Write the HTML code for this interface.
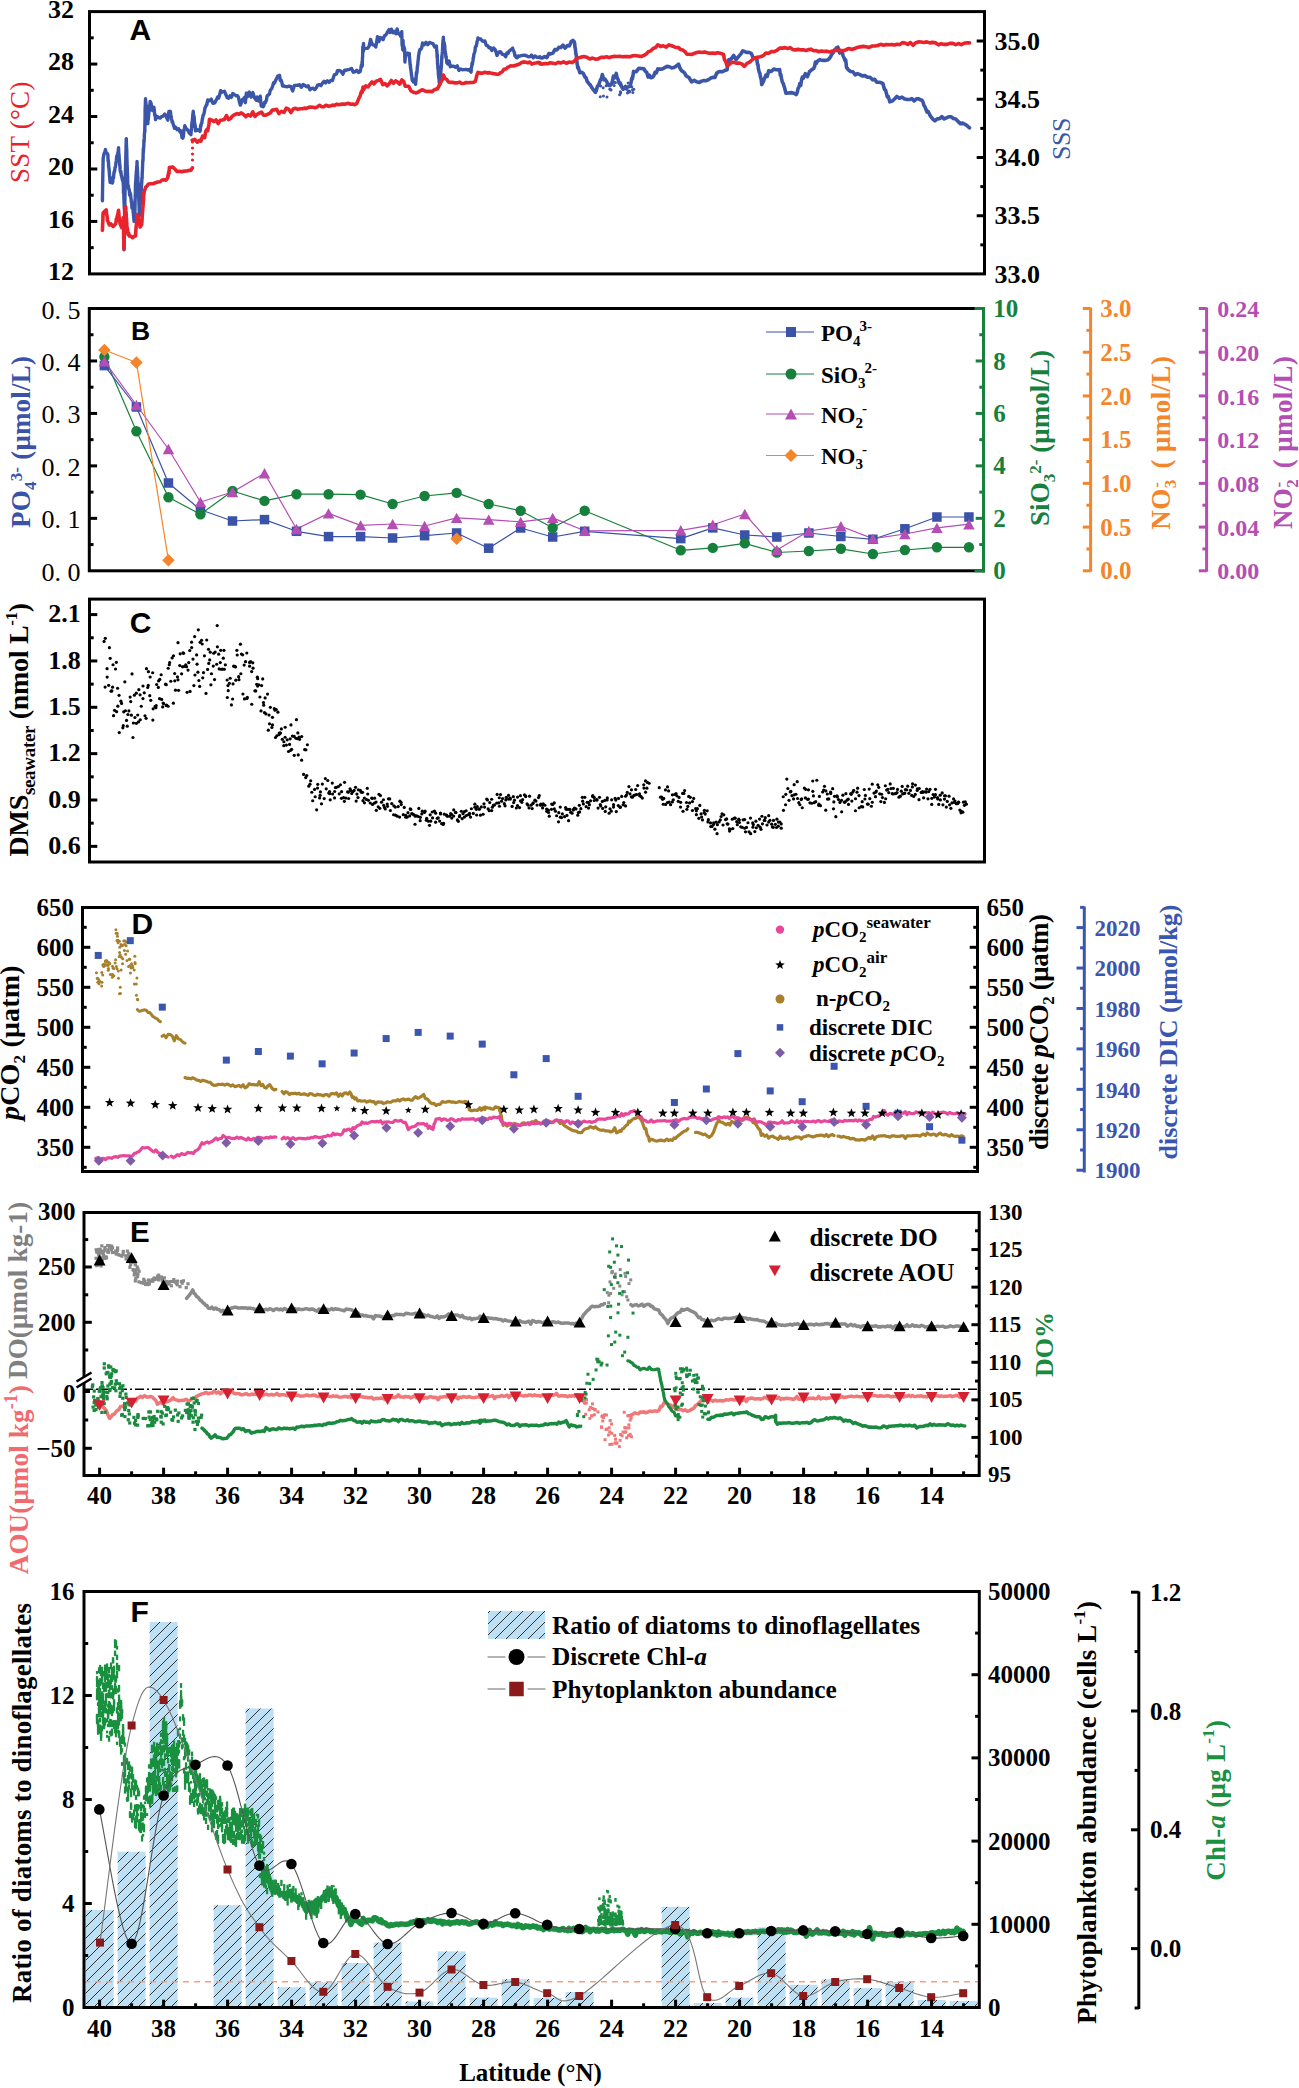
<!DOCTYPE html>
<html><head><meta charset="utf-8"><style>
html,body{margin:0;padding:0;background:#fff;}
svg{display:block;}
</style></head><body>
<svg width="1299" height="2088" viewBox="0 0 1299 2088">
<rect width="1299" height="2088" fill="#fff"/>
<polyline points="102.39,199.87 102.42,196.6 102.45,200.73 102.48,195.65 102.5,193.16 102.53,191.74 102.56,190.41 102.59,187.48 102.62,186.34 102.65,185.03 102.68,182.3 102.71,181.31 102.74,179.62 102.77,178.29 102.8,175.54 102.83,174.68 102.86,173.83 102.89,170.75 102.92,170.32 102.95,169.34 102.98,166.59 103.01,166.56 103.04,163.34 103.07,161.75 103.1,158.96 103.13,160.85 103.16,158.29 103.62,156.16 104.08,153.42 104.54,153.29 105,151.33 105.47,149.55 106.04,152.52 106.62,153.13 107.2,153.46 107.78,154.42 107.92,155.64 108.06,160.92 108.21,159.64 108.35,162.08 108.5,161.72 108.64,166.79 108.79,166.23 108.93,169.11 109.07,168.59 109.22,171.33 109.36,172.92 109.51,175.68 109.65,176.68 109.8,178.26 109.94,179.92 110.08,182.28 112.39,182.98 112.68,182 112.97,178.74 113.26,176.53 113.55,177.88 113.84,174.06 114.13,171.83 114.41,171.87 114.7,170.54 115.02,167.58 115.35,167.16 115.67,165.21 115.99,162.37 116.31,160.75 116.63,157.53 116.95,155.63 117.27,156.97 117.59,155.19 117.91,152.45 118.23,151.58 118.55,147.67 118.68,151.24 118.81,153.68 118.94,154.04 119.07,156.06 119.19,156.76 119.32,160.1 119.45,159.92 119.58,162.92 119.71,165.71 119.84,164.56 119.96,166.43 120.09,169.44 120.48,172.4 120.86,171.43 121.25,175.22 121.63,176.35 122.15,178.72 122.66,180.77 123.17,180.03 123.24,183.74 123.32,185.15 123.39,183.34 123.46,192.68 123.54,191.14 123.61,192.18 123.68,192.97 123.76,193.33 123.83,195.22 123.9,199.52 123.98,197.25 124.05,202.58 124.12,203.09 124.2,204.71 124.27,207.12 124.34,209.12 124.42,208.28 124.49,208.73 124.56,213.4 124.64,213.46 124.71,215.75 124.68,217.97 124.64,218.04 124.61,219.94 124.57,222.86 124.54,223.05 124.5,226.16 124.47,226.17 124.43,231.22 124.4,229.77 124.36,231.75 124.33,232.64 124.29,235.15 124.26,236.75 124.22,236.19 124.19,237.8 124.15,241.49 124.12,241.62 124.08,245.54 124.05,245.51 124.01,246.06 123.98,249.22 123.94,248.37 123.97,249.72 124,248.56 124.03,245.86 124.06,244.88 124.09,242.46 124.12,246.23 124.15,240.12 124.18,239.15 124.21,238 124.24,237.1 124.27,231.43 124.3,230.74 124.33,230.92 124.36,229.18 124.39,227.95 124.42,225.68 124.45,227.43 124.48,223.14 124.52,220.67 124.55,221.9 124.58,218.62 124.61,214.36 124.64,214.69 124.67,210.42 124.7,212.1 124.73,210.82 124.76,209.75 124.79,206.48 124.82,204.76 124.85,205.29 124.88,202.5 124.91,198.82 124.94,199.25 124.97,194.19 125,194.14 125.03,192.56 125.06,191.62 125.09,190.86 125.12,188.79 125.15,187.02 125.18,184.45 125.21,183.64 125.24,179.28 125.27,180.59 125.3,180.16 125.33,176.6 125.36,174.61 125.39,173.89 125.42,173.28 125.45,172.27 125.48,168.16 125.52,172.54 125.56,170.36 125.6,164.07 125.64,162.09 125.68,160.63 125.72,159.8 125.76,160.88 125.81,155.69 125.85,155.7 125.89,154.29 125.93,151.24 125.97,151.49 126.01,150 126.05,147.77 126.09,144.32 126.13,144 126.17,143.89 126.21,139.62 126.25,138.88 126.31,138.77 126.36,140.97 126.42,143.55 126.47,145.96 126.53,145.26 126.58,148.07 126.64,148.87 126.69,148.59 126.75,157.41 126.8,150.7 126.86,157.56 126.91,158.27 126.97,160.02 127.02,160.3 127.08,165.3 127.13,165.73 127.19,167 127.24,168.07 127.3,166.92 127.35,169.91 127.41,173.43 127.46,174.58 127.52,176.16 127.57,178.12 127.63,175.93 127.68,181.95 127.74,183.02 127.79,184.53 128.25,185.43 128.71,189.22 129.18,189.32 129.64,195 130.1,192.61 130.36,194.8 130.61,194.61 130.87,198.15 131.13,199.13 131.38,202.31 131.64,201.6 131.9,207.91 132.15,206.16 132.41,207.69 132.74,208.48 133.07,210.89 133.4,213.98 133.73,217.58 134.06,221.38 134.39,217.53 134.72,219.62 134.75,219.05 134.79,217.1 134.82,216.11 134.86,213.4 134.89,212.51 134.93,211.5 134.96,209.49 135,205.86 135.03,206.82 135.07,203.54 135.1,200.22 135.14,200.14 135.17,199.08 135.21,198.46 135.24,195.35 135.28,194.87 135.31,197.16 135.35,192.28 135.38,188.66 135.42,189.59 135.45,186.39 135.49,185.44 135.61,181.74 135.73,185.45 135.84,179.76 135.96,177.37 136.08,175.03 136.2,174.83 136.32,171.24 136.44,171.14 136.55,170.7 136.67,167.52 136.79,165.75 136.91,166.73 137.03,161.54 137.11,165.67 137.2,166.02 137.29,168.11 137.37,168.49 137.46,171.11 137.54,173.06 137.63,175.2 137.71,176.98 137.8,176.31 137.88,179.16 137.97,182.05 138.05,182.13 138.14,183.59 138.23,184.84 138.31,183.74 138.4,194.44 138.48,192.3 138.57,191.6 138.62,196.03 138.68,195.5 138.73,197.33 138.79,199.73 138.84,200.95 138.9,203.04 138.95,204.39 139.01,203.96 139.06,207.38 139.12,208.85 139.17,210.68 139.23,213.42 139.28,214.43 139.34,215.98 139.42,214.99 139.51,213.32 139.59,211.39 139.68,201.61 139.77,202.33 139.85,208.31 139.94,203.85 140.02,199.34 140.11,200.65 140.28,204.48 140.45,196.02 140.62,192.12 140.79,193.5 140.96,193.62 141.13,191.88 141.31,189.07 141.48,186.41 141.65,183.6 141.73,182.83 141.81,179.98 141.89,180.14 141.97,177.39 142.05,177.26 142.13,178.16 142.21,173.69 142.3,172.11 142.38,170.08 142.46,169.37 142.54,166.51 142.62,164.79 142.7,161.19 142.78,160.21 142.86,160.85 142.94,159.06 143.02,160.96 143.11,155.8 143.19,152.48 143.3,148.51 143.41,152.13 143.52,147.68 143.63,148.24 143.74,146.33 143.85,143.22 143.96,139.53 144.07,142.33 144.18,139.94 144.29,138.38 144.4,133.98 144.51,133.71 144.62,132.28 144.73,131.73 144.77,129.18 144.8,128.82 144.84,125.55 144.88,131.73 144.92,121.99 144.96,121.13 145,120.06 145.03,117.91 145.07,119.57 145.11,107.93 145.15,111.55 145.19,113.06 145.23,110.31 145.27,105.62 145.3,106.06 145.34,104.48 145.38,103.63 145.42,102.58 145.46,100.2 145.5,98.7 145.65,100.56 145.8,102.7 145.96,103.08 146.11,104.99 146.27,105.26 146.42,107.9 146.57,109.65 146.73,110.61 146.88,114.23 147.04,114.68 147.19,114.7 147.34,119.35 147.5,120.47 147.65,120.51 147.81,123.65 147.98,120.5 148.16,119.95 148.34,118.36 148.52,116.94 148.69,114.63 148.87,112.61 149.05,111.55 149.23,110.38 149.4,108.01 149.58,107.3 149.76,104.78 149.94,105.87 150.12,101.42 150.58,102.59 151.04,103.17 151.5,106.06 151.96,107.96 152.42,110.56 153.19,109.19 153.96,107.38 154.22,110.06 154.48,112.17 154.73,115.3 154.99,114.48 155.25,115.91 155.5,119.67 157.04,116.49 158.58,117.53 160.12,118.11 161.66,116.54 163.2,116.07 164.74,114.03 166.28,116.74 167.82,120.15 168.4,114.44 168.98,111.38 169.55,112.86 170.13,114.69 170.46,111.32 170.79,114.78 171.12,116.2 171.45,118.34 171.78,120.02 172.11,122.14 172.44,121.36 173.47,125.09 174.49,128.3 175.52,127.11 177.06,129.66 178.6,128.74 180.14,132.17 180.6,130.57 181.06,132.49 181.52,133.59 181.99,137.61 182.45,137.17 182.83,138.13 183.22,137.05 183.6,133.83 183.99,129.72 184.37,129.36 184.76,125.68 186.3,128.85 187.84,130.12 189.38,133.15 190.92,134.64 191.08,132.69 191.25,130.27 191.41,130.27 191.58,129.08 191.74,123.86 191.91,124.04 192.07,121.62 192.24,121.75 192.4,119.62 192.57,117.53 192.73,115.81 192.9,113.66 193.06,113.12 193.23,111.29 193.42,114 193.61,114.95 193.8,115.54 194,116.09 194.19,117.49 194.38,120.85 194.57,122.7 194.77,123.26 194.96,127.15 195.15,127.45 195.34,125.75 195.54,130.9 197.77,129.68 200,131.34 200.21,130.66 200.43,127.86 200.64,125.33 200.85,126.52 201.32,123.39 201.78,123.2 202.24,119.55 202.7,117.79 203.16,115.03 203.62,114.65 204.09,113.31 204.55,110.67 205.01,107.77 205.47,107.04 205.93,106.14 206.4,104.77 206.86,104.87 207.32,101.83 207.78,99.94 209.51,100.83 211.25,99.16 212.98,103.38 214.71,102.86 215.7,100.9 216.69,99.33 217.68,97.01 218.67,97.99 219.66,94.48 220.65,90.73 221.64,92.35 223.02,91.59 224.41,91.31 225.8,94.46 227.18,97.69 228.57,98.2 229.95,95.85 231.34,97.34 232.72,93.5 234.11,94.48 235.49,95.35 236.48,95.89 237.47,95.67 238.46,97.11 239.45,102.22 240.44,105.12 241.43,102.63 242.42,99.39 243.41,99.68 244.4,97.44 245.39,102.68 246.38,93.07 247.37,96.75 248.36,93.36 249.35,92.07 251.08,97.12 252.82,92.6 254.55,97.85 256.28,100.29 257.27,97.02 258.26,100.87 259.25,101.17 260.24,96.17 261.23,106.08 262.22,106.25 263.21,106.69 263.84,105.56 264.47,102.58 265.1,103.05 265.73,101.3 266.36,100.54 266.99,96.41 267.62,95.33 268.25,95.07 268.88,94.31 269.51,94 270.14,90.71 271,89.35 271.87,88.32 272.73,85.83 273.6,82.8 274.47,83.18 275.33,81.04 276.2,79.19 277.06,77.53 277.93,75.88 278.8,75.88 279.54,75.25 280.28,80.53 281.02,79.99 281.77,82 282.51,85.98 283.25,85.39 283.99,86.19 285.73,86.57 287.46,86.72 289.19,86.13 290.92,86.73 292.65,90.91 294.39,85.4 296.12,85.39 297.85,85.3 299.58,84.72 301.31,87.23 303.05,84.58 304.78,85.39 306.51,86.68 308.24,85.71 309.97,89.81 311.71,88.35 313.25,88.31 314.79,89.56 316.33,87.72 317.86,84.89 319.4,84.75 320.94,85.62 322.48,83.14 324.02,81.25 325.56,82.94 327.3,80.81 329.03,82.35 330.76,80.48 332.49,80.52 333.48,77.31 334.47,74.62 335.46,74.38 336.45,73.98 337.44,70.69 338.43,70.79 339.42,70.51 341.15,71.46 342.88,74.2 344.62,70.16 346.35,70.21 348.08,69.68 349.81,69.33 351.54,68.41 353.28,72.22 355.01,71.81 356.74,70.32 358.47,72.41 360.2,71.45 360.78,68.52 361.36,65.17 361.94,66.38 362.11,61.08 362.28,65.8 362.46,57.27 362.63,56.84 362.8,46.65 362.98,50.4 363.15,49.58 363.32,51.58 363.5,43.41 363.67,47.74 365.05,48.59 366.44,48.42 367.83,48.3 369.21,45.81 370.6,39.44 372.33,44.58 374.06,45.06 375.79,46.96 377.53,36.79 378.91,41.56 380.3,37.5 381.68,38.09 383.07,39.8 384.45,35.85 386.19,34.55 387.92,31.37 389.07,29.59 390.23,32.51 391.38,29.14 393.11,32.81 394.85,31.31 396,33.74 397.16,28.92 398.31,33.65 399.47,34.02 400.62,36.14 401.77,31.68 402.09,45.52 402.4,41.29 402.72,49.81 403.03,40.33 403.35,49.88 403.66,50.74 403.98,46.6 404.29,50.86 404.61,48.77 404.92,62.07 405.24,57.71 406.39,53.99 407.55,53.1 408.7,54.72 408.91,53.73 409.11,53.84 409.31,53.48 409.52,57.97 409.72,59.25 409.93,62.19 410.13,64.89 410.33,64.6 410.54,68.2 410.74,68.46 410.94,70.71 411.15,71.61 411.35,73.75 411.56,75.71 411.76,76.29 411.96,77.81 412.17,80.03 413.32,81.88 414.48,79.5 415.63,84.25 415.81,81.06 416,80.4 416.18,76.4 416.36,72.55 416.54,74.71 416.73,71.76 416.91,72.78 417.09,70.3 417.27,67.63 417.45,65.8 417.64,65.78 417.82,63.68 418,61.28 418.18,59.84 418.37,58.62 418.55,55.89 418.73,54.62 418.91,54.62 419.1,52.5 419.96,49.35 420.83,49.25 421.69,47.84 422.56,43 424.29,44.66 426.02,42.35 427.76,44.73 429.49,42.4 431.22,43.01 432.95,43.56 434.68,47.09 436.42,46.08 436.52,48.75 436.62,48.92 436.72,51.23 436.82,50.32 436.93,53.05 437.03,54.14 437.13,57.56 437.23,55.89 437.33,54.6 437.44,60.52 437.54,63.66 437.64,63.61 437.74,64.46 437.84,67.45 437.94,69.16 438.05,68.99 438.15,67.06 438.36,75.05 438.58,74.76 438.8,78.14 439.01,77.72 439.23,82.22 439.45,83.46 439.66,84.48 439.88,83.66 440,84.05 440.11,81.87 440.23,81.38 440.34,77.8 440.46,78.79 440.57,74.74 440.69,76.72 440.8,71.9 440.92,71.06 441.04,69.67 441.15,68.11 441.27,65.82 441.38,67.07 441.5,63.51 441.61,60.66 441.73,58.91 441.84,56.16 441.96,58.21 442.07,54.16 442.19,53.29 442.31,52.17 442.42,51.13 442.54,48.58 442.65,47.05 442.77,43.64 442.88,44.14 443,39.99 443.11,46.33 443.23,39.2 443.34,37.25 443.58,41.42 443.81,42.27 444.04,43.18 444.27,43.32 444.5,47.03 444.73,45.38 444.96,50.88 445.19,51.21 445.42,52.63 445.65,53.85 445.89,57.03 446.12,56.5 446.35,58.75 446.58,59.83 446.81,62.86 447.96,64 449.12,61.11 450.27,66.72 452.01,66.22 453.74,66.2 455.47,67.15 457.2,65.83 458.93,70.43 460.67,69.04 462.4,69.68 464.13,69.59 465.86,69.4 467.59,69.98 469.33,69.57 471.06,72.15 471.37,67.95 471.69,66.85 472,63.23 472.32,64.6 472.63,62.37 472.95,60.7 473.26,57.81 473.58,57.1 473.89,54.15 474.21,53.48 474.52,52.54 474.96,51.08 475.39,46.92 475.82,46.29 476.25,46.28 476.69,43.92 477.12,41.63 477.55,39.97 477.99,37.86 479.37,39.17 480.76,38.91 482.14,40.86 483.53,41.34 484.91,40.97 486.3,45.59 487.69,45.7 489.07,47.91 490.46,47.75 491.84,50.48 493.58,48.01 495.31,49.85 497.04,55.42 498.77,52.22 500.5,51.63 502.24,54.23 503.97,54.62 505.7,56.66 506.85,52.88 508.01,53.46 509.16,51.02 510.32,50.18 511.47,49.34 512.63,48.13 513.21,50.31 513.78,51.04 514.36,52.55 514.94,55.85 515.51,55.43 516.09,57.54 517.25,57.69 518.4,56.01 519.56,56.25 521.29,55.47 523.02,55.39 524.75,55.15 526.48,55.82 528.22,56.68 529.95,56.65 531.62,55.08 533.3,57.79 534.97,55.96 536.65,57.18 538.32,57.29 539.99,56.77" fill="none" stroke="#3b56a8" stroke-width="3.4" stroke-linejoin="round" stroke-linecap="round" />
<polyline points="540,57.68 542.31,58.04 544.62,56.58 546.93,57.53 548.91,53.56 550.89,53.85 552.87,53.16 554.85,49.57 556.83,50.01 558.81,47.41 560.78,47.53 562.95,45.1 565.12,48.08 567.28,45.55 569.45,45.91 571.18,41.74 572.91,40.4 573.78,41.06 574.64,43.09 574.96,47.27 575.27,48.12 575.59,50.92 575.9,54.15 576.22,54.71 576.53,57.68 576.85,60.6 577.16,64.19 577.48,65.66 577.79,68.01 578.11,66.74 579.84,72.65 581.57,72.28 583.3,73.56 585.03,77.1 586.07,77.75 587.11,81.29 588.15,82.43 589.19,84.16 590.23,84.77 591.96,87.94 593.69,90.07 595.43,92.38 596.42,90.25 597.41,86.17 598.4,85.52 599.39,83.02 600.38,80.04 601.37,78.62 602.35,74.52 603.74,79.85 605.13,79.15 606.51,81.16 607.9,84.94 609.28,85.57 610.67,85.15 612.05,82.86 613.44,76.17 614.83,77.76 616.21,73.47 617.2,77.9 618.19,79.63 619.18,83.19 620.17,82.82 621.16,85.25 622.15,87.72 623.14,89.2 625.45,86.68 627.76,87.1 630.07,86.36 630.65,83.96 631.22,81.39 631.8,78.37 632.38,78.73 632.96,75.93 633.53,71.42 636.13,71.79 638.73,68.42 641.33,68.5 643.92,68.89 645.31,71.27 646.7,72.2 648.08,77.09 649.47,75.18 650.85,77.76 652.24,77.25 653.62,76.12 655.01,72.31 656.4,72.87 657.78,68.92 660.09,69.12 662.4,68.94 664.71,67.59 667.02,66.39 669.33,66.76 671.64,67.92 673.95,67.5 676.26,66.11 678.57,64.16 680.05,68.28 681.54,70.68 683.02,71.63 684.51,72.89 685.99,75.52 687.47,76.75 688.96,77.48 691.56,81.91 694.16,80.3 696.75,81.86 699.35,82.54 701.66,81.13 703.97,80.51 706.28,80.7 708.59,79.64 710.9,78.05 713.21,77.33 714.94,77.52 716.67,73.3 718.4,72 720.14,71.49 722.45,71.8 724.76,70.46 727.06,69.7 727.5,66.19 727.93,64.05 728.36,62.21 728.8,59.63 731.22,58.91 733.65,55.48 736.07,59.61 738.5,56.68 740.92,53.83 742.65,50.81 744.39,51.49 746.7,52.46 749,52.42 751.31,53.37 753.05,57.6 754.78,57.69 756.51,57.84 756.98,60.42 757.45,64.24 757.93,64.44 758.4,68.61 758.87,70.62 759.34,72.66 759.82,72.99 760.29,76.02 760.76,78.09 761.23,79.29 761.71,84.57 763.09,82.05 764.48,78.57 765.86,75.09 767.25,76.42 768.63,70.83 771.23,71.46 773.83,69.12 776.43,69.68 779.03,69.88 779.66,69.67 780.29,75.08 780.92,74.95 781.55,78.61 782.18,81.41 782.81,82.71 783.44,84.18 784.07,86.17 784.7,88.32 785.33,90.78 785.96,93.31 788.55,92.97 791.15,92.63 793.75,93.22 796.35,94.55 797.21,92.38 798.08,88.27 798.95,87.19 799.81,83.62 800.68,85.38 801.54,80.24 802.41,77.06 803.28,78.21 805.35,73.68 807.43,76.68 809.51,71.66 811.59,69.86 813.67,68.45 814.53,66.54 815.4,62.09 816.27,63.56 817.13,61.57 819.73,59.65 822.33,60.38 824.93,60.41 827.53,60.05 829.01,58.86 830.49,56.82 831.98,54.02 833.46,52.27 834.95,49.44 836.43,47.94 837.92,47.24 839.65,53.05 841.38,50.92 842.25,52.56 843.11,55.94 843.98,57.71 844.85,60.03 845.71,59.92 846.58,67.92 847.44,68.35 848.31,69.84 850.62,71.53 852.93,71.74 855.24,74.85 857.55,73.65 859.86,74.6 862.17,75.88 864.77,75.66 867.36,77.09 869.96,77.3 872.56,79.82 874.64,79.21 876.72,82.16 878.8,82.25 880.87,82.56 882.95,83.64 883.82,87.1 884.68,89.62 885.55,90.05 886.42,93.42 887.28,96.92 888.15,96.35 889.01,99.03 889.88,101.87 892.19,101.15 894.5,99 896.81,96.47 899.41,98.23 902.01,97.1 904.6,99.02 907.2,99.37 909.51,99.53 911.82,98.53 914.13,100.97 916.44,98.86 918.75,98.88 921.06,100.04 922.05,100.27 923.04,102.21 924.03,105.52 925.02,106.83 926.01,109.53 927,112.01 927.99,111.29 930.3,115.83 932.61,118.83 934.91,120.77 937.22,118.86 939.53,118.78 941.84,116.62 944.15,118.93 946.46,117.87 948.77,116.75 951.08,116.75 953.39,118.51 955.7,119.07 958.01,121.37 960.32,123.75 962.63,123.05 964.94,124.25 967.25,125.85 969.56,127.78" fill="none" stroke="#3b56a8" stroke-width="3.6" stroke-linejoin="round" stroke-linecap="round" />
<circle cx="626.48" cy="89.32" r="1.5" fill="#3b56a8"/>
<circle cx="600.66" cy="85.88" r="1.5" fill="#3b56a8"/>
<circle cx="603.41" cy="95.97" r="1.5" fill="#3b56a8"/>
<circle cx="629.45" cy="92.04" r="1.5" fill="#3b56a8"/>
<circle cx="628.1" cy="90.82" r="1.5" fill="#3b56a8"/>
<circle cx="607.01" cy="96.96" r="1.5" fill="#3b56a8"/>
<circle cx="625.41" cy="86.03" r="1.5" fill="#3b56a8"/>
<circle cx="613.99" cy="82.37" r="1.5" fill="#3b56a8"/>
<circle cx="633.8" cy="89.31" r="1.5" fill="#3b56a8"/>
<circle cx="615.42" cy="82.47" r="1.5" fill="#3b56a8"/>
<circle cx="628.14" cy="83.12" r="1.5" fill="#3b56a8"/>
<circle cx="620.34" cy="91.67" r="1.5" fill="#3b56a8"/>
<circle cx="619.6" cy="94.64" r="1.5" fill="#3b56a8"/>
<circle cx="632.83" cy="92.39" r="1.5" fill="#3b56a8"/>
<circle cx="614.15" cy="85.44" r="1.5" fill="#3b56a8"/>
<circle cx="632.49" cy="89.75" r="1.5" fill="#3b56a8"/>
<circle cx="610.99" cy="89.92" r="1.5" fill="#3b56a8"/>
<circle cx="609.21" cy="83.96" r="1.5" fill="#3b56a8"/>
<circle cx="620.49" cy="85.17" r="1.5" fill="#3b56a8"/>
<circle cx="627.49" cy="92.91" r="1.5" fill="#3b56a8"/>
<circle cx="609.93" cy="89.03" r="1.5" fill="#3b56a8"/>
<circle cx="631.75" cy="86.72" r="1.5" fill="#3b56a8"/>
<circle cx="610.08" cy="89.25" r="1.5" fill="#3b56a8"/>
<circle cx="606.16" cy="85.73" r="1.5" fill="#3b56a8"/>
<circle cx="629.55" cy="91.13" r="1.5" fill="#3b56a8"/>
<circle cx="620.71" cy="92.9" r="1.5" fill="#3b56a8"/>
<circle cx="603.17" cy="87.77" r="1.5" fill="#3b56a8"/>
<circle cx="600.29" cy="96.87" r="1.5" fill="#3b56a8"/>
<polyline points="102.39,230.3 102.47,229.71 102.56,226.28 102.64,223.1 102.73,223 102.81,221.48 102.9,219 102.99,215.21 103.07,214.72 103.16,212.71 106.24,209.91 106.54,214.28 106.85,215.09 107.16,216.69 107.47,220.59 107.78,220.78 109.31,225 110.85,223.81 113.16,226.47 115.47,224.02 115.91,223.07 116.35,219 116.79,218.73 117.23,216.27 117.67,215.2 118.11,212.84 118.55,210.34 118.81,212.89 119.07,216.75 119.32,217.63 119.58,220.54 119.84,221.88 120.09,223.5 121.63,227.48 122.02,225.81 122.4,223.28 122.79,220.75 123.17,219.55 123.23,217.61 123.29,222.8 123.35,224.43 123.41,227.05 123.47,229.51 123.53,229.9 123.59,232.11 123.65,235.92 123.7,239.83 123.76,238.11 123.82,239.73 123.88,241.89 123.94,249.01 124.02,242.21 124.1,241.84 124.17,239.18 124.25,237.19 124.33,235.05 124.4,234.03 124.48,231.58 124.56,227.93 124.63,226.25 124.71,224.15 124.79,223.94 124.87,220.9 124.94,217.4 125.02,217.65 125.1,214.66 125.17,214.47 125.25,210.62 125.33,209.23 125.4,206.71 125.48,206.64 125.62,206.63 125.76,208.45 125.9,210.93 126.04,212.14 126.18,214.46 126.32,218.23 126.46,218.37 126.6,221.35 126.74,222.83 126.88,227.23 127.02,226.97 127.6,229.84 128.18,234.56 128.75,233.3 129.33,236.03 130.87,236.27 132.41,237.68 133.95,236.57 135.49,235.8 135.64,233.14 135.8,231.04 135.95,229.14 136.1,227.36 136.26,225.41 136.41,224.88 136.57,221.1 136.72,220.36 136.87,217.11 137.03,214.57 138.57,219.04 138.95,220.57 139.34,223.55 139.72,223.99 140.11,227.08 141.65,224.77 141.79,223.22 141.94,221.25 142.08,218.73 142.22,215.81 142.37,213.94 142.51,211.74 142.66,211.48 142.8,207.97 142.95,207.03 143.09,204.62 143.24,203.34 143.38,199.31 143.52,200.57 143.67,192.88 143.81,195.26 143.96,193.51 144.53,189.96 145.11,189.35 145.69,187.14 146.27,186.8 148.58,183.92 150.89,183.71 153.19,183.75 155.5,182.7 157.81,181.99 160.12,181.77 162.05,179.94 163.97,179.86 165.9,180.26 167.82,177.69 168.13,174.57 168.44,175.33 168.75,171.76 169.05,173.3 169.36,167.51 172.44,166.92 174.75,168.87 177.06,171.48 179.37,171.33 181.68,171.65 184.24,171.13 186.81,170.99 189.38,170.35 190.92,170.2 192.46,167.82" fill="none" stroke="#e8232b" stroke-width="3.6" stroke-linejoin="round" stroke-linecap="round" />
<circle cx="192.5" cy="142" r="1.6" fill="#e8232b"/>
<circle cx="192.5" cy="148" r="1.6" fill="#e8232b"/>
<circle cx="192.5" cy="154" r="1.6" fill="#e8232b"/>
<circle cx="192.5" cy="160" r="1.6" fill="#e8232b"/>
<polyline points="192.19,140.27 194.79,139.41 197.39,142.18 199.12,140.4 200.85,141.26 202.59,136.1 203.62,137.54 204.66,137.65 205.7,131.46 206.74,129.7 207.78,130.7 208.21,127.87 208.65,125.83 209.08,123.3 209.51,119.21 211.68,120.08 213.84,121.59 216.01,119.99 218.17,123.61 220.25,120.28 222.33,120.03 224.41,119.44 226.49,115.64 228.57,119.59 230.65,118.46 232.72,115.74 234.8,114.58 236.88,113.61 238.96,114.24 241.27,112.86 243.58,114.48 245.89,116.78 248.2,114.7 250.51,116 252.82,111.93 254.98,116.45 257.15,114.33 259.31,113.12 261.48,112.05 263.64,115.23 265.81,115.13 267.97,114.1 270.14,113.14 272.3,110.06 274.47,109.87 276.63,109.22 278.8,113.54 281.4,111.31 283.99,112.38 286.3,108.15 288.61,109.06 290.92,112.5 293.23,109.08 295.54,108.3 297.85,109.38 300.01,108.79 302.18,108.8 304.35,108.11 306.51,108.38 308.68,107.38 310.84,107.14 313.01,107.29 315.17,107.81 317.34,106.86 319.5,105.31 321.67,106.72 323.83,106.71 326,105.24 328.16,106.15 330.33,106.03 332.49,105.07 334.51,105.53 336.53,104.15 338.55,104.63 340.57,104.38 342.6,104.04 344.62,104.15 346.64,103.71 348.66,103.31 350.68,104.31 352.7,104.09 354.72,104.66 356.74,103.44 357.9,100.85 359.05,97.86 360.2,95.93 360.9,93.04 361.59,91.39 362.28,92.35 362.98,86.94 363.67,89.75 365.75,85.97 367.83,87.01 369.9,84.4 371.98,81.89 374.06,83.85 376.23,81.21 378.39,80.37 380.56,79.4 382.72,84.56 384.89,83.59 387.05,85.84 389.22,83.77 391.38,80.47 393.46,83.29 395.54,80.92 397.62,82.15 399.7,84.08 401.77,79.93 403.51,81.16 405.24,86.28 406.97,86.2 408.7,86.2 411.01,91.01 413.32,92.17 415.63,92.91 417.94,92.31 420.25,90.68 422.56,89.79 424.87,90.97 427.18,91.53 429.49,91.23 431.8,91.79 434.11,89.87 436.42,89 437.46,88.9 438.49,86.88 439.53,84.92 440.57,82.46 441.61,80.94 442.48,79.48 443.34,74.98 445.08,78.48 446.81,79.47 448.54,81.98 450.27,82.4 452.58,82.25 454.89,82.91 457.2,82.89 459.51,82.17 461.82,83.48 464.13,83.25 466.21,82.57 468.29,82.79 470.37,82.52 472.44,82.45 474.52,82.02 475.21,81.4 475.91,79.18 476.6,76.29 477.29,74.04 477.99,72.4 480.3,73.08 482.61,73.14 484.91,72.29 487.22,72.9 489.53,72.62 491.84,73.39 494.15,73.76 496.46,74.11 498.77,74.18 500.5,72.71 502.24,71.72 503.97,69.31 505.7,68.89 508.01,67.33 510.32,65.92 512.63,65.95 514.94,65.64 517.25,64.74 519.56,63.93 521.6,62.51 523.64,61.86 525.69,62.22 527.73,62.82 529.78,61.97 531.82,64.11 533.86,63.34 535.91,62.96 537.95,62.37 539.99,62.66" fill="none" stroke="#e8232b" stroke-width="3.6" stroke-linejoin="round" stroke-linecap="round" />
<polyline points="540,63.99 542.6,64.1 545.2,63.55 547.79,63.78 550.39,62.78 552.99,63.22 555.59,63.74 558.19,62.37 560.78,63 563.56,61.86 566.33,63.26 569.1,62.05 571.87,62.59 574.64,61.04 576.37,58.63 578.11,57.94 580.99,57.12 583.88,56.54 586.77,57.28 589.65,58.89 592.54,58.11 595.43,59.16 598.2,58.91 600.97,57.27 603.74,57.41 606.51,56.79 609.28,57.65 611.88,56.76 614.48,56.4 617.08,56.47 619.68,56.31 622.27,56.76 624.87,56.64 627.47,56.63 630.07,56.74 632.84,55.79 635.61,55.67 638.38,55.96 641.15,56.48 643.92,55.4 646.23,54.01 648.54,51.62 650.85,50.87 653.16,48.47 655.47,47.67 657.78,44.75 660.55,46.38 663.32,45.72 666.1,47.18 668.87,44.85 671.64,45.77 675.1,47.2 678.57,47.61 680.65,49.6 682.72,50.02 684.8,51.4 686.88,54.22 688.96,54.21 691.56,54.47 694.16,53.41 696.75,52.44 699.35,51.97 701.95,52.44 704.55,51.91 707.15,52.65 709.74,53.25 712.34,53.04 714.94,53.4 717.54,52.67 720.14,53.18 723.6,54.44 724.47,59.81 725.33,60.68 726.2,62.78 727.06,65.87 729.37,64.29 731.68,62.21 733.99,62.36 736.59,63.16 739.19,63.08 741.79,63.87 744.39,66.35 746.98,63.33 749.58,62.15 752.18,59.71 754.78,57.78 757.55,57.31 760.32,56.78 763.09,55.79 765.86,53.17 768.63,53.29 771.41,51.62 774.18,51.67 776.95,50.46 779.72,48.03 782.49,48.12 785.09,47.62 787.69,48.49 790.29,47.64 792.88,49.61 795.48,49.88 798.08,49.37 800.68,49.84 803.28,49.78 805.87,50.51 808.47,49.63 811.07,49.16 813.67,50.8 816.27,50.66 818.87,51.72 821.46,50.9 824.06,51.48 826.66,51.11 829.26,51.97 831.86,51.15 834.45,50.5 837.34,50.13 840.23,50.4 843.11,50.88 846,49.76 848.89,48.45 851.77,49.5 854.66,48.52 857.55,47.33 860.44,46.88 863.32,46.38 866.21,46.72 869.1,47.46 871.98,46.06 874.87,46.03 877.76,45.49 880.64,44.35 883.53,45.19 886.42,44.43 889.08,44.78 891.75,44.6 894.41,45 897.08,44.2 899.74,44.59 902.4,42.66 905.07,42.99 907.73,44.43 910.4,42.53 913.06,45.27 915.73,42.75 918.39,41.92 921.06,42.01 923.94,42.44 926.83,41.88 929.72,42.85 932.61,42.37 935.49,42.84 938.38,44.89 941.27,43.67 944.15,44.4 947.04,44.38 949.93,43.35 952.81,43.42 955.7,44.65 958.47,43.55 961.24,44.62 964.01,43.27 966.78,42.77 969.56,42.91" fill="none" stroke="#e8232b" stroke-width="3.6" stroke-linejoin="round" stroke-linecap="round" />
<rect x="89.5" y="11.6" width="895.0" height="262.29999999999995" fill="none" stroke="#000" stroke-width="3"/>
<line x1="89.5" y1="64.06" x2="97.3" y2="64.06" stroke="#000" stroke-width="3" />
<line x1="89.5" y1="116.52" x2="97.3" y2="116.52" stroke="#000" stroke-width="3" />
<line x1="89.5" y1="168.98" x2="97.3" y2="168.98" stroke="#000" stroke-width="3" />
<line x1="89.5" y1="221.44" x2="97.3" y2="221.44" stroke="#000" stroke-width="3" />
<line x1="89.5" y1="37.83" x2="93.7" y2="37.83" stroke="#000" stroke-width="3" />
<line x1="89.5" y1="90.29" x2="93.7" y2="90.29" stroke="#000" stroke-width="3" />
<line x1="89.5" y1="142.75" x2="93.7" y2="142.75" stroke="#000" stroke-width="3" />
<line x1="89.5" y1="195.21" x2="93.7" y2="195.21" stroke="#000" stroke-width="3" />
<line x1="89.5" y1="247.67" x2="93.7" y2="247.67" stroke="#000" stroke-width="3" />
<text x="74" y="18" font-family="Liberation Serif" font-size="26" font-weight="bold" fill="#000" text-anchor="end" >32</text>
<text x="74" y="70.46" font-family="Liberation Serif" font-size="26" font-weight="bold" fill="#000" text-anchor="end" >28</text>
<text x="74" y="122.92" font-family="Liberation Serif" font-size="26" font-weight="bold" fill="#000" text-anchor="end" >24</text>
<text x="74" y="175.38" font-family="Liberation Serif" font-size="26" font-weight="bold" fill="#000" text-anchor="end" >20</text>
<text x="74" y="227.84" font-family="Liberation Serif" font-size="26" font-weight="bold" fill="#000" text-anchor="end" >16</text>
<text x="74" y="280.3" font-family="Liberation Serif" font-size="26" font-weight="bold" fill="#000" text-anchor="end" >12</text>
<line x1="984.5" y1="41" x2="976.7" y2="41" stroke="#000" stroke-width="3" />
<line x1="984.5" y1="99.25" x2="976.7" y2="99.25" stroke="#000" stroke-width="3" />
<line x1="984.5" y1="157.5" x2="976.7" y2="157.5" stroke="#000" stroke-width="3" />
<line x1="984.5" y1="215.75" x2="976.7" y2="215.75" stroke="#000" stroke-width="3" />
<line x1="984.5" y1="70.12" x2="980.3" y2="70.12" stroke="#000" stroke-width="3" />
<line x1="984.5" y1="128.38" x2="980.3" y2="128.38" stroke="#000" stroke-width="3" />
<line x1="984.5" y1="186.62" x2="980.3" y2="186.62" stroke="#000" stroke-width="3" />
<line x1="984.5" y1="244.88" x2="980.3" y2="244.88" stroke="#000" stroke-width="3" />
<text x="994.4" y="49.6" font-family="Liberation Serif" font-size="26" font-weight="bold" fill="#000" text-anchor="start" >35.0</text>
<text x="994.4" y="107.85" font-family="Liberation Serif" font-size="26" font-weight="bold" fill="#000" text-anchor="start" >34.5</text>
<text x="994.4" y="166.1" font-family="Liberation Serif" font-size="26" font-weight="bold" fill="#000" text-anchor="start" >34.0</text>
<text x="994.4" y="224.35" font-family="Liberation Serif" font-size="26" font-weight="bold" fill="#000" text-anchor="start" >33.5</text>
<text x="994.4" y="282.6" font-family="Liberation Serif" font-size="26" font-weight="bold" fill="#000" text-anchor="start" >33.0</text>
<text x="129.5" y="40" font-family="Liberation Sans" font-size="30" font-weight="bold" fill="#000" text-anchor="start" >A</text>
<text transform="translate(29.3,132.3) rotate(-90)" x="0" y="0" font-family="Liberation Serif" font-size="27" font-weight="normal" fill="#e8232b" text-anchor="middle" textLength="101.4" lengthAdjust="spacing">SST (°C)</text>
<text transform="translate(1070,138.75) rotate(-90)" x="0" y="0" font-family="Liberation Serif" font-size="26" font-weight="normal" fill="#3b56a8" text-anchor="middle" textLength="42.5" lengthAdjust="spacing">SSS</text>
<polyline points="104.4,356.7 136.42,431.3 168.44,497.3 200.46,514.3 232.48,491 264.5,500.9 296.52,494.2 328.54,494.2 360.56,494.6 392.58,504 424.6,496 456.62,492.9 488.64,504 520.66,510.7 552.68,527.7 584.7,510.7 680.76,550.3 712.78,547.9 744.8,543.3 776.82,552.5 808.84,551 840.86,548.8 872.88,554 904.9,550 936.92,547.3 968.94,547.3" fill="none" stroke="#17803c" stroke-width="1.2" stroke-linejoin="round" stroke-linecap="round" />
<polyline points="104.4,365.6 136.42,407 168.44,483 200.46,509.8 232.48,521 264.5,519.6 296.52,531.3 328.54,536.6 360.56,536.6 392.58,538 424.6,535.7 456.62,533 488.64,548.2 520.66,528 552.68,537 584.7,531.3 680.76,538.6 712.78,527.9 744.8,535 776.82,537 808.84,533 840.86,536.5 872.88,539.3 904.9,528.8 936.92,517 968.94,517" fill="none" stroke="#3a52a8" stroke-width="1.2" stroke-linejoin="round" stroke-linecap="round" />
<polyline points="104.4,361.2 136.42,405 168.44,449 200.46,502 232.48,492 264.5,473.2 296.52,529 328.54,513.4 360.56,525.4 392.58,524 424.6,526 456.62,517.9 488.64,519.6 520.66,521.9 552.68,517.9 584.7,530.8 680.76,530.3 712.78,524.8 744.8,514 776.82,550 808.84,531 840.86,526.3 872.88,538.6 904.9,534 936.92,527.9 968.94,524.2" fill="none" stroke="#b44eb4" stroke-width="1.2" stroke-linejoin="round" stroke-linecap="round" />
<polyline points="104.4,350 136.42,362.5 168.44,560.3" fill="none" stroke="#f5852a" stroke-width="1.2" stroke-linejoin="round" stroke-linecap="round" />
<rect x="99.65" y="360.85" width="9.5" height="9.5" fill="#3a52a8"/>
<rect x="131.67" y="402.25" width="9.5" height="9.5" fill="#3a52a8"/>
<rect x="163.69" y="478.25" width="9.5" height="9.5" fill="#3a52a8"/>
<rect x="195.71" y="505.05" width="9.5" height="9.5" fill="#3a52a8"/>
<rect x="227.73" y="516.25" width="9.5" height="9.5" fill="#3a52a8"/>
<rect x="259.75" y="514.85" width="9.5" height="9.5" fill="#3a52a8"/>
<rect x="291.77" y="526.55" width="9.5" height="9.5" fill="#3a52a8"/>
<rect x="323.79" y="531.85" width="9.5" height="9.5" fill="#3a52a8"/>
<rect x="355.81" y="531.85" width="9.5" height="9.5" fill="#3a52a8"/>
<rect x="387.83" y="533.25" width="9.5" height="9.5" fill="#3a52a8"/>
<rect x="419.85" y="530.95" width="9.5" height="9.5" fill="#3a52a8"/>
<rect x="451.87" y="528.25" width="9.5" height="9.5" fill="#3a52a8"/>
<rect x="483.89" y="543.45" width="9.5" height="9.5" fill="#3a52a8"/>
<rect x="515.91" y="523.25" width="9.5" height="9.5" fill="#3a52a8"/>
<rect x="547.93" y="532.25" width="9.5" height="9.5" fill="#3a52a8"/>
<rect x="579.95" y="526.55" width="9.5" height="9.5" fill="#3a52a8"/>
<rect x="676.01" y="533.85" width="9.5" height="9.5" fill="#3a52a8"/>
<rect x="708.03" y="523.15" width="9.5" height="9.5" fill="#3a52a8"/>
<rect x="740.05" y="530.25" width="9.5" height="9.5" fill="#3a52a8"/>
<rect x="772.07" y="532.25" width="9.5" height="9.5" fill="#3a52a8"/>
<rect x="804.09" y="528.25" width="9.5" height="9.5" fill="#3a52a8"/>
<rect x="836.11" y="531.75" width="9.5" height="9.5" fill="#3a52a8"/>
<rect x="868.13" y="534.55" width="9.5" height="9.5" fill="#3a52a8"/>
<rect x="900.15" y="524.05" width="9.5" height="9.5" fill="#3a52a8"/>
<rect x="932.17" y="512.25" width="9.5" height="9.5" fill="#3a52a8"/>
<rect x="964.19" y="512.25" width="9.5" height="9.5" fill="#3a52a8"/>
<circle cx="104.4" cy="356.7" r="5.2" fill="#17803c"/>
<circle cx="136.42" cy="431.3" r="5.2" fill="#17803c"/>
<circle cx="168.44" cy="497.3" r="5.2" fill="#17803c"/>
<circle cx="200.46" cy="514.3" r="5.2" fill="#17803c"/>
<circle cx="232.48" cy="491" r="5.2" fill="#17803c"/>
<circle cx="264.5" cy="500.9" r="5.2" fill="#17803c"/>
<circle cx="296.52" cy="494.2" r="5.2" fill="#17803c"/>
<circle cx="328.54" cy="494.2" r="5.2" fill="#17803c"/>
<circle cx="360.56" cy="494.6" r="5.2" fill="#17803c"/>
<circle cx="392.58" cy="504" r="5.2" fill="#17803c"/>
<circle cx="424.6" cy="496" r="5.2" fill="#17803c"/>
<circle cx="456.62" cy="492.9" r="5.2" fill="#17803c"/>
<circle cx="488.64" cy="504" r="5.2" fill="#17803c"/>
<circle cx="520.66" cy="510.7" r="5.2" fill="#17803c"/>
<circle cx="552.68" cy="527.7" r="5.2" fill="#17803c"/>
<circle cx="584.7" cy="510.7" r="5.2" fill="#17803c"/>
<circle cx="680.76" cy="550.3" r="5.2" fill="#17803c"/>
<circle cx="712.78" cy="547.9" r="5.2" fill="#17803c"/>
<circle cx="744.8" cy="543.3" r="5.2" fill="#17803c"/>
<circle cx="776.82" cy="552.5" r="5.2" fill="#17803c"/>
<circle cx="808.84" cy="551" r="5.2" fill="#17803c"/>
<circle cx="840.86" cy="548.8" r="5.2" fill="#17803c"/>
<circle cx="872.88" cy="554" r="5.2" fill="#17803c"/>
<circle cx="904.9" cy="550" r="5.2" fill="#17803c"/>
<circle cx="936.92" cy="547.3" r="5.2" fill="#17803c"/>
<circle cx="968.94" cy="547.3" r="5.2" fill="#17803c"/>
<polygon points="98.65,366.38 110.15,366.38 104.4,356.02" fill="#b44eb4"/>
<polygon points="130.67,410.18 142.17,410.18 136.42,399.82" fill="#b44eb4"/>
<polygon points="162.69,454.18 174.19,454.18 168.44,443.82" fill="#b44eb4"/>
<polygon points="194.71,507.18 206.21,507.18 200.46,496.82" fill="#b44eb4"/>
<polygon points="226.73,497.18 238.23,497.18 232.48,486.82" fill="#b44eb4"/>
<polygon points="258.75,478.38 270.25,478.38 264.5,468.02" fill="#b44eb4"/>
<polygon points="290.77,534.17 302.27,534.17 296.52,523.83" fill="#b44eb4"/>
<polygon points="322.79,518.57 334.29,518.57 328.54,508.22" fill="#b44eb4"/>
<polygon points="354.81,530.57 366.31,530.57 360.56,520.23" fill="#b44eb4"/>
<polygon points="386.83,529.17 398.33,529.17 392.58,518.83" fill="#b44eb4"/>
<polygon points="418.85,531.17 430.35,531.17 424.6,520.83" fill="#b44eb4"/>
<polygon points="450.87,523.07 462.37,523.07 456.62,512.73" fill="#b44eb4"/>
<polygon points="482.89,524.77 494.39,524.77 488.64,514.43" fill="#b44eb4"/>
<polygon points="514.91,527.07 526.41,527.07 520.66,516.73" fill="#b44eb4"/>
<polygon points="546.93,523.07 558.43,523.07 552.68,512.73" fill="#b44eb4"/>
<polygon points="578.95,535.97 590.45,535.97 584.7,525.62" fill="#b44eb4"/>
<polygon points="675.01,535.47 686.51,535.47 680.76,525.12" fill="#b44eb4"/>
<polygon points="707.03,529.97 718.53,529.97 712.78,519.62" fill="#b44eb4"/>
<polygon points="739.05,519.17 750.55,519.17 744.8,508.82" fill="#b44eb4"/>
<polygon points="771.07,555.17 782.57,555.17 776.82,544.83" fill="#b44eb4"/>
<polygon points="803.09,536.17 814.59,536.17 808.84,525.83" fill="#b44eb4"/>
<polygon points="835.11,531.47 846.61,531.47 840.86,521.12" fill="#b44eb4"/>
<polygon points="867.13,543.77 878.63,543.77 872.88,533.43" fill="#b44eb4"/>
<polygon points="899.15,539.17 910.65,539.17 904.9,528.83" fill="#b44eb4"/>
<polygon points="931.17,533.07 942.67,533.07 936.92,522.73" fill="#b44eb4"/>
<polygon points="963.19,529.38 974.69,529.38 968.94,519.03" fill="#b44eb4"/>
<polygon points="104.4,343.75 110.65,350 104.4,356.25 98.15,350" fill="#f5852a"/>
<polygon points="136.42,356.25 142.67,362.5 136.42,368.75 130.17,362.5" fill="#f5852a"/>
<polygon points="168.44,554.05 174.69,560.3 168.44,566.55 162.19,560.3" fill="#f5852a"/>
<polygon points="456.62,532.55 462.87,538.8 456.62,545.05 450.37,538.8" fill="#f5852a"/>
<rect x="89.3" y="308.5" width="894.2" height="262.29999999999995" fill="none" stroke="#000" stroke-width="3"/>
<line x1="89.3" y1="360.96" x2="97.1" y2="360.96" stroke="#000" stroke-width="3" />
<line x1="89.3" y1="413.42" x2="97.1" y2="413.42" stroke="#000" stroke-width="3" />
<line x1="89.3" y1="465.88" x2="97.1" y2="465.88" stroke="#000" stroke-width="3" />
<line x1="89.3" y1="518.34" x2="97.1" y2="518.34" stroke="#000" stroke-width="3" />
<line x1="89.3" y1="334.73" x2="93.5" y2="334.73" stroke="#000" stroke-width="3" />
<line x1="89.3" y1="387.19" x2="93.5" y2="387.19" stroke="#000" stroke-width="3" />
<line x1="89.3" y1="439.65" x2="93.5" y2="439.65" stroke="#000" stroke-width="3" />
<line x1="89.3" y1="492.11" x2="93.5" y2="492.11" stroke="#000" stroke-width="3" />
<line x1="89.3" y1="544.57" x2="93.5" y2="544.57" stroke="#000" stroke-width="3" />
<text x="80.6" y="318.5" font-family="Liberation Serif" font-size="26" font-weight="normal" fill="#000" text-anchor="end" xml:space="preserve">0. 5</text>
<text x="80.6" y="370.96" font-family="Liberation Serif" font-size="26" font-weight="normal" fill="#000" text-anchor="end" xml:space="preserve">0. 4</text>
<text x="80.6" y="423.42" font-family="Liberation Serif" font-size="26" font-weight="normal" fill="#000" text-anchor="end" xml:space="preserve">0. 3</text>
<text x="80.6" y="475.88" font-family="Liberation Serif" font-size="26" font-weight="normal" fill="#000" text-anchor="end" xml:space="preserve">0. 2</text>
<text x="80.6" y="528.34" font-family="Liberation Serif" font-size="26" font-weight="normal" fill="#000" text-anchor="end" xml:space="preserve">0. 1</text>
<text x="80.6" y="580.8" font-family="Liberation Serif" font-size="26" font-weight="normal" fill="#000" text-anchor="end" xml:space="preserve">0. 0</text>
<line x1="983.5" y1="307" x2="983.5" y2="572.3" stroke="#17803c" stroke-width="3" />
<line x1="974.5" y1="308.5" x2="985" y2="308.5" stroke="#17803c" stroke-width="3" />
<line x1="974.5" y1="570.8" x2="985" y2="570.8" stroke="#17803c" stroke-width="3" />
<line x1="983.5" y1="360.96" x2="975.7" y2="360.96" stroke="#17803c" stroke-width="3" />
<line x1="983.5" y1="413.42" x2="975.7" y2="413.42" stroke="#17803c" stroke-width="3" />
<line x1="983.5" y1="465.88" x2="975.7" y2="465.88" stroke="#17803c" stroke-width="3" />
<line x1="983.5" y1="518.34" x2="975.7" y2="518.34" stroke="#17803c" stroke-width="3" />
<line x1="983.5" y1="334.73" x2="979.3" y2="334.73" stroke="#17803c" stroke-width="3" />
<line x1="983.5" y1="387.19" x2="979.3" y2="387.19" stroke="#17803c" stroke-width="3" />
<line x1="983.5" y1="439.65" x2="979.3" y2="439.65" stroke="#17803c" stroke-width="3" />
<line x1="983.5" y1="492.11" x2="979.3" y2="492.11" stroke="#17803c" stroke-width="3" />
<line x1="983.5" y1="544.57" x2="979.3" y2="544.57" stroke="#17803c" stroke-width="3" />
<text x="993.2" y="317.1" font-family="Liberation Serif" font-size="25" font-weight="bold" fill="#17803c" text-anchor="start" >10</text>
<text x="993.2" y="369.56" font-family="Liberation Serif" font-size="25" font-weight="bold" fill="#17803c" text-anchor="start" >8</text>
<text x="993.2" y="422.02" font-family="Liberation Serif" font-size="25" font-weight="bold" fill="#17803c" text-anchor="start" >6</text>
<text x="993.2" y="474.48" font-family="Liberation Serif" font-size="25" font-weight="bold" fill="#17803c" text-anchor="start" >4</text>
<text x="993.2" y="526.94" font-family="Liberation Serif" font-size="25" font-weight="bold" fill="#17803c" text-anchor="start" >2</text>
<text x="993.2" y="579.4" font-family="Liberation Serif" font-size="25" font-weight="bold" fill="#17803c" text-anchor="start" >0</text>
<line x1="1090.6" y1="307.5" x2="1090.6" y2="571.8" stroke="#f5852a" stroke-width="3" />
<line x1="1090.6" y1="308.5" x2="1082.8" y2="308.5" stroke="#f5852a" stroke-width="3" />
<line x1="1090.6" y1="352.22" x2="1082.8" y2="352.22" stroke="#f5852a" stroke-width="3" />
<line x1="1090.6" y1="395.93" x2="1082.8" y2="395.93" stroke="#f5852a" stroke-width="3" />
<line x1="1090.6" y1="439.65" x2="1082.8" y2="439.65" stroke="#f5852a" stroke-width="3" />
<line x1="1090.6" y1="483.37" x2="1082.8" y2="483.37" stroke="#f5852a" stroke-width="3" />
<line x1="1090.6" y1="527.08" x2="1082.8" y2="527.08" stroke="#f5852a" stroke-width="3" />
<line x1="1090.6" y1="570.8" x2="1082.8" y2="570.8" stroke="#f5852a" stroke-width="3" />
<line x1="1090.6" y1="330.36" x2="1086.4" y2="330.36" stroke="#f5852a" stroke-width="3" />
<line x1="1090.6" y1="374.07" x2="1086.4" y2="374.07" stroke="#f5852a" stroke-width="3" />
<line x1="1090.6" y1="417.79" x2="1086.4" y2="417.79" stroke="#f5852a" stroke-width="3" />
<line x1="1090.6" y1="461.51" x2="1086.4" y2="461.51" stroke="#f5852a" stroke-width="3" />
<line x1="1090.6" y1="505.22" x2="1086.4" y2="505.22" stroke="#f5852a" stroke-width="3" />
<line x1="1090.6" y1="548.94" x2="1086.4" y2="548.94" stroke="#f5852a" stroke-width="3" />
<text x="1100.3" y="317.1" font-family="Liberation Serif" font-size="25" font-weight="bold" fill="#f5852a" text-anchor="start" >3.0</text>
<text x="1100.3" y="360.82" font-family="Liberation Serif" font-size="25" font-weight="bold" fill="#f5852a" text-anchor="start" >2.5</text>
<text x="1100.3" y="404.53" font-family="Liberation Serif" font-size="25" font-weight="bold" fill="#f5852a" text-anchor="start" >2.0</text>
<text x="1100.3" y="448.25" font-family="Liberation Serif" font-size="25" font-weight="bold" fill="#f5852a" text-anchor="start" >1.5</text>
<text x="1100.3" y="491.97" font-family="Liberation Serif" font-size="25" font-weight="bold" fill="#f5852a" text-anchor="start" >1.0</text>
<text x="1100.3" y="535.68" font-family="Liberation Serif" font-size="25" font-weight="bold" fill="#f5852a" text-anchor="start" >0.5</text>
<text x="1100.3" y="579.4" font-family="Liberation Serif" font-size="25" font-weight="bold" fill="#f5852a" text-anchor="start" >0.0</text>
<line x1="1206.6" y1="307.5" x2="1206.6" y2="571.8" stroke="#b44eb4" stroke-width="3" />
<line x1="1206.6" y1="308.5" x2="1198.8" y2="308.5" stroke="#b44eb4" stroke-width="3" />
<line x1="1206.6" y1="352.22" x2="1198.8" y2="352.22" stroke="#b44eb4" stroke-width="3" />
<line x1="1206.6" y1="395.93" x2="1198.8" y2="395.93" stroke="#b44eb4" stroke-width="3" />
<line x1="1206.6" y1="439.65" x2="1198.8" y2="439.65" stroke="#b44eb4" stroke-width="3" />
<line x1="1206.6" y1="483.37" x2="1198.8" y2="483.37" stroke="#b44eb4" stroke-width="3" />
<line x1="1206.6" y1="527.08" x2="1198.8" y2="527.08" stroke="#b44eb4" stroke-width="3" />
<line x1="1206.6" y1="570.8" x2="1198.8" y2="570.8" stroke="#b44eb4" stroke-width="3" />
<line x1="1206.6" y1="330.36" x2="1202.4" y2="330.36" stroke="#b44eb4" stroke-width="3" />
<line x1="1206.6" y1="374.07" x2="1202.4" y2="374.07" stroke="#b44eb4" stroke-width="3" />
<line x1="1206.6" y1="417.79" x2="1202.4" y2="417.79" stroke="#b44eb4" stroke-width="3" />
<line x1="1206.6" y1="461.51" x2="1202.4" y2="461.51" stroke="#b44eb4" stroke-width="3" />
<line x1="1206.6" y1="505.22" x2="1202.4" y2="505.22" stroke="#b44eb4" stroke-width="3" />
<line x1="1206.6" y1="548.94" x2="1202.4" y2="548.94" stroke="#b44eb4" stroke-width="3" />
<text x="1217.3" y="317.1" font-family="Liberation Serif" font-size="24" font-weight="bold" fill="#b44eb4" text-anchor="start" >0.24</text>
<text x="1217.3" y="360.82" font-family="Liberation Serif" font-size="24" font-weight="bold" fill="#b44eb4" text-anchor="start" >0.20</text>
<text x="1217.3" y="404.53" font-family="Liberation Serif" font-size="24" font-weight="bold" fill="#b44eb4" text-anchor="start" >0.16</text>
<text x="1217.3" y="448.25" font-family="Liberation Serif" font-size="24" font-weight="bold" fill="#b44eb4" text-anchor="start" >0.12</text>
<text x="1217.3" y="491.97" font-family="Liberation Serif" font-size="24" font-weight="bold" fill="#b44eb4" text-anchor="start" >0.08</text>
<text x="1217.3" y="535.68" font-family="Liberation Serif" font-size="24" font-weight="bold" fill="#b44eb4" text-anchor="start" >0.04</text>
<text x="1217.3" y="579.4" font-family="Liberation Serif" font-size="24" font-weight="bold" fill="#b44eb4" text-anchor="start" >0.00</text>
<text x="131" y="340" font-family="Liberation Sans" font-size="26.5" font-weight="bold" fill="#000" text-anchor="start" >B</text>
<text transform="translate(29.6,442) rotate(-90)" x="0" y="0" font-family="Liberation Serif" font-size="27" font-weight="bold" fill="#3a52a8" text-anchor="middle" textLength="172" lengthAdjust="spacing">PO<tspan font-size="17" dy="6">4</tspan><tspan font-size="17" dy="-14">3-</tspan><tspan dy="8"> (μmol/L)</tspan></text>
<text transform="translate(1048.5,438) rotate(-90)" x="0" y="0" font-family="Liberation Serif" font-size="27" font-weight="bold" fill="#17803c" text-anchor="middle" textLength="176" lengthAdjust="spacing">SiO<tspan font-size="17" dy="6">3</tspan><tspan font-size="17" dy="-14">2-</tspan><tspan dy="8"> (μmol/L)</tspan></text>
<text transform="translate(1170,442.85) rotate(-90)" x="0" y="0" font-family="Liberation Serif" font-size="27" font-weight="bold" fill="#f5852a" text-anchor="middle" textLength="173.7" lengthAdjust="spacing">NO<tspan font-size="17" dy="6">3</tspan><tspan font-size="17" dy="-14" dx="-8.5">-</tspan><tspan dy="8" dx="6"> ( μmol/L)</tspan></text>
<text transform="translate(1292.4,442.55) rotate(-90)" x="0" y="0" font-family="Liberation Serif" font-size="27" font-weight="bold" fill="#b44eb4" text-anchor="middle" textLength="173.1" lengthAdjust="spacing">NO<tspan font-size="17" dy="6">2</tspan><tspan font-size="17" dy="-14" dx="-8.5">-</tspan><tspan dy="8" dx="6"> ( μmol/L)</tspan></text>
<line x1="766" y1="332" x2="814" y2="332" stroke="#3a52a8" stroke-width="1.2" />
<rect x="786" y="327" width="10" height="10" fill="#3a52a8"/>
<text x="821" y="340.5" font-family="Liberation Serif" font-size="23" font-weight="bold">PO<tspan font-size="15" dy="5">4</tspan><tspan font-size="15" dy="-15" dx="-1">3-</tspan></text>
<line x1="766" y1="374" x2="814" y2="374" stroke="#17803c" stroke-width="1.2" />
<circle cx="791" cy="374" r="5.5" fill="#17803c"/>
<text x="821" y="382.5" font-family="Liberation Serif" font-size="23" font-weight="bold">SiO<tspan font-size="15" dy="5">3</tspan><tspan font-size="15" dy="-15" dx="-1">2-</tspan></text>
<line x1="766" y1="414" x2="814" y2="414" stroke="#b44eb4" stroke-width="1.2" />
<polygon points="785,419.4 797,419.4 791,408.6" fill="#b44eb4"/>
<text x="821" y="422.5" font-family="Liberation Serif" font-size="23" font-weight="bold">NO<tspan font-size="15" dy="5">2</tspan><tspan font-size="15" dy="-15" dx="-1">-</tspan></text>
<line x1="766" y1="455.5" x2="814" y2="455.5" stroke="#f5852a" stroke-width="1.2" />
<polygon points="791,449 797.5,455.5 791,462 784.5,455.5" fill="#f5852a"/>
<text x="821" y="464.0" font-family="Liberation Serif" font-size="23" font-weight="bold">NO<tspan font-size="15" dy="5">3</tspan><tspan font-size="15" dy="-15" dx="-1">-</tspan></text>
<circle cx="104.05" cy="641.38" r="1.6"/>
<circle cx="105.3" cy="638.29" r="1.6"/>
<circle cx="105.13" cy="687.05" r="1.6"/>
<circle cx="107.06" cy="668.71" r="1.6"/>
<circle cx="107.14" cy="677.08" r="1.6"/>
<circle cx="108.65" cy="685.33" r="1.6"/>
<circle cx="109.41" cy="647.67" r="1.6"/>
<circle cx="110.2" cy="658.32" r="1.6"/>
<circle cx="111.07" cy="691.2" r="1.6"/>
<circle cx="111.86" cy="690.88" r="1.6"/>
<circle cx="112.58" cy="687.22" r="1.6"/>
<circle cx="113.04" cy="664.75" r="1.6"/>
<circle cx="113.55" cy="715.65" r="1.6"/>
<circle cx="114.57" cy="710.32" r="1.6"/>
<circle cx="115.52" cy="669.02" r="1.6"/>
<circle cx="116.62" cy="711.66" r="1.6"/>
<circle cx="116.36" cy="662.34" r="1.6"/>
<circle cx="117.84" cy="706.14" r="1.6"/>
<circle cx="117.6" cy="688.26" r="1.6"/>
<circle cx="119.04" cy="695.35" r="1.6"/>
<circle cx="119.27" cy="732.58" r="1.6"/>
<circle cx="120.92" cy="701.21" r="1.6"/>
<circle cx="121.57" cy="703.39" r="1.6"/>
<circle cx="122.82" cy="727.78" r="1.6"/>
<circle cx="123.25" cy="725.7" r="1.6"/>
<circle cx="123.72" cy="711.85" r="1.6"/>
<circle cx="125.41" cy="710.76" r="1.6"/>
<circle cx="124.85" cy="681.85" r="1.6"/>
<circle cx="126.58" cy="720.47" r="1.6"/>
<circle cx="127.26" cy="726.16" r="1.6"/>
<circle cx="127.93" cy="714.49" r="1.6"/>
<circle cx="128.9" cy="710.9" r="1.6"/>
<circle cx="130.14" cy="697.09" r="1.6"/>
<circle cx="130.73" cy="701.61" r="1.6"/>
<circle cx="131.38" cy="715.16" r="1.6"/>
<circle cx="132.03" cy="673.9" r="1.6"/>
<circle cx="133.41" cy="722.98" r="1.6"/>
<circle cx="132.94" cy="737.52" r="1.6"/>
<circle cx="134.39" cy="695.19" r="1.6"/>
<circle cx="134.94" cy="717.49" r="1.6"/>
<circle cx="136.29" cy="693.17" r="1.6"/>
<circle cx="136.34" cy="723.37" r="1.6"/>
<circle cx="137.72" cy="714.99" r="1.6"/>
<circle cx="138.81" cy="689.67" r="1.6"/>
<circle cx="138.49" cy="721.88" r="1.6"/>
<circle cx="140.27" cy="719.78" r="1.6"/>
<circle cx="140.09" cy="694.87" r="1.6"/>
<circle cx="141.27" cy="706.24" r="1.6"/>
<circle cx="142.95" cy="698.57" r="1.6"/>
<circle cx="143.01" cy="685.98" r="1.6"/>
<circle cx="144.25" cy="692.85" r="1.6"/>
<circle cx="145" cy="715.73" r="1.6"/>
<circle cx="146.09" cy="718.36" r="1.6"/>
<circle cx="146.46" cy="668.66" r="1.6"/>
<circle cx="147.71" cy="687.52" r="1.6"/>
<circle cx="148.43" cy="671.7" r="1.6"/>
<circle cx="148.26" cy="685.39" r="1.6"/>
<circle cx="150.16" cy="677.01" r="1.6"/>
<circle cx="149.79" cy="695.63" r="1.6"/>
<circle cx="150.74" cy="700.29" r="1.6"/>
<circle cx="152.67" cy="672.73" r="1.6"/>
<circle cx="152.83" cy="720.05" r="1.6"/>
<circle cx="153.15" cy="708.82" r="1.6"/>
<circle cx="155.02" cy="706.67" r="1.6"/>
<circle cx="155.92" cy="707.68" r="1.6"/>
<circle cx="156.18" cy="705.6" r="1.6"/>
<circle cx="156.63" cy="684.5" r="1.6"/>
<circle cx="158.34" cy="687.42" r="1.6"/>
<circle cx="158.59" cy="680.96" r="1.6"/>
<circle cx="159.58" cy="698.69" r="1.6"/>
<circle cx="159.83" cy="679.43" r="1.6"/>
<circle cx="161.17" cy="674.73" r="1.6"/>
<circle cx="161.69" cy="699.39" r="1.6"/>
<circle cx="162.64" cy="706.9" r="1.6"/>
<circle cx="163.12" cy="702.99" r="1.6"/>
<circle cx="163.61" cy="703.6" r="1.6"/>
<circle cx="165.58" cy="684.22" r="1.6"/>
<circle cx="166.18" cy="705.57" r="1.6"/>
<circle cx="166.22" cy="684.67" r="1.6"/>
<circle cx="166.57" cy="705.03" r="1.6"/>
<circle cx="168.2" cy="668.25" r="1.6"/>
<circle cx="168.12" cy="706.25" r="1.6"/>
<circle cx="169.3" cy="664.63" r="1.6"/>
<circle cx="169.67" cy="662.51" r="1.6"/>
<circle cx="170.81" cy="681.23" r="1.6"/>
<circle cx="172.13" cy="657.95" r="1.6"/>
<circle cx="173.49" cy="655.87" r="1.6"/>
<circle cx="173.37" cy="703.2" r="1.6"/>
<circle cx="174.78" cy="680.78" r="1.6"/>
<circle cx="174.67" cy="673.5" r="1.6"/>
<circle cx="175.47" cy="690.17" r="1.6"/>
<circle cx="177.49" cy="676.94" r="1.6"/>
<circle cx="178.02" cy="642.63" r="1.6"/>
<circle cx="177.99" cy="679.8" r="1.6"/>
<circle cx="178.56" cy="690.31" r="1.6"/>
<circle cx="179.79" cy="665.62" r="1.6"/>
<circle cx="180.18" cy="653.79" r="1.6"/>
<circle cx="181.59" cy="673.86" r="1.6"/>
<circle cx="183.06" cy="652.94" r="1.6"/>
<circle cx="182.5" cy="666.86" r="1.6"/>
<circle cx="183.58" cy="653.32" r="1.6"/>
<circle cx="184.09" cy="666.49" r="1.6"/>
<circle cx="185.78" cy="664.82" r="1.6"/>
<circle cx="187.09" cy="692.33" r="1.6"/>
<circle cx="186.49" cy="666.63" r="1.6"/>
<circle cx="188.02" cy="670.06" r="1.6"/>
<circle cx="188.75" cy="662.53" r="1.6"/>
<circle cx="190.06" cy="691.4" r="1.6"/>
<circle cx="189.76" cy="650.5" r="1.6"/>
<circle cx="191.66" cy="647.54" r="1.6"/>
<circle cx="191.61" cy="642.2" r="1.6"/>
<circle cx="193" cy="659.11" r="1.6"/>
<circle cx="193.9" cy="685.56" r="1.6"/>
<circle cx="194.64" cy="636.58" r="1.6"/>
<circle cx="194.98" cy="675.02" r="1.6"/>
<circle cx="196.62" cy="654.91" r="1.6"/>
<circle cx="197.05" cy="664.15" r="1.6"/>
<circle cx="197.92" cy="672.18" r="1.6"/>
<circle cx="198.32" cy="629.87" r="1.6"/>
<circle cx="198.86" cy="680.52" r="1.6"/>
<circle cx="199.7" cy="686.41" r="1.6"/>
<circle cx="200.11" cy="642.31" r="1.6"/>
<circle cx="201.57" cy="640.24" r="1.6"/>
<circle cx="202.2" cy="643.99" r="1.6"/>
<circle cx="202.74" cy="677.82" r="1.6"/>
<circle cx="203.51" cy="672.69" r="1.6"/>
<circle cx="204.43" cy="655.82" r="1.6"/>
<circle cx="206.01" cy="693.45" r="1.6"/>
<circle cx="206.73" cy="639.98" r="1.6"/>
<circle cx="207.63" cy="669.43" r="1.6"/>
<circle cx="208.5" cy="649.37" r="1.6"/>
<circle cx="208.76" cy="663.43" r="1.6"/>
<circle cx="209.7" cy="659.94" r="1.6"/>
<circle cx="210.27" cy="652.22" r="1.6"/>
<circle cx="210.91" cy="684.81" r="1.6"/>
<circle cx="211.47" cy="673.76" r="1.6"/>
<circle cx="213.26" cy="666.11" r="1.6"/>
<circle cx="213.71" cy="653.23" r="1.6"/>
<circle cx="215.15" cy="652.05" r="1.6"/>
<circle cx="214.55" cy="679.57" r="1.6"/>
<circle cx="216.65" cy="664.23" r="1.6"/>
<circle cx="217.21" cy="625.57" r="1.6"/>
<circle cx="217.4" cy="646.81" r="1.6"/>
<circle cx="218.66" cy="654.21" r="1.6"/>
<circle cx="219.2" cy="668.9" r="1.6"/>
<circle cx="220.29" cy="662.59" r="1.6"/>
<circle cx="220.7" cy="650.36" r="1.6"/>
<circle cx="221.21" cy="669.25" r="1.6"/>
<circle cx="222.63" cy="669.11" r="1.6"/>
<circle cx="223.93" cy="650.3" r="1.6"/>
<circle cx="223.29" cy="658.17" r="1.6"/>
<circle cx="224.34" cy="669.23" r="1.6"/>
<circle cx="225.34" cy="664.78" r="1.6"/>
<circle cx="227.13" cy="680" r="1.6"/>
<circle cx="227.95" cy="685.6" r="1.6"/>
<circle cx="227.34" cy="697.52" r="1.6"/>
<circle cx="228.21" cy="690.68" r="1.6"/>
<circle cx="229.39" cy="683.36" r="1.6"/>
<circle cx="230.18" cy="678.25" r="1.6"/>
<circle cx="231.42" cy="704.88" r="1.6"/>
<circle cx="232.62" cy="698.99" r="1.6"/>
<circle cx="233.03" cy="683.9" r="1.6"/>
<circle cx="233.67" cy="666.2" r="1.6"/>
<circle cx="234.81" cy="666.43" r="1.6"/>
<circle cx="235.48" cy="666.95" r="1.6"/>
<circle cx="235.83" cy="680.17" r="1.6"/>
<circle cx="236.88" cy="650.28" r="1.6"/>
<circle cx="237.2" cy="655.01" r="1.6"/>
<circle cx="238.96" cy="679.7" r="1.6"/>
<circle cx="238.66" cy="676.66" r="1.6"/>
<circle cx="240.43" cy="644.18" r="1.6"/>
<circle cx="241.44" cy="654.02" r="1.6"/>
<circle cx="240.85" cy="673.73" r="1.6"/>
<circle cx="242.94" cy="694" r="1.6"/>
<circle cx="242.68" cy="654.79" r="1.6"/>
<circle cx="244.46" cy="698.89" r="1.6"/>
<circle cx="244.14" cy="665.12" r="1.6"/>
<circle cx="245.55" cy="661.65" r="1.6"/>
<circle cx="246.8" cy="653.02" r="1.6"/>
<circle cx="246.93" cy="698.38" r="1.6"/>
<circle cx="247.3" cy="697.29" r="1.6"/>
<circle cx="249.56" cy="662.39" r="1.6"/>
<circle cx="249.6" cy="666.2" r="1.6"/>
<circle cx="250.57" cy="661.7" r="1.6"/>
<circle cx="251.74" cy="704.26" r="1.6"/>
<circle cx="251.67" cy="671.61" r="1.6"/>
<circle cx="252.76" cy="662.81" r="1.6"/>
<circle cx="253.04" cy="668.22" r="1.6"/>
<circle cx="254.9" cy="690.85" r="1.6"/>
<circle cx="255.72" cy="690.91" r="1.6"/>
<circle cx="256.69" cy="684.3" r="1.6"/>
<circle cx="257.34" cy="677.16" r="1.6"/>
<circle cx="257.63" cy="686.09" r="1.6"/>
<circle cx="257.69" cy="678.64" r="1.6"/>
<circle cx="258.74" cy="684.74" r="1.6"/>
<circle cx="259.93" cy="697.02" r="1.6"/>
<circle cx="261.59" cy="685.57" r="1.6"/>
<circle cx="261.01" cy="710.91" r="1.6"/>
<circle cx="262.73" cy="678.91" r="1.6"/>
<circle cx="263.52" cy="702.54" r="1.6"/>
<circle cx="263.69" cy="705.21" r="1.6"/>
<circle cx="264.5" cy="712.7" r="1.6"/>
<circle cx="265.08" cy="697.96" r="1.6"/>
<circle cx="265.99" cy="713.96" r="1.6"/>
<circle cx="267.55" cy="694.04" r="1.6"/>
<circle cx="268.3" cy="730.2" r="1.6"/>
<circle cx="269.05" cy="715.1" r="1.6"/>
<circle cx="269.5" cy="723.86" r="1.6"/>
<circle cx="270.32" cy="707.31" r="1.6"/>
<circle cx="271.9" cy="727.48" r="1.6"/>
<circle cx="272.45" cy="717.33" r="1.6"/>
<circle cx="272.5" cy="724.89" r="1.6"/>
<circle cx="274.28" cy="708.5" r="1.6"/>
<circle cx="274.97" cy="710.15" r="1.6"/>
<circle cx="275.49" cy="737.51" r="1.6"/>
<circle cx="276.25" cy="709.49" r="1.6"/>
<circle cx="276.83" cy="735.73" r="1.6"/>
<circle cx="277.92" cy="712.17" r="1.6"/>
<circle cx="279.06" cy="734.61" r="1.6"/>
<circle cx="279.25" cy="733.07" r="1.6"/>
<circle cx="280.17" cy="733.07" r="1.6"/>
<circle cx="280.38" cy="733.11" r="1.6"/>
<circle cx="281.38" cy="728.96" r="1.6"/>
<circle cx="282.33" cy="739.3" r="1.6"/>
<circle cx="283.9" cy="741.75" r="1.6"/>
<circle cx="283.82" cy="745.71" r="1.6"/>
<circle cx="285.21" cy="727.25" r="1.6"/>
<circle cx="285.12" cy="737.24" r="1.6"/>
<circle cx="286.39" cy="745.04" r="1.6"/>
<circle cx="287.22" cy="739.8" r="1.6"/>
<circle cx="288.5" cy="751.5" r="1.6"/>
<circle cx="289.56" cy="744.43" r="1.6"/>
<circle cx="290.16" cy="738.79" r="1.6"/>
<circle cx="290.66" cy="750.32" r="1.6"/>
<circle cx="290.95" cy="724.94" r="1.6"/>
<circle cx="291.61" cy="749.32" r="1.6"/>
<circle cx="292.36" cy="736.11" r="1.6"/>
<circle cx="294.21" cy="736.38" r="1.6"/>
<circle cx="294.23" cy="755.37" r="1.6"/>
<circle cx="295.91" cy="738.23" r="1.6"/>
<circle cx="296.43" cy="719.7" r="1.6"/>
<circle cx="297.46" cy="738.75" r="1.6"/>
<circle cx="298.22" cy="754.89" r="1.6"/>
<circle cx="297.84" cy="732.95" r="1.6"/>
<circle cx="299.1" cy="737.16" r="1.6"/>
<circle cx="299.58" cy="739.32" r="1.6"/>
<circle cx="301.63" cy="760.13" r="1.6"/>
<circle cx="301.71" cy="736.52" r="1.6"/>
<circle cx="303.6" cy="774.44" r="1.6"/>
<circle cx="304.66" cy="749.61" r="1.6"/>
<circle cx="305.71" cy="777.56" r="1.6"/>
<circle cx="305.94" cy="749.8" r="1.6"/>
<circle cx="306.78" cy="775.5" r="1.6"/>
<circle cx="307.39" cy="744.75" r="1.6"/>
<circle cx="308.79" cy="786.17" r="1.6"/>
<circle cx="310" cy="784.15" r="1.6"/>
<circle cx="310.7" cy="780.76" r="1.6"/>
<circle cx="311.8" cy="792.27" r="1.6"/>
<circle cx="312.71" cy="800.75" r="1.6"/>
<circle cx="314.54" cy="789.47" r="1.6"/>
<circle cx="315.16" cy="796.76" r="1.6"/>
<circle cx="316.63" cy="809.86" r="1.6"/>
<circle cx="317.73" cy="784.35" r="1.6"/>
<circle cx="317.53" cy="788.09" r="1.6"/>
<circle cx="319.58" cy="797.93" r="1.6"/>
<circle cx="320.11" cy="795.33" r="1.6"/>
<circle cx="320.41" cy="791.91" r="1.6"/>
<circle cx="321.49" cy="803.79" r="1.6"/>
<circle cx="322.36" cy="784.08" r="1.6"/>
<circle cx="324.17" cy="798.6" r="1.6"/>
<circle cx="325.38" cy="778.55" r="1.6"/>
<circle cx="326.22" cy="788.79" r="1.6"/>
<circle cx="327.79" cy="780.5" r="1.6"/>
<circle cx="328.76" cy="793.12" r="1.6"/>
<circle cx="329.59" cy="791.52" r="1.6"/>
<circle cx="329.8" cy="793.59" r="1.6"/>
<circle cx="330.23" cy="799.84" r="1.6"/>
<circle cx="332.61" cy="794" r="1.6"/>
<circle cx="332.29" cy="783.04" r="1.6"/>
<circle cx="334.64" cy="791.49" r="1.6"/>
<circle cx="334.54" cy="797.96" r="1.6"/>
<circle cx="335.45" cy="787.57" r="1.6"/>
<circle cx="336.25" cy="787.43" r="1.6"/>
<circle cx="338.3" cy="786.58" r="1.6"/>
<circle cx="339.21" cy="793.83" r="1.6"/>
<circle cx="340.44" cy="784.79" r="1.6"/>
<circle cx="341.45" cy="798.31" r="1.6"/>
<circle cx="341.57" cy="791.71" r="1.6"/>
<circle cx="343.6" cy="797.63" r="1.6"/>
<circle cx="344.35" cy="801.34" r="1.6"/>
<circle cx="344.55" cy="782.36" r="1.6"/>
<circle cx="345.88" cy="798.08" r="1.6"/>
<circle cx="347.59" cy="791.95" r="1.6"/>
<circle cx="348.64" cy="798.48" r="1.6"/>
<circle cx="348.47" cy="792.05" r="1.6"/>
<circle cx="350.07" cy="788.78" r="1.6"/>
<circle cx="350.56" cy="790.38" r="1.6"/>
<circle cx="351.77" cy="793.4" r="1.6"/>
<circle cx="352.91" cy="791.59" r="1.6"/>
<circle cx="354.14" cy="790.38" r="1.6"/>
<circle cx="355.54" cy="787.3" r="1.6"/>
<circle cx="356.15" cy="801.06" r="1.6"/>
<circle cx="356.95" cy="794.03" r="1.6"/>
<circle cx="358" cy="797.59" r="1.6"/>
<circle cx="358.31" cy="789.8" r="1.6"/>
<circle cx="360.37" cy="790.45" r="1.6"/>
<circle cx="361.23" cy="792.25" r="1.6"/>
<circle cx="362.54" cy="792.29" r="1.6"/>
<circle cx="362.96" cy="800.7" r="1.6"/>
<circle cx="364.34" cy="797.99" r="1.6"/>
<circle cx="364.45" cy="802.84" r="1.6"/>
<circle cx="366.39" cy="799.4" r="1.6"/>
<circle cx="367.28" cy="788.37" r="1.6"/>
<circle cx="367.72" cy="793.99" r="1.6"/>
<circle cx="368.45" cy="800.34" r="1.6"/>
<circle cx="370.24" cy="803.01" r="1.6"/>
<circle cx="371.76" cy="798.11" r="1.6"/>
<circle cx="372.49" cy="804.46" r="1.6"/>
<circle cx="372.23" cy="798.31" r="1.6"/>
<circle cx="374.47" cy="803.09" r="1.6"/>
<circle cx="374.61" cy="798.16" r="1.6"/>
<circle cx="376.1" cy="802.09" r="1.6"/>
<circle cx="376.31" cy="810.36" r="1.6"/>
<circle cx="378.21" cy="806.83" r="1.6"/>
<circle cx="378.99" cy="794.35" r="1.6"/>
<circle cx="379.8" cy="808.29" r="1.6"/>
<circle cx="380.42" cy="795.61" r="1.6"/>
<circle cx="381.55" cy="802.15" r="1.6"/>
<circle cx="383.65" cy="805.23" r="1.6"/>
<circle cx="383.43" cy="799.77" r="1.6"/>
<circle cx="384.44" cy="807.38" r="1.6"/>
<circle cx="385.26" cy="808.98" r="1.6"/>
<circle cx="387.21" cy="804" r="1.6"/>
<circle cx="387.49" cy="806.36" r="1.6"/>
<circle cx="388.46" cy="798.82" r="1.6"/>
<circle cx="389.72" cy="798.9" r="1.6"/>
<circle cx="390.37" cy="810.49" r="1.6"/>
<circle cx="391.77" cy="803.62" r="1.6"/>
<circle cx="393.57" cy="814.75" r="1.6"/>
<circle cx="393.85" cy="805.84" r="1.6"/>
<circle cx="395.28" cy="807.04" r="1.6"/>
<circle cx="395.46" cy="815.21" r="1.6"/>
<circle cx="397.25" cy="816.17" r="1.6"/>
<circle cx="398.2" cy="806.58" r="1.6"/>
<circle cx="399.62" cy="817.07" r="1.6"/>
<circle cx="399.9" cy="801.13" r="1.6"/>
<circle cx="401.02" cy="802.27" r="1.6"/>
<circle cx="401.28" cy="804.55" r="1.6"/>
<circle cx="403.3" cy="814.68" r="1.6"/>
<circle cx="404.23" cy="807.41" r="1.6"/>
<circle cx="405.7" cy="815.34" r="1.6"/>
<circle cx="405.78" cy="817.17" r="1.6"/>
<circle cx="407.26" cy="817.08" r="1.6"/>
<circle cx="407.97" cy="812.68" r="1.6"/>
<circle cx="409.63" cy="815.96" r="1.6"/>
<circle cx="410.79" cy="809.45" r="1.6"/>
<circle cx="410.21" cy="808.96" r="1.6"/>
<circle cx="411.72" cy="813.7" r="1.6"/>
<circle cx="412.74" cy="814.03" r="1.6"/>
<circle cx="414.07" cy="814.84" r="1.6"/>
<circle cx="414.99" cy="824.26" r="1.6"/>
<circle cx="415.27" cy="816.21" r="1.6"/>
<circle cx="416.67" cy="815.82" r="1.6"/>
<circle cx="418.33" cy="816.52" r="1.6"/>
<circle cx="418.8" cy="808.46" r="1.6"/>
<circle cx="420.17" cy="820.67" r="1.6"/>
<circle cx="420.33" cy="817.37" r="1.6"/>
<circle cx="421.79" cy="813.97" r="1.6"/>
<circle cx="422.3" cy="811.18" r="1.6"/>
<circle cx="424.45" cy="812.51" r="1.6"/>
<circle cx="425.04" cy="811.17" r="1.6"/>
<circle cx="426.31" cy="820.15" r="1.6"/>
<circle cx="426.71" cy="818.29" r="1.6"/>
<circle cx="428.32" cy="821.17" r="1.6"/>
<circle cx="429.5" cy="825.35" r="1.6"/>
<circle cx="430.16" cy="814.84" r="1.6"/>
<circle cx="430.76" cy="821.21" r="1.6"/>
<circle cx="432.57" cy="817.9" r="1.6"/>
<circle cx="432.24" cy="812.01" r="1.6"/>
<circle cx="434.47" cy="811.2" r="1.6"/>
<circle cx="435.6" cy="822.15" r="1.6"/>
<circle cx="435.67" cy="813.16" r="1.6"/>
<circle cx="437.23" cy="818.34" r="1.6"/>
<circle cx="438.23" cy="817.79" r="1.6"/>
<circle cx="439.65" cy="821.08" r="1.6"/>
<circle cx="440.57" cy="813.97" r="1.6"/>
<circle cx="440.46" cy="813.08" r="1.6"/>
<circle cx="441.68" cy="823.72" r="1.6"/>
<circle cx="443.2" cy="824.45" r="1.6"/>
<circle cx="443.54" cy="823.25" r="1.6"/>
<circle cx="444.3" cy="814.16" r="1.6"/>
<circle cx="446.24" cy="815.1" r="1.6"/>
<circle cx="446.61" cy="815.09" r="1.6"/>
<circle cx="447.39" cy="816.28" r="1.6"/>
<circle cx="449.64" cy="816.19" r="1.6"/>
<circle cx="450.69" cy="813.53" r="1.6"/>
<circle cx="451.76" cy="818.1" r="1.6"/>
<circle cx="451.75" cy="814.54" r="1.6"/>
<circle cx="453.75" cy="809.89" r="1.6"/>
<circle cx="453.65" cy="816.05" r="1.6"/>
<circle cx="455.43" cy="812.47" r="1.6"/>
<circle cx="455.93" cy="812.58" r="1.6"/>
<circle cx="457.44" cy="819.91" r="1.6"/>
<circle cx="458.31" cy="821.29" r="1.6"/>
<circle cx="459.73" cy="815.7" r="1.6"/>
<circle cx="459.48" cy="816.73" r="1.6"/>
<circle cx="461.34" cy="811.26" r="1.6"/>
<circle cx="462.14" cy="818.63" r="1.6"/>
<circle cx="463.02" cy="813.68" r="1.6"/>
<circle cx="464.41" cy="817.04" r="1.6"/>
<circle cx="464.36" cy="811.66" r="1.6"/>
<circle cx="466.13" cy="810.73" r="1.6"/>
<circle cx="466.34" cy="815.55" r="1.6"/>
<circle cx="468.63" cy="814.63" r="1.6"/>
<circle cx="469.34" cy="814.56" r="1.6"/>
<circle cx="469.49" cy="813.47" r="1.6"/>
<circle cx="470.56" cy="817.08" r="1.6"/>
<circle cx="471.39" cy="808.76" r="1.6"/>
<circle cx="473.28" cy="813.46" r="1.6"/>
<circle cx="474.79" cy="807.24" r="1.6"/>
<circle cx="474.88" cy="804.15" r="1.6"/>
<circle cx="476.63" cy="815" r="1.6"/>
<circle cx="476.24" cy="809.32" r="1.6"/>
<circle cx="477.29" cy="806.69" r="1.6"/>
<circle cx="478.79" cy="809.02" r="1.6"/>
<circle cx="479.41" cy="809.14" r="1.6"/>
<circle cx="480.46" cy="815.2" r="1.6"/>
<circle cx="481.38" cy="806.93" r="1.6"/>
<circle cx="483.11" cy="814.24" r="1.6"/>
<circle cx="483.99" cy="803.85" r="1.6"/>
<circle cx="484.58" cy="807.08" r="1.6"/>
<circle cx="486.68" cy="799.09" r="1.6"/>
<circle cx="487.44" cy="799.93" r="1.6"/>
<circle cx="488.14" cy="808.95" r="1.6"/>
<circle cx="489.76" cy="802.59" r="1.6"/>
<circle cx="489.28" cy="810.74" r="1.6"/>
<circle cx="491.68" cy="810.53" r="1.6"/>
<circle cx="491.62" cy="799.27" r="1.6"/>
<circle cx="492.33" cy="807.25" r="1.6"/>
<circle cx="493.32" cy="805.44" r="1.6"/>
<circle cx="494.48" cy="804.92" r="1.6"/>
<circle cx="496.69" cy="803.07" r="1.6"/>
<circle cx="497.14" cy="794.39" r="1.6"/>
<circle cx="498.78" cy="802.93" r="1.6"/>
<circle cx="499.46" cy="806.23" r="1.6"/>
<circle cx="499.26" cy="797.76" r="1.6"/>
<circle cx="500.51" cy="794.61" r="1.6"/>
<circle cx="501.57" cy="801.22" r="1.6"/>
<circle cx="502.58" cy="798.55" r="1.6"/>
<circle cx="504.32" cy="803.66" r="1.6"/>
<circle cx="505.06" cy="805.79" r="1.6"/>
<circle cx="505.78" cy="799.92" r="1.6"/>
<circle cx="506.26" cy="797.35" r="1.6"/>
<circle cx="508.55" cy="799.1" r="1.6"/>
<circle cx="508.51" cy="795.4" r="1.6"/>
<circle cx="510.21" cy="798.06" r="1.6"/>
<circle cx="510.36" cy="799.04" r="1.6"/>
<circle cx="512.1" cy="806.47" r="1.6"/>
<circle cx="513.63" cy="802.57" r="1.6"/>
<circle cx="513.31" cy="796.72" r="1.6"/>
<circle cx="514.5" cy="800.22" r="1.6"/>
<circle cx="516.35" cy="808.01" r="1.6"/>
<circle cx="517.48" cy="805.62" r="1.6"/>
<circle cx="517.55" cy="797.03" r="1.6"/>
<circle cx="519.53" cy="807.54" r="1.6"/>
<circle cx="520.52" cy="800.96" r="1.6"/>
<circle cx="520.41" cy="795.72" r="1.6"/>
<circle cx="521.89" cy="802.3" r="1.6"/>
<circle cx="522.62" cy="799.56" r="1.6"/>
<circle cx="524.49" cy="794.88" r="1.6"/>
<circle cx="525.6" cy="795.96" r="1.6"/>
<circle cx="525.69" cy="796.59" r="1.6"/>
<circle cx="527.09" cy="803.93" r="1.6"/>
<circle cx="527.91" cy="805.07" r="1.6"/>
<circle cx="529.05" cy="807.9" r="1.6"/>
<circle cx="529.53" cy="796.16" r="1.6"/>
<circle cx="531.09" cy="805.21" r="1.6"/>
<circle cx="532.19" cy="808.57" r="1.6"/>
<circle cx="532.89" cy="803.57" r="1.6"/>
<circle cx="533.27" cy="802.78" r="1.6"/>
<circle cx="534.91" cy="800.17" r="1.6"/>
<circle cx="535.96" cy="801.09" r="1.6"/>
<circle cx="537.07" cy="805.04" r="1.6"/>
<circle cx="538.53" cy="797.56" r="1.6"/>
<circle cx="539.29" cy="795.58" r="1.6"/>
<circle cx="540.58" cy="805.27" r="1.6"/>
<circle cx="540.78" cy="804.14" r="1.6"/>
<circle cx="542.52" cy="805.06" r="1.6"/>
<circle cx="542.61" cy="807.88" r="1.6"/>
<circle cx="543.23" cy="803.86" r="1.6"/>
<circle cx="544.9" cy="805.27" r="1.6"/>
<circle cx="546.62" cy="809.07" r="1.6"/>
<circle cx="546.74" cy="811.3" r="1.6"/>
<circle cx="548.35" cy="810.19" r="1.6"/>
<circle cx="548.52" cy="812.49" r="1.6"/>
<circle cx="549.27" cy="816.13" r="1.6"/>
<circle cx="551.73" cy="804.04" r="1.6"/>
<circle cx="551.45" cy="809.35" r="1.6"/>
<circle cx="552.76" cy="804.42" r="1.6"/>
<circle cx="554.28" cy="802.88" r="1.6"/>
<circle cx="554.29" cy="808.97" r="1.6"/>
<circle cx="555.44" cy="811.14" r="1.6"/>
<circle cx="556.63" cy="815.77" r="1.6"/>
<circle cx="558.79" cy="812.66" r="1.6"/>
<circle cx="558.5" cy="821.82" r="1.6"/>
<circle cx="560.38" cy="817.16" r="1.6"/>
<circle cx="560.26" cy="807.11" r="1.6"/>
<circle cx="561.53" cy="817.6" r="1.6"/>
<circle cx="562.36" cy="813.91" r="1.6"/>
<circle cx="564.56" cy="816.65" r="1.6"/>
<circle cx="565.61" cy="807.56" r="1.6"/>
<circle cx="566.11" cy="809.36" r="1.6"/>
<circle cx="566.94" cy="815.45" r="1.6"/>
<circle cx="567.9" cy="809.36" r="1.6"/>
<circle cx="568.57" cy="820.72" r="1.6"/>
<circle cx="569.84" cy="809.47" r="1.6"/>
<circle cx="570.58" cy="812.27" r="1.6"/>
<circle cx="572.03" cy="813.13" r="1.6"/>
<circle cx="573.34" cy="809.66" r="1.6"/>
<circle cx="573.22" cy="809.95" r="1.6"/>
<circle cx="574.48" cy="808.04" r="1.6"/>
<circle cx="575.95" cy="808.94" r="1.6"/>
<circle cx="577.77" cy="815.15" r="1.6"/>
<circle cx="578.4" cy="812.59" r="1.6"/>
<circle cx="579.59" cy="811.93" r="1.6"/>
<circle cx="579.31" cy="805.31" r="1.6"/>
<circle cx="580.86" cy="808.7" r="1.6"/>
<circle cx="582.67" cy="801.14" r="1.6"/>
<circle cx="582.36" cy="797.32" r="1.6"/>
<circle cx="583.38" cy="803.89" r="1.6"/>
<circle cx="584.82" cy="797.35" r="1.6"/>
<circle cx="586.16" cy="806.72" r="1.6"/>
<circle cx="587.19" cy="802.37" r="1.6"/>
<circle cx="588.55" cy="808.09" r="1.6"/>
<circle cx="588.42" cy="802.52" r="1.6"/>
<circle cx="589.38" cy="804.66" r="1.6"/>
<circle cx="590.56" cy="800.84" r="1.6"/>
<circle cx="592.8" cy="795.56" r="1.6"/>
<circle cx="592.61" cy="796.54" r="1.6"/>
<circle cx="594.33" cy="797.53" r="1.6"/>
<circle cx="594.29" cy="800.51" r="1.6"/>
<circle cx="596.62" cy="799.63" r="1.6"/>
<circle cx="597.07" cy="800.05" r="1.6"/>
<circle cx="598.07" cy="808.1" r="1.6"/>
<circle cx="599.5" cy="797.37" r="1.6"/>
<circle cx="600.32" cy="804.51" r="1.6"/>
<circle cx="600.66" cy="805.89" r="1.6"/>
<circle cx="602.35" cy="801.45" r="1.6"/>
<circle cx="602.68" cy="808.43" r="1.6"/>
<circle cx="604.76" cy="800.38" r="1.6"/>
<circle cx="605.27" cy="811.43" r="1.6"/>
<circle cx="605.71" cy="806.78" r="1.6"/>
<circle cx="607.08" cy="799.95" r="1.6"/>
<circle cx="607.3" cy="797.91" r="1.6"/>
<circle cx="609.15" cy="813.26" r="1.6"/>
<circle cx="610.02" cy="808.76" r="1.6"/>
<circle cx="611.65" cy="799.81" r="1.6"/>
<circle cx="611.24" cy="811.2" r="1.6"/>
<circle cx="613.52" cy="807.03" r="1.6"/>
<circle cx="613.58" cy="804.67" r="1.6"/>
<circle cx="615.17" cy="798.32" r="1.6"/>
<circle cx="615.8" cy="800.04" r="1.6"/>
<circle cx="616.28" cy="811.6" r="1.6"/>
<circle cx="618.27" cy="805.56" r="1.6"/>
<circle cx="618.53" cy="798.46" r="1.6"/>
<circle cx="620.16" cy="807.15" r="1.6"/>
<circle cx="620.29" cy="807.21" r="1.6"/>
<circle cx="621.69" cy="796.38" r="1.6"/>
<circle cx="623.16" cy="804.78" r="1.6"/>
<circle cx="623.81" cy="802.55" r="1.6"/>
<circle cx="625.53" cy="796.26" r="1.6"/>
<circle cx="625.55" cy="805.9" r="1.6"/>
<circle cx="626.41" cy="794.99" r="1.6"/>
<circle cx="627.27" cy="792.4" r="1.6"/>
<circle cx="628.94" cy="786.53" r="1.6"/>
<circle cx="629.98" cy="793.82" r="1.6"/>
<circle cx="631.33" cy="796.81" r="1.6"/>
<circle cx="631.46" cy="789.8" r="1.6"/>
<circle cx="632.45" cy="797.15" r="1.6"/>
<circle cx="633.88" cy="795.46" r="1.6"/>
<circle cx="635.72" cy="789.51" r="1.6"/>
<circle cx="635.6" cy="794.87" r="1.6"/>
<circle cx="636.76" cy="794.52" r="1.6"/>
<circle cx="637.65" cy="785.54" r="1.6"/>
<circle cx="639.49" cy="793.84" r="1.6"/>
<circle cx="639.68" cy="795.65" r="1.6"/>
<circle cx="641.1" cy="796.68" r="1.6"/>
<circle cx="642.32" cy="798.12" r="1.6"/>
<circle cx="643.75" cy="784.81" r="1.6"/>
<circle cx="643.95" cy="788.09" r="1.6"/>
<circle cx="645.56" cy="792.18" r="1.6"/>
<circle cx="645.48" cy="780.92" r="1.6"/>
<circle cx="646.89" cy="788.13" r="1.6"/>
<circle cx="647.36" cy="782.38" r="1.6"/>
<circle cx="649.14" cy="783.23" r="1.6"/>
<circle cx="659.23" cy="787.69" r="1.6"/>
<circle cx="660.59" cy="797.2" r="1.6"/>
<circle cx="661.62" cy="797.04" r="1.6"/>
<circle cx="662.56" cy="799.32" r="1.6"/>
<circle cx="663.21" cy="804.25" r="1.6"/>
<circle cx="663.75" cy="798.42" r="1.6"/>
<circle cx="665.49" cy="789.88" r="1.6"/>
<circle cx="665.6" cy="804.44" r="1.6"/>
<circle cx="667.48" cy="802.5" r="1.6"/>
<circle cx="667.52" cy="786.93" r="1.6"/>
<circle cx="668.61" cy="790.95" r="1.6"/>
<circle cx="669.2" cy="802.07" r="1.6"/>
<circle cx="670.56" cy="804.67" r="1.6"/>
<circle cx="672.41" cy="794.87" r="1.6"/>
<circle cx="672.38" cy="801.96" r="1.6"/>
<circle cx="673.24" cy="799.77" r="1.6"/>
<circle cx="674.76" cy="794.48" r="1.6"/>
<circle cx="676.05" cy="793.56" r="1.6"/>
<circle cx="676.87" cy="795.82" r="1.6"/>
<circle cx="678.28" cy="801.37" r="1.6"/>
<circle cx="679.05" cy="797.45" r="1.6"/>
<circle cx="680.65" cy="802.35" r="1.6"/>
<circle cx="680.54" cy="807.07" r="1.6"/>
<circle cx="682.64" cy="793.41" r="1.6"/>
<circle cx="683.01" cy="811.31" r="1.6"/>
<circle cx="683.89" cy="793.38" r="1.6"/>
<circle cx="684.61" cy="790.62" r="1.6"/>
<circle cx="686.51" cy="802.48" r="1.6"/>
<circle cx="686.89" cy="809.37" r="1.6"/>
<circle cx="687.83" cy="806.45" r="1.6"/>
<circle cx="688.67" cy="796.43" r="1.6"/>
<circle cx="689.57" cy="802.9" r="1.6"/>
<circle cx="690.28" cy="797.3" r="1.6"/>
<circle cx="692.47" cy="801.56" r="1.6"/>
<circle cx="692.46" cy="810.52" r="1.6"/>
<circle cx="693.68" cy="798.46" r="1.6"/>
<circle cx="695.67" cy="808.72" r="1.6"/>
<circle cx="696.38" cy="810.87" r="1.6"/>
<circle cx="696.39" cy="814.67" r="1.6"/>
<circle cx="697.37" cy="808.71" r="1.6"/>
<circle cx="698.81" cy="818.37" r="1.6"/>
<circle cx="699.81" cy="805.41" r="1.6"/>
<circle cx="701.09" cy="813.92" r="1.6"/>
<circle cx="701.62" cy="817.01" r="1.6"/>
<circle cx="702.45" cy="819.95" r="1.6"/>
<circle cx="704.17" cy="812.67" r="1.6"/>
<circle cx="704.44" cy="810.35" r="1.6"/>
<circle cx="705.23" cy="814.08" r="1.6"/>
<circle cx="707.18" cy="810.78" r="1.6"/>
<circle cx="707.9" cy="821.93" r="1.6"/>
<circle cx="708.36" cy="819.7" r="1.6"/>
<circle cx="710.51" cy="822.94" r="1.6"/>
<circle cx="710.78" cy="826.61" r="1.6"/>
<circle cx="712.01" cy="826.39" r="1.6"/>
<circle cx="713.5" cy="824.6" r="1.6"/>
<circle cx="713.66" cy="822.78" r="1.6"/>
<circle cx="714.91" cy="829.17" r="1.6"/>
<circle cx="716.1" cy="822.13" r="1.6"/>
<circle cx="717.07" cy="833.67" r="1.6"/>
<circle cx="717.38" cy="824.65" r="1.6"/>
<circle cx="719.12" cy="821.95" r="1.6"/>
<circle cx="720.28" cy="819.95" r="1.6"/>
<circle cx="721.12" cy="816.49" r="1.6"/>
<circle cx="722.08" cy="813.85" r="1.6"/>
<circle cx="723.01" cy="824.98" r="1.6"/>
<circle cx="723.79" cy="814.86" r="1.6"/>
<circle cx="725.53" cy="819.57" r="1.6"/>
<circle cx="726.66" cy="818.9" r="1.6"/>
<circle cx="727.15" cy="823.87" r="1.6"/>
<circle cx="727.94" cy="824.08" r="1.6"/>
<circle cx="729.57" cy="831.09" r="1.6"/>
<circle cx="729.4" cy="828.77" r="1.6"/>
<circle cx="730.22" cy="829.33" r="1.6"/>
<circle cx="732.3" cy="819.22" r="1.6"/>
<circle cx="732.84" cy="828.54" r="1.6"/>
<circle cx="734.48" cy="818.09" r="1.6"/>
<circle cx="735.23" cy="818.18" r="1.6"/>
<circle cx="736.73" cy="821.65" r="1.6"/>
<circle cx="737.3" cy="824.68" r="1.6"/>
<circle cx="738.76" cy="819.17" r="1.6"/>
<circle cx="739.25" cy="819.99" r="1.6"/>
<circle cx="739.43" cy="822.5" r="1.6"/>
<circle cx="740.74" cy="826.78" r="1.6"/>
<circle cx="742.29" cy="827.35" r="1.6"/>
<circle cx="743.09" cy="819.85" r="1.6"/>
<circle cx="744.63" cy="819.54" r="1.6"/>
<circle cx="744.73" cy="828.23" r="1.6"/>
<circle cx="745.49" cy="831.86" r="1.6"/>
<circle cx="746.48" cy="827.42" r="1.6"/>
<circle cx="747.97" cy="822.74" r="1.6"/>
<circle cx="749.04" cy="831.79" r="1.6"/>
<circle cx="750.5" cy="818.04" r="1.6"/>
<circle cx="750.66" cy="833.7" r="1.6"/>
<circle cx="752.72" cy="822.9" r="1.6"/>
<circle cx="752.95" cy="827.19" r="1.6"/>
<circle cx="753.35" cy="824.53" r="1.6"/>
<circle cx="754.85" cy="831.6" r="1.6"/>
<circle cx="755.87" cy="821.21" r="1.6"/>
<circle cx="756.34" cy="827.77" r="1.6"/>
<circle cx="758.12" cy="825.28" r="1.6"/>
<circle cx="759.55" cy="819.06" r="1.6"/>
<circle cx="760.14" cy="827.17" r="1.6"/>
<circle cx="760.98" cy="829.31" r="1.6"/>
<circle cx="761.94" cy="816.24" r="1.6"/>
<circle cx="762.46" cy="823.84" r="1.6"/>
<circle cx="764.26" cy="820.42" r="1.6"/>
<circle cx="764.89" cy="820.52" r="1.6"/>
<circle cx="765.28" cy="817.68" r="1.6"/>
<circle cx="767.01" cy="825.02" r="1.6"/>
<circle cx="768.71" cy="815.68" r="1.6"/>
<circle cx="768.64" cy="822.11" r="1.6"/>
<circle cx="769.95" cy="820.35" r="1.6"/>
<circle cx="771.67" cy="824.19" r="1.6"/>
<circle cx="772.39" cy="826.92" r="1.6"/>
<circle cx="773.33" cy="827.37" r="1.6"/>
<circle cx="773.5" cy="820.46" r="1.6"/>
<circle cx="775.36" cy="824.35" r="1.6"/>
<circle cx="776.5" cy="827.5" r="1.6"/>
<circle cx="776.91" cy="819.22" r="1.6"/>
<circle cx="778.39" cy="822.1" r="1.6"/>
<circle cx="778.34" cy="826.19" r="1.6"/>
<circle cx="779.86" cy="822.02" r="1.6"/>
<circle cx="781.21" cy="823.95" r="1.6"/>
<circle cx="781.21" cy="828.18" r="1.6"/>
<circle cx="783.46" cy="810.31" r="1.6"/>
<circle cx="783.24" cy="796.75" r="1.6"/>
<circle cx="785.57" cy="804.75" r="1.6"/>
<circle cx="785.8" cy="794.28" r="1.6"/>
<circle cx="786.81" cy="779.07" r="1.6"/>
<circle cx="787.85" cy="788.53" r="1.6"/>
<circle cx="789" cy="800.31" r="1.6"/>
<circle cx="790.25" cy="791.91" r="1.6"/>
<circle cx="790.89" cy="791.38" r="1.6"/>
<circle cx="791.95" cy="795.67" r="1.6"/>
<circle cx="793.56" cy="798.92" r="1.6"/>
<circle cx="794.15" cy="784.72" r="1.6"/>
<circle cx="794.2" cy="794.8" r="1.6"/>
<circle cx="795.95" cy="794.24" r="1.6"/>
<circle cx="797.21" cy="781.71" r="1.6"/>
<circle cx="797.58" cy="798.49" r="1.6"/>
<circle cx="798.84" cy="802.67" r="1.6"/>
<circle cx="799.89" cy="804.76" r="1.6"/>
<circle cx="801.22" cy="799.59" r="1.6"/>
<circle cx="801.69" cy="798.74" r="1.6"/>
<circle cx="802.27" cy="807.77" r="1.6"/>
<circle cx="804.34" cy="788.05" r="1.6"/>
<circle cx="805.42" cy="797.9" r="1.6"/>
<circle cx="805.62" cy="789.29" r="1.6"/>
<circle cx="807.54" cy="799.33" r="1.6"/>
<circle cx="808.43" cy="799.08" r="1.6"/>
<circle cx="808.43" cy="789.8" r="1.6"/>
<circle cx="809.9" cy="802.84" r="1.6"/>
<circle cx="811.72" cy="803.25" r="1.6"/>
<circle cx="812.74" cy="781" r="1.6"/>
<circle cx="812.79" cy="791.3" r="1.6"/>
<circle cx="813.4" cy="795.93" r="1.6"/>
<circle cx="814.2" cy="802.67" r="1.6"/>
<circle cx="815.72" cy="801.63" r="1.6"/>
<circle cx="816.81" cy="780.24" r="1.6"/>
<circle cx="818.61" cy="805.34" r="1.6"/>
<circle cx="818.94" cy="804.05" r="1.6"/>
<circle cx="819.39" cy="796.47" r="1.6"/>
<circle cx="820.45" cy="805.7" r="1.6"/>
<circle cx="822.66" cy="792.01" r="1.6"/>
<circle cx="823.64" cy="790.1" r="1.6"/>
<circle cx="824.49" cy="786.34" r="1.6"/>
<circle cx="825.76" cy="810.18" r="1.6"/>
<circle cx="825.83" cy="790.95" r="1.6"/>
<circle cx="827.28" cy="794.02" r="1.6"/>
<circle cx="827.49" cy="799.04" r="1.6"/>
<circle cx="828.8" cy="798.92" r="1.6"/>
<circle cx="830.6" cy="792.15" r="1.6"/>
<circle cx="830.69" cy="793.55" r="1.6"/>
<circle cx="832.67" cy="788.67" r="1.6"/>
<circle cx="833.49" cy="808.79" r="1.6"/>
<circle cx="833.84" cy="801.92" r="1.6"/>
<circle cx="834.53" cy="796.31" r="1.6"/>
<circle cx="835.84" cy="816.71" r="1.6"/>
<circle cx="836.93" cy="795.82" r="1.6"/>
<circle cx="837.39" cy="796.88" r="1.6"/>
<circle cx="838.52" cy="799.57" r="1.6"/>
<circle cx="839.93" cy="802.4" r="1.6"/>
<circle cx="841.56" cy="800.37" r="1.6"/>
<circle cx="841.67" cy="811.82" r="1.6"/>
<circle cx="842.9" cy="795.19" r="1.6"/>
<circle cx="844.47" cy="802.36" r="1.6"/>
<circle cx="845.2" cy="801.8" r="1.6"/>
<circle cx="845.91" cy="793.68" r="1.6"/>
<circle cx="846.99" cy="800.22" r="1.6"/>
<circle cx="848.23" cy="799.22" r="1.6"/>
<circle cx="848.51" cy="804.4" r="1.6"/>
<circle cx="850.74" cy="793.71" r="1.6"/>
<circle cx="851.23" cy="794.28" r="1.6"/>
<circle cx="851.83" cy="801.12" r="1.6"/>
<circle cx="852.86" cy="792.1" r="1.6"/>
<circle cx="853.66" cy="790.37" r="1.6"/>
<circle cx="855.44" cy="810.74" r="1.6"/>
<circle cx="855.48" cy="798.76" r="1.6"/>
<circle cx="857" cy="792.18" r="1.6"/>
<circle cx="857.64" cy="788.2" r="1.6"/>
<circle cx="859" cy="795.6" r="1.6"/>
<circle cx="859.23" cy="807.75" r="1.6"/>
<circle cx="861.37" cy="806.61" r="1.6"/>
<circle cx="862.22" cy="801.7" r="1.6"/>
<circle cx="862.7" cy="806.93" r="1.6"/>
<circle cx="864.3" cy="789.49" r="1.6"/>
<circle cx="864.89" cy="798.99" r="1.6"/>
<circle cx="865.38" cy="795.4" r="1.6"/>
<circle cx="867.42" cy="804.04" r="1.6"/>
<circle cx="868.21" cy="804.16" r="1.6"/>
<circle cx="869.2" cy="789.04" r="1.6"/>
<circle cx="869.82" cy="798.67" r="1.6"/>
<circle cx="871.37" cy="806.25" r="1.6"/>
<circle cx="872.26" cy="784.16" r="1.6"/>
<circle cx="872.29" cy="802.23" r="1.6"/>
<circle cx="874" cy="793.04" r="1.6"/>
<circle cx="875.64" cy="792.23" r="1.6"/>
<circle cx="875.48" cy="796.7" r="1.6"/>
<circle cx="876.35" cy="791.04" r="1.6"/>
<circle cx="877.78" cy="784.74" r="1.6"/>
<circle cx="878.72" cy="787.31" r="1.6"/>
<circle cx="879.72" cy="793.78" r="1.6"/>
<circle cx="880.84" cy="801.6" r="1.6"/>
<circle cx="881.63" cy="794.23" r="1.6"/>
<circle cx="882.45" cy="797.53" r="1.6"/>
<circle cx="884.41" cy="802.38" r="1.6"/>
<circle cx="885.34" cy="785.75" r="1.6"/>
<circle cx="885.69" cy="798.75" r="1.6"/>
<circle cx="886.64" cy="790.12" r="1.6"/>
<circle cx="887.81" cy="789.39" r="1.6"/>
<circle cx="888.71" cy="792.53" r="1.6"/>
<circle cx="890.21" cy="783.91" r="1.6"/>
<circle cx="891" cy="788.55" r="1.6"/>
<circle cx="892.21" cy="793.49" r="1.6"/>
<circle cx="892.96" cy="794.02" r="1.6"/>
<circle cx="893.33" cy="788.32" r="1.6"/>
<circle cx="895.12" cy="793.65" r="1.6"/>
<circle cx="896.21" cy="793.33" r="1.6"/>
<circle cx="897" cy="792.56" r="1.6"/>
<circle cx="897.53" cy="789.38" r="1.6"/>
<circle cx="898.95" cy="797.16" r="1.6"/>
<circle cx="900.31" cy="796.22" r="1.6"/>
<circle cx="901.3" cy="791.15" r="1.6"/>
<circle cx="902.2" cy="786.38" r="1.6"/>
<circle cx="902.66" cy="793.91" r="1.6"/>
<circle cx="904.78" cy="793.05" r="1.6"/>
<circle cx="904.24" cy="793.51" r="1.6"/>
<circle cx="905.43" cy="789.58" r="1.6"/>
<circle cx="906.66" cy="789.85" r="1.6"/>
<circle cx="907.69" cy="786.14" r="1.6"/>
<circle cx="908.86" cy="793.34" r="1.6"/>
<circle cx="910.42" cy="790.45" r="1.6"/>
<circle cx="911.67" cy="795.38" r="1.6"/>
<circle cx="912.37" cy="786.92" r="1.6"/>
<circle cx="912.57" cy="783.78" r="1.6"/>
<circle cx="913.75" cy="796.48" r="1.6"/>
<circle cx="915.24" cy="794.39" r="1.6"/>
<circle cx="915.42" cy="785.05" r="1.6"/>
<circle cx="917.22" cy="790.41" r="1.6"/>
<circle cx="917.34" cy="788.94" r="1.6"/>
<circle cx="919" cy="799.69" r="1.6"/>
<circle cx="919.27" cy="788.57" r="1.6"/>
<circle cx="921.2" cy="792.45" r="1.6"/>
<circle cx="922.66" cy="791.52" r="1.6"/>
<circle cx="922.61" cy="792.52" r="1.6"/>
<circle cx="923.6" cy="797.85" r="1.6"/>
<circle cx="925.04" cy="791.87" r="1.6"/>
<circle cx="926.58" cy="789.09" r="1.6"/>
<circle cx="926.29" cy="792.1" r="1.6"/>
<circle cx="927.96" cy="798.81" r="1.6"/>
<circle cx="928.75" cy="791.53" r="1.6"/>
<circle cx="930.02" cy="789.31" r="1.6"/>
<circle cx="931.73" cy="804.39" r="1.6"/>
<circle cx="931.8" cy="798.32" r="1.6"/>
<circle cx="933.13" cy="794.52" r="1.6"/>
<circle cx="934.46" cy="797.06" r="1.6"/>
<circle cx="935.44" cy="794.68" r="1.6"/>
<circle cx="935.52" cy="789.31" r="1.6"/>
<circle cx="937.75" cy="798.92" r="1.6"/>
<circle cx="937.56" cy="797.71" r="1.6"/>
<circle cx="938.74" cy="804.44" r="1.6"/>
<circle cx="940.23" cy="795.18" r="1.6"/>
<circle cx="940.33" cy="799.89" r="1.6"/>
<circle cx="942.2" cy="792.96" r="1.6"/>
<circle cx="942.94" cy="804.83" r="1.6"/>
<circle cx="944.53" cy="795.73" r="1.6"/>
<circle cx="944.48" cy="799.04" r="1.6"/>
<circle cx="945.5" cy="795.79" r="1.6"/>
<circle cx="946.3" cy="807.04" r="1.6"/>
<circle cx="947.27" cy="801.45" r="1.6"/>
<circle cx="949.04" cy="796.17" r="1.6"/>
<circle cx="949.61" cy="804.8" r="1.6"/>
<circle cx="950.86" cy="808.36" r="1.6"/>
<circle cx="951.94" cy="802.95" r="1.6"/>
<circle cx="953.58" cy="798.95" r="1.6"/>
<circle cx="954.28" cy="802.29" r="1.6"/>
<circle cx="954.98" cy="801.09" r="1.6"/>
<circle cx="956.32" cy="803.66" r="1.6"/>
<circle cx="957.78" cy="803.61" r="1.6"/>
<circle cx="958.6" cy="802.17" r="1.6"/>
<circle cx="958.42" cy="802.23" r="1.6"/>
<circle cx="959.85" cy="810.11" r="1.6"/>
<circle cx="961.01" cy="812.8" r="1.6"/>
<circle cx="961.38" cy="811.31" r="1.6"/>
<circle cx="962.78" cy="812.13" r="1.6"/>
<circle cx="963.49" cy="802.2" r="1.6"/>
<circle cx="964.42" cy="805.36" r="1.6"/>
<circle cx="965.28" cy="801.87" r="1.6"/>
<circle cx="966.35" cy="804.13" r="1.6"/>
<rect x="89.5" y="599.1" width="895.0" height="262.9" fill="none" stroke="#000" stroke-width="3"/>
<line x1="89.5" y1="614.6" x2="97.3" y2="614.6" stroke="#000" stroke-width="3" />
<line x1="89.5" y1="660.95" x2="97.3" y2="660.95" stroke="#000" stroke-width="3" />
<line x1="89.5" y1="707.3" x2="97.3" y2="707.3" stroke="#000" stroke-width="3" />
<line x1="89.5" y1="753.65" x2="97.3" y2="753.65" stroke="#000" stroke-width="3" />
<line x1="89.5" y1="800" x2="97.3" y2="800" stroke="#000" stroke-width="3" />
<line x1="89.5" y1="846.35" x2="97.3" y2="846.35" stroke="#000" stroke-width="3" />
<line x1="89.5" y1="637.78" x2="93.7" y2="637.78" stroke="#000" stroke-width="3" />
<line x1="89.5" y1="684.12" x2="93.7" y2="684.12" stroke="#000" stroke-width="3" />
<line x1="89.5" y1="730.48" x2="93.7" y2="730.48" stroke="#000" stroke-width="3" />
<line x1="89.5" y1="776.83" x2="93.7" y2="776.83" stroke="#000" stroke-width="3" />
<line x1="89.5" y1="823.18" x2="93.7" y2="823.18" stroke="#000" stroke-width="3" />
<text x="80.8" y="622.2" font-family="Liberation Serif" font-size="26" font-weight="bold" fill="#000" text-anchor="end" >2.1</text>
<text x="80.8" y="668.55" font-family="Liberation Serif" font-size="26" font-weight="bold" fill="#000" text-anchor="end" >1.8</text>
<text x="80.8" y="714.9" font-family="Liberation Serif" font-size="26" font-weight="bold" fill="#000" text-anchor="end" >1.5</text>
<text x="80.8" y="761.25" font-family="Liberation Serif" font-size="26" font-weight="bold" fill="#000" text-anchor="end" >1.2</text>
<text x="80.8" y="807.6" font-family="Liberation Serif" font-size="26" font-weight="bold" fill="#000" text-anchor="end" >0.9</text>
<text x="80.8" y="853.95" font-family="Liberation Serif" font-size="26" font-weight="bold" fill="#000" text-anchor="end" >0.6</text>
<text x="129.8" y="633.2" font-family="Liberation Sans" font-size="30" font-weight="bold" fill="#000" text-anchor="start" >C</text>
<text transform="translate(27.5,729.6) rotate(-90)" x="0" y="0" font-family="Liberation Serif" font-size="28" font-weight="bold" fill="#000" text-anchor="middle" textLength="253.6" lengthAdjust="spacing">DMS<tspan font-size="19" dy="7">seawater</tspan><tspan dy="-7"> (nmol L</tspan><tspan font-size="17" dy="-11">-1</tspan><tspan dy="11">)</tspan></text>
<circle cx="97.25" cy="978.34" r="1.5" fill="#a8802c"/>
<circle cx="97.79" cy="978.41" r="1.5" fill="#a8802c"/>
<circle cx="96.45" cy="972.8" r="1.5" fill="#a8802c"/>
<circle cx="99.61" cy="981.66" r="1.5" fill="#a8802c"/>
<circle cx="97.79" cy="982.24" r="1.5" fill="#a8802c"/>
<circle cx="98.75" cy="979.7" r="1.5" fill="#a8802c"/>
<circle cx="99.02" cy="983.81" r="1.5" fill="#a8802c"/>
<circle cx="99.52" cy="981.15" r="1.5" fill="#a8802c"/>
<circle cx="101.61" cy="985.92" r="1.5" fill="#a8802c"/>
<circle cx="101.76" cy="972.39" r="1.5" fill="#a8802c"/>
<circle cx="102.68" cy="974.99" r="1.5" fill="#a8802c"/>
<circle cx="102" cy="982.31" r="1.5" fill="#a8802c"/>
<circle cx="103.71" cy="966.6" r="1.5" fill="#a8802c"/>
<circle cx="104.03" cy="965.39" r="1.5" fill="#a8802c"/>
<circle cx="102.78" cy="964.91" r="1.5" fill="#a8802c"/>
<circle cx="105.25" cy="965.26" r="1.5" fill="#a8802c"/>
<circle cx="103.68" cy="964.16" r="1.5" fill="#a8802c"/>
<circle cx="105.4" cy="961.01" r="1.5" fill="#a8802c"/>
<circle cx="105.78" cy="964.9" r="1.5" fill="#a8802c"/>
<circle cx="106.61" cy="960.43" r="1.5" fill="#a8802c"/>
<circle cx="105.84" cy="962.24" r="1.5" fill="#a8802c"/>
<circle cx="108.42" cy="968.57" r="1.5" fill="#a8802c"/>
<circle cx="107.56" cy="964.65" r="1.5" fill="#a8802c"/>
<circle cx="108.08" cy="965.38" r="1.5" fill="#a8802c"/>
<circle cx="108.49" cy="962.19" r="1.5" fill="#a8802c"/>
<circle cx="109.83" cy="963.56" r="1.5" fill="#a8802c"/>
<circle cx="108.29" cy="970.26" r="1.5" fill="#a8802c"/>
<circle cx="112.28" cy="974.45" r="1.5" fill="#a8802c"/>
<circle cx="112.4" cy="977.27" r="1.5" fill="#a8802c"/>
<circle cx="110.38" cy="974.39" r="1.5" fill="#a8802c"/>
<circle cx="112.56" cy="974.73" r="1.5" fill="#a8802c"/>
<circle cx="113.84" cy="975.66" r="1.5" fill="#a8802c"/>
<circle cx="112.55" cy="966.22" r="1.5" fill="#a8802c"/>
<circle cx="113.31" cy="968.36" r="1.5" fill="#a8802c"/>
<circle cx="115.12" cy="963.05" r="1.5" fill="#a8802c"/>
<circle cx="113.8" cy="968.47" r="1.5" fill="#a8802c"/>
<circle cx="116.41" cy="966.55" r="1.5" fill="#a8802c"/>
<circle cx="117.04" cy="968.74" r="1.5" fill="#a8802c"/>
<circle cx="115.57" cy="959.71" r="1.5" fill="#a8802c"/>
<circle cx="117.39" cy="936.29" r="1.5" fill="#a8802c"/>
<circle cx="116.96" cy="940.41" r="1.5" fill="#a8802c"/>
<circle cx="118.03" cy="940.13" r="1.5" fill="#a8802c"/>
<circle cx="116.22" cy="933.14" r="1.5" fill="#a8802c"/>
<circle cx="115.86" cy="929.7" r="1.5" fill="#a8802c"/>
<circle cx="117.34" cy="933.41" r="1.5" fill="#a8802c"/>
<circle cx="119.75" cy="947.24" r="1.5" fill="#a8802c"/>
<circle cx="118.07" cy="942.8" r="1.5" fill="#a8802c"/>
<circle cx="119.44" cy="941.27" r="1.5" fill="#a8802c"/>
<circle cx="119.21" cy="956.49" r="1.5" fill="#a8802c"/>
<circle cx="119.56" cy="952.56" r="1.5" fill="#a8802c"/>
<circle cx="120.27" cy="955.07" r="1.5" fill="#a8802c"/>
<circle cx="118.49" cy="978.37" r="1.5" fill="#a8802c"/>
<circle cx="118.35" cy="970.91" r="1.5" fill="#a8802c"/>
<circle cx="121.1" cy="970.01" r="1.5" fill="#a8802c"/>
<circle cx="120.41" cy="993.42" r="1.5" fill="#a8802c"/>
<circle cx="120.26" cy="987.16" r="1.5" fill="#a8802c"/>
<circle cx="119.53" cy="993.66" r="1.5" fill="#a8802c"/>
<circle cx="121.44" cy="957.37" r="1.5" fill="#a8802c"/>
<circle cx="122.78" cy="958.8" r="1.5" fill="#a8802c"/>
<circle cx="122.57" cy="963.79" r="1.5" fill="#a8802c"/>
<circle cx="121.79" cy="945.82" r="1.5" fill="#a8802c"/>
<circle cx="121.33" cy="945.52" r="1.5" fill="#a8802c"/>
<circle cx="121.09" cy="944.41" r="1.5" fill="#a8802c"/>
<circle cx="123.75" cy="940.9" r="1.5" fill="#a8802c"/>
<circle cx="124.62" cy="944.27" r="1.5" fill="#a8802c"/>
<circle cx="122.51" cy="945.39" r="1.5" fill="#a8802c"/>
<circle cx="124.45" cy="950.42" r="1.5" fill="#a8802c"/>
<circle cx="126.47" cy="942.05" r="1.5" fill="#a8802c"/>
<circle cx="124.63" cy="940.77" r="1.5" fill="#a8802c"/>
<circle cx="127.55" cy="951" r="1.5" fill="#a8802c"/>
<circle cx="125.6" cy="954.26" r="1.5" fill="#a8802c"/>
<circle cx="126.07" cy="945.75" r="1.5" fill="#a8802c"/>
<circle cx="129.55" cy="959.34" r="1.5" fill="#a8802c"/>
<circle cx="127" cy="960.39" r="1.5" fill="#a8802c"/>
<circle cx="129.61" cy="959.25" r="1.5" fill="#a8802c"/>
<circle cx="129.69" cy="965.83" r="1.5" fill="#a8802c"/>
<circle cx="128.56" cy="966.39" r="1.5" fill="#a8802c"/>
<circle cx="131.1" cy="967.9" r="1.5" fill="#a8802c"/>
<circle cx="130.48" cy="972.91" r="1.5" fill="#a8802c"/>
<circle cx="131.93" cy="967.06" r="1.5" fill="#a8802c"/>
<circle cx="132.58" cy="965.92" r="1.5" fill="#a8802c"/>
<circle cx="131.56" cy="963.77" r="1.5" fill="#a8802c"/>
<circle cx="132.73" cy="967.38" r="1.5" fill="#a8802c"/>
<circle cx="134.19" cy="970.1" r="1.5" fill="#a8802c"/>
<circle cx="135.13" cy="963.71" r="1.5" fill="#a8802c"/>
<circle cx="134.86" cy="956.24" r="1.5" fill="#a8802c"/>
<circle cx="135" cy="962.38" r="1.5" fill="#a8802c"/>
<circle cx="136.28" cy="984.01" r="1.5" fill="#a8802c"/>
<circle cx="134.38" cy="983.94" r="1.5" fill="#a8802c"/>
<circle cx="136.91" cy="978.08" r="1.5" fill="#a8802c"/>
<circle cx="137.74" cy="999.84" r="1.5" fill="#a8802c"/>
<circle cx="136.43" cy="995.32" r="1.5" fill="#a8802c"/>
<circle cx="137.48" cy="999.14" r="1.5" fill="#a8802c"/>
<polyline points="137.35,1009.55 139.2,1011.24 141.04,1010.93 142.89,1010.15 144.74,1009.81 146.59,1010.49 148.13,1012.58 149.67,1012.4 151.2,1014.17 152.74,1016.42 154.28,1017.3 155.82,1018.29 157.36,1018.87 158.9,1020.87 160.44,1021.63" fill="none" stroke="#a8802c" stroke-width="3" stroke-linejoin="round" stroke-linecap="round" />
<polyline points="161.98,1036.31 164.04,1035.08 166.09,1037.81 168.14,1034.33 170.19,1034.53 172.25,1035.94 174.3,1040.98 176.35,1035.53 178.41,1038.87 180.46,1039.61 182,1041.35 183.54,1042.52 185.08,1043.19" fill="none" stroke="#a8802c" stroke-width="3" stroke-linejoin="round" stroke-linecap="round" />
<polyline points="185.08,1077.63 187,1078.29 188.93,1078.19 190.85,1078.82 192.78,1077.76 194.83,1078.83 196.88,1080.16 198.93,1080.47 200.78,1081.49 202.63,1080.19 204.48,1080.75 206.32,1081.22 208.17,1082.11 210.22,1082.27 212.28,1084.61 214.33,1085.41 216.38,1085.21 218.44,1084.34 220.49,1084.52 222.54,1084.13 224.59,1085.14 226.65,1084.08 228.7,1084.65 230.75,1086.03 232.81,1084.88 234.86,1086.64 236.91,1086.1 238.96,1085.41 241.02,1086.88 243.07,1084.75 245.12,1087.94 247.18,1086.56 249.23,1083.75 251.28,1084.62 253.33,1084.65 255.39,1084.78 257.44,1085.13 259.2,1081.74 260.96,1085.68 262.72,1084.47 264.48,1087.33 266.24,1088.06 268,1085.76 269.76,1084.63 271.81,1087.97 273.86,1089.93 275.92,1089.38" fill="none" stroke="#a8802c" stroke-width="3.2" stroke-linejoin="round" stroke-linecap="round" />
<polyline points="282.07,1091.51 283.92,1093.7 285.77,1091.6 287.62,1092.43 289.46,1094.56 291.31,1093.29 293.16,1093.61 295.01,1093.21 296.86,1093.99 298.7,1093.24 300.55,1094.34 302.45,1094.14 304.34,1093.85 306.24,1094.63 308.13,1095.31 310.03,1093.51 311.92,1093.94 313.82,1095.21 315.71,1095.46 317.6,1094.11 319.5,1094.93 321.39,1094.97 323.29,1095.89 325.18,1094.5 327.08,1094.54 328.97,1096.17 330.87,1093.91 332.76,1093.44 334.66,1094.04 336.55,1092.98 338.45,1096.28 340.34,1093.98 342.24,1095.95 344.13,1093.03 346.03,1092.91 347.92,1094.18 349.82,1092.03 351.05,1093.97 352.28,1097.46 353.51,1096.96 354.75,1098.96 355.98,1097.88 357.77,1100.96 359.57,1100.5 361.37,1101.26 363.16,1100.98 364.96,1100.76 366.76,1102.14 368.55,1101.26 370.35,1100.85 372.14,1101.83 373.94,1101.54 375.74,1103.95 377.53,1101.97 379.46,1102.05 381.38,1102.13 383.31,1103.57 385.23,1103.04 387.16,1101.81 389.08,1102.24 391,1102.05 392.93,1100.96 396.01,1100.93 397.8,1099.64 399.6,1101.02 401.4,1099.64 403.19,1098.89 404.99,1100 406.79,1099.48 408.58,1099.13 410.38,1100.09 412.17,1100.26 413.97,1098.08 415.77,1096.59 417.56,1098.26 419.62,1097.49 421.67,1096.08 423.72,1094.53 425.26,1098.41 426.8,1098.85 428.34,1100.11 429.88,1102.21 431.93,1103.63 433.99,1103.33 436.04,1105.53 438.09,1104.29 440.14,1104.35 442.2,1101.64 444.09,1102.07 445.99,1102.27 447.88,1101.56 449.78,1101.41 451.67,1102.16 453.57,1101.92 455.46,1102.6 457.36,1102.22 459.25,1101.42 461.15,1101.96 463.04,1102.22 464.94,1101.45 466.83,1102.02 467.45,1103.29 468.06,1105.59 468.68,1106.76 469.3,1109.61 469.91,1110.29 471.8,1110.83 473.68,1110.17 475.57,1110.22 477.46,1110.4 479.34,1108.19 481.23,1110.21 483.11,1108.83 485,1109.39" fill="none" stroke="#a8802c" stroke-width="3.2" stroke-linejoin="round" stroke-linecap="round" />
<polyline points="480,1108 481.92,1109.13 483.85,1107.31 485.77,1107.13 487.7,1107.99 489.62,1108.05 491.55,1108.99 493.47,1109.11 495.4,1106.85 497.32,1107.39 499.25,1107.84 499.67,1110.71 500.1,1111.11 500.53,1113.32 500.96,1115.06 501.38,1116.21 501.81,1119.3 502.24,1120.77 502.67,1122.11 503.09,1125.31 505.02,1124.2 506.94,1125.99 508.87,1124.93 510.79,1124.99 512.72,1123.96 514.64,1123.47 516.57,1124.97 518.49,1124.71 520.42,1125.29 522.34,1123.2 524.26,1122.95 526.19,1123.65 528.11,1122.95 530.04,1123.01 531.96,1121.73 533.89,1122.28 535.81,1120.38 537.74,1122.96 539.66,1123.29 541.59,1123.18 543.51,1122.57 545.43,1121.01 547.36,1121.94 549.28,1121.34 551.21,1122.14 553.13,1121.79 555.06,1120.75 556.98,1120.3 558.63,1121.73 560.28,1123.64 561.93,1122.13 563.58,1124.99 565.23,1126.13 566.88,1127.18 568.53,1128.3 570.45,1129.24 572.38,1130.32 574.3,1130.96 576.23,1131.03 578.15,1132.41 580.08,1132.71 581.73,1132.44 583.38,1130.35 585.03,1129.02 586.68,1128.54 588.33,1128.27 589.97,1126.55 591.62,1127.19 593.55,1128.1 595.47,1126.73 597.4,1128.78 599.32,1129.65 601.25,1130.34 603.17,1129.97 605.1,1130.79 607.02,1130.88 608.95,1131.06 610.87,1131.93 612.79,1131.07 614.72,1127.78 616.64,1132.86 618.57,1131.82 619.85,1130.51 621.13,1131.26 622.42,1128.78 623.7,1128.43 624.98,1126.63 626.27,1125.22 627.55,1124.83 628.83,1121.02 630.12,1122.06 632.04,1119.75 633.96,1118.57 635.89,1118.19 637.81,1116.67 639.1,1117.75 640.38,1118.89 641.66,1120.95 642.36,1122.22 643.06,1124.47 643.76,1126.59 644.46,1128.72 645.16,1129.03 645.86,1128.57 646.56,1132.73 647.26,1134.95 647.96,1136.36 648.66,1136.86 649.36,1141.05 651.29,1139.37 653.21,1139.83 655.13,1140.75 657.06,1141.09 658.98,1140.38 660.91,1140.1 662.83,1140.55 664.76,1140.8 666.68,1139.07 668.61,1140.41 670.53,1139.72 672.46,1140.48 674,1137.98 675.54,1138.32 677.07,1136.66 678.61,1135.38 680.15,1134.18 681.69,1132.92 683.23,1131.83 684.77,1130.97 686.31,1130.58 687.85,1128.65" fill="none" stroke="#a8802c" stroke-width="3.2" stroke-linejoin="round" stroke-linecap="round" />
<polyline points="695.55,1132.35 697.47,1132.41 699.4,1132.93 701.32,1133.67 703.25,1134.72 705.17,1134.09 707.1,1135.88 709.02,1137.35 710.95,1136.02 711.8,1135.25 712.66,1133.58 713.51,1132.12 714.37,1129.74 715.22,1127.38 716.08,1125.04 716.93,1122.99 717.79,1122.06 718.65,1120.27 720.57,1121.95 722.49,1122.36 724.42,1123.78 726.34,1124.76 728.12,1123.32 729.9,1125.03 731.67,1121.42 733.45,1122.42 735.23,1122.1 737,1120.74 738.78,1120.68 740.56,1119.13 742.33,1120.47 744.11,1119.4 745.89,1117.33 747.66,1117.29 749.44,1118.33 750.62,1119.57 751.81,1119.53 752.99,1122.65 754.18,1118.86 755.36,1123.9 756.54,1125.22 757.73,1127.53 758.91,1129.01 760.1,1130.1 761.28,1135.35 762.47,1134.01 763.65,1135.15 764.83,1136.28 766.76,1134.99 768.68,1138.1 770.61,1136.53 772.53,1136.17 774.46,1137.37 776.38,1138.12 778.31,1139.46 780.23,1136.21 782.16,1138.52 784.08,1137.98 786,1138.32 787.93,1136.84 789.85,1139.31 791.78,1138.77 793.7,1137.97 795.63,1136.96 797.55,1137.1 799.48,1137.18 801.4,1139 803.33,1136.78 805.25,1136.75 807.17,1135.78 809.1,1135.61 811.02,1136.38 812.95,1136.91 814.87,1136.24 816.8,1135.63 818.72,1135.65 820.65,1135.07 822.57,1135.29 824.5,1136.17 826.42,1134.55 828.34,1136.68 830.27,1135.24 832.19,1134.53 834.12,1135.57" fill="none" stroke="#a8802c" stroke-width="3.2" stroke-linejoin="round" stroke-linecap="round" />
<polyline points="837.97,1136.18 839.74,1136.41 841.52,1137.19 843.3,1136.39 845.07,1137.08 846.85,1137.57 848.63,1137.61 850.4,1138.97 852.18,1138.43 853.96,1138.67 855.73,1139.84 857.51,1139.78 859.29,1140.23 861.06,1139.48 862.99,1139.68 864.91,1140.07 866.84,1138.83 868.76,1137.45 870.69,1138.57 872.61,1136.02 874.53,1139.39 876.46,1136.77 878.38,1136.17 880.31,1135.97 882.23,1135.95 884.16,1135.5 886.08,1136.34 888.01,1136.52 889.93,1137.13 891.86,1135.94 893.78,1135.78 895.7,1136.28 897.63,1136.3 899.55,1136.35 901.48,1135.75 903.4,1135.76 905.24,1138.47 907.07,1135.86 908.9,1135.88 910.73,1135.98 912.57,1135.72 914.4,1135.67 916.23,1135.3 918.07,1135.49 919.9,1136.19 921.73,1134.67 923.56,1134.09 925.4,1135.53 927.23,1133.01 929.06,1134.24 930.9,1135.09 932.73,1134.13 934.56,1134.24 936.4,1135.73 938.23,1134.24 940.06,1133.07 941.89,1134.63 943.82,1134.85 945.74,1134.29 947.67,1135.4 949.59,1136.14 951.52,1134.61 953.44,1136.01 955.37,1136.33 957.29,1135.98 959.21,1136.88 961.14,1135.77 963.06,1136.34" fill="none" stroke="#a8802c" stroke-width="3.2" stroke-linejoin="round" stroke-linecap="round" />
<polyline points="95.78,1158.56 97.7,1157.65 99.63,1160.38 101.55,1158.53 103.48,1158.27 105.53,1159.61 107.58,1157.73 109.63,1157.82 111.69,1158.32 113.74,1156.97 115.79,1156.62 117.72,1157.33 119.64,1156.06 121.57,1155.96 123.49,1155.48 125.42,1155.89 127.34,1155.95 129.26,1155.81 131.19,1156.33 132.73,1155.57 134.27,1153.43 135.81,1153.18 137.35,1152.03 138.89,1151.71 140.43,1150.09 142.48,1147.53 144.53,1147.99 146.59,1147.55 148.43,1147.7 150.28,1149.29 152.13,1150.76 153.98,1151.86 155.82,1149.89 157.88,1152.51 159.93,1153.42 161.98,1155.19 164.04,1154.75 166.09,1156.3 168.14,1157.12" fill="none" stroke="#e8489a" stroke-width="3.2" stroke-linejoin="round" stroke-linecap="round" />
<polyline points="171.22,1156.1 173.27,1157.55 175.33,1156.51 177.38,1154.73 179.43,1155.76 181.48,1153.58 183.54,1154.43 185.59,1154.4 187.64,1152.36 189.7,1152.98 191.54,1152.69 193.39,1153.48 195.24,1151.01 197.09,1150.16 198.93,1148.56 199.96,1146.65 200.99,1144.56 202.01,1142.63 203.77,1144.06 205.53,1142.63 207.29,1141.93 209.05,1143.02 210.81,1141.86 212.57,1141.15 214.33,1139.5 216.09,1138.04 217.85,1139.74 219.61,1138.48 221.37,1138.48 223.13,1135.5 224.89,1136.84 226.65,1137.98 228.7,1137.24 230.75,1138.22 232.81,1138.37 234.86,1138.57 236.91,1137.09 238.96,1138.3 240.81,1137.48 242.66,1138.27 244.51,1139.17 246.35,1140.1 248.2,1138.05 250.05,1139.73 251.9,1139.67 253.75,1138.4 255.59,1139.08 257.44,1137.23 259.29,1137.23 261.14,1137.69 262.98,1138.26 264.83,1138.04 266.68,1137.36 268.53,1138.12 270.37,1136.89 272.22,1137.42 274.07,1136.97 275.92,1137.11" fill="none" stroke="#e8489a" stroke-width="3.2" stroke-linejoin="round" stroke-linecap="round" />
<polyline points="282.07,1138.83 283.92,1137.2 285.77,1138.61 287.62,1137.57 289.46,1138.91 291.31,1138.66 293.16,1137.57 295.01,1139.38 296.86,1138.91 298.7,1138.24 300.55,1138.24 302.35,1138.63 304.14,1138.63 305.94,1138.89 307.74,1137.98 309.53,1138.35 311.33,1137.4 313.12,1137.77 314.92,1136.58 316.72,1136.9 318.51,1137.63 320.31,1137.31 322.11,1137.14 323.95,1136.56 325.8,1136.54 327.65,1135.17 329.5,1135.95 331.34,1135.77 333.19,1133.3 335.04,1134.82 336.89,1134.03 338.73,1134.28 340.58,1135.07 342.34,1133.62 344.1,1129.8 345.86,1130.66 347.62,1129.43 349.38,1129.12 351.14,1131.38 352.9,1127.76 354.44,1128.63 355.98,1126.92 357.52,1125.63 359.06,1125.02 360.6,1124.63 362.14,1121.88 363.98,1123.37 365.83,1122.84 367.68,1123.46 369.53,1122.23 371.37,1121.66 373.22,1121.58 375.07,1121.88 376.92,1121.37 378.76,1121.94 380.61,1120.76 382.46,1123.7 384.31,1121.99 386.15,1122.05 388,1121.73 389.85,1122.26 391.39,1122.47 392.93,1122.5 394.98,1120.3 397.03,1120.82 399.09,1121.08 401.14,1120.36 403.19,1122.3 405.25,1122.36 406.02,1123.74 406.79,1125.17 407.56,1127.71 408.33,1129.55 410.17,1127.74 412.02,1126.89 413.87,1126.7 415.72,1125.74 417.56,1123.71 419.62,1123.81 421.67,1123.86 423.72,1123.51 425.26,1125.2 426.8,1124.17 428.34,1128.45 429.88,1126.27 431.42,1128.5 432.96,1129.3 433.47,1127.62 433.99,1124.12 434.5,1123.52 435.01,1122.33 435.53,1120.81 436.04,1119.17 437.89,1118.93 439.73,1118.41 441.58,1120.51 443.43,1118.97 445.28,1119.2 447.12,1120.3 448.97,1120.17 450.82,1118.72 452.67,1118.99 454.52,1120.6 456.42,1121.08 458.33,1119.48 460.23,1120.17 462.14,1118.71 464.04,1119.26 465.95,1119.09 467.85,1119.04 469.76,1119.19 471.66,1118.93 473.57,1118.68 475.47,1120.37 477.38,1119.2 479.28,1118.86 481.19,1119.98 483.09,1118.98 485,1118.63" fill="none" stroke="#e8489a" stroke-width="3.2" stroke-linejoin="round" stroke-linecap="round" />
<polyline points="480,1119.38 481.92,1118.85 483.85,1118 485.77,1118.56 487.7,1119.57 489.62,1117.77 491.55,1118.58 493.47,1117.12 495.4,1117.27 497.32,1117.74 499.25,1116.56 500.53,1120.09 501.81,1122.1 503.09,1123.58 505.02,1123.19 506.94,1124.43 508.87,1123.26 510.79,1123.64 512.72,1125.06 514.64,1124.41 516.57,1124.18 518.49,1125.5 520.32,1125.36 522.16,1124.8 523.99,1124.22 525.82,1124.54 527.66,1122.94 529.49,1124.79 531.32,1123.43 533.15,1123.3 534.99,1123.79 536.82,1123.51 538.65,1122.4 540.49,1124.09 542.32,1123.02 544.15,1120.91 545.98,1122.97 547.82,1120.75 549.65,1121.69 551.48,1122.76 553.32,1122.34 555.15,1120.4 556.98,1119.92 558.91,1120.63 560.83,1120.5 562.76,1121.53 564.68,1122.47 566.61,1120.79 568.53,1121.19 570.45,1123.83 572.38,1121.89 574.3,1122.93 576.23,1122.49 578.15,1122.79 580.08,1122.18 582,1122.49 583.93,1121.08 585.85,1121.72 587.78,1122.02 589.7,1121.54 591.62,1122.45 593.55,1121.74 595.47,1121.22 597.4,1119.42 599.32,1118.94 601.25,1119.14 603.17,1119.21 605.1,1119.33 607.02,1118.29 608.95,1118.11 610.87,1118.08 612.79,1117.5 614.72,1117.38 616.47,1116.34 618.22,1115.7 619.97,1116.33 621.72,1113.55 623.47,1115.72 625.22,1113.68 626.97,1114.1 628.72,1113.69 630.47,1111.65 632.21,1111.71 633.96,1110.5 635.41,1111.52 636.85,1113.02 638.29,1115.67 639.74,1116.44 641.18,1116.72 642.63,1119.01 644.07,1120.18 645.51,1120.58 647.44,1121.98 649.36,1121.83 651.29,1119.98 653.21,1122.11 655.13,1121.54 657.06,1120.92 658.98,1120.82 660.91,1120.95 662.83,1120.78 664.76,1120.58 666.68,1121.25 668.61,1121.14 670.53,1121.1 672.46,1120.8 674.38,1120.22 676.3,1119.7 678.23,1121.46 680.15,1119.91 682.08,1119.03 684,1118.42 685.93,1118.88 687.85,1118.69 689.78,1117 691.7,1117.17 693.63,1117.13 695.55,1116.96 697.47,1118.41 699.4,1117.81 701.32,1119.05 703.25,1118.54 705.17,1119.81 707.1,1120.24 709.02,1120.47 710.95,1120.48 712.87,1119.3 714.8,1118.65 716.72,1118.68 718.65,1116.53 720.46,1117.61 722.27,1117.69 724.08,1116.85 725.89,1117.58 727.7,1116.91 729.51,1118.56 731.32,1116.67 733.14,1116.72 734.95,1118.32 736.76,1117.65 738.57,1117.78 740.38,1118.79 742.19,1119.8 744,1117.72 745.82,1118.74 747.63,1118.97 749.44,1119.37 751.36,1120.22 753.29,1119.54 755.21,1120.75 757.14,1122.27 759.06,1121.63 760.99,1121.76 762.91,1122.92 764.83,1123.87 766.76,1125.39 768.68,1122.11 770.61,1122.02 772.53,1122.94 774.46,1122.37 776.38,1123.16 778.31,1123.32 780.23,1122.79 782.16,1120.82 784.08,1123.28 786,1122.8 787.93,1122.98 789.76,1122.48 791.59,1120.78 793.43,1121.99 795.26,1122.35 797.09,1120.57 798.93,1122.68 800.76,1121.2 802.59,1122.28 804.43,1121.12 806.26,1121.48 808.09,1121.48 809.92,1121.74 811.76,1121.59 813.59,1121.04 815.42,1122.14 817.26,1120.91 819.09,1120.63 820.92,1122.08 822.75,1121.31 824.59,1120.65 826.42,1121.25 828.25,1121.53 830.09,1120.44 831.92,1119.8 833.75,1120.83 835.58,1121.83 837.42,1122.5 839.25,1120.75 841.08,1121.23 842.92,1121.74 844.75,1120.29 846.58,1120.95 848.42,1120.57 850.25,1120.58 852.08,1120.69 853.91,1120.79 855.75,1119.92 857.58,1121.06 859.41,1119.95 861.25,1120.96 863.08,1120.83 864.91,1121.6 866.66,1120.57 868.41,1120.29 870.16,1119.24 871.91,1119.44 873.66,1116.41 875.41,1117.05 877.16,1116.44 878.91,1116.17 880.66,1114.3 882.41,1113.94 884.16,1110.37 886.08,1114.09 888.01,1115.24 889.93,1113.3 891.86,1114.09 893.78,1114.14 895.7,1113.48 897.63,1113.51 899.55,1112.33 901.48,1113.09 903.4,1113.2 905.24,1111.59 907.07,1114.53 908.9,1112.35 910.73,1113.43 912.57,1113.68 914.4,1113.42 916.23,1111.82 918.07,1112.91 919.9,1112.11 921.73,1113.63 923.56,1113.3 925.4,1112.85 927.23,1112.76 929.06,1112.59 930.9,1114.32 932.73,1112.14 934.56,1113.34 936.4,1114.87 938.23,1112.72 940.06,1112.75 941.89,1112.31 943.82,1112.2 945.74,1112.71 947.67,1114.16 949.59,1112.31 951.52,1113.39 953.44,1113.75 955.37,1113.63 957.29,1112.58 959.21,1114.72 961.14,1114.64 963.06,1113.22 964.99,1114.02" fill="none" stroke="#e8489a" stroke-width="3.2" stroke-linejoin="round" stroke-linecap="round" />
<rect x="94.74" y="951.93" width="7" height="7" fill="#3a56b0"/>
<rect x="126.77" y="937.15" width="7" height="7" fill="#3a56b0"/>
<rect x="158.79" y="1003.66" width="7" height="7" fill="#3a56b0"/>
<rect x="222.84" y="1056.62" width="7" height="7" fill="#3a56b0"/>
<rect x="254.86" y="1048" width="7" height="7" fill="#3a56b0"/>
<rect x="286.89" y="1052.62" width="7" height="7" fill="#3a56b0"/>
<rect x="318.61" y="1060.32" width="7" height="7" fill="#3a56b0"/>
<rect x="350.63" y="1049.54" width="7" height="7" fill="#3a56b0"/>
<rect x="382.65" y="1035.07" width="7" height="7" fill="#3a56b0"/>
<rect x="414.68" y="1028.91" width="7" height="7" fill="#3a56b0"/>
<rect x="446.7" y="1032.6" width="7" height="7" fill="#3a56b0"/>
<rect x="478.73" y="1040.61" width="7" height="7" fill="#3a56b0"/>
<rect x="510.37" y="1071.26" width="7" height="7" fill="#3a56b0"/>
<rect x="542.7" y="1055.09" width="7" height="7" fill="#3a56b0"/>
<rect x="574.65" y="1092.81" width="7" height="7" fill="#3a56b0"/>
<rect x="670.88" y="1098.97" width="7" height="7" fill="#3a56b0"/>
<rect x="702.83" y="1085.5" width="7" height="7" fill="#3a56b0"/>
<rect x="734.39" y="1050.09" width="7" height="7" fill="#3a56b0"/>
<rect x="766.72" y="1087.42" width="7" height="7" fill="#3a56b0"/>
<rect x="798.67" y="1098.2" width="7" height="7" fill="#3a56b0"/>
<rect x="830.62" y="1062.79" width="7" height="7" fill="#3a56b0"/>
<rect x="862.57" y="1102.82" width="7" height="7" fill="#3a56b0"/>
<rect x="894.51" y="1109.75" width="7" height="7" fill="#3a56b0"/>
<rect x="926.08" y="1123.22" width="7" height="7" fill="#3a56b0"/>
<rect x="958.41" y="1136.69" width="7" height="7" fill="#3a56b0"/>
<polygon points="109.63,1097.62 110.87,1100.92 114.39,1101.07 111.63,1103.27 112.57,1106.66 109.63,1104.72 106.7,1106.66 107.64,1103.27 104.88,1101.07 108.4,1100.92" fill="#000"/>
<polygon points="130.57,1098.23 131.81,1101.53 135.33,1101.69 132.57,1103.88 133.51,1107.28 130.57,1105.33 127.63,1107.28 128.58,1103.88 125.82,1101.69 129.34,1101.53" fill="#000"/>
<polygon points="155.21,1099.77 156.44,1103.07 159.96,1103.23 157.21,1105.42 158.15,1108.82 155.21,1106.87 152.27,1108.82 153.21,1105.42 150.45,1103.23 153.97,1103.07" fill="#000"/>
<polygon points="172.76,1100.7 173.99,1104 177.52,1104.15 174.76,1106.35 175.7,1109.74 172.76,1107.8 169.82,1109.74 170.76,1106.35 168,1104.15 171.53,1104" fill="#000"/>
<polygon points="198.01,1102.85 199.24,1106.15 202.77,1106.31 200.01,1108.5 200.95,1111.9 198.01,1109.95 195.07,1111.9 196.01,1108.5 193.25,1106.31 196.78,1106.15" fill="#000"/>
<polygon points="212.17,1103.78 213.41,1107.08 216.93,1107.23 214.17,1109.42 215.11,1112.82 212.17,1110.88 209.24,1112.82 210.18,1109.42 207.42,1107.23 210.94,1107.08" fill="#000"/>
<polygon points="227.57,1104.39 228.81,1107.69 232.33,1107.85 229.57,1110.04 230.51,1113.44 227.57,1111.49 224.63,1113.44 225.57,1110.04 222.82,1107.85 226.34,1107.69" fill="#000"/>
<polygon points="258.36,1103.47 259.6,1106.77 263.12,1106.92 260.36,1109.12 261.3,1112.51 258.36,1110.57 255.43,1112.51 256.37,1109.12 253.61,1106.92 257.13,1106.77" fill="#000"/>
<polygon points="282.38,1103.16 283.62,1106.46 287.14,1106.62 284.38,1108.81 285.32,1112.21 282.38,1110.26 279.44,1112.21 280.39,1108.81 277.63,1106.62 281.15,1106.46" fill="#000"/>
<polygon points="296.86,1103.16 298.09,1106.46 301.61,1106.62 298.85,1108.81 299.79,1112.21 296.86,1110.26 293.92,1112.21 294.86,1108.81 292.1,1106.62 295.62,1106.46" fill="#000"/>
<polygon points="321.49,1103.47 322.72,1106.77 326.24,1106.92 323.49,1109.12 324.43,1112.51 321.49,1110.57 318.55,1112.51 319.49,1109.12 316.73,1106.92 320.26,1106.77" fill="#000"/>
<polygon points="336.89,1104.87 337.77,1107.24 340.31,1107.36 338.32,1108.94 339,1111.38 336.89,1109.98 334.77,1111.38 335.45,1108.94 333.46,1107.36 336,1107.24" fill="#000"/>
<polygon points="353.82,1105.79 354.71,1108.17 357.25,1108.28 355.26,1109.86 355.94,1112.3 353.82,1110.9 351.71,1112.3 352.38,1109.86 350.4,1108.28 352.93,1108.17" fill="#000"/>
<polygon points="364.6,1105.62 365.83,1108.92 369.35,1109.08 366.6,1111.27 367.54,1114.67 364.6,1112.72 361.66,1114.67 362.6,1111.27 359.84,1109.08 363.37,1108.92" fill="#000"/>
<polygon points="386.15,1105.93 387.39,1109.23 390.91,1109.39 388.15,1111.58 389.09,1114.98 386.15,1113.03 383.22,1114.98 384.16,1111.58 381.4,1109.39 384.92,1109.23" fill="#000"/>
<polygon points="408.33,1106.72 409.21,1109.09 411.75,1109.2 409.76,1110.78 410.44,1113.23 408.33,1111.83 406.21,1113.23 406.89,1110.78 404.9,1109.2 407.44,1109.09" fill="#000"/>
<polygon points="425.26,1104.39 426.5,1107.69 430.02,1107.85 427.26,1110.04 428.2,1113.44 425.26,1111.49 422.32,1113.44 423.26,1110.04 420.51,1107.85 424.03,1107.69" fill="#000"/>
<polygon points="468.37,1099.77 469.61,1103.07 473.13,1103.23 470.37,1105.42 471.31,1108.82 468.37,1106.87 465.43,1108.82 466.37,1105.42 463.62,1103.23 467.14,1103.07" fill="#000"/>
<polygon points="503.86,1104.4 505.1,1107.7 508.62,1107.85 505.86,1110.05 506.8,1113.44 503.86,1111.5 500.93,1113.44 501.87,1110.05 499.11,1107.85 502.63,1107.7" fill="#000"/>
<polygon points="519.26,1105.17 520.5,1108.47 524.02,1108.62 521.26,1110.82 522.2,1114.21 519.26,1112.27 516.32,1114.21 517.26,1110.82 514.51,1108.62 518.03,1108.47" fill="#000"/>
<polygon points="533.89,1104.4 535.12,1107.7 538.64,1107.85 535.88,1110.05 536.83,1113.44 533.89,1111.5 530.95,1113.44 531.89,1110.05 529.13,1107.85 532.65,1107.7" fill="#000"/>
<polygon points="558.14,1103.63 559.37,1106.93 562.89,1107.08 560.13,1109.28 561.08,1112.67 558.14,1110.73 555.2,1112.67 556.14,1109.28 553.38,1107.08 556.9,1106.93" fill="#000"/>
<polygon points="578.15,1105.17 579.39,1108.47 582.91,1108.62 580.15,1110.82 581.09,1114.21 578.15,1112.27 575.21,1114.21 576.16,1110.82 573.4,1108.62 576.92,1108.47" fill="#000"/>
<polygon points="595.47,1107.48 596.71,1110.78 600.23,1110.93 597.47,1113.13 598.41,1116.52 595.47,1114.58 592.53,1116.52 593.48,1113.13 590.72,1110.93 594.24,1110.78" fill="#000"/>
<polygon points="615.49,1107.48 616.72,1110.78 620.24,1110.93 617.49,1113.13 618.43,1116.52 615.49,1114.58 612.55,1116.52 613.49,1113.13 610.73,1110.93 614.25,1110.78" fill="#000"/>
<polygon points="637.81,1107.48 639.05,1110.78 642.57,1110.93 639.81,1113.13 640.75,1116.52 637.81,1114.58 634.87,1116.52 635.82,1113.13 633.06,1110.93 636.58,1110.78" fill="#000"/>
<polygon points="662.83,1108.25 664.07,1111.55 667.59,1111.7 664.83,1113.9 665.77,1117.29 662.83,1115.35 659.89,1117.29 660.84,1113.9 658.08,1111.7 661.6,1111.55" fill="#000"/>
<polygon points="674.38,1108.25 675.61,1111.55 679.14,1111.7 676.38,1113.9 677.32,1117.29 674.38,1115.35 671.44,1117.29 672.38,1113.9 669.63,1111.7 673.15,1111.55" fill="#000"/>
<polygon points="692.86,1108.25 694.09,1111.55 697.61,1111.7 694.85,1113.9 695.79,1117.29 692.86,1115.35 689.92,1117.29 690.86,1113.9 688.1,1111.7 691.62,1111.55" fill="#000"/>
<polygon points="707.87,1108.25 709.1,1111.55 712.62,1111.7 709.86,1113.9 710.81,1117.29 707.87,1115.35 704.93,1117.29 705.87,1113.9 703.11,1111.7 706.63,1111.55" fill="#000"/>
<polygon points="732.89,1107.48 734.12,1110.78 737.64,1110.93 734.88,1113.13 735.83,1116.52 732.89,1114.58 729.95,1116.52 730.89,1113.13 728.13,1110.93 731.65,1110.78" fill="#000"/>
<polygon points="746.36,1107.48 747.59,1110.78 751.11,1110.93 748.36,1113.13 749.3,1116.52 746.36,1114.58 743.42,1116.52 744.36,1113.13 741.6,1110.93 745.12,1110.78" fill="#000"/>
<polygon points="769.45,1107.48 770.69,1110.78 774.21,1110.93 771.45,1113.13 772.39,1116.52 769.45,1114.58 766.51,1116.52 767.46,1113.13 764.7,1110.93 768.22,1110.78" fill="#000"/>
<polygon points="790.62,1108.25 791.86,1111.55 795.38,1111.7 792.62,1113.9 793.56,1117.29 790.62,1115.35 787.68,1117.29 788.63,1113.9 785.87,1111.7 789.39,1111.55" fill="#000"/>
<polygon points="803.33,1108.25 804.56,1111.55 808.08,1111.7 805.32,1113.9 806.26,1117.29 803.33,1115.35 800.39,1117.29 801.33,1113.9 798.57,1111.7 802.09,1111.55" fill="#000"/>
<polygon points="833.35,1107.48 834.58,1110.78 838.1,1110.93 835.35,1113.13 836.29,1116.52 833.35,1114.58 830.41,1116.52 831.35,1113.13 828.59,1110.93 832.11,1110.78" fill="#000"/>
<polygon points="851.44,1108.25 852.67,1111.55 856.19,1111.7 853.44,1113.9 854.38,1117.29 851.44,1115.35 848.5,1117.29 849.44,1113.9 846.68,1111.7 850.21,1111.55" fill="#000"/>
<polygon points="864.91,1108.25 866.15,1111.55 869.67,1111.7 866.91,1113.9 867.85,1117.29 864.91,1115.35 861.97,1117.29 862.91,1113.9 860.16,1111.7 863.68,1111.55" fill="#000"/>
<polygon points="882.23,1108.25 883.47,1111.55 886.99,1111.7 884.23,1113.9 885.17,1117.29 882.23,1115.35 879.29,1117.29 880.24,1113.9 877.48,1111.7 881,1111.55" fill="#000"/>
<polygon points="897.63,1108.25 898.86,1111.55 902.38,1111.7 899.63,1113.9 900.57,1117.29 897.63,1115.35 894.69,1117.29 895.63,1113.9 892.87,1111.7 896.39,1111.55" fill="#000"/>
<polygon points="921.88,1108.25 923.11,1111.55 926.63,1111.7 923.88,1113.9 924.82,1117.29 921.88,1115.35 918.94,1117.29 919.88,1113.9 917.12,1111.7 920.64,1111.55" fill="#000"/>
<polygon points="938.04,1109.79 939.28,1113.09 942.8,1113.24 940.04,1115.44 940.98,1118.83 938.04,1116.89 935.11,1118.83 936.05,1115.44 933.29,1113.24 936.81,1113.09" fill="#000"/>
<polygon points="961.14,1109.02 962.37,1112.32 965.89,1112.47 963.14,1114.67 964.08,1118.06 961.14,1116.12 958.2,1118.06 959.14,1114.67 956.38,1112.47 959.9,1112.32" fill="#000"/>
<polygon points="98.86,1155.82 103.86,1160.82 98.86,1165.82 93.86,1160.82" fill="#7e5caa"/>
<polygon points="130.57,1155.82 135.57,1160.82 130.57,1165.82 125.57,1160.82" fill="#7e5caa"/>
<polygon points="162.6,1150.58 167.6,1155.58 162.6,1160.58 157.6,1155.58" fill="#7e5caa"/>
<polygon points="226.34,1137.65 231.34,1142.65 226.34,1147.65 221.34,1142.65" fill="#7e5caa"/>
<polygon points="258.36,1136.11 263.36,1141.11 258.36,1146.11 253.36,1141.11" fill="#7e5caa"/>
<polygon points="290.39,1138.88 295.39,1143.88 290.39,1148.88 285.39,1143.88" fill="#7e5caa"/>
<polygon points="322.41,1138.26 327.41,1143.26 322.41,1148.26 317.41,1143.26" fill="#7e5caa"/>
<polygon points="354.13,1130.57 359.13,1135.57 354.13,1140.57 349.13,1135.57" fill="#7e5caa"/>
<polygon points="386.46,1122.87 391.46,1127.87 386.46,1132.87 381.46,1127.87" fill="#7e5caa"/>
<polygon points="418.18,1127.79 423.18,1132.79 418.18,1137.79 413.18,1132.79" fill="#7e5caa"/>
<polygon points="450.2,1121.33 455.2,1126.33 450.2,1131.33 445.2,1126.33" fill="#7e5caa"/>
<polygon points="482.23,1115.17 487.23,1120.17 482.23,1125.17 477.23,1120.17" fill="#7e5caa"/>
<polygon points="513.87,1123.65 518.87,1128.65 513.87,1133.65 508.87,1128.65" fill="#7e5caa"/>
<polygon points="546.2,1117.87 551.2,1122.87 546.2,1127.87 541.2,1122.87" fill="#7e5caa"/>
<polygon points="578.15,1118.64 583.15,1123.64 578.15,1128.64 573.15,1123.64" fill="#7e5caa"/>
<polygon points="674.38,1119.8 679.38,1124.8 674.38,1129.8 669.38,1124.8" fill="#7e5caa"/>
<polygon points="706.33,1115.18 711.33,1120.18 706.33,1125.18 701.33,1120.18" fill="#7e5caa"/>
<polygon points="737.89,1118.64 742.89,1123.64 737.89,1128.64 732.89,1123.64" fill="#7e5caa"/>
<polygon points="770.22,1121.72 775.22,1126.72 770.22,1131.72 765.22,1126.72" fill="#7e5caa"/>
<polygon points="802.17,1121.72 807.17,1126.72 802.17,1131.72 797.17,1126.72" fill="#7e5caa"/>
<polygon points="834.12,1117.1 839.12,1122.1 834.12,1127.1 829.12,1122.1" fill="#7e5caa"/>
<polygon points="866.07,1119.8 871.07,1124.8 866.07,1129.8 861.07,1124.8" fill="#7e5caa"/>
<polygon points="898.01,1111.33 903.01,1116.33 898.01,1121.33 893.01,1116.33" fill="#7e5caa"/>
<polygon points="929.58,1112.1 934.58,1117.1 929.58,1122.1 924.58,1117.1" fill="#7e5caa"/>
<polygon points="961.91,1112.87 966.91,1117.87 961.91,1122.87 956.91,1117.87" fill="#7e5caa"/>
<rect x="82.5" y="907.5" width="895.0" height="264.0" fill="none" stroke="#000" stroke-width="3"/>
<line x1="82.5" y1="947.3" x2="90.3" y2="947.3" stroke="#000" stroke-width="3" />
<line x1="82.5" y1="987.3" x2="90.3" y2="987.3" stroke="#000" stroke-width="3" />
<line x1="82.5" y1="1027.3" x2="90.3" y2="1027.3" stroke="#000" stroke-width="3" />
<line x1="82.5" y1="1067.3" x2="90.3" y2="1067.3" stroke="#000" stroke-width="3" />
<line x1="82.5" y1="1107.3" x2="90.3" y2="1107.3" stroke="#000" stroke-width="3" />
<line x1="82.5" y1="1147.3" x2="90.3" y2="1147.3" stroke="#000" stroke-width="3" />
<line x1="82.5" y1="927.3" x2="86.7" y2="927.3" stroke="#000" stroke-width="3" />
<line x1="82.5" y1="967.3" x2="86.7" y2="967.3" stroke="#000" stroke-width="3" />
<line x1="82.5" y1="1007.3" x2="86.7" y2="1007.3" stroke="#000" stroke-width="3" />
<line x1="82.5" y1="1047.3" x2="86.7" y2="1047.3" stroke="#000" stroke-width="3" />
<line x1="82.5" y1="1087.3" x2="86.7" y2="1087.3" stroke="#000" stroke-width="3" />
<line x1="82.5" y1="1127.3" x2="86.7" y2="1127.3" stroke="#000" stroke-width="3" />
<line x1="82.5" y1="1167.3" x2="86.7" y2="1167.3" stroke="#000" stroke-width="3" />
<line x1="977.5" y1="947.3" x2="969.7" y2="947.3" stroke="#000" stroke-width="3" />
<line x1="977.5" y1="987.3" x2="969.7" y2="987.3" stroke="#000" stroke-width="3" />
<line x1="977.5" y1="1027.3" x2="969.7" y2="1027.3" stroke="#000" stroke-width="3" />
<line x1="977.5" y1="1067.3" x2="969.7" y2="1067.3" stroke="#000" stroke-width="3" />
<line x1="977.5" y1="1107.3" x2="969.7" y2="1107.3" stroke="#000" stroke-width="3" />
<line x1="977.5" y1="1147.3" x2="969.7" y2="1147.3" stroke="#000" stroke-width="3" />
<line x1="977.5" y1="927.3" x2="973.3" y2="927.3" stroke="#000" stroke-width="3" />
<line x1="977.5" y1="967.3" x2="973.3" y2="967.3" stroke="#000" stroke-width="3" />
<line x1="977.5" y1="1007.3" x2="973.3" y2="1007.3" stroke="#000" stroke-width="3" />
<line x1="977.5" y1="1047.3" x2="973.3" y2="1047.3" stroke="#000" stroke-width="3" />
<line x1="977.5" y1="1087.3" x2="973.3" y2="1087.3" stroke="#000" stroke-width="3" />
<line x1="977.5" y1="1127.3" x2="973.3" y2="1127.3" stroke="#000" stroke-width="3" />
<line x1="977.5" y1="1167.3" x2="973.3" y2="1167.3" stroke="#000" stroke-width="3" />
<text x="74" y="915.8" font-family="Liberation Serif" font-size="25" font-weight="bold" fill="#000" text-anchor="end" >650</text>
<text x="986.5" y="915.8" font-family="Liberation Serif" font-size="25" font-weight="bold" fill="#000" text-anchor="start" >650</text>
<text x="74" y="955.8" font-family="Liberation Serif" font-size="25" font-weight="bold" fill="#000" text-anchor="end" >600</text>
<text x="986.5" y="955.8" font-family="Liberation Serif" font-size="25" font-weight="bold" fill="#000" text-anchor="start" >600</text>
<text x="74" y="995.8" font-family="Liberation Serif" font-size="25" font-weight="bold" fill="#000" text-anchor="end" >550</text>
<text x="986.5" y="995.8" font-family="Liberation Serif" font-size="25" font-weight="bold" fill="#000" text-anchor="start" >550</text>
<text x="74" y="1035.8" font-family="Liberation Serif" font-size="25" font-weight="bold" fill="#000" text-anchor="end" >500</text>
<text x="986.5" y="1035.8" font-family="Liberation Serif" font-size="25" font-weight="bold" fill="#000" text-anchor="start" >500</text>
<text x="74" y="1075.8" font-family="Liberation Serif" font-size="25" font-weight="bold" fill="#000" text-anchor="end" >450</text>
<text x="986.5" y="1075.8" font-family="Liberation Serif" font-size="25" font-weight="bold" fill="#000" text-anchor="start" >450</text>
<text x="74" y="1115.8" font-family="Liberation Serif" font-size="25" font-weight="bold" fill="#000" text-anchor="end" >400</text>
<text x="986.5" y="1115.8" font-family="Liberation Serif" font-size="25" font-weight="bold" fill="#000" text-anchor="start" >400</text>
<text x="74" y="1155.8" font-family="Liberation Serif" font-size="25" font-weight="bold" fill="#000" text-anchor="end" >350</text>
<text x="986.5" y="1155.8" font-family="Liberation Serif" font-size="25" font-weight="bold" fill="#000" text-anchor="start" >350</text>
<text x="131.5" y="933.5" font-family="Liberation Sans" font-size="30" font-weight="bold" fill="#000" text-anchor="start" >D</text>
<line x1="1084.3" y1="906.5" x2="1084.3" y2="1172.5" stroke="#3a56b0" stroke-width="3" />
<line x1="1084.3" y1="927.6" x2="1076.5" y2="927.6" stroke="#3a56b0" stroke-width="3" />
<line x1="1084.3" y1="968.03" x2="1076.5" y2="968.03" stroke="#3a56b0" stroke-width="3" />
<line x1="1084.3" y1="1008.47" x2="1076.5" y2="1008.47" stroke="#3a56b0" stroke-width="3" />
<line x1="1084.3" y1="1048.9" x2="1076.5" y2="1048.9" stroke="#3a56b0" stroke-width="3" />
<line x1="1084.3" y1="1089.34" x2="1076.5" y2="1089.34" stroke="#3a56b0" stroke-width="3" />
<line x1="1084.3" y1="1129.77" x2="1076.5" y2="1129.77" stroke="#3a56b0" stroke-width="3" />
<line x1="1084.3" y1="1170.2" x2="1076.5" y2="1170.2" stroke="#3a56b0" stroke-width="3" />
<line x1="1084.3" y1="907.38" x2="1080.1" y2="907.38" stroke="#3a56b0" stroke-width="3" />
<line x1="1084.3" y1="947.82" x2="1080.1" y2="947.82" stroke="#3a56b0" stroke-width="3" />
<line x1="1084.3" y1="988.25" x2="1080.1" y2="988.25" stroke="#3a56b0" stroke-width="3" />
<line x1="1084.3" y1="1028.68" x2="1080.1" y2="1028.68" stroke="#3a56b0" stroke-width="3" />
<line x1="1084.3" y1="1069.12" x2="1080.1" y2="1069.12" stroke="#3a56b0" stroke-width="3" />
<line x1="1084.3" y1="1109.55" x2="1080.1" y2="1109.55" stroke="#3a56b0" stroke-width="3" />
<line x1="1084.3" y1="1149.99" x2="1080.1" y2="1149.99" stroke="#3a56b0" stroke-width="3" />
<text x="1094.5" y="935.8" font-family="Liberation Serif" font-size="23" font-weight="bold" fill="#3a56b0" text-anchor="start" >2020</text>
<text x="1094.5" y="976.23" font-family="Liberation Serif" font-size="23" font-weight="bold" fill="#3a56b0" text-anchor="start" >2000</text>
<text x="1094.5" y="1016.67" font-family="Liberation Serif" font-size="23" font-weight="bold" fill="#3a56b0" text-anchor="start" >1980</text>
<text x="1094.5" y="1057.1" font-family="Liberation Serif" font-size="23" font-weight="bold" fill="#3a56b0" text-anchor="start" >1960</text>
<text x="1094.5" y="1097.54" font-family="Liberation Serif" font-size="23" font-weight="bold" fill="#3a56b0" text-anchor="start" >1940</text>
<text x="1094.5" y="1137.97" font-family="Liberation Serif" font-size="23" font-weight="bold" fill="#3a56b0" text-anchor="start" >1920</text>
<text x="1094.5" y="1178.4" font-family="Liberation Serif" font-size="23" font-weight="bold" fill="#3a56b0" text-anchor="start" >1900</text>
<text transform="translate(19.1,1042.75) rotate(-90)" x="0" y="0" font-family="Liberation Serif" font-size="28" font-weight="bold" fill="#000" text-anchor="middle" textLength="154.5" lengthAdjust="spacing"><tspan font-style="italic">p</tspan>CO<tspan font-size="17" dy="6">2</tspan><tspan dy="-6"> (μatm)</tspan></text>
<text transform="translate(1047.5,1032) rotate(-90)" x="0" y="0" font-family="Liberation Serif" font-size="27" font-weight="bold" fill="#000" text-anchor="middle" textLength="236" lengthAdjust="spacing">discrete <tspan font-style="italic">p</tspan>CO<tspan font-size="17" dy="6">2</tspan><tspan dy="-6"> (μatm)</tspan></text>
<text transform="translate(1176.5,1032.05) rotate(-90)" x="0" y="0" font-family="Liberation Serif" font-size="26" font-weight="bold" fill="#3a56b0" text-anchor="middle" textLength="254.9" lengthAdjust="spacing">discrete DIC (μmol/kg)</text>
<circle cx="780" cy="929.6" r="4.2" fill="#e8489a"/>
<text x="813" y="937" font-family="Liberation Serif" font-size="23" font-weight="bold"><tspan font-style="italic">p</tspan>CO<tspan font-size="15" dy="5">2</tspan><tspan font-size="17" dy="-14">seawater</tspan></text>
<polygon points="780,960 781.23,963.3 784.76,963.45 782,965.65 782.94,969.05 780,967.1 777.06,969.05 778,965.65 775.24,963.45 778.77,963.3" fill="#000"/>
<text x="813" y="972" font-family="Liberation Serif" font-size="23" font-weight="bold"><tspan font-style="italic">p</tspan>CO<tspan font-size="15" dy="5">2</tspan><tspan font-size="17" dy="-14">air</tspan></text>
<circle cx="780" cy="999" r="4.5" fill="#a8802c"/>
<text x="816" y="1006" font-family="Liberation Serif" font-size="23" font-weight="bold">n-<tspan font-style="italic">p</tspan>CO<tspan font-size="15" dy="5">2</tspan></text>
<rect x="776.75" y="1024.15" width="6.5" height="6.5" fill="#3a56b0"/>
<text x="809" y="1035" font-family="Liberation Serif" font-size="23" font-weight="bold" fill="#000" text-anchor="start" >discrete DIC</text>
<polygon points="780,1047.8 785,1052.8 780,1057.8 775,1052.8" fill="#7e5caa"/>
<text x="809" y="1060.5" font-family="Liberation Serif" font-size="23" font-weight="bold">discrete <tspan font-style="italic">p</tspan>CO<tspan font-size="15" dy="5">2</tspan></text>
<line x1="84" y1="1389.2" x2="979.2" y2="1389.2" stroke="#000" stroke-width="1.5" stroke-dasharray="9,3,2,3"/>
<rect x="96.17" y="1263.29" width="3.2" height="3.2" fill="#8a8a8a"/>
<rect x="98.02" y="1261.4" width="3.2" height="3.2" fill="#8a8a8a"/>
<rect x="96.85" y="1261.6" width="3.2" height="3.2" fill="#8a8a8a"/>
<rect x="95.33" y="1263.02" width="3.2" height="3.2" fill="#8a8a8a"/>
<rect x="99.44" y="1264.3" width="3.2" height="3.2" fill="#8a8a8a"/>
<rect x="95.06" y="1264.04" width="3.2" height="3.2" fill="#8a8a8a"/>
<rect x="99.42" y="1259.14" width="3.2" height="3.2" fill="#8a8a8a"/>
<rect x="96.68" y="1256.84" width="3.2" height="3.2" fill="#8a8a8a"/>
<rect x="98.43" y="1256.98" width="3.2" height="3.2" fill="#8a8a8a"/>
<rect x="98.24" y="1260.03" width="3.2" height="3.2" fill="#8a8a8a"/>
<rect x="97.44" y="1256.56" width="3.2" height="3.2" fill="#8a8a8a"/>
<rect x="96.91" y="1252.61" width="3.2" height="3.2" fill="#8a8a8a"/>
<rect x="96.46" y="1250.25" width="3.2" height="3.2" fill="#8a8a8a"/>
<rect x="94.51" y="1256.68" width="3.2" height="3.2" fill="#8a8a8a"/>
<rect x="96.08" y="1248.88" width="3.2" height="3.2" fill="#8a8a8a"/>
<rect x="96.46" y="1248.35" width="3.2" height="3.2" fill="#8a8a8a"/>
<rect x="97.84" y="1247.65" width="3.2" height="3.2" fill="#8a8a8a"/>
<rect x="95.11" y="1250.51" width="3.2" height="3.2" fill="#8a8a8a"/>
<rect x="100.23" y="1244.26" width="3.2" height="3.2" fill="#8a8a8a"/>
<rect x="98.76" y="1248.24" width="3.2" height="3.2" fill="#8a8a8a"/>
<rect x="97.94" y="1248.66" width="3.2" height="3.2" fill="#8a8a8a"/>
<rect x="94.6" y="1248.17" width="3.2" height="3.2" fill="#8a8a8a"/>
<rect x="98.96" y="1249.6" width="3.2" height="3.2" fill="#8a8a8a"/>
<rect x="102.25" y="1249.63" width="3.2" height="3.2" fill="#8a8a8a"/>
<rect x="101.99" y="1254.46" width="3.2" height="3.2" fill="#8a8a8a"/>
<rect x="101.63" y="1252.23" width="3.2" height="3.2" fill="#8a8a8a"/>
<rect x="100.33" y="1256.23" width="3.2" height="3.2" fill="#8a8a8a"/>
<rect x="97.66" y="1251.9" width="3.2" height="3.2" fill="#8a8a8a"/>
<rect x="97.7" y="1255.31" width="3.2" height="3.2" fill="#8a8a8a"/>
<rect x="100.78" y="1258.56" width="3.2" height="3.2" fill="#8a8a8a"/>
<rect x="104.89" y="1256.25" width="3.2" height="3.2" fill="#8a8a8a"/>
<rect x="101.85" y="1254.14" width="3.2" height="3.2" fill="#8a8a8a"/>
<rect x="104.42" y="1255.24" width="3.2" height="3.2" fill="#8a8a8a"/>
<rect x="100.32" y="1257.75" width="3.2" height="3.2" fill="#8a8a8a"/>
<rect x="100.21" y="1251.16" width="3.2" height="3.2" fill="#8a8a8a"/>
<rect x="103.26" y="1256.79" width="3.2" height="3.2" fill="#8a8a8a"/>
<rect x="101.66" y="1249.88" width="3.2" height="3.2" fill="#8a8a8a"/>
<rect x="106.22" y="1250.37" width="3.2" height="3.2" fill="#8a8a8a"/>
<rect x="107.96" y="1246.35" width="3.2" height="3.2" fill="#8a8a8a"/>
<rect x="103.12" y="1248.39" width="3.2" height="3.2" fill="#8a8a8a"/>
<rect x="108.16" y="1245.14" width="3.2" height="3.2" fill="#8a8a8a"/>
<rect x="106.94" y="1250.63" width="3.2" height="3.2" fill="#8a8a8a"/>
<rect x="109.81" y="1248.27" width="3.2" height="3.2" fill="#8a8a8a"/>
<rect x="103.35" y="1246.01" width="3.2" height="3.2" fill="#8a8a8a"/>
<rect x="106.06" y="1244" width="3.2" height="3.2" fill="#8a8a8a"/>
<rect x="106.24" y="1248.29" width="3.2" height="3.2" fill="#8a8a8a"/>
<rect x="110.1" y="1244.57" width="3.2" height="3.2" fill="#8a8a8a"/>
<rect x="108.07" y="1244.12" width="3.2" height="3.2" fill="#8a8a8a"/>
<rect x="114.1" y="1249.45" width="3.2" height="3.2" fill="#8a8a8a"/>
<rect x="110.92" y="1250.9" width="3.2" height="3.2" fill="#8a8a8a"/>
<rect x="116" y="1246.39" width="3.2" height="3.2" fill="#8a8a8a"/>
<rect x="110.93" y="1246.28" width="3.2" height="3.2" fill="#8a8a8a"/>
<rect x="115.09" y="1249.87" width="3.2" height="3.2" fill="#8a8a8a"/>
<rect x="114.32" y="1251.13" width="3.2" height="3.2" fill="#8a8a8a"/>
<rect x="115.94" y="1248.68" width="3.2" height="3.2" fill="#8a8a8a"/>
<rect x="116.91" y="1253.12" width="3.2" height="3.2" fill="#8a8a8a"/>
<rect x="114.12" y="1250.65" width="3.2" height="3.2" fill="#8a8a8a"/>
<rect x="114.75" y="1252.48" width="3.2" height="3.2" fill="#8a8a8a"/>
<rect x="118.64" y="1253.74" width="3.2" height="3.2" fill="#8a8a8a"/>
<rect x="120.31" y="1254.58" width="3.2" height="3.2" fill="#8a8a8a"/>
<rect x="121.52" y="1252.65" width="3.2" height="3.2" fill="#8a8a8a"/>
<rect x="124.29" y="1254.1" width="3.2" height="3.2" fill="#8a8a8a"/>
<rect x="121.68" y="1249.82" width="3.2" height="3.2" fill="#8a8a8a"/>
<rect x="125.77" y="1249.54" width="3.2" height="3.2" fill="#8a8a8a"/>
<rect x="127.63" y="1256.24" width="3.2" height="3.2" fill="#8a8a8a"/>
<rect x="125.79" y="1256.35" width="3.2" height="3.2" fill="#8a8a8a"/>
<rect x="127.26" y="1255.55" width="3.2" height="3.2" fill="#8a8a8a"/>
<rect x="127.18" y="1251.88" width="3.2" height="3.2" fill="#8a8a8a"/>
<rect x="124.44" y="1257.29" width="3.2" height="3.2" fill="#8a8a8a"/>
<rect x="127.05" y="1252.96" width="3.2" height="3.2" fill="#8a8a8a"/>
<rect x="128.68" y="1255.7" width="3.2" height="3.2" fill="#8a8a8a"/>
<rect x="126.61" y="1259.98" width="3.2" height="3.2" fill="#8a8a8a"/>
<rect x="129.98" y="1260.84" width="3.2" height="3.2" fill="#8a8a8a"/>
<rect x="131.37" y="1258.66" width="3.2" height="3.2" fill="#8a8a8a"/>
<rect x="129.69" y="1260.39" width="3.2" height="3.2" fill="#8a8a8a"/>
<rect x="129.03" y="1262.82" width="3.2" height="3.2" fill="#8a8a8a"/>
<rect x="133.6" y="1261.21" width="3.2" height="3.2" fill="#8a8a8a"/>
<rect x="132.39" y="1260.63" width="3.2" height="3.2" fill="#8a8a8a"/>
<rect x="128.34" y="1265.68" width="3.2" height="3.2" fill="#8a8a8a"/>
<rect x="133.72" y="1263.19" width="3.2" height="3.2" fill="#8a8a8a"/>
<rect x="136.13" y="1267.68" width="3.2" height="3.2" fill="#8a8a8a"/>
<rect x="131.42" y="1267.97" width="3.2" height="3.2" fill="#8a8a8a"/>
<rect x="135.65" y="1265.36" width="3.2" height="3.2" fill="#8a8a8a"/>
<rect x="136.13" y="1267.42" width="3.2" height="3.2" fill="#8a8a8a"/>
<rect x="132.24" y="1268.75" width="3.2" height="3.2" fill="#8a8a8a"/>
<rect x="134.02" y="1269.8" width="3.2" height="3.2" fill="#8a8a8a"/>
<rect x="132.96" y="1268.26" width="3.2" height="3.2" fill="#8a8a8a"/>
<rect x="135.32" y="1272.86" width="3.2" height="3.2" fill="#8a8a8a"/>
<rect x="136.34" y="1272.35" width="3.2" height="3.2" fill="#8a8a8a"/>
<rect x="137.48" y="1269.69" width="3.2" height="3.2" fill="#8a8a8a"/>
<rect x="132.96" y="1271.43" width="3.2" height="3.2" fill="#8a8a8a"/>
<rect x="135.94" y="1274.97" width="3.2" height="3.2" fill="#8a8a8a"/>
<rect x="134.23" y="1276.72" width="3.2" height="3.2" fill="#8a8a8a"/>
<rect x="132.66" y="1273.29" width="3.2" height="3.2" fill="#8a8a8a"/>
<rect x="139.95" y="1280.97" width="3.2" height="3.2" fill="#8a8a8a"/>
<rect x="133.7" y="1279.36" width="3.2" height="3.2" fill="#8a8a8a"/>
<rect x="137.34" y="1280.27" width="3.2" height="3.2" fill="#8a8a8a"/>
<rect x="139.67" y="1280.99" width="3.2" height="3.2" fill="#8a8a8a"/>
<rect x="142.3" y="1281.66" width="3.2" height="3.2" fill="#8a8a8a"/>
<rect x="142.12" y="1277.7" width="3.2" height="3.2" fill="#8a8a8a"/>
<rect x="143.39" y="1279.51" width="3.2" height="3.2" fill="#8a8a8a"/>
<rect x="144.08" y="1282.81" width="3.2" height="3.2" fill="#8a8a8a"/>
<rect x="146.33" y="1282.94" width="3.2" height="3.2" fill="#8a8a8a"/>
<rect x="142.3" y="1281.32" width="3.2" height="3.2" fill="#8a8a8a"/>
<rect x="146.96" y="1278.45" width="3.2" height="3.2" fill="#8a8a8a"/>
<rect x="145.26" y="1282.02" width="3.2" height="3.2" fill="#8a8a8a"/>
<rect x="148.27" y="1279.78" width="3.2" height="3.2" fill="#8a8a8a"/>
<rect x="147.49" y="1282.53" width="3.2" height="3.2" fill="#8a8a8a"/>
<rect x="147.68" y="1281.49" width="3.2" height="3.2" fill="#8a8a8a"/>
<rect x="151.33" y="1279.31" width="3.2" height="3.2" fill="#8a8a8a"/>
<rect x="150.45" y="1279.45" width="3.2" height="3.2" fill="#8a8a8a"/>
<rect x="152.63" y="1277.95" width="3.2" height="3.2" fill="#8a8a8a"/>
<rect x="150.53" y="1278.15" width="3.2" height="3.2" fill="#8a8a8a"/>
<rect x="153.09" y="1276.48" width="3.2" height="3.2" fill="#8a8a8a"/>
<rect x="157.13" y="1278.26" width="3.2" height="3.2" fill="#8a8a8a"/>
<rect x="155.4" y="1277.63" width="3.2" height="3.2" fill="#8a8a8a"/>
<rect x="152.23" y="1276.78" width="3.2" height="3.2" fill="#8a8a8a"/>
<rect x="156.04" y="1274.71" width="3.2" height="3.2" fill="#8a8a8a"/>
<rect x="160.66" y="1277.53" width="3.2" height="3.2" fill="#8a8a8a"/>
<rect x="157.02" y="1273.62" width="3.2" height="3.2" fill="#8a8a8a"/>
<rect x="157.07" y="1276.55" width="3.2" height="3.2" fill="#8a8a8a"/>
<rect x="159.89" y="1275.41" width="3.2" height="3.2" fill="#8a8a8a"/>
<rect x="160.28" y="1276.86" width="3.2" height="3.2" fill="#8a8a8a"/>
<rect x="160.84" y="1279.78" width="3.2" height="3.2" fill="#8a8a8a"/>
<rect x="162.05" y="1280.98" width="3.2" height="3.2" fill="#8a8a8a"/>
<rect x="162.78" y="1276.32" width="3.2" height="3.2" fill="#8a8a8a"/>
<rect x="164.56" y="1279.89" width="3.2" height="3.2" fill="#8a8a8a"/>
<rect x="165.28" y="1283.06" width="3.2" height="3.2" fill="#8a8a8a"/>
<rect x="164.38" y="1282.73" width="3.2" height="3.2" fill="#8a8a8a"/>
<rect x="163.53" y="1281.33" width="3.2" height="3.2" fill="#8a8a8a"/>
<rect x="163.92" y="1282.84" width="3.2" height="3.2" fill="#8a8a8a"/>
<rect x="167" y="1280.24" width="3.2" height="3.2" fill="#8a8a8a"/>
<rect x="169.32" y="1279.95" width="3.2" height="3.2" fill="#8a8a8a"/>
<rect x="167.45" y="1282.19" width="3.2" height="3.2" fill="#8a8a8a"/>
<rect x="172.19" y="1278" width="3.2" height="3.2" fill="#8a8a8a"/>
<rect x="169.69" y="1284.14" width="3.2" height="3.2" fill="#8a8a8a"/>
<rect x="171.74" y="1279.96" width="3.2" height="3.2" fill="#8a8a8a"/>
<rect x="173.81" y="1280.51" width="3.2" height="3.2" fill="#8a8a8a"/>
<rect x="178.35" y="1285.06" width="3.2" height="3.2" fill="#8a8a8a"/>
<rect x="172.62" y="1279.76" width="3.2" height="3.2" fill="#8a8a8a"/>
<rect x="174.88" y="1281.57" width="3.2" height="3.2" fill="#8a8a8a"/>
<rect x="175.67" y="1283.18" width="3.2" height="3.2" fill="#8a8a8a"/>
<rect x="181.84" y="1279.24" width="3.2" height="3.2" fill="#8a8a8a"/>
<rect x="175.82" y="1279.53" width="3.2" height="3.2" fill="#8a8a8a"/>
<rect x="179.77" y="1279.96" width="3.2" height="3.2" fill="#8a8a8a"/>
<rect x="180.62" y="1281.57" width="3.2" height="3.2" fill="#8a8a8a"/>
<rect x="184.65" y="1286.07" width="3.2" height="3.2" fill="#8a8a8a"/>
<rect x="186.4" y="1282.24" width="3.2" height="3.2" fill="#8a8a8a"/>
<polyline points="186.62,1298.36 187.85,1296.77 189.08,1295.68 190.31,1293.72 191.54,1292.08 192.78,1289.96 194.01,1293.27 195.24,1294.05 196.47,1296.35 197.7,1297.01 198.93,1298.21 200.25,1300.22 201.57,1300.92 202.89,1302.79 204.21,1303.37 205.53,1305.3 206.85,1305.39 208.17,1307.98 210.02,1308.55 211.87,1307.01 213.71,1309.27 215.56,1307.92 217.41,1309.27 219.26,1309.67 221.1,1311.67 222.95,1310.24 224.8,1311.06 226.65,1310.91 228.7,1309.53 230.75,1308.24 232.81,1307.82 234.65,1307.23 236.5,1307.3 238.35,1308.03 240.2,1308.04 242.04,1307.67 243.89,1307.99 245.74,1307.84 247.59,1308.48 249.43,1307.94 251.28,1308.43 253.13,1308.53 254.98,1309.76 256.82,1309.23 258.67,1308.7 260.52,1308.07 262.37,1309.8 264.21,1309.81 266.06,1309.29 267.91,1309.87 269.76,1308.71 271.57,1309.35 273.38,1310.5 275.19,1309.14 277,1308.77 278.81,1309.82 280.63,1309.06 282.44,1310.1 284.25,1308.53 286.06,1309.35 287.87,1310.48 289.68,1309.35 291.49,1309.88 293.31,1308.3 295.12,1308.63 296.93,1309.88 298.74,1308.85 300.55,1309.57 302.38,1309.43 304.2,1309.16 306.02,1308.58 307.85,1309.03 309.67,1309.69 311.5,1308.93 313.32,1309.31 315.15,1310.39 316.97,1311.15 318.8,1309.04 320.62,1309.49 322.45,1309.37 324.27,1310.63 326.1,1309.21 327.92,1309.56 329.75,1310 331.57,1308.51 333.4,1309.8 335.22,1308.75 337.05,1309.22 338.87,1309.36 340.7,1309.88 342.52,1310.28 344.34,1310.83 346.17,1308.94 347.99,1309.36 349.82,1309.44 351.87,1309.89 353.92,1311.14 355.98,1311.84 358.03,1313.03 360.08,1315.33 362.14,1314.9 364.03,1315.89 365.93,1315.5 367.82,1316.28 369.72,1316.4 371.61,1316.39 373.51,1318.83 375.4,1315.48 377.3,1316.06 379.19,1316 381.09,1316.48 382.98,1317.31 384.88,1316.57 386.77,1317.5 388.62,1315.93 390.47,1316.8 392.31,1315.38 394.16,1315.75 396.01,1314.2 397.97,1314.47 399.93,1314.4 401.89,1314.61 403.85,1314.98 405.81,1313.29 407.77,1313.52 409.73,1313.86 411.68,1314.12 413.64,1313.84 415.6,1313.23 417.56,1313.92 419.36,1312.69 421.16,1313.95 422.95,1314.36 424.75,1315.17 426.54,1315.92 428.34,1315.13 430.14,1316.45 431.93,1316.52 433.73,1317.23 435.53,1317.4 437.32,1315.94 439.12,1318.45 441.04,1316.65 442.97,1316.92 444.89,1316.54 446.82,1315.57 448.74,1313.91 450.67,1315.82 452.59,1316.17 454.52,1314.92 456.44,1314.98 458.36,1315.39 460.29,1317.03 462.21,1315.4 464.14,1317.87 466.06,1317.71 467.99,1318.76 469.91,1317.84 471.8,1319.62 473.68,1318.58 475.57,1318.65 477.46,1318.3 479.34,1317.66 481.23,1317.68 483.11,1318.98 485,1318.55" fill="none" stroke="#8a8a8a" stroke-width="3.5" stroke-linejoin="round" stroke-linecap="round" />
<polyline points="480,1316.31 481.92,1316.64 483.85,1316.99 485.77,1317.68 487.7,1317.67 489.62,1318.21 491.55,1318.25 493.47,1318.67 495.4,1318.43 497.32,1318.97 499.25,1319.55 501.17,1319.51 503.09,1321 505.02,1319.74 506.94,1320.85 508.87,1321.13 510.79,1321.36 512.6,1321.67 514.42,1321.36 516.23,1322.72 518.04,1322.49 519.85,1320.49 521.66,1322.02 523.47,1322.08 525.28,1322.52 527.1,1321.89 528.91,1321.23 530.72,1324.17 532.53,1320.55 534.34,1321.21 536.15,1322.25 537.96,1321.58 539.77,1321.78 541.59,1322.34 543.4,1322.75 545.21,1321.52 547.02,1320.95 548.83,1322.98 550.64,1322.73 552.45,1321.67 554.27,1321.93 556.08,1322.77 557.89,1321.98 559.7,1322.74 561.51,1323.29 563.32,1323.29 565.13,1322.93 566.94,1322.95 568.76,1323.06 570.57,1323.66 572.38,1323.48 574.43,1324.31 576.48,1323.01 578.54,1323.09 579.56,1320.76 580.59,1319.83 581.62,1318.62 582.64,1316.57 583.67,1314.72 584.7,1313.66 586.24,1311.77 587.78,1310.29 589.31,1309.29 590.85,1307.02 592.61,1306.2 594.37,1306.82 596.13,1306.59 597.89,1306.42 599.65,1306.11 601.41,1304.59 603.17,1304.7" fill="none" stroke="#8a8a8a" stroke-width="3.5" stroke-linejoin="round" stroke-linecap="round" />
<rect x="603.11" y="1301.95" width="3" height="3" fill="#8a8a8a"/>
<rect x="607.12" y="1301.25" width="3" height="3" fill="#8a8a8a"/>
<rect x="607.44" y="1293.66" width="3" height="3" fill="#8a8a8a"/>
<rect x="609.08" y="1291.95" width="3" height="3" fill="#8a8a8a"/>
<rect x="605.82" y="1291.09" width="3" height="3" fill="#8a8a8a"/>
<rect x="612.16" y="1286.8" width="3" height="3" fill="#8a8a8a"/>
<rect x="608.49" y="1280.38" width="3" height="3" fill="#8a8a8a"/>
<rect x="610.39" y="1271.24" width="3" height="3" fill="#8a8a8a"/>
<rect x="610.82" y="1269.94" width="3" height="3" fill="#8a8a8a"/>
<rect x="618.68" y="1268.09" width="3" height="3" fill="#8a8a8a"/>
<rect x="613.91" y="1275.88" width="3" height="3" fill="#8a8a8a"/>
<rect x="613.8" y="1272.59" width="3" height="3" fill="#8a8a8a"/>
<rect x="618.32" y="1284.56" width="3" height="3" fill="#8a8a8a"/>
<rect x="623.51" y="1271.82" width="3" height="3" fill="#8a8a8a"/>
<rect x="624.17" y="1275.05" width="3" height="3" fill="#8a8a8a"/>
<rect x="629.21" y="1278.41" width="3" height="3" fill="#8a8a8a"/>
<rect x="627.49" y="1282.11" width="3" height="3" fill="#8a8a8a"/>
<rect x="623.16" y="1290.24" width="3" height="3" fill="#8a8a8a"/>
<rect x="625.16" y="1295.22" width="3" height="3" fill="#8a8a8a"/>
<rect x="620.54" y="1293.29" width="3" height="3" fill="#8a8a8a"/>
<rect x="626.4" y="1298.53" width="3" height="3" fill="#8a8a8a"/>
<polyline points="630.89,1304.62 632.73,1306.01 634.58,1304.97 636.43,1304.59 638.28,1305.91 640.12,1305.3 641.97,1304.12 643.82,1306.27 645.67,1304.89 647.51,1304.31 649.36,1304.4 650.9,1306.42 652.44,1306.3 653.98,1308.62 655.52,1309.08 657.06,1309.74 658.6,1309.92 659.92,1313.16 661.24,1314.4 662.56,1315.44 663.88,1317.5 665.2,1318.79 666.52,1320.35 667.84,1323.57 669.38,1320.34 670.92,1318.27 672.46,1317.55 674,1316.82 675.54,1315.26 677.07,1313.49 678.61,1312.48 680.15,1312.31 681.69,1309.22 683.23,1310.24 685.29,1309.55 687.34,1308.88 689.39,1310.08 691.44,1311.12 693.5,1312.05 695.55,1313.21 697.09,1315.57 698.63,1317.7 700.17,1317.23 701.71,1319.55 703.76,1319.8 705.81,1321.03 707.87,1322.22 709.63,1321.28 711.39,1320.14 713.15,1320.65 714.91,1320.59 716.67,1319.46 718.43,1318.56 720.18,1319.09 722.03,1319.56 723.88,1318.22 725.73,1318.3 727.58,1318.42 729.42,1318.45 731.27,1318.35 733.12,1317.81 734.97,1317.79 736.81,1316.73 738.66,1318.43 740.51,1317.85 742.36,1317.31 744.2,1318.02 746.05,1317.95 747.9,1319.35 749.75,1318.5 751.59,1319.33 753.44,1319.39 755.29,1319.88 757.14,1319.54 758.98,1320.47 760.83,1320.8 762.68,1321.02 764.53,1321.39 766.37,1322.63 768.22,1323.42 770.07,1323.41 771.92,1324.23 773.76,1323.77 775.61,1322.95 777.46,1324.47 779.31,1324.64 781.15,1325.25 783,1325.1 784.85,1325.43 786.7,1324.97 788.55,1324.67 790.39,1324.29 792.24,1325.19 794.09,1324.02 795.94,1324.37 797.78,1323.63 799.63,1325.1 801.48,1325.18 803.33,1324.93 805.14,1324.05 806.95,1325.1 808.76,1324.44 810.57,1324.25 812.38,1324.39 814.19,1325.06 816.01,1323.94 817.82,1324.6 819.63,1324.72 821.44,1324.16 823.25,1324.47 825.06,1323.67 826.87,1323.58 828.68,1323.84 830.5,1324.58 832.31,1323.63 834.12,1324.55 836,1323.57 837.88,1323.84 839.76,1323.99 841.65,1324.06 843.53,1324.1 845.41,1323.88 847.29,1326.29 849.17,1325.34 851.05,1324.3 852.94,1325.84 854.82,1324.84 856.7,1326.54 858.58,1325.89 860.46,1327.2 862.35,1326.05 864.23,1325.64 866.11,1325.8 867.99,1326.54 869.99,1326.36 871.99,1326.14 874,1326.23 876,1325.74 878,1326.88 880,1326.87" fill="none" stroke="#8a8a8a" stroke-width="3.5" stroke-linejoin="round" stroke-linecap="round" />
<polyline points="880,1326.95 881.8,1326.57 883.61,1326.38 885.41,1326.93 887.21,1325.98 889.02,1326.51 890.82,1325.99 892.62,1328.22 894.43,1326.4 896.23,1325.56 898.03,1326.99 899.84,1326.13 901.64,1326.82 903.44,1326.61 905.25,1326.59 907.05,1324.66 908.85,1326.44 910.66,1326.12 912.46,1324.69 914.26,1326.32 916.07,1325.56 917.87,1326.3 919.67,1326.42 921.48,1325.32 923.28,1325.83 925.08,1327.04 926.89,1327.01 928.69,1326.27 930.49,1327.14 932.3,1327.42 934.1,1326.65 935.9,1326.7 937.71,1326.14 939.51,1326.63 941.31,1326.38 943.12,1326.23 944.92,1327.27 946.72,1326.94 948.53,1326.85 950.33,1325.79 952.13,1326.47 953.94,1326.72 955.74,1326.09 957.54,1326.05 959.35,1326.33 961.15,1326.76 962.95,1327.83 964.76,1326.56" fill="none" stroke="#8a8a8a" stroke-width="3.5" stroke-linejoin="round" stroke-linecap="round" />
<polyline points="97.32,1399.18 98.86,1401.06 100.4,1403.26 101.94,1404.77 103.48,1407.77 104.5,1408.3 105.53,1409.55 106.56,1411.18 107.58,1413.83 108.61,1416.46 109.63,1418.42 111.17,1416.87 112.71,1414.42 114.25,1414.18 115.79,1412.07 117.33,1410.5 118.87,1409.66 120.41,1406.5 121.95,1406.59 123.8,1405.66 125.65,1405.4 127.49,1404.48 129.34,1403.56 131.19,1404.96 132.73,1402.62 134.27,1400.74 135.81,1400.91 137.35,1398.15 138.89,1397.59 140.43,1396.26 142.48,1397.36 144.53,1395.58 146.59,1396.98 148.64,1397.01 150.69,1396.48 152.74,1397.29 154.28,1399.15 155.82,1400.31 157.36,1404.22 158.9,1403.2 160.66,1402.15 162.42,1403.84 164.18,1401.27 165.94,1402.04 167.7,1401.46 169.46,1400.66 171.22,1399.74 173.07,1397.58 174.92,1399.62 176.76,1399.91 178.61,1400.81 180.46,1400.51 182.31,1400.32 184.15,1400.23 186,1399.27 187.85,1400.61 189.7,1400.75 191.46,1399.12 193.22,1398.13 194.97,1398.24 196.73,1396.25 198.49,1395.35 200.25,1394.52 202.01,1393.83 204.07,1393.39 206.12,1392.33 208.17,1393.73 210.22,1393.12 212.28,1393.1 214.33,1390.92 216.38,1393.09 218.44,1391.91 220.49,1393.86 222.54,1391.07 224.59,1392.41 226.65,1391.28 228.41,1391.79 230.17,1392.3 231.93,1391.13 233.69,1393.22 235.45,1393.7 237.2,1393.46 238.96,1393.62 240.78,1394.64 242.59,1394.8 244.4,1394.15 246.21,1393.55 248.02,1394.72 249.83,1394.86 251.64,1393.96 253.46,1394.6 255.27,1394.03 257.08,1394.49 258.89,1394.44 260.7,1394.75 262.51,1395.69 264.32,1394.74 266.13,1394.02 267.95,1394.85 269.76,1394.92 271.57,1394.34 273.38,1394.99 275.19,1394.63 277,1393.36 278.81,1395.26 280.63,1394.71 282.44,1394.74 284.25,1394.79 286.06,1395.24 287.87,1395.84 289.68,1395.74 291.49,1395.28 293.31,1396.2 295.12,1395.04 296.93,1395.23 298.74,1395.23 300.55,1396.24 302.36,1396 304.17,1396.01 305.98,1395.03 307.8,1395.29 309.61,1395.8 311.42,1395.54 313.23,1394.99 315.04,1395.34 316.85,1396.28 318.66,1396.52 320.48,1396.56 322.29,1395.67 324.1,1396.7 325.91,1396.24 327.72,1396.23 329.53,1396.38 331.34,1396.73 333.15,1395.78 334.97,1396.45 336.78,1396.05 338.59,1396.93 340.4,1397.13 342.21,1396.9 344.02,1396.45 345.83,1396.34 347.65,1397.16 349.46,1396.57 351.27,1397.63 353.08,1397.21 354.89,1396.67 356.7,1396.68 358.51,1396.18 360.32,1396.62 362.14,1396.79 364.03,1397.36 365.93,1397.31 367.82,1397.76 369.72,1397.75 371.61,1397.17 373.51,1399.07 375.4,1398.6 377.3,1398.28 379.19,1398.58 381.09,1397.99 382.98,1398.23 384.88,1399.43 386.77,1397.88 388.82,1398.7 390.88,1397.04 392.93,1397.32 394.73,1397.38 396.54,1396.77 398.35,1394.75 400.15,1396.88 401.96,1397.05 403.76,1397.18 405.57,1396.26 407.37,1396.97 409.18,1396.82 410.98,1397.9 412.79,1396.69 414.59,1395.76 416.4,1397.99 418.2,1396.51 420.01,1396.21 421.81,1396.32 423.62,1398.57 425.42,1397.53 427.23,1398.07 429.04,1396.9 430.84,1396.61 432.65,1397.58 434.45,1397.27 436.26,1397.42 438.06,1399.76 439.87,1397.05 441.67,1397.13 443.48,1396.7 445.28,1396.55 447.09,1396.96 448.89,1396.22 450.7,1397.58 452.5,1396.75 454.31,1397.23 456.12,1396.62 457.92,1398.98 459.73,1396.92 461.53,1397.58 463.34,1396.39 465.14,1396.96 466.95,1397.34 468.75,1396.46 470.56,1397.23 472.36,1397.42 474.17,1397.63 475.97,1397.22 477.78,1397.1 479.58,1396.47 481.39,1397.3 483.19,1396.28 485,1397.07" fill="none" stroke="#f07878" stroke-width="3.5" stroke-linejoin="round" stroke-linecap="round" />
<polyline points="480,1396.99 481.81,1397.89 483.62,1398.47 485.43,1397.14 487.25,1396.87 489.06,1396.55 490.87,1396.12 492.68,1395.57 494.49,1398.61 496.3,1396.45 498.11,1396.39 499.92,1396.43 501.74,1395.39 503.55,1396.26 505.36,1396.09 507.17,1395.04 508.98,1397.38 510.79,1395.25 512.62,1395.08 514.45,1395.74 516.29,1396.14 518.12,1395.24 519.95,1394.9 521.78,1395.61 523.61,1396 525.44,1395.53 527.27,1395.81 529.1,1394.89 530.93,1395.03 532.76,1395.83 534.6,1394.82 536.43,1395.62 538.26,1395.45 540.09,1396.24 541.92,1395.42 543.75,1395.53 545.58,1396.18 547.41,1396.29 549.24,1394.77 551.07,1395.17 552.9,1395.27 554.74,1394.84 556.57,1393.3 558.4,1396.1 560.23,1395.9 562.06,1395.59 563.89,1395.92 565.72,1395.77 567.55,1396.76 569.38,1395.73 571.21,1396.24 573.04,1395.68 574.88,1396.24 576.71,1394.67 578.54,1395.26 579.77,1397.75 581,1399.62 582.23,1400.61 583.46,1400.6 584.7,1403.23" fill="none" stroke="#f07878" stroke-width="3.5" stroke-linejoin="round" stroke-linecap="round" />
<rect x="585" y="1398" width="3" height="3" fill="#f07878"/>
<rect x="588.86" y="1405.94" width="3" height="3" fill="#f07878"/>
<rect x="591.01" y="1402.4" width="3" height="3" fill="#f07878"/>
<rect x="584.84" y="1401.54" width="3" height="3" fill="#f07878"/>
<rect x="584.19" y="1412.7" width="3" height="3" fill="#f07878"/>
<rect x="592.85" y="1413.27" width="3" height="3" fill="#f07878"/>
<rect x="593.53" y="1408.51" width="3" height="3" fill="#f07878"/>
<rect x="590.06" y="1414.37" width="3" height="3" fill="#f07878"/>
<rect x="588.39" y="1416.83" width="3" height="3" fill="#f07878"/>
<rect x="593.52" y="1407.95" width="3" height="3" fill="#f07878"/>
<rect x="590.47" y="1414.41" width="3" height="3" fill="#f07878"/>
<rect x="587.73" y="1408.32" width="3" height="3" fill="#f07878"/>
<rect x="591.22" y="1407.01" width="3" height="3" fill="#f07878"/>
<rect x="601.23" y="1419.48" width="3" height="3" fill="#f07878"/>
<rect x="603.08" y="1413.34" width="3" height="3" fill="#f07878"/>
<rect x="602.04" y="1415.9" width="3" height="3" fill="#f07878"/>
<rect x="600.85" y="1414.34" width="3" height="3" fill="#f07878"/>
<rect x="596.46" y="1410.44" width="3" height="3" fill="#f07878"/>
<rect x="600.51" y="1415.13" width="3" height="3" fill="#f07878"/>
<rect x="604.93" y="1413.51" width="3" height="3" fill="#f07878"/>
<rect x="600.05" y="1425.45" width="3" height="3" fill="#f07878"/>
<rect x="607.67" y="1426.26" width="3" height="3" fill="#f07878"/>
<rect x="608.66" y="1419.02" width="3" height="3" fill="#f07878"/>
<rect x="604.58" y="1427.96" width="3" height="3" fill="#f07878"/>
<rect x="610.07" y="1422.56" width="3" height="3" fill="#f07878"/>
<rect x="605.53" y="1427.62" width="3" height="3" fill="#f07878"/>
<rect x="599.96" y="1425.86" width="3" height="3" fill="#f07878"/>
<rect x="610.19" y="1431.78" width="3" height="3" fill="#f07878"/>
<rect x="607.09" y="1433.52" width="3" height="3" fill="#f07878"/>
<rect x="608.22" y="1430.37" width="3" height="3" fill="#f07878"/>
<rect x="603.56" y="1438.22" width="3" height="3" fill="#f07878"/>
<rect x="613.19" y="1433.92" width="3" height="3" fill="#f07878"/>
<rect x="614.68" y="1441.73" width="3" height="3" fill="#f07878"/>
<rect x="613.59" y="1441.46" width="3" height="3" fill="#f07878"/>
<rect x="618.98" y="1433.01" width="3" height="3" fill="#f07878"/>
<rect x="618.64" y="1438.79" width="3" height="3" fill="#f07878"/>
<rect x="617.88" y="1445.08" width="3" height="3" fill="#f07878"/>
<rect x="608.37" y="1442.97" width="3" height="3" fill="#f07878"/>
<rect x="610.55" y="1442.7" width="3" height="3" fill="#f07878"/>
<rect x="614.04" y="1437.73" width="3" height="3" fill="#f07878"/>
<rect x="615.43" y="1441.48" width="3" height="3" fill="#f07878"/>
<rect x="620.58" y="1434.32" width="3" height="3" fill="#f07878"/>
<rect x="624.29" y="1430.43" width="3" height="3" fill="#f07878"/>
<rect x="625.15" y="1436.3" width="3" height="3" fill="#f07878"/>
<rect x="626.95" y="1434.15" width="3" height="3" fill="#f07878"/>
<rect x="630.02" y="1435.26" width="3" height="3" fill="#f07878"/>
<rect x="623.23" y="1430.71" width="3" height="3" fill="#f07878"/>
<rect x="624.68" y="1426.44" width="3" height="3" fill="#f07878"/>
<rect x="621.54" y="1430.55" width="3" height="3" fill="#f07878"/>
<rect x="628.7" y="1432.88" width="3" height="3" fill="#f07878"/>
<rect x="627.37" y="1423.36" width="3" height="3" fill="#f07878"/>
<rect x="623.3" y="1426.16" width="3" height="3" fill="#f07878"/>
<rect x="627.37" y="1426.41" width="3" height="3" fill="#f07878"/>
<rect x="628.75" y="1418.58" width="3" height="3" fill="#f07878"/>
<rect x="622.69" y="1410.76" width="3" height="3" fill="#f07878"/>
<rect x="629.72" y="1416.12" width="3" height="3" fill="#f07878"/>
<polyline points="627.81,1415.76 629.57,1415.72 631.33,1414.88 633.08,1414.19 634.84,1412.86 636.6,1413.35 638.36,1413.74 640.12,1411.96 641.97,1412.27 643.82,1411.73 645.67,1412.68 647.51,1412.31 649.36,1411.29 651.21,1411.15 653.06,1411.47 654.9,1410.81 656.75,1411.42 658.6,1410.76 659.63,1408.95 660.65,1406.29 661.68,1406.79 662.7,1405.64 663.73,1403.08 664.76,1401.74 666.3,1402.97 667.84,1404.11 669.38,1404.97 670.92,1405.09 672.46,1407.18 674,1407.3 675.54,1408.58 677.07,1409.5 679.13,1409.37 681.18,1409.45 683.23,1410.67 685.29,1409.83 687.34,1411.33 689.39,1410.68 690.93,1409.67 692.47,1408.96 694.01,1408.05 695.55,1405.49 697.09,1404.78 698.63,1403.25 700.17,1401.76 701.71,1399.74 703.6,1400.53 705.5,1400.44 707.39,1399.09 709.29,1399.87 711.18,1400.23 713.08,1401.36 714.97,1400.08 716.87,1400.93 718.76,1400.79 720.66,1400.54 722.55,1400.92 724.45,1400.6 726.34,1399.67 728.15,1400.15 729.97,1399.59 731.78,1399.42 733.59,1399.9 735.4,1399.65 737.21,1399.96 739.02,1398.59 740.83,1399.06 742.65,1400.56 744.46,1398.88 746.27,1401.5 748.08,1398.38 749.89,1398.52 751.7,1397.99 753.51,1398.5 755.32,1399.11 757.14,1398.78 758.95,1398.84 760.76,1399.2 762.57,1398.58 764.38,1397.34 766.19,1397.95 768,1398.75 769.82,1399.97 771.63,1397.98 773.44,1398.11 775.25,1397.82 777.06,1398.44 778.87,1397.27 780.68,1399.4 782.5,1398.54 784.31,1398.94 786.12,1398.22 787.93,1398.43 789.74,1398.45 791.55,1398.95 793.36,1399.52 795.17,1398.22 796.99,1396.4 798.8,1399.28 800.61,1399.21 802.42,1398.52 804.23,1398.46 806.04,1399.25 807.85,1398.61 809.67,1398.13 811.48,1398.49 813.29,1397.98 815.1,1398.86 816.91,1398.62 818.72,1396.45 820.52,1399.01 822.33,1397.98 824.13,1397.98 825.93,1398.73 827.73,1398.11 829.54,1397.99 831.34,1397.65 833.14,1398.11 834.94,1397.88 836.75,1397.23 838.55,1398.29 840.35,1397.25 842.15,1396.61 843.95,1397.59 845.76,1397.17 847.56,1396.83 849.36,1396.37 851.16,1396.11 852.97,1396.46 854.77,1396.69 856.57,1396.11 858.37,1396.49 860.17,1396.73 861.98,1396.74 863.78,1396.75 865.58,1396.66 867.38,1396.59 869.19,1396.45 870.99,1395.83 872.79,1395.62 874.59,1395.55 876.4,1395.87 878.2,1396.28 880,1395.54" fill="none" stroke="#f07878" stroke-width="3.5" stroke-linejoin="round" stroke-linecap="round" />
<polyline points="880,1395.92 881.8,1396.05 883.61,1396.33 885.41,1396.03 887.21,1395.68 889.02,1395.94 890.82,1396.83 892.62,1396.34 894.43,1396.52 896.23,1396.24 898.03,1397.49 899.84,1396.15 901.64,1396.12 903.44,1396.97 905.25,1395.84 907.05,1396.35 908.85,1395.26 910.66,1396.53 912.46,1395.56 914.26,1396.5 916.07,1396.44 917.87,1395.92 919.67,1396.44 921.48,1395.68 923.28,1396.72 925.08,1396.35 926.89,1396.95 928.69,1395.74 930.49,1397.07 932.3,1396.3 934.1,1396.1 935.9,1395.71 937.71,1395.68 939.51,1396.48 941.31,1395.84 943.12,1396.41 944.92,1396.31 946.72,1396.35 948.53,1396.03 950.33,1395.61 952.13,1396.72 953.94,1396.08 955.74,1395.42 957.54,1395.3 959.35,1396.93 961.15,1397.34 962.95,1396.7 964.76,1396.3" fill="none" stroke="#f07878" stroke-width="3.5" stroke-linejoin="round" stroke-linecap="round" />
<rect x="90.77" y="1385.12" width="3.2" height="3.2" fill="#1a8a3e"/>
<rect x="100.39" y="1381.01" width="3.2" height="3.2" fill="#1a8a3e"/>
<rect x="98.87" y="1386.16" width="3.2" height="3.2" fill="#1a8a3e"/>
<rect x="97.64" y="1389.64" width="3.2" height="3.2" fill="#1a8a3e"/>
<rect x="91.15" y="1383.34" width="3.2" height="3.2" fill="#1a8a3e"/>
<rect x="101.43" y="1385.99" width="3.2" height="3.2" fill="#1a8a3e"/>
<rect x="101.65" y="1390.07" width="3.2" height="3.2" fill="#1a8a3e"/>
<rect x="92.07" y="1395.29" width="3.2" height="3.2" fill="#1a8a3e"/>
<rect x="92.66" y="1389.44" width="3.2" height="3.2" fill="#1a8a3e"/>
<rect x="96.34" y="1396.88" width="3.2" height="3.2" fill="#1a8a3e"/>
<rect x="92.95" y="1398.88" width="3.2" height="3.2" fill="#1a8a3e"/>
<rect x="102.05" y="1396.94" width="3.2" height="3.2" fill="#1a8a3e"/>
<rect x="102.53" y="1402.05" width="3.2" height="3.2" fill="#1a8a3e"/>
<rect x="101.89" y="1393.59" width="3.2" height="3.2" fill="#1a8a3e"/>
<rect x="97.27" y="1402.8" width="3.2" height="3.2" fill="#1a8a3e"/>
<rect x="96.99" y="1405.45" width="3.2" height="3.2" fill="#1a8a3e"/>
<rect x="100.31" y="1410.82" width="3.2" height="3.2" fill="#1a8a3e"/>
<rect x="92.6" y="1401.02" width="3.2" height="3.2" fill="#1a8a3e"/>
<rect x="98.68" y="1402.16" width="3.2" height="3.2" fill="#1a8a3e"/>
<rect x="91.48" y="1405.54" width="3.2" height="3.2" fill="#1a8a3e"/>
<rect x="103.54" y="1410.69" width="3.2" height="3.2" fill="#1a8a3e"/>
<rect x="92.6" y="1408.9" width="3.2" height="3.2" fill="#1a8a3e"/>
<rect x="94.42" y="1407.8" width="3.2" height="3.2" fill="#1a8a3e"/>
<rect x="94.19" y="1403.47" width="3.2" height="3.2" fill="#1a8a3e"/>
<rect x="105.22" y="1394.89" width="3.2" height="3.2" fill="#1a8a3e"/>
<rect x="105.58" y="1397.18" width="3.2" height="3.2" fill="#1a8a3e"/>
<rect x="99.42" y="1395.12" width="3.2" height="3.2" fill="#1a8a3e"/>
<rect x="95.94" y="1399.67" width="3.2" height="3.2" fill="#1a8a3e"/>
<rect x="101.19" y="1394.88" width="3.2" height="3.2" fill="#1a8a3e"/>
<rect x="106.17" y="1390.92" width="3.2" height="3.2" fill="#1a8a3e"/>
<rect x="100.71" y="1393.72" width="3.2" height="3.2" fill="#1a8a3e"/>
<rect x="101.61" y="1391.64" width="3.2" height="3.2" fill="#1a8a3e"/>
<rect x="104.1" y="1390.55" width="3.2" height="3.2" fill="#1a8a3e"/>
<rect x="98.38" y="1389.28" width="3.2" height="3.2" fill="#1a8a3e"/>
<rect x="108.26" y="1388.01" width="3.2" height="3.2" fill="#1a8a3e"/>
<rect x="106.31" y="1384.38" width="3.2" height="3.2" fill="#1a8a3e"/>
<rect x="98.26" y="1387.95" width="3.2" height="3.2" fill="#1a8a3e"/>
<rect x="100.78" y="1384.51" width="3.2" height="3.2" fill="#1a8a3e"/>
<rect x="100.49" y="1384.42" width="3.2" height="3.2" fill="#1a8a3e"/>
<rect x="108.87" y="1375.64" width="3.2" height="3.2" fill="#1a8a3e"/>
<rect x="109.82" y="1379.89" width="3.2" height="3.2" fill="#1a8a3e"/>
<rect x="107.94" y="1375.13" width="3.2" height="3.2" fill="#1a8a3e"/>
<rect x="110.1" y="1372.2" width="3.2" height="3.2" fill="#1a8a3e"/>
<rect x="108.93" y="1375.68" width="3.2" height="3.2" fill="#1a8a3e"/>
<rect x="106.39" y="1371.19" width="3.2" height="3.2" fill="#1a8a3e"/>
<rect x="111.5" y="1369.01" width="3.2" height="3.2" fill="#1a8a3e"/>
<rect x="105.52" y="1370.82" width="3.2" height="3.2" fill="#1a8a3e"/>
<rect x="102.63" y="1366.44" width="3.2" height="3.2" fill="#1a8a3e"/>
<rect x="109.15" y="1365.4" width="3.2" height="3.2" fill="#1a8a3e"/>
<rect x="102.73" y="1362.2" width="3.2" height="3.2" fill="#1a8a3e"/>
<rect x="113.06" y="1368.8" width="3.2" height="3.2" fill="#1a8a3e"/>
<rect x="111.51" y="1367.82" width="3.2" height="3.2" fill="#1a8a3e"/>
<rect x="106.9" y="1364.26" width="3.2" height="3.2" fill="#1a8a3e"/>
<rect x="107.19" y="1365.55" width="3.2" height="3.2" fill="#1a8a3e"/>
<rect x="104.61" y="1372.17" width="3.2" height="3.2" fill="#1a8a3e"/>
<rect x="114.6" y="1369.36" width="3.2" height="3.2" fill="#1a8a3e"/>
<rect x="109.6" y="1374.45" width="3.2" height="3.2" fill="#1a8a3e"/>
<rect x="113.95" y="1370.11" width="3.2" height="3.2" fill="#1a8a3e"/>
<rect x="114.71" y="1379.17" width="3.2" height="3.2" fill="#1a8a3e"/>
<rect x="108.54" y="1373.69" width="3.2" height="3.2" fill="#1a8a3e"/>
<rect x="109.43" y="1381.89" width="3.2" height="3.2" fill="#1a8a3e"/>
<rect x="117.88" y="1382.15" width="3.2" height="3.2" fill="#1a8a3e"/>
<rect x="113.66" y="1382.59" width="3.2" height="3.2" fill="#1a8a3e"/>
<rect x="109.85" y="1380.08" width="3.2" height="3.2" fill="#1a8a3e"/>
<rect x="110.79" y="1386.06" width="3.2" height="3.2" fill="#1a8a3e"/>
<rect x="115.33" y="1381.8" width="3.2" height="3.2" fill="#1a8a3e"/>
<rect x="113.13" y="1386.27" width="3.2" height="3.2" fill="#1a8a3e"/>
<rect x="108.14" y="1388.89" width="3.2" height="3.2" fill="#1a8a3e"/>
<rect x="108.25" y="1382.45" width="3.2" height="3.2" fill="#1a8a3e"/>
<rect x="118.91" y="1385.23" width="3.2" height="3.2" fill="#1a8a3e"/>
<rect x="120.1" y="1385.95" width="3.2" height="3.2" fill="#1a8a3e"/>
<rect x="121.31" y="1384.16" width="3.2" height="3.2" fill="#1a8a3e"/>
<rect x="117.98" y="1386.82" width="3.2" height="3.2" fill="#1a8a3e"/>
<rect x="114.3" y="1389.09" width="3.2" height="3.2" fill="#1a8a3e"/>
<rect x="120.74" y="1389.13" width="3.2" height="3.2" fill="#1a8a3e"/>
<rect x="118.75" y="1391.53" width="3.2" height="3.2" fill="#1a8a3e"/>
<rect x="124.62" y="1395.87" width="3.2" height="3.2" fill="#1a8a3e"/>
<rect x="121.18" y="1396.63" width="3.2" height="3.2" fill="#1a8a3e"/>
<rect x="118.42" y="1394.78" width="3.2" height="3.2" fill="#1a8a3e"/>
<rect x="124.26" y="1392.51" width="3.2" height="3.2" fill="#1a8a3e"/>
<rect x="123.12" y="1405.59" width="3.2" height="3.2" fill="#1a8a3e"/>
<rect x="128.24" y="1403.29" width="3.2" height="3.2" fill="#1a8a3e"/>
<rect x="126.05" y="1401.26" width="3.2" height="3.2" fill="#1a8a3e"/>
<rect x="123" y="1402.13" width="3.2" height="3.2" fill="#1a8a3e"/>
<rect x="123.17" y="1408.01" width="3.2" height="3.2" fill="#1a8a3e"/>
<rect x="123.63" y="1405.64" width="3.2" height="3.2" fill="#1a8a3e"/>
<rect x="120.68" y="1412.88" width="3.2" height="3.2" fill="#1a8a3e"/>
<rect x="120.08" y="1413.69" width="3.2" height="3.2" fill="#1a8a3e"/>
<rect x="127.1" y="1408.86" width="3.2" height="3.2" fill="#1a8a3e"/>
<rect x="132.3" y="1415.79" width="3.2" height="3.2" fill="#1a8a3e"/>
<rect x="123.3" y="1414.99" width="3.2" height="3.2" fill="#1a8a3e"/>
<rect x="127.72" y="1412.34" width="3.2" height="3.2" fill="#1a8a3e"/>
<rect x="136.2" y="1415.81" width="3.2" height="3.2" fill="#1a8a3e"/>
<rect x="126.68" y="1418.17" width="3.2" height="3.2" fill="#1a8a3e"/>
<rect x="133.96" y="1418.98" width="3.2" height="3.2" fill="#1a8a3e"/>
<rect x="128.12" y="1421.37" width="3.2" height="3.2" fill="#1a8a3e"/>
<rect x="136.4" y="1412.95" width="3.2" height="3.2" fill="#1a8a3e"/>
<rect x="141.6" y="1416.8" width="3.2" height="3.2" fill="#1a8a3e"/>
<rect x="133.9" y="1423.24" width="3.2" height="3.2" fill="#1a8a3e"/>
<rect x="132.92" y="1421.57" width="3.2" height="3.2" fill="#1a8a3e"/>
<rect x="136.5" y="1414.36" width="3.2" height="3.2" fill="#1a8a3e"/>
<rect x="136.01" y="1423.5" width="3.2" height="3.2" fill="#1a8a3e"/>
<rect x="143.93" y="1416.91" width="3.2" height="3.2" fill="#1a8a3e"/>
<rect x="147.06" y="1424.11" width="3.2" height="3.2" fill="#1a8a3e"/>
<rect x="149.9" y="1424.1" width="3.2" height="3.2" fill="#1a8a3e"/>
<rect x="146.13" y="1424.19" width="3.2" height="3.2" fill="#1a8a3e"/>
<rect x="150.82" y="1415.98" width="3.2" height="3.2" fill="#1a8a3e"/>
<rect x="151.4" y="1423.8" width="3.2" height="3.2" fill="#1a8a3e"/>
<rect x="150.8" y="1419.36" width="3.2" height="3.2" fill="#1a8a3e"/>
<rect x="153.01" y="1420.66" width="3.2" height="3.2" fill="#1a8a3e"/>
<rect x="147.6" y="1415.53" width="3.2" height="3.2" fill="#1a8a3e"/>
<rect x="147.22" y="1410.31" width="3.2" height="3.2" fill="#1a8a3e"/>
<rect x="152.53" y="1414.92" width="3.2" height="3.2" fill="#1a8a3e"/>
<rect x="154.78" y="1417.34" width="3.2" height="3.2" fill="#1a8a3e"/>
<rect x="148.89" y="1410.39" width="3.2" height="3.2" fill="#1a8a3e"/>
<rect x="148.63" y="1418.06" width="3.2" height="3.2" fill="#1a8a3e"/>
<rect x="150.11" y="1421.84" width="3.2" height="3.2" fill="#1a8a3e"/>
<rect x="152.63" y="1417.12" width="3.2" height="3.2" fill="#1a8a3e"/>
<rect x="161.52" y="1422.32" width="3.2" height="3.2" fill="#1a8a3e"/>
<rect x="155.2" y="1418.27" width="3.2" height="3.2" fill="#1a8a3e"/>
<rect x="159.54" y="1415.46" width="3.2" height="3.2" fill="#1a8a3e"/>
<rect x="159.66" y="1420.61" width="3.2" height="3.2" fill="#1a8a3e"/>
<rect x="159.55" y="1410.1" width="3.2" height="3.2" fill="#1a8a3e"/>
<rect x="164.19" y="1414.02" width="3.2" height="3.2" fill="#1a8a3e"/>
<rect x="159.28" y="1414.88" width="3.2" height="3.2" fill="#1a8a3e"/>
<rect x="156.04" y="1409.72" width="3.2" height="3.2" fill="#1a8a3e"/>
<rect x="160.77" y="1411.56" width="3.2" height="3.2" fill="#1a8a3e"/>
<rect x="165.28" y="1407.76" width="3.2" height="3.2" fill="#1a8a3e"/>
<rect x="166.9" y="1407.32" width="3.2" height="3.2" fill="#1a8a3e"/>
<rect x="168.99" y="1410.59" width="3.2" height="3.2" fill="#1a8a3e"/>
<rect x="163.12" y="1404.72" width="3.2" height="3.2" fill="#1a8a3e"/>
<rect x="164.87" y="1413.37" width="3.2" height="3.2" fill="#1a8a3e"/>
<rect x="165.8" y="1408.06" width="3.2" height="3.2" fill="#1a8a3e"/>
<rect x="165.94" y="1405.95" width="3.2" height="3.2" fill="#1a8a3e"/>
<rect x="171.04" y="1418.59" width="3.2" height="3.2" fill="#1a8a3e"/>
<rect x="170.27" y="1418.06" width="3.2" height="3.2" fill="#1a8a3e"/>
<rect x="171.92" y="1415.36" width="3.2" height="3.2" fill="#1a8a3e"/>
<rect x="173.72" y="1408.53" width="3.2" height="3.2" fill="#1a8a3e"/>
<rect x="176" y="1413.37" width="3.2" height="3.2" fill="#1a8a3e"/>
<rect x="179.98" y="1416.29" width="3.2" height="3.2" fill="#1a8a3e"/>
<rect x="176.57" y="1419.73" width="3.2" height="3.2" fill="#1a8a3e"/>
<rect x="180.97" y="1414.35" width="3.2" height="3.2" fill="#1a8a3e"/>
<rect x="187.52" y="1416.73" width="3.2" height="3.2" fill="#1a8a3e"/>
<rect x="177.24" y="1411.36" width="3.2" height="3.2" fill="#1a8a3e"/>
<rect x="185.1" y="1411" width="3.2" height="3.2" fill="#1a8a3e"/>
<rect x="189.85" y="1414.13" width="3.2" height="3.2" fill="#1a8a3e"/>
<rect x="186.4" y="1409.17" width="3.2" height="3.2" fill="#1a8a3e"/>
<rect x="187.24" y="1415.55" width="3.2" height="3.2" fill="#1a8a3e"/>
<rect x="183.76" y="1408.85" width="3.2" height="3.2" fill="#1a8a3e"/>
<rect x="186.56" y="1408.11" width="3.2" height="3.2" fill="#1a8a3e"/>
<rect x="193.36" y="1408.87" width="3.2" height="3.2" fill="#1a8a3e"/>
<rect x="190.49" y="1404.94" width="3.2" height="3.2" fill="#1a8a3e"/>
<rect x="186.76" y="1402.27" width="3.2" height="3.2" fill="#1a8a3e"/>
<rect x="194.55" y="1399.77" width="3.2" height="3.2" fill="#1a8a3e"/>
<rect x="192.12" y="1396.61" width="3.2" height="3.2" fill="#1a8a3e"/>
<rect x="190.42" y="1396.9" width="3.2" height="3.2" fill="#1a8a3e"/>
<rect x="196.86" y="1401.92" width="3.2" height="3.2" fill="#1a8a3e"/>
<rect x="185.52" y="1402.43" width="3.2" height="3.2" fill="#1a8a3e"/>
<rect x="192.59" y="1401.44" width="3.2" height="3.2" fill="#1a8a3e"/>
<rect x="195.53" y="1398.74" width="3.2" height="3.2" fill="#1a8a3e"/>
<rect x="186.93" y="1408.93" width="3.2" height="3.2" fill="#1a8a3e"/>
<rect x="188.6" y="1404.83" width="3.2" height="3.2" fill="#1a8a3e"/>
<rect x="189.43" y="1409.06" width="3.2" height="3.2" fill="#1a8a3e"/>
<rect x="188.19" y="1411.73" width="3.2" height="3.2" fill="#1a8a3e"/>
<rect x="189.26" y="1403.93" width="3.2" height="3.2" fill="#1a8a3e"/>
<rect x="187.23" y="1412.76" width="3.2" height="3.2" fill="#1a8a3e"/>
<rect x="190.65" y="1405.56" width="3.2" height="3.2" fill="#1a8a3e"/>
<rect x="191.68" y="1416.16" width="3.2" height="3.2" fill="#1a8a3e"/>
<rect x="196.77" y="1419.74" width="3.2" height="3.2" fill="#1a8a3e"/>
<rect x="193.66" y="1409.78" width="3.2" height="3.2" fill="#1a8a3e"/>
<rect x="200.04" y="1413.58" width="3.2" height="3.2" fill="#1a8a3e"/>
<rect x="191.44" y="1420.57" width="3.2" height="3.2" fill="#1a8a3e"/>
<rect x="199.48" y="1415.9" width="3.2" height="3.2" fill="#1a8a3e"/>
<rect x="193.69" y="1413.15" width="3.2" height="3.2" fill="#1a8a3e"/>
<rect x="195.86" y="1422.77" width="3.2" height="3.2" fill="#1a8a3e"/>
<rect x="196.82" y="1416.48" width="3.2" height="3.2" fill="#1a8a3e"/>
<rect x="193.35" y="1427.89" width="3.2" height="3.2" fill="#1a8a3e"/>
<rect x="194.82" y="1419.99" width="3.2" height="3.2" fill="#1a8a3e"/>
<polyline points="202.01,1428.18 203.33,1429.08 204.65,1430.87 205.97,1431.76 207.29,1433.63 208.61,1434.41 209.93,1436.88 211.25,1438.16 213.18,1436.63 215.1,1434.92 217.02,1437.29 218.95,1437.28 220.87,1437.94 222.8,1438.82 224.72,1438.39 226.65,1438.29 227.97,1436.85 229.29,1434.94 230.61,1434.5 231.93,1433.09 233.25,1431.84 234.57,1429.07 235.89,1428.13 237.81,1428.33 239.73,1428.36 241.66,1429.52 243.58,1428.73 245.51,1431.53 247.43,1430.63 249.36,1430.77 251.28,1433.18 253.13,1432.4 254.98,1432.28 256.82,1431.42 258.67,1431.29 260.52,1431.54 262.37,1430.85 264.21,1431.36 266.06,1427.64 267.91,1429.08 269.76,1430.14 271.55,1429.11 273.35,1428.77 275.15,1429.44 276.94,1429.58 278.74,1427.81 280.54,1428.71 282.33,1428.84 284.13,1428.1 285.92,1428.51 287.72,1428.28 289.52,1428.91 291.31,1428.49 293.13,1428.14 294.95,1429.43 296.77,1427.1 298.59,1427.14 300.41,1426.58 302.23,1426.21 304.05,1426.77 305.87,1426.01 307.69,1426.07 309.51,1426.11 311.33,1425.68 313.15,1425.74 314.97,1425.23 316.79,1425.49 318.61,1424.75 320.43,1424.94 322.25,1425.6 324.07,1424.16 325.88,1424.46 327.7,1423.18 329.52,1423.02 331.34,1423.46 333.19,1423.08 335.04,1422.74 336.89,1421.77 338.73,1421.4 340.58,1420.34 342.43,1420.86 344.28,1420.48 346.12,1420.2 347.97,1419.59 349.82,1419.47 351.58,1418.64 353.34,1420.31 355.1,1420.74 356.86,1422.14 358.62,1422.01 360.38,1421.65 362.14,1423.15 363.95,1421.24 365.76,1422.18 367.57,1421.98 369.38,1422.84 371.19,1420.76 373,1421.51 374.82,1421.78 376.63,1421.79 378.44,1420.99 380.25,1421.45 382.06,1419.82 383.87,1419.53 385.68,1420.57 387.5,1420.77 389.31,1421.04 391.12,1420.57 392.93,1419.21 394.74,1420.05 396.55,1419.8 398.36,1421.63 400.17,1419.44 401.99,1419.6 403.8,1420.38 405.61,1420.76 407.42,1419.73 409.23,1421.16 411.04,1420.69 412.85,1420.76 414.67,1421.64 416.48,1421.71 418.29,1421.14 420.1,1420.96 421.91,1422.03 423.72,1421.78 425.53,1421.89 427.34,1422.09 429.16,1423.68 430.97,1422.76 432.78,1423.04 434.59,1422.22 436.4,1422.68 438.21,1423.77 440.02,1422.87 441.84,1425.67 443.65,1424.59 445.46,1424.02 447.27,1424.11 449.08,1423.54 450.89,1424.8 452.7,1424.1 454.52,1423.68 456.31,1424.08 458.1,1423.22 459.89,1424.24 461.69,1422.35 463.48,1423.5 465.27,1423.42 467.07,1422.76 468.86,1423.07 470.65,1422.37 472.45,1421.56 474.24,1422 476.03,1421.54 477.83,1421.64 479.62,1420.52 481.41,1420.36 483.21,1420.8 485,1420.17" fill="none" stroke="#1a8a3e" stroke-width="3.5" stroke-linejoin="round" stroke-linecap="round" />
<polyline points="480,1423.11 481.92,1421.07 483.85,1420.35 485.77,1421.5 487.7,1421 489.62,1420.97 491.55,1420.73 493.47,1420.35 495.4,1420.27 497.32,1420.95 499.25,1421.65 501.17,1422.05 503.09,1422.19 505.02,1423.18 506.94,1424.92 508.87,1423.93 510.79,1425.35 512.6,1425.44 514.42,1425.41 516.23,1424.1 518.04,1424.1 519.85,1426.46 521.66,1424.97 523.47,1424.9 525.28,1424.82 527.1,1425.08 528.91,1425.94 530.72,1425.26 532.53,1425.13 534.34,1425.49 536.15,1425.1 537.96,1425.64 539.77,1425.67 541.59,1425.2 543.48,1424.99 545.38,1423.79 547.27,1424.65 549.17,1424.02 551.06,1423.62 552.96,1423.75 554.85,1423.4 556.75,1424.22 558.64,1422.16 560.54,1423.15 562.43,1422.31 564.33,1422.01 566.22,1420.65 567.25,1422.86 568.27,1425.01 569.3,1426.85 571.15,1424.82 572.99,1425.53 574.84,1425.8 576.69,1426.87 578.54,1426.33" fill="none" stroke="#1a8a3e" stroke-width="3.5" stroke-linejoin="round" stroke-linecap="round" />
<rect x="577.67" y="1425.2" width="3" height="3" fill="#1a8a3e"/>
<rect x="579.26" y="1424.61" width="3" height="3" fill="#1a8a3e"/>
<rect x="575.91" y="1413.96" width="3" height="3" fill="#1a8a3e"/>
<rect x="582.25" y="1415.16" width="3" height="3" fill="#1a8a3e"/>
<rect x="575.96" y="1413.11" width="3" height="3" fill="#1a8a3e"/>
<rect x="577.35" y="1409.92" width="3" height="3" fill="#1a8a3e"/>
<rect x="578.6" y="1398.66" width="3" height="3" fill="#1a8a3e"/>
<rect x="580.14" y="1396.38" width="3" height="3" fill="#1a8a3e"/>
<rect x="579.75" y="1398.74" width="3" height="3" fill="#1a8a3e"/>
<rect x="583.42" y="1396.4" width="3" height="3" fill="#1a8a3e"/>
<rect x="584.52" y="1392.62" width="3" height="3" fill="#1a8a3e"/>
<rect x="583.66" y="1390.87" width="3" height="3" fill="#1a8a3e"/>
<rect x="588.24" y="1382.15" width="3" height="3" fill="#1a8a3e"/>
<rect x="585.36" y="1381.76" width="3" height="3" fill="#1a8a3e"/>
<rect x="591.67" y="1377.87" width="3" height="3" fill="#1a8a3e"/>
<rect x="586.48" y="1372.72" width="3" height="3" fill="#1a8a3e"/>
<rect x="594.57" y="1368.45" width="3" height="3" fill="#1a8a3e"/>
<rect x="596.24" y="1360.26" width="3" height="3" fill="#1a8a3e"/>
<rect x="595.31" y="1357.62" width="3" height="3" fill="#1a8a3e"/>
<rect x="596.37" y="1358.13" width="3" height="3" fill="#1a8a3e"/>
<rect x="599.59" y="1363.53" width="3" height="3" fill="#1a8a3e"/>
<rect x="605.54" y="1363.52" width="3" height="3" fill="#1a8a3e"/>
<rect x="600.39" y="1361.69" width="3" height="3" fill="#1a8a3e"/>
<rect x="597.73" y="1360.34" width="3" height="3" fill="#1a8a3e"/>
<rect x="609.99" y="1343.06" width="3" height="3" fill="#1a8a3e"/>
<rect x="613.28" y="1340.56" width="3" height="3" fill="#1a8a3e"/>
<rect x="606.88" y="1334.36" width="3" height="3" fill="#1a8a3e"/>
<rect x="609.08" y="1316.04" width="3" height="3" fill="#1a8a3e"/>
<rect x="606.33" y="1304.91" width="3" height="3" fill="#1a8a3e"/>
<rect x="617.12" y="1302.72" width="3" height="3" fill="#1a8a3e"/>
<rect x="609.28" y="1304.57" width="3" height="3" fill="#1a8a3e"/>
<rect x="602.74" y="1288.14" width="3" height="3" fill="#1a8a3e"/>
<rect x="609.87" y="1283.13" width="3" height="3" fill="#1a8a3e"/>
<rect x="616.34" y="1281.27" width="3" height="3" fill="#1a8a3e"/>
<rect x="607.18" y="1264.78" width="3" height="3" fill="#1a8a3e"/>
<rect x="609.15" y="1265.84" width="3" height="3" fill="#1a8a3e"/>
<rect x="612.84" y="1260.72" width="3" height="3" fill="#1a8a3e"/>
<rect x="616.4" y="1253.56" width="3" height="3" fill="#1a8a3e"/>
<rect x="611.08" y="1237.39" width="3" height="3" fill="#1a8a3e"/>
<rect x="608.18" y="1250.43" width="3" height="3" fill="#1a8a3e"/>
<rect x="620.06" y="1245.04" width="3" height="3" fill="#1a8a3e"/>
<rect x="615.02" y="1244.35" width="3" height="3" fill="#1a8a3e"/>
<rect x="627.03" y="1258.59" width="3" height="3" fill="#1a8a3e"/>
<rect x="612.97" y="1275.42" width="3" height="3" fill="#1a8a3e"/>
<rect x="626.12" y="1271.29" width="3" height="3" fill="#1a8a3e"/>
<rect x="619.21" y="1274.16" width="3" height="3" fill="#1a8a3e"/>
<rect x="621.4" y="1290.18" width="3" height="3" fill="#1a8a3e"/>
<rect x="618.09" y="1291.9" width="3" height="3" fill="#1a8a3e"/>
<rect x="616.48" y="1311.31" width="3" height="3" fill="#1a8a3e"/>
<rect x="631.53" y="1311.57" width="3" height="3" fill="#1a8a3e"/>
<rect x="614.18" y="1330.58" width="3" height="3" fill="#1a8a3e"/>
<rect x="626.38" y="1335.75" width="3" height="3" fill="#1a8a3e"/>
<rect x="618.3" y="1333.68" width="3" height="3" fill="#1a8a3e"/>
<rect x="620.95" y="1354.2" width="3" height="3" fill="#1a8a3e"/>
<rect x="623.2" y="1350.63" width="3" height="3" fill="#1a8a3e"/>
<polyline points="627.81,1360.89 629.35,1361 630.89,1362.45 632.42,1363.04 633.96,1365.46 635.5,1366.06 637.04,1367.2 638.58,1367.44 640.12,1369.81 641.97,1368.77 643.82,1368.26 645.67,1369.01 647.51,1369.42 649.36,1367.07 651.21,1369.32 653.06,1369.74 654.9,1369.64 656.75,1369.17 658.6,1369.11 658.96,1371.42 659.32,1373.15 659.69,1375.25 660.05,1377.27 660.41,1378.47 660.77,1381.69 661.13,1381.72 661.5,1384.05 661.86,1384.89 662.22,1387.2 662.58,1389.8 662.95,1390.76 663.31,1392.47 663.67,1394.3 664.03,1396.54 664.4,1398.15 664.76,1399.83 665.78,1401.43 666.81,1403.2 667.84,1404.22 668.86,1406.81 669.89,1407.63 670.92,1409.56 672.46,1411.36 674,1412.08 675.54,1415.86 677.07,1415.55" fill="none" stroke="#1a8a3e" stroke-width="3.2" stroke-linejoin="round" stroke-linecap="round" />
<rect x="676.59" y="1418.14" width="3" height="3" fill="#1a8a3e"/>
<rect x="678.34" y="1415.74" width="3" height="3" fill="#1a8a3e"/>
<rect x="676.23" y="1415.08" width="3" height="3" fill="#1a8a3e"/>
<rect x="676.81" y="1413.07" width="3" height="3" fill="#1a8a3e"/>
<rect x="674.09" y="1404.38" width="3" height="3" fill="#1a8a3e"/>
<rect x="676.56" y="1405.53" width="3" height="3" fill="#1a8a3e"/>
<rect x="680.89" y="1402.64" width="3" height="3" fill="#1a8a3e"/>
<rect x="680.15" y="1403.76" width="3" height="3" fill="#1a8a3e"/>
<rect x="673.31" y="1403.33" width="3" height="3" fill="#1a8a3e"/>
<rect x="674.62" y="1407.49" width="3" height="3" fill="#1a8a3e"/>
<rect x="677.78" y="1395.69" width="3" height="3" fill="#1a8a3e"/>
<rect x="674.7" y="1395.8" width="3" height="3" fill="#1a8a3e"/>
<rect x="676.74" y="1397.08" width="3" height="3" fill="#1a8a3e"/>
<rect x="674.97" y="1398.53" width="3" height="3" fill="#1a8a3e"/>
<rect x="676.46" y="1397.13" width="3" height="3" fill="#1a8a3e"/>
<rect x="678.8" y="1391.52" width="3" height="3" fill="#1a8a3e"/>
<rect x="680.52" y="1386.35" width="3" height="3" fill="#1a8a3e"/>
<rect x="674.57" y="1386.34" width="3" height="3" fill="#1a8a3e"/>
<rect x="681.94" y="1388.54" width="3" height="3" fill="#1a8a3e"/>
<rect x="680.84" y="1393.08" width="3" height="3" fill="#1a8a3e"/>
<rect x="673.54" y="1389.31" width="3" height="3" fill="#1a8a3e"/>
<rect x="672.83" y="1387.32" width="3" height="3" fill="#1a8a3e"/>
<rect x="680.76" y="1381.28" width="3" height="3" fill="#1a8a3e"/>
<rect x="681.73" y="1385.1" width="3" height="3" fill="#1a8a3e"/>
<rect x="678.01" y="1377.37" width="3" height="3" fill="#1a8a3e"/>
<rect x="674.63" y="1375.32" width="3" height="3" fill="#1a8a3e"/>
<rect x="678.66" y="1376.94" width="3" height="3" fill="#1a8a3e"/>
<rect x="675.12" y="1376.99" width="3" height="3" fill="#1a8a3e"/>
<rect x="674.24" y="1371.83" width="3" height="3" fill="#1a8a3e"/>
<rect x="680.14" y="1370.33" width="3" height="3" fill="#1a8a3e"/>
<rect x="678.88" y="1367.28" width="3" height="3" fill="#1a8a3e"/>
<rect x="682.47" y="1368.05" width="3" height="3" fill="#1a8a3e"/>
<rect x="685.28" y="1375.12" width="3" height="3" fill="#1a8a3e"/>
<rect x="685.61" y="1368.76" width="3" height="3" fill="#1a8a3e"/>
<rect x="685.09" y="1366.64" width="3" height="3" fill="#1a8a3e"/>
<rect x="687.99" y="1372.86" width="3" height="3" fill="#1a8a3e"/>
<rect x="680.95" y="1367.32" width="3" height="3" fill="#1a8a3e"/>
<rect x="681.64" y="1369.42" width="3" height="3" fill="#1a8a3e"/>
<rect x="692.26" y="1373.83" width="3" height="3" fill="#1a8a3e"/>
<rect x="686.15" y="1374.04" width="3" height="3" fill="#1a8a3e"/>
<rect x="685.05" y="1373.44" width="3" height="3" fill="#1a8a3e"/>
<rect x="688.84" y="1368.75" width="3" height="3" fill="#1a8a3e"/>
<rect x="696.19" y="1376.62" width="3" height="3" fill="#1a8a3e"/>
<rect x="696.95" y="1376.45" width="3" height="3" fill="#1a8a3e"/>
<rect x="695.26" y="1373.37" width="3" height="3" fill="#1a8a3e"/>
<rect x="693.81" y="1381.07" width="3" height="3" fill="#1a8a3e"/>
<rect x="695.52" y="1381.12" width="3" height="3" fill="#1a8a3e"/>
<rect x="694.53" y="1378.32" width="3" height="3" fill="#1a8a3e"/>
<rect x="690.93" y="1379.56" width="3" height="3" fill="#1a8a3e"/>
<rect x="692.67" y="1378.29" width="3" height="3" fill="#1a8a3e"/>
<rect x="692.23" y="1387.57" width="3" height="3" fill="#1a8a3e"/>
<rect x="701.64" y="1386.99" width="3" height="3" fill="#1a8a3e"/>
<rect x="700.88" y="1384.75" width="3" height="3" fill="#1a8a3e"/>
<rect x="701.07" y="1386.46" width="3" height="3" fill="#1a8a3e"/>
<rect x="702" y="1387.67" width="3" height="3" fill="#1a8a3e"/>
<rect x="696.44" y="1390.56" width="3" height="3" fill="#1a8a3e"/>
<rect x="696.57" y="1390.52" width="3" height="3" fill="#1a8a3e"/>
<rect x="701.6" y="1395.83" width="3" height="3" fill="#1a8a3e"/>
<rect x="705.04" y="1397.12" width="3" height="3" fill="#1a8a3e"/>
<rect x="698.71" y="1395.27" width="3" height="3" fill="#1a8a3e"/>
<rect x="701.84" y="1399.19" width="3" height="3" fill="#1a8a3e"/>
<rect x="705.15" y="1398.94" width="3" height="3" fill="#1a8a3e"/>
<rect x="706.36" y="1400.74" width="3" height="3" fill="#1a8a3e"/>
<rect x="701.21" y="1396.25" width="3" height="3" fill="#1a8a3e"/>
<rect x="700.76" y="1403.49" width="3" height="3" fill="#1a8a3e"/>
<rect x="697.63" y="1403.05" width="3" height="3" fill="#1a8a3e"/>
<rect x="699.45" y="1404.03" width="3" height="3" fill="#1a8a3e"/>
<rect x="707.13" y="1410.51" width="3" height="3" fill="#1a8a3e"/>
<rect x="700.2" y="1409.92" width="3" height="3" fill="#1a8a3e"/>
<rect x="703.92" y="1404.58" width="3" height="3" fill="#1a8a3e"/>
<rect x="702.8" y="1412.08" width="3" height="3" fill="#1a8a3e"/>
<rect x="704.08" y="1412.44" width="3" height="3" fill="#1a8a3e"/>
<rect x="701.26" y="1415.57" width="3" height="3" fill="#1a8a3e"/>
<rect x="706.71" y="1411.33" width="3" height="3" fill="#1a8a3e"/>
<polyline points="707.87,1419.18 709.72,1419.23 711.56,1417.24 713.41,1417.24 715.26,1416.18 717.11,1415.48 718.95,1415.55 720.8,1415.02 722.65,1415.27 724.5,1413.97 726.34,1414.21 728.19,1414.12 730.04,1413.45 731.89,1413.02 733.73,1414.72 735.58,1413.52 737.43,1413.32 739.28,1412.99 741.12,1412.64 742.97,1412.62 744.82,1412.55 746.67,1411.89 748.51,1413.64 750.36,1414.11 752.21,1415.27 754.06,1415.91 755.9,1416.69 757.75,1416.74 759.6,1416.81 761.45,1419.38 763.29,1419.25 765.05,1416.68 766.81,1417.24 768.57,1418.03 770.33,1416.91 772.09,1416.62 773.85,1417.11 775.61,1415.26 775.61,1416.23 775.61,1419.37 775.61,1421.73 775.61,1421.34 777.46,1424.18 779.31,1423.06 781.15,1423.27 783,1423.03 784.85,1423 786.7,1423.08 788.55,1422.58 790.39,1422.98 792.24,1423.2 794.09,1423.18 795.94,1422.64 797.78,1422.51 799.63,1423.49 801.48,1422.75 803.33,1422.71 805.25,1422.82 807.17,1422.39 809.1,1423.32 811.02,1422.58 812.95,1420.65 814.87,1419.66 816.8,1420.89 818.72,1420.68 820.65,1420.29 822.57,1420.03 824.5,1419.34 826.42,1417.88 828.34,1418.94 830.27,1417.77 832.19,1418.13 834.12,1417.51 836.04,1417.96 837.97,1418.67 839.89,1417.7 841.82,1419.14 843.74,1421.31 845.67,1420.07 847.59,1421.04 849.52,1420.52 851.44,1421.66 853.36,1423.56 855.29,1422.54 857.21,1423.67 859.14,1424.32 861.06,1425.18 862.99,1426.16 864.91,1425.75 866.8,1426.32 868.68,1427.15 870.57,1427.07 872.46,1427.13 874.34,1427.29 876.23,1427.1 878.11,1427.69 880,1427.87" fill="none" stroke="#1a8a3e" stroke-width="3.5" stroke-linejoin="round" stroke-linecap="round" />
<polyline points="881.62,1427.44 883.46,1425.89 885.31,1426.57 887.16,1427.77 889.01,1426.18 890.85,1426.13 892.7,1426.1 894.55,1426.07 896.4,1425.63 898.24,1425.77 900.09,1425.11 901.94,1425.46 903.79,1425.99 905.64,1425.36 907.48,1425.76 909.33,1425.21 911.18,1425.72 913.03,1425.92 914.87,1425.26 916.72,1427.92 918.57,1426.92 920.49,1426.38 922.42,1426.57 924.34,1425.97 926.27,1425.33 928.19,1425.67 930.12,1423.89 932.04,1425.44 933.96,1424.37 935.89,1425.25 937.81,1424.93 939.74,1424.74 941.66,1424.95 943.59,1424.93 945.51,1425.34 947.44,1423.76 949.36,1424.48 951.29,1425.5 953.21,1424.91 955.13,1425.97 957.06,1425.23 958.98,1425.91 960.91,1425.07 962.83,1425.71 964.76,1425.87" fill="none" stroke="#1a8a3e" stroke-width="3.5" stroke-linejoin="round" stroke-linecap="round" />
<polygon points="93.6,1265.4 105.6,1265.4 99.6,1254.6" fill="#000"/>
<polygon points="125.6,1263 137.6,1263 131.6,1252.2" fill="#000"/>
<polygon points="157.6,1290.1 169.6,1290.1 163.6,1279.3" fill="#000"/>
<polygon points="221.6,1315.4 233.6,1315.4 227.6,1304.6" fill="#000"/>
<polygon points="253.6,1313.2 265.6,1313.2 259.6,1302.4" fill="#000"/>
<polygon points="285.6,1313.2 297.6,1313.2 291.6,1302.4" fill="#000"/>
<polygon points="317.6,1314.1 329.6,1314.1 323.6,1303.3" fill="#000"/>
<polygon points="349.6,1317.8 361.6,1317.8 355.6,1307" fill="#000"/>
<polygon points="381.6,1320.3 393.6,1320.3 387.6,1309.5" fill="#000"/>
<polygon points="413.6,1318.4 425.6,1318.4 419.6,1307.6" fill="#000"/>
<polygon points="445.6,1320.9 457.6,1320.9 451.6,1310.1" fill="#000"/>
<polygon points="477.6,1323 489.6,1323 483.6,1312.2" fill="#000"/>
<polygon points="509.6,1326.4 521.6,1326.4 515.6,1315.6" fill="#000"/>
<polygon points="541.6,1326.4 553.6,1326.4 547.6,1315.6" fill="#000"/>
<polygon points="573.6,1327.6 585.6,1327.6 579.6,1316.8" fill="#000"/>
<polygon points="669.6,1327 681.6,1327 675.6,1316.2" fill="#000"/>
<polygon points="701.6,1327.6 713.6,1327.6 707.6,1316.8" fill="#000"/>
<polygon points="733.6,1323 745.6,1323 739.6,1312.2" fill="#000"/>
<polygon points="765.6,1327.6 777.6,1327.6 771.6,1316.8" fill="#000"/>
<polygon points="797.6,1330.1 809.6,1330.1 803.6,1319.3" fill="#000"/>
<polygon points="829.6,1327.8 841.6,1327.8 835.6,1317" fill="#000"/>
<polygon points="861.6,1331.3 873.6,1331.3 867.6,1320.5" fill="#000"/>
<polygon points="893.6,1331.3 905.6,1331.3 899.6,1320.5" fill="#000"/>
<polygon points="925.6,1331.3 937.6,1331.3 931.6,1320.5" fill="#000"/>
<polygon points="957.6,1332 969.6,1332 963.6,1321.2" fill="#000"/>
<polygon points="93.6,1400.3 105.6,1400.3 99.6,1411.1" fill="#d42030"/>
<polygon points="125.6,1397.8 137.6,1397.8 131.6,1408.6" fill="#d42030"/>
<polygon points="157.6,1395.4 169.6,1395.4 163.6,1406.2" fill="#d42030"/>
<polygon points="221.6,1388.6 233.6,1388.6 227.6,1399.4" fill="#d42030"/>
<polygon points="253.6,1390.1 265.6,1390.1 259.6,1400.9" fill="#d42030"/>
<polygon points="285.6,1391.6 297.6,1391.6 291.6,1402.4" fill="#d42030"/>
<polygon points="317.6,1392.6 329.6,1392.6 323.6,1403.4" fill="#d42030"/>
<polygon points="349.6,1393.2 361.6,1393.2 355.6,1404" fill="#d42030"/>
<polygon points="381.6,1394.1 393.6,1394.1 387.6,1404.9" fill="#d42030"/>
<polygon points="413.6,1393.2 425.6,1393.2 419.6,1404" fill="#d42030"/>
<polygon points="445.6,1393.2 457.6,1393.2 451.6,1404" fill="#d42030"/>
<polygon points="477.6,1393.2 489.6,1393.2 483.6,1404" fill="#d42030"/>
<polygon points="509.6,1391.6 521.6,1391.6 515.6,1402.4" fill="#d42030"/>
<polygon points="541.6,1393.2 553.6,1393.2 547.6,1404" fill="#d42030"/>
<polygon points="573.6,1393.2 585.6,1393.2 579.6,1404" fill="#d42030"/>
<polygon points="669.6,1395.4 681.6,1395.4 675.6,1406.2" fill="#d42030"/>
<polygon points="701.6,1394.1 713.6,1394.1 707.6,1404.9" fill="#d42030"/>
<polygon points="733.6,1395.4 745.6,1395.4 739.6,1406.2" fill="#d42030"/>
<polygon points="765.6,1394.6 777.6,1394.6 771.6,1405.4" fill="#d42030"/>
<polygon points="797.6,1392.6 809.6,1392.6 803.6,1403.4" fill="#d42030"/>
<polygon points="829.6,1393.6 841.6,1393.6 835.6,1404.4" fill="#d42030"/>
<polygon points="861.6,1392.1 873.6,1392.1 867.6,1402.9" fill="#d42030"/>
<polygon points="893.6,1392.1 905.6,1392.1 899.6,1402.9" fill="#d42030"/>
<polygon points="925.6,1392.1 937.6,1392.1 931.6,1402.9" fill="#d42030"/>
<polygon points="957.6,1392.1 969.6,1392.1 963.6,1402.9" fill="#d42030"/>
<rect x="84.0" y="1212.5" width="895.2" height="263.0" fill="none" stroke="#000" stroke-width="3"/>
<line x1="99.6" y1="1475.5" x2="99.6" y2="1467.7" stroke="#000" stroke-width="3" />
<line x1="163.6" y1="1475.5" x2="163.6" y2="1467.7" stroke="#000" stroke-width="3" />
<line x1="227.6" y1="1475.5" x2="227.6" y2="1467.7" stroke="#000" stroke-width="3" />
<line x1="291.6" y1="1475.5" x2="291.6" y2="1467.7" stroke="#000" stroke-width="3" />
<line x1="355.6" y1="1475.5" x2="355.6" y2="1467.7" stroke="#000" stroke-width="3" />
<line x1="419.6" y1="1475.5" x2="419.6" y2="1467.7" stroke="#000" stroke-width="3" />
<line x1="483.6" y1="1475.5" x2="483.6" y2="1467.7" stroke="#000" stroke-width="3" />
<line x1="547.6" y1="1475.5" x2="547.6" y2="1467.7" stroke="#000" stroke-width="3" />
<line x1="611.6" y1="1475.5" x2="611.6" y2="1467.7" stroke="#000" stroke-width="3" />
<line x1="675.6" y1="1475.5" x2="675.6" y2="1467.7" stroke="#000" stroke-width="3" />
<line x1="739.6" y1="1475.5" x2="739.6" y2="1467.7" stroke="#000" stroke-width="3" />
<line x1="803.6" y1="1475.5" x2="803.6" y2="1467.7" stroke="#000" stroke-width="3" />
<line x1="867.6" y1="1475.5" x2="867.6" y2="1467.7" stroke="#000" stroke-width="3" />
<line x1="931.6" y1="1475.5" x2="931.6" y2="1467.7" stroke="#000" stroke-width="3" />
<line x1="131.6" y1="1475.5" x2="131.6" y2="1471.3" stroke="#000" stroke-width="3" />
<line x1="195.6" y1="1475.5" x2="195.6" y2="1471.3" stroke="#000" stroke-width="3" />
<line x1="259.6" y1="1475.5" x2="259.6" y2="1471.3" stroke="#000" stroke-width="3" />
<line x1="323.6" y1="1475.5" x2="323.6" y2="1471.3" stroke="#000" stroke-width="3" />
<line x1="387.6" y1="1475.5" x2="387.6" y2="1471.3" stroke="#000" stroke-width="3" />
<line x1="451.6" y1="1475.5" x2="451.6" y2="1471.3" stroke="#000" stroke-width="3" />
<line x1="515.6" y1="1475.5" x2="515.6" y2="1471.3" stroke="#000" stroke-width="3" />
<line x1="579.6" y1="1475.5" x2="579.6" y2="1471.3" stroke="#000" stroke-width="3" />
<line x1="643.6" y1="1475.5" x2="643.6" y2="1471.3" stroke="#000" stroke-width="3" />
<line x1="707.6" y1="1475.5" x2="707.6" y2="1471.3" stroke="#000" stroke-width="3" />
<line x1="771.6" y1="1475.5" x2="771.6" y2="1471.3" stroke="#000" stroke-width="3" />
<line x1="835.6" y1="1475.5" x2="835.6" y2="1471.3" stroke="#000" stroke-width="3" />
<line x1="899.6" y1="1475.5" x2="899.6" y2="1471.3" stroke="#000" stroke-width="3" />
<line x1="963.6" y1="1475.5" x2="963.6" y2="1471.3" stroke="#000" stroke-width="3" />
<polygon points="76,1381 92,1371.5 92,1379 76,1388.5" fill="#fff"/>
<line x1="76.5" y1="1381.5" x2="91.5" y2="1372.5" stroke="#000" stroke-width="2.6" />
<line x1="76.5" y1="1387.5" x2="91.5" y2="1378.5" stroke="#000" stroke-width="2.6" />
<line x1="84" y1="1267" x2="91.8" y2="1267" stroke="#000" stroke-width="3" />
<line x1="84" y1="1322.3" x2="91.8" y2="1322.3" stroke="#000" stroke-width="3" />
<line x1="84" y1="1448.3" x2="91.8" y2="1448.3" stroke="#000" stroke-width="3" />
<line x1="84" y1="1239.6" x2="88.2" y2="1239.6" stroke="#000" stroke-width="3" />
<line x1="84" y1="1294.8" x2="88.2" y2="1294.8" stroke="#000" stroke-width="3" />
<line x1="84" y1="1350" x2="88.2" y2="1350" stroke="#000" stroke-width="3" />
<line x1="84" y1="1420" x2="88.2" y2="1420" stroke="#000" stroke-width="3" />
<line x1="84" y1="1391.5" x2="90" y2="1391.5" stroke="#000" stroke-width="3" />
<text x="75.6" y="1220.4" font-family="Liberation Serif" font-size="25" font-weight="bold" fill="#000" text-anchor="end" >300</text>
<text x="75.6" y="1275.4" font-family="Liberation Serif" font-size="25" font-weight="bold" fill="#000" text-anchor="end" >250</text>
<text x="75.6" y="1330.7" font-family="Liberation Serif" font-size="25" font-weight="bold" fill="#000" text-anchor="end" >200</text>
<text x="75.6" y="1401.9" font-family="Liberation Serif" font-size="25" font-weight="bold" fill="#000" text-anchor="end" >0</text>
<text x="75.6" y="1456.7" font-family="Liberation Serif" font-size="25" font-weight="bold" fill="#000" text-anchor="end" >−50</text>
<line x1="979.2" y1="1249.57" x2="971.4" y2="1249.57" stroke="#000" stroke-width="3" />
<line x1="979.2" y1="1287.14" x2="971.4" y2="1287.14" stroke="#000" stroke-width="3" />
<line x1="979.2" y1="1324.71" x2="971.4" y2="1324.71" stroke="#000" stroke-width="3" />
<line x1="979.2" y1="1362.28" x2="971.4" y2="1362.28" stroke="#000" stroke-width="3" />
<line x1="979.2" y1="1399.85" x2="971.4" y2="1399.85" stroke="#000" stroke-width="3" />
<line x1="979.2" y1="1437.42" x2="971.4" y2="1437.42" stroke="#000" stroke-width="3" />
<line x1="979.2" y1="1230.79" x2="975" y2="1230.79" stroke="#000" stroke-width="3" />
<line x1="979.2" y1="1268.36" x2="975" y2="1268.36" stroke="#000" stroke-width="3" />
<line x1="979.2" y1="1305.92" x2="975" y2="1305.92" stroke="#000" stroke-width="3" />
<line x1="979.2" y1="1343.49" x2="975" y2="1343.49" stroke="#000" stroke-width="3" />
<line x1="979.2" y1="1381.07" x2="975" y2="1381.07" stroke="#000" stroke-width="3" />
<line x1="979.2" y1="1418.63" x2="975" y2="1418.63" stroke="#000" stroke-width="3" />
<line x1="979.2" y1="1456.2" x2="975" y2="1456.2" stroke="#000" stroke-width="3" />
<text x="988" y="1219.5" font-family="Liberation Serif" font-size="23" font-weight="bold" fill="#000" text-anchor="start" >130</text>
<text x="988" y="1257.07" font-family="Liberation Serif" font-size="23" font-weight="bold" fill="#000" text-anchor="start" >125</text>
<text x="988" y="1294.64" font-family="Liberation Serif" font-size="23" font-weight="bold" fill="#000" text-anchor="start" >120</text>
<text x="988" y="1332.21" font-family="Liberation Serif" font-size="23" font-weight="bold" fill="#000" text-anchor="start" >115</text>
<text x="988" y="1369.78" font-family="Liberation Serif" font-size="23" font-weight="bold" fill="#000" text-anchor="start" >110</text>
<text x="988" y="1407.35" font-family="Liberation Serif" font-size="23" font-weight="bold" fill="#000" text-anchor="start" >105</text>
<text x="988" y="1444.92" font-family="Liberation Serif" font-size="23" font-weight="bold" fill="#000" text-anchor="start" >100</text>
<text x="988" y="1482.49" font-family="Liberation Serif" font-size="23" font-weight="bold" fill="#000" text-anchor="start" >95</text>
<text x="99.6" y="1504.3" font-family="Liberation Serif" font-size="25" font-weight="bold" fill="#000" text-anchor="middle" >40</text>
<text x="163.6" y="1504.3" font-family="Liberation Serif" font-size="25" font-weight="bold" fill="#000" text-anchor="middle" >38</text>
<text x="227.6" y="1504.3" font-family="Liberation Serif" font-size="25" font-weight="bold" fill="#000" text-anchor="middle" >36</text>
<text x="291.6" y="1504.3" font-family="Liberation Serif" font-size="25" font-weight="bold" fill="#000" text-anchor="middle" >34</text>
<text x="355.6" y="1504.3" font-family="Liberation Serif" font-size="25" font-weight="bold" fill="#000" text-anchor="middle" >32</text>
<text x="419.6" y="1504.3" font-family="Liberation Serif" font-size="25" font-weight="bold" fill="#000" text-anchor="middle" >30</text>
<text x="483.6" y="1504.3" font-family="Liberation Serif" font-size="25" font-weight="bold" fill="#000" text-anchor="middle" >28</text>
<text x="547.6" y="1504.3" font-family="Liberation Serif" font-size="25" font-weight="bold" fill="#000" text-anchor="middle" >26</text>
<text x="611.6" y="1504.3" font-family="Liberation Serif" font-size="25" font-weight="bold" fill="#000" text-anchor="middle" >24</text>
<text x="675.6" y="1504.3" font-family="Liberation Serif" font-size="25" font-weight="bold" fill="#000" text-anchor="middle" >22</text>
<text x="739.6" y="1504.3" font-family="Liberation Serif" font-size="25" font-weight="bold" fill="#000" text-anchor="middle" >20</text>
<text x="803.6" y="1504.3" font-family="Liberation Serif" font-size="25" font-weight="bold" fill="#000" text-anchor="middle" >18</text>
<text x="867.6" y="1504.3" font-family="Liberation Serif" font-size="25" font-weight="bold" fill="#000" text-anchor="middle" >16</text>
<text x="931.6" y="1504.3" font-family="Liberation Serif" font-size="25" font-weight="bold" fill="#000" text-anchor="middle" >14</text>
<text x="130" y="1242" font-family="Liberation Sans" font-size="29.5" font-weight="bold" fill="#000" text-anchor="start" >E</text>
<polygon points="768.8,1241.4 780.8,1241.4 774.8,1230.6" fill="#000"/>
<text x="809.5" y="1246" font-family="Liberation Serif" font-size="25.3" font-weight="bold" fill="#000" text-anchor="start" >discrete DO</text>
<polygon points="768.8,1265.4 780.8,1265.4 774.8,1276.2" fill="#d42030"/>
<text x="809.5" y="1280.5" font-family="Liberation Serif" font-size="25.3" font-weight="bold" fill="#000" text-anchor="start" >discrete AOU</text>
<text transform="translate(1052.5,1344.5) rotate(-90)" x="0" y="0" font-family="Liberation Serif" font-size="26" font-weight="bold" fill="#1a8a3e" text-anchor="middle" textLength="65" lengthAdjust="spacing">DO%</text>
<text transform="translate(26.7,1290.4) rotate(-90)" x="0" y="0" font-family="Liberation Serif" font-size="27" font-weight="bold" fill="#7f7f7f" text-anchor="middle" textLength="177.2" lengthAdjust="spacing">DO(μmol kg-1)</text>
<text transform="translate(28.2,1479.65) rotate(-90)" x="0" y="0" font-family="Liberation Serif" font-size="27" font-weight="bold" fill="#f06a6e" text-anchor="middle" textLength="189.3" lengthAdjust="spacing">AOU(μmol kg<tspan font-size="18" dy="-11">-1</tspan><tspan dy="11">)</tspan></text>
<defs><pattern id="hatch" patternUnits="userSpaceOnUse" width="11" height="11"><rect width="11" height="11" fill="#bde0f5"/><path d="M0,11 L11,0 M-3,3 L3,-3 M8,14 L14,8" stroke="#333" stroke-width="1"/></pattern></defs>
<rect x="85.6" y="1910" width="28" height="97.5" fill="url(#hatch)"/>
<rect x="117.6" y="1851.7" width="28" height="155.8" fill="url(#hatch)"/>
<rect x="149.6" y="1622" width="28" height="385.5" fill="url(#hatch)"/>
<rect x="213.6" y="1905.2" width="28" height="102.3" fill="url(#hatch)"/>
<rect x="245.6" y="1708.5" width="28" height="299" fill="url(#hatch)"/>
<rect x="277.6" y="1987.2" width="28" height="20.3" fill="url(#hatch)"/>
<rect x="309.6" y="1982.2" width="28" height="25.3" fill="url(#hatch)"/>
<rect x="341.6" y="1963" width="28" height="44.5" fill="url(#hatch)"/>
<rect x="373.6" y="1942.6" width="28" height="64.9" fill="url(#hatch)"/>
<rect x="405.6" y="2001.5" width="28" height="6" fill="url(#hatch)"/>
<rect x="437.6" y="1951.4" width="28" height="56.1" fill="url(#hatch)"/>
<rect x="469.6" y="1997.6" width="28" height="9.9" fill="url(#hatch)"/>
<rect x="501.6" y="1979.2" width="28" height="28.3" fill="url(#hatch)"/>
<rect x="533.6" y="1998" width="28" height="9.5" fill="url(#hatch)"/>
<rect x="565.6" y="1992" width="28" height="15.5" fill="url(#hatch)"/>
<rect x="661.6" y="1906.8" width="28" height="100.7" fill="url(#hatch)"/>
<rect x="693.6" y="2003" width="28" height="4.5" fill="url(#hatch)"/>
<rect x="725.6" y="1997.6" width="28" height="9.9" fill="url(#hatch)"/>
<rect x="757.6" y="1927.2" width="28" height="80.3" fill="url(#hatch)"/>
<rect x="789.6" y="1984.8" width="28" height="22.7" fill="url(#hatch)"/>
<rect x="821.6" y="1979.2" width="28" height="28.3" fill="url(#hatch)"/>
<rect x="853.6" y="1988" width="28" height="19.5" fill="url(#hatch)"/>
<rect x="885.6" y="1982" width="28" height="25.5" fill="url(#hatch)"/>
<rect x="917.6" y="2000" width="28" height="7.5" fill="url(#hatch)"/>
<rect x="949.6" y="2001" width="28" height="6.5" fill="url(#hatch)"/>
<line x1="84" y1="1981.8" x2="979.3" y2="1981.8" stroke="#f5a080" stroke-width="1.5" stroke-dasharray="6,5"/>
<rect x="95.9" y="1715.11" width="2.3" height="3.23" fill="#1a9040"/>
<rect x="95.9" y="1670.92" width="2.3" height="3.26" fill="#1a9040"/>
<rect x="95.9" y="1678.68" width="2.3" height="8.23" fill="#1a9040"/>
<rect x="95.9" y="1716.48" width="2.3" height="7.71" fill="#1a9040"/>
<rect x="95.9" y="1688.28" width="2.3" height="9.54" fill="#1a9040"/>
<rect x="95.9" y="1676.08" width="2.3" height="4.21" fill="#1a9040"/>
<rect x="95.9" y="1695.77" width="2.3" height="4.45" fill="#1a9040"/>
<rect x="95.9" y="1713.8" width="2.3" height="8.76" fill="#1a9040"/>
<rect x="96.9" y="1686.48" width="2.3" height="6.85" fill="#1a9040"/>
<rect x="96.9" y="1686.01" width="2.3" height="6.62" fill="#1a9040"/>
<rect x="96.9" y="1702.38" width="2.3" height="3.64" fill="#1a9040"/>
<rect x="96.9" y="1721.53" width="2.3" height="8.59" fill="#1a9040"/>
<rect x="96.9" y="1719.59" width="2.3" height="3.19" fill="#1a9040"/>
<rect x="96.9" y="1679.67" width="2.3" height="8.12" fill="#1a9040"/>
<rect x="96.9" y="1719.68" width="2.3" height="7.13" fill="#1a9040"/>
<rect x="96.9" y="1729.04" width="2.3" height="5.7" fill="#1a9040"/>
<rect x="97.9" y="1697.93" width="2.3" height="4.76" fill="#1a9040"/>
<rect x="97.9" y="1689.65" width="2.3" height="8.37" fill="#1a9040"/>
<rect x="97.9" y="1685.93" width="2.3" height="7.85" fill="#1a9040"/>
<rect x="97.9" y="1707.22" width="2.3" height="2.66" fill="#1a9040"/>
<rect x="97.9" y="1698.32" width="2.3" height="9" fill="#1a9040"/>
<rect x="97.9" y="1707.88" width="2.3" height="8.88" fill="#1a9040"/>
<rect x="97.9" y="1706.75" width="2.3" height="9.96" fill="#1a9040"/>
<rect x="97.9" y="1667.28" width="2.3" height="5.69" fill="#1a9040"/>
<rect x="98.9" y="1717.66" width="2.3" height="4.71" fill="#1a9040"/>
<rect x="98.9" y="1709.91" width="2.3" height="7.42" fill="#1a9040"/>
<rect x="98.9" y="1664.89" width="2.3" height="7.11" fill="#1a9040"/>
<rect x="98.9" y="1688.01" width="2.3" height="4.4" fill="#1a9040"/>
<rect x="98.9" y="1708.66" width="2.3" height="7.24" fill="#1a9040"/>
<rect x="98.9" y="1678.24" width="2.3" height="7.83" fill="#1a9040"/>
<rect x="98.9" y="1671.03" width="2.3" height="2.91" fill="#1a9040"/>
<rect x="98.9" y="1724.43" width="2.3" height="9.46" fill="#1a9040"/>
<rect x="99.9" y="1732.85" width="2.3" height="8.06" fill="#1a9040"/>
<rect x="99.9" y="1703.75" width="2.3" height="6.47" fill="#1a9040"/>
<rect x="99.9" y="1699.83" width="2.3" height="9.58" fill="#1a9040"/>
<rect x="99.9" y="1732.03" width="2.3" height="5.77" fill="#1a9040"/>
<rect x="99.9" y="1677.95" width="2.3" height="6.53" fill="#1a9040"/>
<rect x="99.9" y="1692.48" width="2.3" height="8.57" fill="#1a9040"/>
<rect x="99.9" y="1728.21" width="2.3" height="7.15" fill="#1a9040"/>
<rect x="99.9" y="1669.56" width="2.3" height="6.51" fill="#1a9040"/>
<rect x="100.9" y="1700.47" width="2.3" height="8.64" fill="#1a9040"/>
<rect x="100.9" y="1711.41" width="2.3" height="6.01" fill="#1a9040"/>
<rect x="100.9" y="1673.29" width="2.3" height="9.48" fill="#1a9040"/>
<rect x="100.9" y="1725.34" width="2.3" height="6.16" fill="#1a9040"/>
<rect x="100.9" y="1666.78" width="2.3" height="7.57" fill="#1a9040"/>
<rect x="100.9" y="1692.45" width="2.3" height="5.48" fill="#1a9040"/>
<rect x="100.9" y="1691.31" width="2.3" height="4.56" fill="#1a9040"/>
<rect x="100.9" y="1673.11" width="2.3" height="7.38" fill="#1a9040"/>
<rect x="101.9" y="1693.25" width="2.3" height="8.13" fill="#1a9040"/>
<rect x="101.9" y="1700.55" width="2.3" height="3.71" fill="#1a9040"/>
<rect x="101.9" y="1682.38" width="2.3" height="6.69" fill="#1a9040"/>
<rect x="101.9" y="1710.41" width="2.3" height="7.25" fill="#1a9040"/>
<rect x="101.9" y="1717.11" width="2.3" height="5.18" fill="#1a9040"/>
<rect x="101.9" y="1717.74" width="2.3" height="6.87" fill="#1a9040"/>
<rect x="101.9" y="1683.04" width="2.3" height="3.44" fill="#1a9040"/>
<rect x="101.9" y="1706.74" width="2.3" height="8.85" fill="#1a9040"/>
<rect x="102.9" y="1720.55" width="2.3" height="8.67" fill="#1a9040"/>
<rect x="102.9" y="1706.51" width="2.3" height="4.34" fill="#1a9040"/>
<rect x="102.9" y="1683.21" width="2.3" height="8.96" fill="#1a9040"/>
<rect x="102.9" y="1682.97" width="2.3" height="6.13" fill="#1a9040"/>
<rect x="102.9" y="1704.45" width="2.3" height="2.63" fill="#1a9040"/>
<rect x="102.9" y="1672.46" width="2.3" height="4" fill="#1a9040"/>
<rect x="102.9" y="1719.22" width="2.3" height="8.39" fill="#1a9040"/>
<rect x="102.9" y="1670.89" width="2.3" height="3.72" fill="#1a9040"/>
<rect x="103.9" y="1673.99" width="2.3" height="8.5" fill="#1a9040"/>
<rect x="103.9" y="1703.98" width="2.3" height="9.04" fill="#1a9040"/>
<rect x="103.9" y="1717.71" width="2.3" height="3.23" fill="#1a9040"/>
<rect x="103.9" y="1717.73" width="2.3" height="7.86" fill="#1a9040"/>
<rect x="103.9" y="1664.53" width="2.3" height="9.57" fill="#1a9040"/>
<rect x="103.9" y="1684.35" width="2.3" height="5.98" fill="#1a9040"/>
<rect x="103.9" y="1700.72" width="2.3" height="6.66" fill="#1a9040"/>
<rect x="103.9" y="1705.83" width="2.3" height="2.99" fill="#1a9040"/>
<rect x="104.9" y="1702.38" width="2.3" height="3.24" fill="#1a9040"/>
<rect x="104.9" y="1700.54" width="2.3" height="3.92" fill="#1a9040"/>
<rect x="104.9" y="1693.42" width="2.3" height="7.89" fill="#1a9040"/>
<rect x="104.9" y="1718.82" width="2.3" height="3.71" fill="#1a9040"/>
<rect x="104.9" y="1682.06" width="2.3" height="9.76" fill="#1a9040"/>
<rect x="104.9" y="1709.66" width="2.3" height="3.89" fill="#1a9040"/>
<rect x="104.9" y="1708.07" width="2.3" height="4.36" fill="#1a9040"/>
<rect x="104.9" y="1667.78" width="2.3" height="7.44" fill="#1a9040"/>
<rect x="105.9" y="1672.36" width="2.3" height="7.59" fill="#1a9040"/>
<rect x="105.9" y="1734.81" width="2.3" height="3.02" fill="#1a9040"/>
<rect x="105.9" y="1718.7" width="2.3" height="3.57" fill="#1a9040"/>
<rect x="105.9" y="1668.89" width="2.3" height="2.62" fill="#1a9040"/>
<rect x="105.9" y="1663.41" width="2.3" height="7.98" fill="#1a9040"/>
<rect x="105.9" y="1730.7" width="2.3" height="2.6" fill="#1a9040"/>
<rect x="105.9" y="1675.45" width="2.3" height="2.85" fill="#1a9040"/>
<rect x="105.9" y="1693.12" width="2.3" height="4.92" fill="#1a9040"/>
<rect x="106.9" y="1723.84" width="2.3" height="3.28" fill="#1a9040"/>
<rect x="106.9" y="1710.28" width="2.3" height="3.58" fill="#1a9040"/>
<rect x="106.9" y="1711.91" width="2.3" height="3.47" fill="#1a9040"/>
<rect x="106.9" y="1675.22" width="2.3" height="9.92" fill="#1a9040"/>
<rect x="106.9" y="1682.33" width="2.3" height="5.88" fill="#1a9040"/>
<rect x="106.9" y="1709.16" width="2.3" height="9.99" fill="#1a9040"/>
<rect x="106.9" y="1704.29" width="2.3" height="3.37" fill="#1a9040"/>
<rect x="106.9" y="1710.92" width="2.3" height="7.63" fill="#1a9040"/>
<rect x="107.9" y="1689.6" width="2.3" height="8.65" fill="#1a9040"/>
<rect x="107.9" y="1666.92" width="2.3" height="6.6" fill="#1a9040"/>
<rect x="107.9" y="1700.95" width="2.3" height="9.38" fill="#1a9040"/>
<rect x="107.9" y="1720.84" width="2.3" height="4.3" fill="#1a9040"/>
<rect x="107.9" y="1690.3" width="2.3" height="6.97" fill="#1a9040"/>
<rect x="107.9" y="1692.09" width="2.3" height="2.97" fill="#1a9040"/>
<rect x="107.9" y="1735.76" width="2.3" height="5.91" fill="#1a9040"/>
<rect x="107.9" y="1674.06" width="2.3" height="3.65" fill="#1a9040"/>
<rect x="108.9" y="1731.12" width="2.3" height="3.55" fill="#1a9040"/>
<rect x="108.9" y="1702.35" width="2.3" height="9.59" fill="#1a9040"/>
<rect x="108.9" y="1718.84" width="2.3" height="6.93" fill="#1a9040"/>
<rect x="108.9" y="1682.7" width="2.3" height="7.55" fill="#1a9040"/>
<rect x="108.9" y="1723.16" width="2.3" height="4.05" fill="#1a9040"/>
<rect x="108.9" y="1679.52" width="2.3" height="5.59" fill="#1a9040"/>
<rect x="108.9" y="1705.14" width="2.3" height="9.17" fill="#1a9040"/>
<rect x="108.9" y="1706.94" width="2.3" height="4.5" fill="#1a9040"/>
<rect x="109.9" y="1674.74" width="2.3" height="3.3" fill="#1a9040"/>
<rect x="109.9" y="1662.48" width="2.3" height="6.82" fill="#1a9040"/>
<rect x="109.9" y="1705.32" width="2.3" height="5.98" fill="#1a9040"/>
<rect x="109.9" y="1704.52" width="2.3" height="3.91" fill="#1a9040"/>
<rect x="109.9" y="1677.43" width="2.3" height="6.89" fill="#1a9040"/>
<rect x="109.9" y="1692.15" width="2.3" height="6.24" fill="#1a9040"/>
<rect x="109.9" y="1730.38" width="2.3" height="6.01" fill="#1a9040"/>
<rect x="109.9" y="1719.18" width="2.3" height="2.96" fill="#1a9040"/>
<rect x="110.9" y="1667.05" width="2.3" height="3.99" fill="#1a9040"/>
<rect x="110.9" y="1676.45" width="2.3" height="5.38" fill="#1a9040"/>
<rect x="110.9" y="1672.17" width="2.3" height="9.51" fill="#1a9040"/>
<rect x="110.9" y="1685.15" width="2.3" height="4.78" fill="#1a9040"/>
<rect x="110.9" y="1667.7" width="2.3" height="5.27" fill="#1a9040"/>
<rect x="110.9" y="1720.51" width="2.3" height="6.6" fill="#1a9040"/>
<rect x="110.9" y="1728.46" width="2.3" height="7.13" fill="#1a9040"/>
<rect x="110.9" y="1710.45" width="2.3" height="5.7" fill="#1a9040"/>
<rect x="111.9" y="1692.65" width="2.3" height="3.55" fill="#1a9040"/>
<rect x="111.9" y="1671.3" width="2.3" height="8.48" fill="#1a9040"/>
<rect x="111.9" y="1659.67" width="2.3" height="3.85" fill="#1a9040"/>
<rect x="111.9" y="1705.45" width="2.3" height="7.62" fill="#1a9040"/>
<rect x="111.9" y="1692.06" width="2.3" height="7.39" fill="#1a9040"/>
<rect x="111.9" y="1688.45" width="2.3" height="6.92" fill="#1a9040"/>
<rect x="111.9" y="1657.2" width="2.3" height="5.59" fill="#1a9040"/>
<rect x="112.9" y="1699.18" width="2.3" height="5.06" fill="#1a9040"/>
<rect x="112.9" y="1701.24" width="2.3" height="9.82" fill="#1a9040"/>
<rect x="112.9" y="1688.76" width="2.3" height="5.62" fill="#1a9040"/>
<rect x="112.9" y="1720.05" width="2.3" height="8.88" fill="#1a9040"/>
<rect x="112.9" y="1665.66" width="2.3" height="7.51" fill="#1a9040"/>
<rect x="112.9" y="1673.56" width="2.3" height="5.15" fill="#1a9040"/>
<rect x="112.9" y="1720.17" width="2.3" height="5.22" fill="#1a9040"/>
<rect x="113.9" y="1684.98" width="2.3" height="9" fill="#1a9040"/>
<rect x="113.9" y="1650.55" width="2.3" height="5.53" fill="#1a9040"/>
<rect x="113.9" y="1639.2" width="2.3" height="8.94" fill="#1a9040"/>
<rect x="113.9" y="1727.25" width="2.3" height="6.14" fill="#1a9040"/>
<rect x="113.9" y="1682.42" width="2.3" height="9.78" fill="#1a9040"/>
<rect x="113.9" y="1677" width="2.3" height="4.8" fill="#1a9040"/>
<rect x="114.9" y="1728.83" width="2.3" height="8.52" fill="#1a9040"/>
<rect x="114.9" y="1685.99" width="2.3" height="7.97" fill="#1a9040"/>
<rect x="114.9" y="1720.18" width="2.3" height="7.52" fill="#1a9040"/>
<rect x="114.9" y="1640.23" width="2.3" height="7.36" fill="#1a9040"/>
<rect x="114.9" y="1724.86" width="2.3" height="6.07" fill="#1a9040"/>
<rect x="114.9" y="1675.32" width="2.3" height="7.33" fill="#1a9040"/>
<rect x="115.9" y="1662.72" width="2.3" height="7.6" fill="#1a9040"/>
<rect x="115.9" y="1741.66" width="2.3" height="3.35" fill="#1a9040"/>
<rect x="115.9" y="1707.35" width="2.3" height="6.28" fill="#1a9040"/>
<rect x="115.9" y="1645.91" width="2.3" height="3.71" fill="#1a9040"/>
<rect x="115.9" y="1670.66" width="2.3" height="7.69" fill="#1a9040"/>
<rect x="115.9" y="1654.62" width="2.3" height="5.3" fill="#1a9040"/>
<rect x="116.9" y="1718.94" width="2.3" height="9.97" fill="#1a9040"/>
<rect x="116.9" y="1729.44" width="2.3" height="3.93" fill="#1a9040"/>
<rect x="116.9" y="1702.81" width="2.3" height="7.05" fill="#1a9040"/>
<rect x="116.9" y="1702.23" width="2.3" height="6.98" fill="#1a9040"/>
<rect x="116.9" y="1688.32" width="2.3" height="4.29" fill="#1a9040"/>
<rect x="116.9" y="1711.52" width="2.3" height="9.05" fill="#1a9040"/>
<rect x="117.9" y="1715.8" width="2.3" height="9.68" fill="#1a9040"/>
<rect x="117.9" y="1684.89" width="2.3" height="6.81" fill="#1a9040"/>
<rect x="117.9" y="1730.47" width="2.3" height="7.39" fill="#1a9040"/>
<rect x="117.9" y="1664.93" width="2.3" height="6.33" fill="#1a9040"/>
<rect x="117.9" y="1731.33" width="2.3" height="4.02" fill="#1a9040"/>
<rect x="117.9" y="1694.57" width="2.3" height="9.87" fill="#1a9040"/>
<rect x="118.9" y="1714.55" width="2.3" height="6.98" fill="#1a9040"/>
<rect x="118.9" y="1736.53" width="2.3" height="5.92" fill="#1a9040"/>
<rect x="118.9" y="1739" width="2.3" height="7.79" fill="#1a9040"/>
<rect x="118.9" y="1704.54" width="2.3" height="7.11" fill="#1a9040"/>
<rect x="118.9" y="1699.58" width="2.3" height="2.89" fill="#1a9040"/>
<rect x="118.9" y="1712.55" width="2.3" height="2.84" fill="#1a9040"/>
<rect x="119.9" y="1744.92" width="2.3" height="9.78" fill="#1a9040"/>
<rect x="119.9" y="1705.99" width="2.3" height="3.74" fill="#1a9040"/>
<rect x="119.9" y="1715.02" width="2.3" height="5.88" fill="#1a9040"/>
<rect x="119.9" y="1699.94" width="2.3" height="8.55" fill="#1a9040"/>
<rect x="119.9" y="1701.95" width="2.3" height="6.55" fill="#1a9040"/>
<rect x="119.9" y="1709.01" width="2.3" height="7.35" fill="#1a9040"/>
<rect x="120.9" y="1735.21" width="2.3" height="8.86" fill="#1a9040"/>
<rect x="120.9" y="1709.03" width="2.3" height="3.95" fill="#1a9040"/>
<rect x="120.9" y="1709.95" width="2.3" height="8.77" fill="#1a9040"/>
<rect x="120.9" y="1748.08" width="2.3" height="4.32" fill="#1a9040"/>
<rect x="120.9" y="1762.1" width="2.3" height="3.8" fill="#1a9040"/>
<rect x="120.9" y="1735.33" width="2.3" height="7.97" fill="#1a9040"/>
<rect x="121.9" y="1727.19" width="2.3" height="2.85" fill="#1a9040"/>
<rect x="121.9" y="1730.33" width="2.3" height="9.59" fill="#1a9040"/>
<rect x="121.9" y="1772.06" width="2.3" height="4.75" fill="#1a9040"/>
<rect x="121.9" y="1724" width="2.3" height="7.26" fill="#1a9040"/>
<rect x="121.9" y="1731.31" width="2.3" height="9.19" fill="#1a9040"/>
<rect x="122.9" y="1774.94" width="2.3" height="8.33" fill="#1a9040"/>
<rect x="122.9" y="1774.56" width="2.3" height="8.74" fill="#1a9040"/>
<rect x="122.9" y="1755.03" width="2.3" height="7.91" fill="#1a9040"/>
<rect x="122.9" y="1736.78" width="2.3" height="7.71" fill="#1a9040"/>
<rect x="122.9" y="1757.3" width="2.3" height="9.88" fill="#1a9040"/>
<rect x="123.9" y="1762.91" width="2.3" height="7.8" fill="#1a9040"/>
<rect x="123.9" y="1769.87" width="2.3" height="7.13" fill="#1a9040"/>
<rect x="123.9" y="1742.48" width="2.3" height="4.19" fill="#1a9040"/>
<rect x="123.9" y="1753.15" width="2.3" height="7.78" fill="#1a9040"/>
<rect x="123.9" y="1786.37" width="2.3" height="7.21" fill="#1a9040"/>
<rect x="124.9" y="1778.34" width="2.3" height="3.59" fill="#1a9040"/>
<rect x="124.9" y="1757.67" width="2.3" height="6.86" fill="#1a9040"/>
<rect x="124.9" y="1783.21" width="2.3" height="5.64" fill="#1a9040"/>
<rect x="124.9" y="1780.58" width="2.3" height="5.01" fill="#1a9040"/>
<rect x="125.9" y="1758.14" width="2.3" height="5.6" fill="#1a9040"/>
<rect x="125.9" y="1779.83" width="2.3" height="3.32" fill="#1a9040"/>
<rect x="125.9" y="1797.72" width="2.3" height="2.56" fill="#1a9040"/>
<rect x="125.9" y="1786.52" width="2.3" height="5.1" fill="#1a9040"/>
<rect x="125.9" y="1797.07" width="2.3" height="4.65" fill="#1a9040"/>
<rect x="126.9" y="1788.52" width="2.3" height="5.34" fill="#1a9040"/>
<rect x="126.9" y="1793.82" width="2.3" height="7.5" fill="#1a9040"/>
<rect x="126.9" y="1775" width="2.3" height="7.46" fill="#1a9040"/>
<rect x="126.9" y="1788.25" width="2.3" height="4.96" fill="#1a9040"/>
<rect x="126.9" y="1762.71" width="2.3" height="7.4" fill="#1a9040"/>
<rect x="127.9" y="1761.36" width="2.3" height="3.71" fill="#1a9040"/>
<rect x="127.9" y="1780.78" width="2.3" height="3.17" fill="#1a9040"/>
<rect x="127.9" y="1784.33" width="2.3" height="5.46" fill="#1a9040"/>
<rect x="127.9" y="1771.55" width="2.3" height="8.13" fill="#1a9040"/>
<rect x="128.9" y="1764.86" width="2.3" height="6.98" fill="#1a9040"/>
<rect x="128.9" y="1811.11" width="2.3" height="7.05" fill="#1a9040"/>
<rect x="128.9" y="1812.12" width="2.3" height="4.24" fill="#1a9040"/>
<rect x="128.9" y="1773.57" width="2.3" height="4.95" fill="#1a9040"/>
<rect x="129.9" y="1773.61" width="2.3" height="4.41" fill="#1a9040"/>
<rect x="129.9" y="1788.59" width="2.3" height="8.59" fill="#1a9040"/>
<rect x="129.9" y="1805.06" width="2.3" height="2.8" fill="#1a9040"/>
<rect x="129.9" y="1802.52" width="2.3" height="7.29" fill="#1a9040"/>
<rect x="130.9" y="1766.54" width="2.3" height="8.95" fill="#1a9040"/>
<rect x="130.9" y="1775.2" width="2.3" height="4.4" fill="#1a9040"/>
<rect x="130.9" y="1781.64" width="2.3" height="8.47" fill="#1a9040"/>
<rect x="130.9" y="1813.25" width="2.3" height="9.37" fill="#1a9040"/>
<rect x="131.9" y="1812.75" width="2.3" height="6.04" fill="#1a9040"/>
<rect x="131.9" y="1774.17" width="2.3" height="4.26" fill="#1a9040"/>
<rect x="131.9" y="1778.84" width="2.3" height="3.37" fill="#1a9040"/>
<rect x="131.9" y="1777.79" width="2.3" height="4.89" fill="#1a9040"/>
<rect x="132.9" y="1786.64" width="2.3" height="8.92" fill="#1a9040"/>
<rect x="132.9" y="1785.26" width="2.3" height="6.32" fill="#1a9040"/>
<rect x="132.9" y="1817.57" width="2.3" height="2.62" fill="#1a9040"/>
<rect x="132.9" y="1809.4" width="2.3" height="6.57" fill="#1a9040"/>
<rect x="133.9" y="1819.47" width="2.3" height="8.47" fill="#1a9040"/>
<rect x="133.9" y="1779.38" width="2.3" height="9.71" fill="#1a9040"/>
<rect x="133.9" y="1804.39" width="2.3" height="7.26" fill="#1a9040"/>
<rect x="133.9" y="1788.42" width="2.3" height="2.73" fill="#1a9040"/>
<rect x="134.9" y="1815.73" width="2.3" height="3.86" fill="#1a9040"/>
<rect x="134.9" y="1780.3" width="2.3" height="6.81" fill="#1a9040"/>
<rect x="134.9" y="1794.85" width="2.3" height="5.08" fill="#1a9040"/>
<rect x="134.9" y="1822.03" width="2.3" height="6.74" fill="#1a9040"/>
<rect x="135.9" y="1814.57" width="2.3" height="7.9" fill="#1a9040"/>
<rect x="135.9" y="1807.33" width="2.3" height="9.65" fill="#1a9040"/>
<rect x="135.9" y="1803.99" width="2.3" height="7.37" fill="#1a9040"/>
<rect x="135.9" y="1784.9" width="2.3" height="4.76" fill="#1a9040"/>
<rect x="136.9" y="1804.23" width="2.3" height="6.33" fill="#1a9040"/>
<rect x="136.9" y="1788.71" width="2.3" height="7.68" fill="#1a9040"/>
<rect x="136.9" y="1787.52" width="2.3" height="4.39" fill="#1a9040"/>
<rect x="136.9" y="1813.39" width="2.3" height="2.68" fill="#1a9040"/>
<rect x="137.9" y="1822.72" width="2.3" height="7.99" fill="#1a9040"/>
<rect x="137.9" y="1805.01" width="2.3" height="3.75" fill="#1a9040"/>
<rect x="137.9" y="1819.5" width="2.3" height="9.02" fill="#1a9040"/>
<rect x="137.9" y="1790.61" width="2.3" height="5.64" fill="#1a9040"/>
<rect x="138.9" y="1820.98" width="2.3" height="4.02" fill="#1a9040"/>
<rect x="138.9" y="1825.16" width="2.3" height="7.07" fill="#1a9040"/>
<rect x="138.9" y="1822.85" width="2.3" height="9.61" fill="#1a9040"/>
<rect x="138.9" y="1818.79" width="2.3" height="7.53" fill="#1a9040"/>
<rect x="139.9" y="1803.91" width="2.3" height="5.3" fill="#1a9040"/>
<rect x="139.9" y="1826.11" width="2.3" height="6.97" fill="#1a9040"/>
<rect x="139.9" y="1802.15" width="2.3" height="9.27" fill="#1a9040"/>
<rect x="139.9" y="1812.09" width="2.3" height="9.84" fill="#1a9040"/>
<rect x="140.9" y="1825.33" width="2.3" height="5.09" fill="#1a9040"/>
<rect x="140.9" y="1835.46" width="2.3" height="6.1" fill="#1a9040"/>
<rect x="140.9" y="1822.57" width="2.3" height="5.53" fill="#1a9040"/>
<rect x="140.9" y="1817.18" width="2.3" height="3.82" fill="#1a9040"/>
<rect x="141.9" y="1812.5" width="2.3" height="8.07" fill="#1a9040"/>
<rect x="141.9" y="1804.35" width="2.3" height="3.98" fill="#1a9040"/>
<rect x="141.9" y="1822.72" width="2.3" height="6.05" fill="#1a9040"/>
<rect x="141.9" y="1833.96" width="2.3" height="2.65" fill="#1a9040"/>
<rect x="142.9" y="1824.07" width="2.3" height="8.16" fill="#1a9040"/>
<rect x="142.9" y="1805.54" width="2.3" height="6.37" fill="#1a9040"/>
<rect x="142.9" y="1809.25" width="2.3" height="2.54" fill="#1a9040"/>
<rect x="142.9" y="1795.59" width="2.3" height="4.21" fill="#1a9040"/>
<rect x="143.9" y="1794.39" width="2.3" height="4.64" fill="#1a9040"/>
<rect x="143.9" y="1807.92" width="2.3" height="7.73" fill="#1a9040"/>
<rect x="143.9" y="1813.1" width="2.3" height="4.82" fill="#1a9040"/>
<rect x="143.9" y="1801.56" width="2.3" height="2.6" fill="#1a9040"/>
<rect x="144.9" y="1796.62" width="2.3" height="4.69" fill="#1a9040"/>
<rect x="144.9" y="1788.76" width="2.3" height="6.2" fill="#1a9040"/>
<rect x="144.9" y="1786.99" width="2.3" height="4.94" fill="#1a9040"/>
<rect x="144.9" y="1785.63" width="2.3" height="3.93" fill="#1a9040"/>
<rect x="145.9" y="1789.85" width="2.3" height="3.3" fill="#1a9040"/>
<rect x="145.9" y="1813.09" width="2.3" height="2.95" fill="#1a9040"/>
<rect x="145.9" y="1792.76" width="2.3" height="4.7" fill="#1a9040"/>
<rect x="145.9" y="1777.69" width="2.3" height="4.72" fill="#1a9040"/>
<rect x="146.9" y="1799.41" width="2.3" height="4.44" fill="#1a9040"/>
<rect x="146.9" y="1783.69" width="2.3" height="9.25" fill="#1a9040"/>
<rect x="146.9" y="1796.37" width="2.3" height="5.84" fill="#1a9040"/>
<rect x="146.9" y="1776.93" width="2.3" height="8.39" fill="#1a9040"/>
<rect x="147.9" y="1771.84" width="2.3" height="8.88" fill="#1a9040"/>
<rect x="147.9" y="1779.41" width="2.3" height="6.09" fill="#1a9040"/>
<rect x="147.9" y="1764.27" width="2.3" height="4.32" fill="#1a9040"/>
<rect x="147.9" y="1774.31" width="2.3" height="4.02" fill="#1a9040"/>
<rect x="148.9" y="1802.65" width="2.3" height="4.89" fill="#1a9040"/>
<rect x="148.9" y="1795.43" width="2.3" height="4.76" fill="#1a9040"/>
<rect x="148.9" y="1784.99" width="2.3" height="3.96" fill="#1a9040"/>
<rect x="148.9" y="1799.87" width="2.3" height="6.37" fill="#1a9040"/>
<rect x="148.9" y="1783.2" width="2.3" height="8.46" fill="#1a9040"/>
<rect x="149.9" y="1773.31" width="2.3" height="7.84" fill="#1a9040"/>
<rect x="149.9" y="1773" width="2.3" height="6.82" fill="#1a9040"/>
<rect x="149.9" y="1765.47" width="2.3" height="3.64" fill="#1a9040"/>
<rect x="149.9" y="1758.47" width="2.3" height="9.78" fill="#1a9040"/>
<rect x="149.9" y="1781.14" width="2.3" height="2.64" fill="#1a9040"/>
<rect x="150.9" y="1773.91" width="2.3" height="6.33" fill="#1a9040"/>
<rect x="150.9" y="1794.76" width="2.3" height="9.27" fill="#1a9040"/>
<rect x="150.9" y="1744.65" width="2.3" height="8.55" fill="#1a9040"/>
<rect x="150.9" y="1795.02" width="2.3" height="8.09" fill="#1a9040"/>
<rect x="150.9" y="1794.75" width="2.3" height="5.36" fill="#1a9040"/>
<rect x="150.9" y="1775.78" width="2.3" height="7.64" fill="#1a9040"/>
<rect x="151.9" y="1779.01" width="2.3" height="8.65" fill="#1a9040"/>
<rect x="151.9" y="1758.49" width="2.3" height="8.46" fill="#1a9040"/>
<rect x="151.9" y="1771.98" width="2.3" height="9.71" fill="#1a9040"/>
<rect x="151.9" y="1758.42" width="2.3" height="7.15" fill="#1a9040"/>
<rect x="151.9" y="1787.08" width="2.3" height="8.2" fill="#1a9040"/>
<rect x="151.9" y="1780.5" width="2.3" height="3.59" fill="#1a9040"/>
<rect x="152.9" y="1757.15" width="2.3" height="7.39" fill="#1a9040"/>
<rect x="152.9" y="1741.78" width="2.3" height="7.45" fill="#1a9040"/>
<rect x="152.9" y="1748.22" width="2.3" height="3.95" fill="#1a9040"/>
<rect x="152.9" y="1755.36" width="2.3" height="6.61" fill="#1a9040"/>
<rect x="152.9" y="1777.55" width="2.3" height="9.6" fill="#1a9040"/>
<rect x="152.9" y="1754.46" width="2.3" height="3.14" fill="#1a9040"/>
<rect x="153.9" y="1769.76" width="2.3" height="9.39" fill="#1a9040"/>
<rect x="153.9" y="1779.4" width="2.3" height="3.48" fill="#1a9040"/>
<rect x="153.9" y="1760.29" width="2.3" height="4.14" fill="#1a9040"/>
<rect x="153.9" y="1764.72" width="2.3" height="4.64" fill="#1a9040"/>
<rect x="153.9" y="1784.28" width="2.3" height="9.22" fill="#1a9040"/>
<rect x="153.9" y="1748.18" width="2.3" height="10" fill="#1a9040"/>
<rect x="154.9" y="1758.2" width="2.3" height="9.06" fill="#1a9040"/>
<rect x="154.9" y="1788.16" width="2.3" height="8.01" fill="#1a9040"/>
<rect x="154.9" y="1757.95" width="2.3" height="7.22" fill="#1a9040"/>
<rect x="154.9" y="1780.23" width="2.3" height="5.05" fill="#1a9040"/>
<rect x="154.9" y="1765.87" width="2.3" height="3.17" fill="#1a9040"/>
<rect x="154.9" y="1746.47" width="2.3" height="8.47" fill="#1a9040"/>
<rect x="155.9" y="1775.45" width="2.3" height="5.72" fill="#1a9040"/>
<rect x="155.9" y="1776.43" width="2.3" height="4.64" fill="#1a9040"/>
<rect x="155.9" y="1742.63" width="2.3" height="7.51" fill="#1a9040"/>
<rect x="155.9" y="1753.19" width="2.3" height="4.03" fill="#1a9040"/>
<rect x="155.9" y="1762.8" width="2.3" height="6.22" fill="#1a9040"/>
<rect x="155.9" y="1784.21" width="2.3" height="7.73" fill="#1a9040"/>
<rect x="156.9" y="1760.34" width="2.3" height="7" fill="#1a9040"/>
<rect x="156.9" y="1745.53" width="2.3" height="4.74" fill="#1a9040"/>
<rect x="156.9" y="1767.42" width="2.3" height="9.55" fill="#1a9040"/>
<rect x="156.9" y="1770.02" width="2.3" height="4.07" fill="#1a9040"/>
<rect x="156.9" y="1786.6" width="2.3" height="8.47" fill="#1a9040"/>
<rect x="156.9" y="1750.03" width="2.3" height="5.26" fill="#1a9040"/>
<rect x="157.9" y="1777.13" width="2.3" height="4.14" fill="#1a9040"/>
<rect x="157.9" y="1778.52" width="2.3" height="7.88" fill="#1a9040"/>
<rect x="157.9" y="1776.56" width="2.3" height="6.73" fill="#1a9040"/>
<rect x="157.9" y="1751.53" width="2.3" height="2.77" fill="#1a9040"/>
<rect x="157.9" y="1769.42" width="2.3" height="2.6" fill="#1a9040"/>
<rect x="157.9" y="1762.75" width="2.3" height="8.31" fill="#1a9040"/>
<rect x="158.9" y="1758.57" width="2.3" height="6.56" fill="#1a9040"/>
<rect x="158.9" y="1745.53" width="2.3" height="4.01" fill="#1a9040"/>
<rect x="158.9" y="1768.62" width="2.3" height="3.8" fill="#1a9040"/>
<rect x="158.9" y="1745.53" width="2.3" height="4.16" fill="#1a9040"/>
<rect x="158.9" y="1782.23" width="2.3" height="9.23" fill="#1a9040"/>
<rect x="158.9" y="1742.17" width="2.3" height="6.8" fill="#1a9040"/>
<rect x="159.9" y="1732.57" width="2.3" height="4.38" fill="#1a9040"/>
<rect x="159.9" y="1768.75" width="2.3" height="2.65" fill="#1a9040"/>
<rect x="159.9" y="1785.31" width="2.3" height="4.64" fill="#1a9040"/>
<rect x="159.9" y="1748.01" width="2.3" height="9.62" fill="#1a9040"/>
<rect x="159.9" y="1739.21" width="2.3" height="3.48" fill="#1a9040"/>
<rect x="159.9" y="1757.5" width="2.3" height="4.85" fill="#1a9040"/>
<rect x="160.9" y="1758.48" width="2.3" height="9.63" fill="#1a9040"/>
<rect x="160.9" y="1751.14" width="2.3" height="2.83" fill="#1a9040"/>
<rect x="160.9" y="1745.42" width="2.3" height="8.9" fill="#1a9040"/>
<rect x="160.9" y="1752.21" width="2.3" height="2.96" fill="#1a9040"/>
<rect x="160.9" y="1739.88" width="2.3" height="4.2" fill="#1a9040"/>
<rect x="160.9" y="1746" width="2.3" height="4.89" fill="#1a9040"/>
<rect x="161.9" y="1768.64" width="2.3" height="2.84" fill="#1a9040"/>
<rect x="161.9" y="1725" width="2.3" height="8.67" fill="#1a9040"/>
<rect x="161.9" y="1776.96" width="2.3" height="8.41" fill="#1a9040"/>
<rect x="161.9" y="1727.74" width="2.3" height="7.7" fill="#1a9040"/>
<rect x="161.9" y="1720.56" width="2.3" height="7.56" fill="#1a9040"/>
<rect x="161.9" y="1730.32" width="2.3" height="8.8" fill="#1a9040"/>
<rect x="162.9" y="1744.47" width="2.3" height="7.94" fill="#1a9040"/>
<rect x="162.9" y="1781.08" width="2.3" height="9.2" fill="#1a9040"/>
<rect x="162.9" y="1758.93" width="2.3" height="7.12" fill="#1a9040"/>
<rect x="162.9" y="1736.02" width="2.3" height="7.63" fill="#1a9040"/>
<rect x="162.9" y="1720.01" width="2.3" height="5.93" fill="#1a9040"/>
<rect x="162.9" y="1717.04" width="2.3" height="3.19" fill="#1a9040"/>
<rect x="163.9" y="1746.08" width="2.3" height="4.06" fill="#1a9040"/>
<rect x="163.9" y="1783.93" width="2.3" height="4.68" fill="#1a9040"/>
<rect x="163.9" y="1753.29" width="2.3" height="6.18" fill="#1a9040"/>
<rect x="163.9" y="1725.5" width="2.3" height="9.95" fill="#1a9040"/>
<rect x="163.9" y="1767.77" width="2.3" height="9.19" fill="#1a9040"/>
<rect x="163.9" y="1734.2" width="2.3" height="9.33" fill="#1a9040"/>
<rect x="164.9" y="1784.12" width="2.3" height="3.83" fill="#1a9040"/>
<rect x="164.9" y="1731.03" width="2.3" height="3.13" fill="#1a9040"/>
<rect x="164.9" y="1724.24" width="2.3" height="7.76" fill="#1a9040"/>
<rect x="164.9" y="1722.45" width="2.3" height="5.99" fill="#1a9040"/>
<rect x="164.9" y="1742.16" width="2.3" height="7.96" fill="#1a9040"/>
<rect x="164.9" y="1721.21" width="2.3" height="7.91" fill="#1a9040"/>
<rect x="165.9" y="1742.93" width="2.3" height="5.53" fill="#1a9040"/>
<rect x="165.9" y="1771.28" width="2.3" height="4.79" fill="#1a9040"/>
<rect x="165.9" y="1775.33" width="2.3" height="9.97" fill="#1a9040"/>
<rect x="165.9" y="1738.01" width="2.3" height="6.03" fill="#1a9040"/>
<rect x="165.9" y="1732.86" width="2.3" height="6.68" fill="#1a9040"/>
<rect x="165.9" y="1746.89" width="2.3" height="9.79" fill="#1a9040"/>
<rect x="166.9" y="1785.26" width="2.3" height="8.58" fill="#1a9040"/>
<rect x="166.9" y="1777.16" width="2.3" height="5.37" fill="#1a9040"/>
<rect x="166.9" y="1768.88" width="2.3" height="3.35" fill="#1a9040"/>
<rect x="166.9" y="1747.48" width="2.3" height="9.41" fill="#1a9040"/>
<rect x="166.9" y="1786.94" width="2.3" height="3.8" fill="#1a9040"/>
<rect x="166.9" y="1757.93" width="2.3" height="5.54" fill="#1a9040"/>
<rect x="167.9" y="1766.24" width="2.3" height="4.46" fill="#1a9040"/>
<rect x="167.9" y="1780.7" width="2.3" height="5.88" fill="#1a9040"/>
<rect x="167.9" y="1774.15" width="2.3" height="7.92" fill="#1a9040"/>
<rect x="167.9" y="1785.77" width="2.3" height="6.36" fill="#1a9040"/>
<rect x="167.9" y="1764.07" width="2.3" height="8.29" fill="#1a9040"/>
<rect x="167.9" y="1747.75" width="2.3" height="2.84" fill="#1a9040"/>
<rect x="168.9" y="1771.26" width="2.3" height="8.12" fill="#1a9040"/>
<rect x="168.9" y="1778.41" width="2.3" height="4" fill="#1a9040"/>
<rect x="168.9" y="1780.49" width="2.3" height="7.3" fill="#1a9040"/>
<rect x="168.9" y="1784" width="2.3" height="6.67" fill="#1a9040"/>
<rect x="168.9" y="1782.08" width="2.3" height="2.93" fill="#1a9040"/>
<rect x="168.9" y="1746.62" width="2.3" height="6.65" fill="#1a9040"/>
<rect x="169.9" y="1759.27" width="2.3" height="3.04" fill="#1a9040"/>
<rect x="169.9" y="1783.06" width="2.3" height="3.04" fill="#1a9040"/>
<rect x="169.9" y="1782.59" width="2.3" height="4.25" fill="#1a9040"/>
<rect x="169.9" y="1772.54" width="2.3" height="6.95" fill="#1a9040"/>
<rect x="169.9" y="1751.19" width="2.3" height="4.96" fill="#1a9040"/>
<rect x="169.9" y="1750.66" width="2.3" height="6.5" fill="#1a9040"/>
<rect x="170.9" y="1766.19" width="2.3" height="4.61" fill="#1a9040"/>
<rect x="170.9" y="1744.67" width="2.3" height="7.73" fill="#1a9040"/>
<rect x="170.9" y="1750.38" width="2.3" height="9.61" fill="#1a9040"/>
<rect x="170.9" y="1759.73" width="2.3" height="4.47" fill="#1a9040"/>
<rect x="170.9" y="1772.08" width="2.3" height="9.26" fill="#1a9040"/>
<rect x="170.9" y="1756.31" width="2.3" height="8" fill="#1a9040"/>
<rect x="171.9" y="1787.35" width="2.3" height="4.75" fill="#1a9040"/>
<rect x="171.9" y="1743.73" width="2.3" height="2.53" fill="#1a9040"/>
<rect x="171.9" y="1765.05" width="2.3" height="7.18" fill="#1a9040"/>
<rect x="171.9" y="1753.86" width="2.3" height="5.61" fill="#1a9040"/>
<rect x="171.9" y="1759.76" width="2.3" height="5.22" fill="#1a9040"/>
<rect x="171.9" y="1748.84" width="2.3" height="6.58" fill="#1a9040"/>
<rect x="172.9" y="1740.41" width="2.3" height="9.11" fill="#1a9040"/>
<rect x="172.9" y="1752.69" width="2.3" height="6.06" fill="#1a9040"/>
<rect x="172.9" y="1750.02" width="2.3" height="7.55" fill="#1a9040"/>
<rect x="172.9" y="1759.08" width="2.3" height="6.86" fill="#1a9040"/>
<rect x="172.9" y="1759.44" width="2.3" height="6.31" fill="#1a9040"/>
<rect x="173.9" y="1786.31" width="2.3" height="5.69" fill="#1a9040"/>
<rect x="173.9" y="1754.9" width="2.3" height="8.85" fill="#1a9040"/>
<rect x="173.9" y="1753.43" width="2.3" height="8.43" fill="#1a9040"/>
<rect x="173.9" y="1761.91" width="2.3" height="3.37" fill="#1a9040"/>
<rect x="173.9" y="1768.18" width="2.3" height="4.6" fill="#1a9040"/>
<rect x="173.9" y="1748.42" width="2.3" height="9.92" fill="#1a9040"/>
<rect x="174.9" y="1761.72" width="2.3" height="8.56" fill="#1a9040"/>
<rect x="174.9" y="1772.62" width="2.3" height="4.77" fill="#1a9040"/>
<rect x="174.9" y="1747.02" width="2.3" height="6.86" fill="#1a9040"/>
<rect x="174.9" y="1749.16" width="2.3" height="8.16" fill="#1a9040"/>
<rect x="174.9" y="1769.52" width="2.3" height="4.15" fill="#1a9040"/>
<rect x="175.9" y="1785.5" width="2.3" height="6.1" fill="#1a9040"/>
<rect x="175.9" y="1785.71" width="2.3" height="5.87" fill="#1a9040"/>
<rect x="175.9" y="1742.8" width="2.3" height="5.97" fill="#1a9040"/>
<rect x="175.9" y="1756.17" width="2.3" height="9.38" fill="#1a9040"/>
<rect x="175.9" y="1763.66" width="2.3" height="9.71" fill="#1a9040"/>
<rect x="176.9" y="1747.38" width="2.3" height="2.61" fill="#1a9040"/>
<rect x="176.9" y="1728.59" width="2.3" height="7.83" fill="#1a9040"/>
<rect x="176.9" y="1729.52" width="2.3" height="4.17" fill="#1a9040"/>
<rect x="176.9" y="1746.47" width="2.3" height="9.41" fill="#1a9040"/>
<rect x="176.9" y="1740.24" width="2.3" height="2.53" fill="#1a9040"/>
<rect x="177.9" y="1749.79" width="2.3" height="3.54" fill="#1a9040"/>
<rect x="177.9" y="1759.23" width="2.3" height="8.99" fill="#1a9040"/>
<rect x="177.9" y="1759.82" width="2.3" height="8.68" fill="#1a9040"/>
<rect x="177.9" y="1739.82" width="2.3" height="7.76" fill="#1a9040"/>
<rect x="178.9" y="1733.63" width="2.3" height="5.16" fill="#1a9040"/>
<rect x="178.9" y="1716.46" width="2.3" height="4.85" fill="#1a9040"/>
<rect x="178.9" y="1700.27" width="2.3" height="8.58" fill="#1a9040"/>
<rect x="178.9" y="1741.71" width="2.3" height="2.57" fill="#1a9040"/>
<rect x="178.9" y="1727.52" width="2.3" height="2.67" fill="#1a9040"/>
<rect x="179.9" y="1690.17" width="2.3" height="9.71" fill="#1a9040"/>
<rect x="179.9" y="1700.91" width="2.3" height="6.43" fill="#1a9040"/>
<rect x="179.9" y="1696.09" width="2.3" height="9.28" fill="#1a9040"/>
<rect x="179.9" y="1683.11" width="2.3" height="4.77" fill="#1a9040"/>
<rect x="180.9" y="1737.39" width="2.3" height="5.29" fill="#1a9040"/>
<rect x="180.9" y="1744.36" width="2.3" height="4.96" fill="#1a9040"/>
<rect x="180.9" y="1700.47" width="2.3" height="5.91" fill="#1a9040"/>
<rect x="180.9" y="1699.26" width="2.3" height="3.64" fill="#1a9040"/>
<rect x="181.9" y="1738.26" width="2.3" height="4.1" fill="#1a9040"/>
<rect x="181.9" y="1714.22" width="2.3" height="6.41" fill="#1a9040"/>
<rect x="181.9" y="1729.77" width="2.3" height="6.11" fill="#1a9040"/>
<rect x="181.9" y="1744.13" width="2.3" height="3.56" fill="#1a9040"/>
<rect x="182.9" y="1717.46" width="2.3" height="8.46" fill="#1a9040"/>
<rect x="182.9" y="1756.22" width="2.3" height="3.65" fill="#1a9040"/>
<rect x="182.9" y="1734.43" width="2.3" height="4.81" fill="#1a9040"/>
<rect x="182.9" y="1767.81" width="2.3" height="5.59" fill="#1a9040"/>
<rect x="182.9" y="1757.14" width="2.3" height="3.14" fill="#1a9040"/>
<rect x="183.9" y="1737.95" width="2.3" height="7.31" fill="#1a9040"/>
<rect x="183.9" y="1749.5" width="2.3" height="9.04" fill="#1a9040"/>
<rect x="183.9" y="1771.31" width="2.3" height="7.48" fill="#1a9040"/>
<rect x="183.9" y="1779.99" width="2.3" height="9.7" fill="#1a9040"/>
<rect x="183.9" y="1776.86" width="2.3" height="3.17" fill="#1a9040"/>
<rect x="184.9" y="1744.45" width="2.3" height="7.09" fill="#1a9040"/>
<rect x="184.9" y="1766.18" width="2.3" height="3.19" fill="#1a9040"/>
<rect x="184.9" y="1741.38" width="2.3" height="5.99" fill="#1a9040"/>
<rect x="184.9" y="1771.59" width="2.3" height="5.55" fill="#1a9040"/>
<rect x="184.9" y="1762.32" width="2.3" height="7.26" fill="#1a9040"/>
<rect x="185.9" y="1777.8" width="2.3" height="5.61" fill="#1a9040"/>
<rect x="185.9" y="1747.08" width="2.3" height="9.02" fill="#1a9040"/>
<rect x="185.9" y="1742.47" width="2.3" height="4.04" fill="#1a9040"/>
<rect x="185.9" y="1749.12" width="2.3" height="6.96" fill="#1a9040"/>
<rect x="185.9" y="1774.32" width="2.3" height="3.25" fill="#1a9040"/>
<rect x="186.9" y="1771.38" width="2.3" height="7.65" fill="#1a9040"/>
<rect x="186.9" y="1744.53" width="2.3" height="7.95" fill="#1a9040"/>
<rect x="186.9" y="1756.28" width="2.3" height="5.39" fill="#1a9040"/>
<rect x="186.9" y="1746.79" width="2.3" height="8.82" fill="#1a9040"/>
<rect x="186.9" y="1773.21" width="2.3" height="8.59" fill="#1a9040"/>
<rect x="187.9" y="1749.89" width="2.3" height="5.51" fill="#1a9040"/>
<rect x="187.9" y="1749.36" width="2.3" height="3.24" fill="#1a9040"/>
<rect x="187.9" y="1787.88" width="2.3" height="2.5" fill="#1a9040"/>
<rect x="187.9" y="1765.85" width="2.3" height="2.81" fill="#1a9040"/>
<rect x="187.9" y="1781.96" width="2.3" height="9.93" fill="#1a9040"/>
<rect x="188.9" y="1762.99" width="2.3" height="9.82" fill="#1a9040"/>
<rect x="188.9" y="1759.67" width="2.3" height="4.83" fill="#1a9040"/>
<rect x="188.9" y="1795.35" width="2.3" height="9.41" fill="#1a9040"/>
<rect x="188.9" y="1765.3" width="2.3" height="7.53" fill="#1a9040"/>
<rect x="188.9" y="1787.52" width="2.3" height="5.16" fill="#1a9040"/>
<rect x="189.9" y="1766.55" width="2.3" height="7.69" fill="#1a9040"/>
<rect x="189.9" y="1797.43" width="2.3" height="5.81" fill="#1a9040"/>
<rect x="189.9" y="1769.59" width="2.3" height="5.36" fill="#1a9040"/>
<rect x="189.9" y="1780.88" width="2.3" height="2.67" fill="#1a9040"/>
<rect x="189.9" y="1792.9" width="2.3" height="9.66" fill="#1a9040"/>
<rect x="190.9" y="1751.59" width="2.3" height="4.85" fill="#1a9040"/>
<rect x="190.9" y="1756.86" width="2.3" height="8.27" fill="#1a9040"/>
<rect x="190.9" y="1793.79" width="2.3" height="6.59" fill="#1a9040"/>
<rect x="190.9" y="1798.67" width="2.3" height="4.21" fill="#1a9040"/>
<rect x="190.9" y="1760.8" width="2.3" height="5.38" fill="#1a9040"/>
<rect x="191.9" y="1761" width="2.3" height="9.41" fill="#1a9040"/>
<rect x="191.9" y="1790.46" width="2.3" height="4.66" fill="#1a9040"/>
<rect x="191.9" y="1764.78" width="2.3" height="4.63" fill="#1a9040"/>
<rect x="191.9" y="1771.67" width="2.3" height="7.41" fill="#1a9040"/>
<rect x="191.9" y="1789.22" width="2.3" height="9.62" fill="#1a9040"/>
<rect x="192.9" y="1765.03" width="2.3" height="5.35" fill="#1a9040"/>
<rect x="192.9" y="1801.15" width="2.3" height="5.93" fill="#1a9040"/>
<rect x="192.9" y="1788.54" width="2.3" height="8.72" fill="#1a9040"/>
<rect x="192.9" y="1777.81" width="2.3" height="5.33" fill="#1a9040"/>
<rect x="192.9" y="1792" width="2.3" height="7.3" fill="#1a9040"/>
<rect x="193.9" y="1768.55" width="2.3" height="9.65" fill="#1a9040"/>
<rect x="193.9" y="1779.07" width="2.3" height="9.02" fill="#1a9040"/>
<rect x="193.9" y="1787.53" width="2.3" height="6.73" fill="#1a9040"/>
<rect x="193.9" y="1799.46" width="2.3" height="3.1" fill="#1a9040"/>
<rect x="193.9" y="1770.76" width="2.3" height="6.16" fill="#1a9040"/>
<rect x="194.9" y="1767.32" width="2.3" height="8.35" fill="#1a9040"/>
<rect x="194.9" y="1764.39" width="2.3" height="5.13" fill="#1a9040"/>
<rect x="194.9" y="1780.45" width="2.3" height="7.86" fill="#1a9040"/>
<rect x="194.9" y="1782.69" width="2.3" height="8.87" fill="#1a9040"/>
<rect x="194.9" y="1792.33" width="2.3" height="5.38" fill="#1a9040"/>
<rect x="195.9" y="1778.35" width="2.3" height="9.04" fill="#1a9040"/>
<rect x="195.9" y="1777.06" width="2.3" height="3.86" fill="#1a9040"/>
<rect x="195.9" y="1774.09" width="2.3" height="4.38" fill="#1a9040"/>
<rect x="195.9" y="1798.21" width="2.3" height="7.65" fill="#1a9040"/>
<rect x="195.9" y="1773.5" width="2.3" height="5.65" fill="#1a9040"/>
<rect x="196.9" y="1808.31" width="2.3" height="4.17" fill="#1a9040"/>
<rect x="196.9" y="1808.16" width="2.3" height="2.94" fill="#1a9040"/>
<rect x="196.9" y="1809.63" width="2.3" height="4.91" fill="#1a9040"/>
<rect x="196.9" y="1808.74" width="2.3" height="2.74" fill="#1a9040"/>
<rect x="196.9" y="1793.49" width="2.3" height="9.43" fill="#1a9040"/>
<rect x="197.9" y="1792.97" width="2.3" height="3.67" fill="#1a9040"/>
<rect x="197.9" y="1775.32" width="2.3" height="9.57" fill="#1a9040"/>
<rect x="197.9" y="1805.64" width="2.3" height="4.16" fill="#1a9040"/>
<rect x="197.9" y="1781.25" width="2.3" height="7.1" fill="#1a9040"/>
<rect x="197.9" y="1780.96" width="2.3" height="4.1" fill="#1a9040"/>
<rect x="198.9" y="1773.16" width="2.3" height="7.25" fill="#1a9040"/>
<rect x="198.9" y="1786.43" width="2.3" height="6.03" fill="#1a9040"/>
<rect x="198.9" y="1805.43" width="2.3" height="8.09" fill="#1a9040"/>
<rect x="198.9" y="1803.99" width="2.3" height="2.62" fill="#1a9040"/>
<rect x="198.9" y="1802.62" width="2.3" height="8.44" fill="#1a9040"/>
<rect x="199.9" y="1779.27" width="2.3" height="7.98" fill="#1a9040"/>
<rect x="199.9" y="1807.76" width="2.3" height="6.54" fill="#1a9040"/>
<rect x="199.9" y="1810.3" width="2.3" height="3.16" fill="#1a9040"/>
<rect x="199.9" y="1780.42" width="2.3" height="8.65" fill="#1a9040"/>
<rect x="199.9" y="1805.68" width="2.3" height="4.17" fill="#1a9040"/>
<rect x="200.9" y="1790.01" width="2.3" height="8.04" fill="#1a9040"/>
<rect x="200.9" y="1789.86" width="2.3" height="4.89" fill="#1a9040"/>
<rect x="200.9" y="1804.17" width="2.3" height="7.72" fill="#1a9040"/>
<rect x="200.9" y="1786.79" width="2.3" height="7.86" fill="#1a9040"/>
<rect x="200.9" y="1783.29" width="2.3" height="6.26" fill="#1a9040"/>
<rect x="201.9" y="1788.7" width="2.3" height="5.64" fill="#1a9040"/>
<rect x="201.9" y="1778.02" width="2.3" height="4.84" fill="#1a9040"/>
<rect x="201.9" y="1789.38" width="2.3" height="4.95" fill="#1a9040"/>
<rect x="201.9" y="1793.97" width="2.3" height="9.25" fill="#1a9040"/>
<rect x="201.9" y="1811.11" width="2.3" height="4.72" fill="#1a9040"/>
<rect x="202.9" y="1777.39" width="2.3" height="9.14" fill="#1a9040"/>
<rect x="202.9" y="1807.19" width="2.3" height="8.04" fill="#1a9040"/>
<rect x="202.9" y="1814.9" width="2.3" height="5.51" fill="#1a9040"/>
<rect x="202.9" y="1784" width="2.3" height="3.18" fill="#1a9040"/>
<rect x="202.9" y="1791.39" width="2.3" height="8.26" fill="#1a9040"/>
<rect x="203.9" y="1797.23" width="2.3" height="3.11" fill="#1a9040"/>
<rect x="203.9" y="1785.7" width="2.3" height="6.65" fill="#1a9040"/>
<rect x="203.9" y="1803.27" width="2.3" height="9.57" fill="#1a9040"/>
<rect x="203.9" y="1791.54" width="2.3" height="4.24" fill="#1a9040"/>
<rect x="203.9" y="1780.4" width="2.3" height="3.91" fill="#1a9040"/>
<rect x="204.9" y="1779.57" width="2.3" height="3.36" fill="#1a9040"/>
<rect x="204.9" y="1801.74" width="2.3" height="5.93" fill="#1a9040"/>
<rect x="204.9" y="1817.84" width="2.3" height="6.14" fill="#1a9040"/>
<rect x="204.9" y="1783.21" width="2.3" height="3.59" fill="#1a9040"/>
<rect x="204.9" y="1806.95" width="2.3" height="9.85" fill="#1a9040"/>
<rect x="205.9" y="1790.49" width="2.3" height="5.09" fill="#1a9040"/>
<rect x="205.9" y="1799.07" width="2.3" height="5.75" fill="#1a9040"/>
<rect x="205.9" y="1793.32" width="2.3" height="3.66" fill="#1a9040"/>
<rect x="205.9" y="1779.34" width="2.3" height="9.1" fill="#1a9040"/>
<rect x="206.9" y="1824.69" width="2.3" height="5.35" fill="#1a9040"/>
<rect x="206.9" y="1812.53" width="2.3" height="4.05" fill="#1a9040"/>
<rect x="206.9" y="1787.97" width="2.3" height="2.52" fill="#1a9040"/>
<rect x="206.9" y="1794.7" width="2.3" height="8.48" fill="#1a9040"/>
<rect x="207.9" y="1793.08" width="2.3" height="6.11" fill="#1a9040"/>
<rect x="207.9" y="1807.72" width="2.3" height="3.97" fill="#1a9040"/>
<rect x="207.9" y="1800.85" width="2.3" height="9.47" fill="#1a9040"/>
<rect x="207.9" y="1800.63" width="2.3" height="9.93" fill="#1a9040"/>
<rect x="208.9" y="1788.34" width="2.3" height="9.39" fill="#1a9040"/>
<rect x="208.9" y="1815.12" width="2.3" height="5.82" fill="#1a9040"/>
<rect x="208.9" y="1791.98" width="2.3" height="7.44" fill="#1a9040"/>
<rect x="208.9" y="1792.79" width="2.3" height="5.96" fill="#1a9040"/>
<rect x="209.9" y="1802.38" width="2.3" height="9.75" fill="#1a9040"/>
<rect x="209.9" y="1812.28" width="2.3" height="6.35" fill="#1a9040"/>
<rect x="209.9" y="1812.66" width="2.3" height="7.41" fill="#1a9040"/>
<rect x="209.9" y="1813.33" width="2.3" height="4.64" fill="#1a9040"/>
<rect x="209.9" y="1794.79" width="2.3" height="7.05" fill="#1a9040"/>
<rect x="210.9" y="1826.2" width="2.3" height="6.16" fill="#1a9040"/>
<rect x="210.9" y="1800.11" width="2.3" height="6.91" fill="#1a9040"/>
<rect x="210.9" y="1789.37" width="2.3" height="6.23" fill="#1a9040"/>
<rect x="210.9" y="1820.46" width="2.3" height="9.76" fill="#1a9040"/>
<rect x="211.9" y="1797.84" width="2.3" height="6.1" fill="#1a9040"/>
<rect x="211.9" y="1814.3" width="2.3" height="9.73" fill="#1a9040"/>
<rect x="211.9" y="1795" width="2.3" height="3.47" fill="#1a9040"/>
<rect x="211.9" y="1809.39" width="2.3" height="8.45" fill="#1a9040"/>
<rect x="211.9" y="1790.54" width="2.3" height="5.35" fill="#1a9040"/>
<rect x="212.9" y="1810.41" width="2.3" height="3.84" fill="#1a9040"/>
<rect x="212.9" y="1792.56" width="2.3" height="8.21" fill="#1a9040"/>
<rect x="212.9" y="1813.09" width="2.3" height="6.54" fill="#1a9040"/>
<rect x="212.9" y="1820.02" width="2.3" height="8.22" fill="#1a9040"/>
<rect x="213.9" y="1806.75" width="2.3" height="9.39" fill="#1a9040"/>
<rect x="213.9" y="1794.25" width="2.3" height="8.32" fill="#1a9040"/>
<rect x="213.9" y="1812.49" width="2.3" height="6.5" fill="#1a9040"/>
<rect x="213.9" y="1801.49" width="2.3" height="9.57" fill="#1a9040"/>
<rect x="214.9" y="1808.61" width="2.3" height="2.95" fill="#1a9040"/>
<rect x="214.9" y="1831.07" width="2.3" height="8.72" fill="#1a9040"/>
<rect x="214.9" y="1796.28" width="2.3" height="3.61" fill="#1a9040"/>
<rect x="214.9" y="1807.29" width="2.3" height="2.71" fill="#1a9040"/>
<rect x="215.9" y="1829.91" width="2.3" height="7.9" fill="#1a9040"/>
<rect x="215.9" y="1813.81" width="2.3" height="9.84" fill="#1a9040"/>
<rect x="215.9" y="1807.59" width="2.3" height="4.88" fill="#1a9040"/>
<rect x="215.9" y="1804.83" width="2.3" height="7.02" fill="#1a9040"/>
<rect x="216.9" y="1799.84" width="2.3" height="6.19" fill="#1a9040"/>
<rect x="216.9" y="1834.76" width="2.3" height="9.08" fill="#1a9040"/>
<rect x="216.9" y="1820.01" width="2.3" height="8.97" fill="#1a9040"/>
<rect x="216.9" y="1815.45" width="2.3" height="6.22" fill="#1a9040"/>
<rect x="217.9" y="1803.52" width="2.3" height="6.95" fill="#1a9040"/>
<rect x="217.9" y="1817.4" width="2.3" height="4.73" fill="#1a9040"/>
<rect x="217.9" y="1817.67" width="2.3" height="3.83" fill="#1a9040"/>
<rect x="217.9" y="1824.1" width="2.3" height="3.36" fill="#1a9040"/>
<rect x="218.9" y="1798.31" width="2.3" height="6.55" fill="#1a9040"/>
<rect x="218.9" y="1798.98" width="2.3" height="8.68" fill="#1a9040"/>
<rect x="218.9" y="1795.73" width="2.3" height="8.55" fill="#1a9040"/>
<rect x="218.9" y="1806.98" width="2.3" height="9.66" fill="#1a9040"/>
<rect x="219.9" y="1802.32" width="2.3" height="7.52" fill="#1a9040"/>
<rect x="219.9" y="1805.88" width="2.3" height="8.6" fill="#1a9040"/>
<rect x="219.9" y="1817.63" width="2.3" height="4.51" fill="#1a9040"/>
<rect x="219.9" y="1822.48" width="2.3" height="4.17" fill="#1a9040"/>
<rect x="220.9" y="1802.16" width="2.3" height="4.28" fill="#1a9040"/>
<rect x="220.9" y="1808.03" width="2.3" height="3.69" fill="#1a9040"/>
<rect x="220.9" y="1814.99" width="2.3" height="5.87" fill="#1a9040"/>
<rect x="220.9" y="1821.89" width="2.3" height="6.63" fill="#1a9040"/>
<rect x="220.9" y="1825.24" width="2.3" height="7.1" fill="#1a9040"/>
<rect x="221.9" y="1834.37" width="2.3" height="3.56" fill="#1a9040"/>
<rect x="221.9" y="1811.55" width="2.3" height="2.59" fill="#1a9040"/>
<rect x="221.9" y="1833.83" width="2.3" height="9.1" fill="#1a9040"/>
<rect x="221.9" y="1813.78" width="2.3" height="8.82" fill="#1a9040"/>
<rect x="222.9" y="1834.88" width="2.3" height="9.26" fill="#1a9040"/>
<rect x="222.9" y="1813.47" width="2.3" height="4.59" fill="#1a9040"/>
<rect x="222.9" y="1814.28" width="2.3" height="9.67" fill="#1a9040"/>
<rect x="222.9" y="1818.58" width="2.3" height="5.21" fill="#1a9040"/>
<rect x="223.9" y="1813.78" width="2.3" height="9.44" fill="#1a9040"/>
<rect x="223.9" y="1815.61" width="2.3" height="8.46" fill="#1a9040"/>
<rect x="223.9" y="1833.71" width="2.3" height="9.53" fill="#1a9040"/>
<rect x="223.9" y="1828.97" width="2.3" height="6.23" fill="#1a9040"/>
<rect x="223.9" y="1810.42" width="2.3" height="9.55" fill="#1a9040"/>
<rect x="224.9" y="1831.43" width="2.3" height="2.92" fill="#1a9040"/>
<rect x="224.9" y="1825.41" width="2.3" height="7.67" fill="#1a9040"/>
<rect x="224.9" y="1807.05" width="2.3" height="4.95" fill="#1a9040"/>
<rect x="224.9" y="1819.61" width="2.3" height="4.4" fill="#1a9040"/>
<rect x="225.9" y="1807.98" width="2.3" height="5.93" fill="#1a9040"/>
<rect x="225.9" y="1801.48" width="2.3" height="8.45" fill="#1a9040"/>
<rect x="225.9" y="1818.67" width="2.3" height="4.59" fill="#1a9040"/>
<rect x="225.9" y="1812.26" width="2.3" height="4.87" fill="#1a9040"/>
<rect x="225.9" y="1823.9" width="2.3" height="7.86" fill="#1a9040"/>
<rect x="226.9" y="1829.25" width="2.3" height="6.8" fill="#1a9040"/>
<rect x="226.9" y="1832.25" width="2.3" height="7.97" fill="#1a9040"/>
<rect x="226.9" y="1833.17" width="2.3" height="2.68" fill="#1a9040"/>
<rect x="226.9" y="1817.43" width="2.3" height="3.37" fill="#1a9040"/>
<rect x="226.9" y="1835.07" width="2.3" height="3.73" fill="#1a9040"/>
<rect x="227.9" y="1817.63" width="2.3" height="3.64" fill="#1a9040"/>
<rect x="227.9" y="1830.48" width="2.3" height="3.89" fill="#1a9040"/>
<rect x="227.9" y="1817.31" width="2.3" height="5.79" fill="#1a9040"/>
<rect x="227.9" y="1826.9" width="2.3" height="6.38" fill="#1a9040"/>
<rect x="228.9" y="1831.4" width="2.3" height="9.75" fill="#1a9040"/>
<rect x="228.9" y="1827.25" width="2.3" height="5.7" fill="#1a9040"/>
<rect x="228.9" y="1823.06" width="2.3" height="5.11" fill="#1a9040"/>
<rect x="228.9" y="1834.47" width="2.3" height="6.6" fill="#1a9040"/>
<rect x="228.9" y="1828.5" width="2.3" height="8.64" fill="#1a9040"/>
<rect x="229.9" y="1837.04" width="2.3" height="5.9" fill="#1a9040"/>
<rect x="229.9" y="1828.7" width="2.3" height="9.14" fill="#1a9040"/>
<rect x="229.9" y="1821.54" width="2.3" height="8.66" fill="#1a9040"/>
<rect x="229.9" y="1816.64" width="2.3" height="3.69" fill="#1a9040"/>
<rect x="229.9" y="1835.46" width="2.3" height="6.64" fill="#1a9040"/>
<rect x="230.9" y="1828.06" width="2.3" height="4.43" fill="#1a9040"/>
<rect x="230.9" y="1809.06" width="2.3" height="9.24" fill="#1a9040"/>
<rect x="230.9" y="1816.38" width="2.3" height="3.74" fill="#1a9040"/>
<rect x="230.9" y="1823.89" width="2.3" height="7.88" fill="#1a9040"/>
<rect x="231.9" y="1807.75" width="2.3" height="8.36" fill="#1a9040"/>
<rect x="231.9" y="1830.92" width="2.3" height="4.94" fill="#1a9040"/>
<rect x="231.9" y="1838.74" width="2.3" height="6.21" fill="#1a9040"/>
<rect x="231.9" y="1834.96" width="2.3" height="3.18" fill="#1a9040"/>
<rect x="231.9" y="1816.72" width="2.3" height="8.17" fill="#1a9040"/>
<rect x="232.9" y="1830.88" width="2.3" height="7.7" fill="#1a9040"/>
<rect x="232.9" y="1807.62" width="2.3" height="8.92" fill="#1a9040"/>
<rect x="232.9" y="1810.39" width="2.3" height="4.32" fill="#1a9040"/>
<rect x="232.9" y="1818.2" width="2.3" height="6.25" fill="#1a9040"/>
<rect x="232.9" y="1811.51" width="2.3" height="5.71" fill="#1a9040"/>
<rect x="233.9" y="1820.52" width="2.3" height="5.08" fill="#1a9040"/>
<rect x="233.9" y="1811.48" width="2.3" height="8.52" fill="#1a9040"/>
<rect x="233.9" y="1811" width="2.3" height="4.01" fill="#1a9040"/>
<rect x="233.9" y="1838.7" width="2.3" height="5.54" fill="#1a9040"/>
<rect x="233.9" y="1840.81" width="2.3" height="4.81" fill="#1a9040"/>
<rect x="234.9" y="1826.22" width="2.3" height="5.54" fill="#1a9040"/>
<rect x="234.9" y="1841.44" width="2.3" height="5.52" fill="#1a9040"/>
<rect x="234.9" y="1834.71" width="2.3" height="6.3" fill="#1a9040"/>
<rect x="234.9" y="1818.71" width="2.3" height="8.84" fill="#1a9040"/>
<rect x="234.9" y="1840.74" width="2.3" height="2.62" fill="#1a9040"/>
<rect x="235.9" y="1832.87" width="2.3" height="6.3" fill="#1a9040"/>
<rect x="235.9" y="1820.58" width="2.3" height="7.89" fill="#1a9040"/>
<rect x="235.9" y="1813.39" width="2.3" height="6.06" fill="#1a9040"/>
<rect x="235.9" y="1813.35" width="2.3" height="8.98" fill="#1a9040"/>
<rect x="235.9" y="1834.32" width="2.3" height="5.47" fill="#1a9040"/>
<rect x="236.9" y="1824.96" width="2.3" height="7.41" fill="#1a9040"/>
<rect x="236.9" y="1814.59" width="2.3" height="8.29" fill="#1a9040"/>
<rect x="236.9" y="1827.16" width="2.3" height="9.98" fill="#1a9040"/>
<rect x="236.9" y="1816.73" width="2.3" height="5.52" fill="#1a9040"/>
<rect x="236.9" y="1834.19" width="2.3" height="4.44" fill="#1a9040"/>
<rect x="237.9" y="1836.4" width="2.3" height="3.75" fill="#1a9040"/>
<rect x="237.9" y="1831.97" width="2.3" height="4.68" fill="#1a9040"/>
<rect x="237.9" y="1816.89" width="2.3" height="5.14" fill="#1a9040"/>
<rect x="237.9" y="1832.32" width="2.3" height="7.29" fill="#1a9040"/>
<rect x="237.9" y="1819.26" width="2.3" height="7.62" fill="#1a9040"/>
<rect x="238.9" y="1812.07" width="2.3" height="8.99" fill="#1a9040"/>
<rect x="238.9" y="1823.5" width="2.3" height="7.27" fill="#1a9040"/>
<rect x="238.9" y="1836.13" width="2.3" height="4.1" fill="#1a9040"/>
<rect x="238.9" y="1821.5" width="2.3" height="7.82" fill="#1a9040"/>
<rect x="238.9" y="1807.98" width="2.3" height="5.44" fill="#1a9040"/>
<rect x="239.9" y="1821.25" width="2.3" height="6.28" fill="#1a9040"/>
<rect x="239.9" y="1835.3" width="2.3" height="3.36" fill="#1a9040"/>
<rect x="239.9" y="1830.88" width="2.3" height="4.62" fill="#1a9040"/>
<rect x="239.9" y="1809.55" width="2.3" height="5.97" fill="#1a9040"/>
<rect x="239.9" y="1811.04" width="2.3" height="5.94" fill="#1a9040"/>
<rect x="240.9" y="1822.08" width="2.3" height="3.53" fill="#1a9040"/>
<rect x="240.9" y="1839.66" width="2.3" height="4.07" fill="#1a9040"/>
<rect x="240.9" y="1820.3" width="2.3" height="7.03" fill="#1a9040"/>
<rect x="240.9" y="1829.53" width="2.3" height="3.47" fill="#1a9040"/>
<rect x="240.9" y="1834.25" width="2.3" height="5.29" fill="#1a9040"/>
<rect x="241.9" y="1819.39" width="2.3" height="7.17" fill="#1a9040"/>
<rect x="241.9" y="1816.76" width="2.3" height="7.96" fill="#1a9040"/>
<rect x="241.9" y="1814.83" width="2.3" height="8.62" fill="#1a9040"/>
<rect x="241.9" y="1834.88" width="2.3" height="8.63" fill="#1a9040"/>
<rect x="241.9" y="1808.28" width="2.3" height="5.65" fill="#1a9040"/>
<rect x="242.9" y="1819.1" width="2.3" height="3.89" fill="#1a9040"/>
<rect x="242.9" y="1825.97" width="2.3" height="3.39" fill="#1a9040"/>
<rect x="242.9" y="1811.3" width="2.3" height="5.64" fill="#1a9040"/>
<rect x="242.9" y="1838.12" width="2.3" height="5.38" fill="#1a9040"/>
<rect x="242.9" y="1836.03" width="2.3" height="7.55" fill="#1a9040"/>
<rect x="243.9" y="1834.25" width="2.3" height="6.87" fill="#1a9040"/>
<rect x="243.9" y="1829.06" width="2.3" height="6.04" fill="#1a9040"/>
<rect x="243.9" y="1829.37" width="2.3" height="9.06" fill="#1a9040"/>
<rect x="243.9" y="1803.65" width="2.3" height="9.51" fill="#1a9040"/>
<rect x="243.9" y="1805.75" width="2.3" height="7.3" fill="#1a9040"/>
<rect x="244.9" y="1829.32" width="2.3" height="5.75" fill="#1a9040"/>
<rect x="244.9" y="1807.96" width="2.3" height="8.82" fill="#1a9040"/>
<rect x="244.9" y="1811.29" width="2.3" height="9.26" fill="#1a9040"/>
<rect x="244.9" y="1816.94" width="2.3" height="6.69" fill="#1a9040"/>
<rect x="244.9" y="1818.14" width="2.3" height="8.21" fill="#1a9040"/>
<rect x="245.9" y="1823.03" width="2.3" height="4.23" fill="#1a9040"/>
<rect x="245.9" y="1817.8" width="2.3" height="3.33" fill="#1a9040"/>
<rect x="245.9" y="1814.72" width="2.3" height="4.59" fill="#1a9040"/>
<rect x="245.9" y="1829.03" width="2.3" height="3.59" fill="#1a9040"/>
<rect x="245.9" y="1808.65" width="2.3" height="9.8" fill="#1a9040"/>
<rect x="246.9" y="1807.46" width="2.3" height="8.99" fill="#1a9040"/>
<rect x="246.9" y="1830.3" width="2.3" height="7.07" fill="#1a9040"/>
<rect x="246.9" y="1837.18" width="2.3" height="6.5" fill="#1a9040"/>
<rect x="246.9" y="1812.39" width="2.3" height="2.59" fill="#1a9040"/>
<rect x="246.9" y="1809.11" width="2.3" height="5.98" fill="#1a9040"/>
<rect x="247.9" y="1835.54" width="2.3" height="3.03" fill="#1a9040"/>
<rect x="247.9" y="1810.47" width="2.3" height="3.22" fill="#1a9040"/>
<rect x="247.9" y="1816.9" width="2.3" height="9.52" fill="#1a9040"/>
<rect x="247.9" y="1833.9" width="2.3" height="2.83" fill="#1a9040"/>
<rect x="247.9" y="1827.18" width="2.3" height="3.86" fill="#1a9040"/>
<rect x="248.9" y="1818.77" width="2.3" height="4.35" fill="#1a9040"/>
<rect x="248.9" y="1818" width="2.3" height="4.18" fill="#1a9040"/>
<rect x="248.9" y="1818.22" width="2.3" height="6.93" fill="#1a9040"/>
<rect x="248.9" y="1824.91" width="2.3" height="7.97" fill="#1a9040"/>
<rect x="248.9" y="1818.21" width="2.3" height="2.7" fill="#1a9040"/>
<rect x="249.9" y="1819.28" width="2.3" height="4.07" fill="#1a9040"/>
<rect x="249.9" y="1819.72" width="2.3" height="9.6" fill="#1a9040"/>
<rect x="249.9" y="1826.9" width="2.3" height="7.88" fill="#1a9040"/>
<rect x="249.9" y="1809.09" width="2.3" height="6.58" fill="#1a9040"/>
<rect x="249.9" y="1829.7" width="2.3" height="8.99" fill="#1a9040"/>
<rect x="250.9" y="1808.24" width="2.3" height="9.91" fill="#1a9040"/>
<rect x="250.9" y="1807.91" width="2.3" height="8.28" fill="#1a9040"/>
<rect x="250.9" y="1822.54" width="2.3" height="9.46" fill="#1a9040"/>
<rect x="250.9" y="1839.17" width="2.3" height="8.1" fill="#1a9040"/>
<rect x="250.9" y="1810.6" width="2.3" height="7.35" fill="#1a9040"/>
<rect x="251.9" y="1824.68" width="2.3" height="3.47" fill="#1a9040"/>
<rect x="251.9" y="1820.81" width="2.3" height="2.89" fill="#1a9040"/>
<rect x="251.9" y="1828.7" width="2.3" height="3.19" fill="#1a9040"/>
<rect x="251.9" y="1816.14" width="2.3" height="8.33" fill="#1a9040"/>
<rect x="251.9" y="1818.55" width="2.3" height="6.84" fill="#1a9040"/>
<rect x="252.9" y="1829.98" width="2.3" height="8.64" fill="#1a9040"/>
<rect x="252.9" y="1842.2" width="2.3" height="4.34" fill="#1a9040"/>
<rect x="252.9" y="1814.02" width="2.3" height="9.96" fill="#1a9040"/>
<rect x="252.9" y="1841.41" width="2.3" height="4.91" fill="#1a9040"/>
<rect x="252.9" y="1842.58" width="2.3" height="3.15" fill="#1a9040"/>
<rect x="253.9" y="1841.19" width="2.3" height="3.28" fill="#1a9040"/>
<rect x="253.9" y="1840.67" width="2.3" height="4.17" fill="#1a9040"/>
<rect x="253.9" y="1837.89" width="2.3" height="3.46" fill="#1a9040"/>
<rect x="253.9" y="1827" width="2.3" height="6.81" fill="#1a9040"/>
<rect x="253.9" y="1827.89" width="2.3" height="8.97" fill="#1a9040"/>
<rect x="254.9" y="1833.83" width="2.3" height="8.89" fill="#1a9040"/>
<rect x="254.9" y="1829.7" width="2.3" height="4.27" fill="#1a9040"/>
<rect x="254.9" y="1838.48" width="2.3" height="5.73" fill="#1a9040"/>
<rect x="254.9" y="1818.7" width="2.3" height="8.3" fill="#1a9040"/>
<rect x="254.9" y="1835.85" width="2.3" height="8.68" fill="#1a9040"/>
<rect x="255.9" y="1813.6" width="2.3" height="2.68" fill="#1a9040"/>
<rect x="255.9" y="1832.21" width="2.3" height="2.77" fill="#1a9040"/>
<rect x="255.9" y="1834.27" width="2.3" height="3.5" fill="#1a9040"/>
<rect x="255.9" y="1840.06" width="2.3" height="2.65" fill="#1a9040"/>
<rect x="255.9" y="1836.31" width="2.3" height="4.17" fill="#1a9040"/>
<rect x="256.9" y="1828.42" width="2.3" height="6.38" fill="#1a9040"/>
<rect x="256.9" y="1842.41" width="2.3" height="4.63" fill="#1a9040"/>
<rect x="256.9" y="1846.65" width="2.3" height="4.71" fill="#1a9040"/>
<rect x="256.9" y="1813.99" width="2.3" height="4.6" fill="#1a9040"/>
<rect x="256.9" y="1824.37" width="2.3" height="6.98" fill="#1a9040"/>
<rect x="257.9" y="1850.33" width="2.3" height="8.33" fill="#1a9040"/>
<rect x="257.9" y="1843.7" width="2.3" height="9.91" fill="#1a9040"/>
<rect x="257.9" y="1819.35" width="2.3" height="7.65" fill="#1a9040"/>
<rect x="257.9" y="1850.79" width="2.3" height="3.84" fill="#1a9040"/>
<rect x="257.9" y="1834.39" width="2.3" height="4" fill="#1a9040"/>
<rect x="258.9" y="1841.28" width="2.3" height="8.73" fill="#1a9040"/>
<rect x="258.9" y="1833.7" width="2.3" height="7.01" fill="#1a9040"/>
<rect x="258.9" y="1853.69" width="2.3" height="5.06" fill="#1a9040"/>
<rect x="258.9" y="1836.25" width="2.3" height="3.14" fill="#1a9040"/>
<rect x="259.9" y="1848.26" width="2.3" height="4" fill="#1a9040"/>
<rect x="259.9" y="1844.2" width="2.3" height="4.89" fill="#1a9040"/>
<rect x="259.9" y="1835.3" width="2.3" height="6.95" fill="#1a9040"/>
<rect x="259.9" y="1837.92" width="2.3" height="4.12" fill="#1a9040"/>
<rect x="260.9" y="1877.61" width="2.3" height="7.82" fill="#1a9040"/>
<rect x="260.9" y="1844.51" width="2.3" height="8.83" fill="#1a9040"/>
<rect x="260.9" y="1876.94" width="2.3" height="4.98" fill="#1a9040"/>
<rect x="260.9" y="1869.88" width="2.3" height="7.22" fill="#1a9040"/>
<rect x="261.9" y="1877.08" width="2.3" height="7.53" fill="#1a9040"/>
<rect x="261.9" y="1865.82" width="2.3" height="9.53" fill="#1a9040"/>
<rect x="261.9" y="1861.26" width="2.3" height="3.28" fill="#1a9040"/>
<rect x="261.9" y="1841" width="2.3" height="7.92" fill="#1a9040"/>
<rect x="262.9" y="1877.73" width="2.3" height="9.79" fill="#1a9040"/>
<rect x="262.9" y="1857.02" width="2.3" height="4" fill="#1a9040"/>
<rect x="262.9" y="1869.79" width="2.3" height="2.66" fill="#1a9040"/>
<rect x="262.9" y="1851.64" width="2.3" height="3.06" fill="#1a9040"/>
<rect x="263.9" y="1867.9" width="2.3" height="3.97" fill="#1a9040"/>
<rect x="263.9" y="1874.66" width="2.3" height="8.19" fill="#1a9040"/>
<rect x="263.9" y="1880.67" width="2.3" height="6.6" fill="#1a9040"/>
<rect x="263.9" y="1876.92" width="2.3" height="8.47" fill="#1a9040"/>
<rect x="264.9" y="1866.05" width="2.3" height="6.81" fill="#1a9040"/>
<rect x="264.9" y="1884.54" width="2.3" height="4.35" fill="#1a9040"/>
<rect x="264.9" y="1869.57" width="2.3" height="2.58" fill="#1a9040"/>
<rect x="265.9" y="1864.08" width="2.3" height="5.84" fill="#1a9040"/>
<rect x="265.9" y="1867.65" width="2.3" height="3.37" fill="#1a9040"/>
<rect x="265.9" y="1889.26" width="2.3" height="4.97" fill="#1a9040"/>
<polyline points="261.2,1875.72 262.64,1875.76 264.09,1873.63 265.53,1873.73 266.97,1871.9 267.39,1874.06 267.81,1875.84 268.23,1876.34 268.65,1878.46 269.07,1878.58 269.49,1882.4 269.91,1882.32 270.33,1883.78 270.75,1886.23 271.17,1887.35 271.59,1888.51 273.13,1889.62 274.67,1892.14 276.21,1890.91 277.75,1891.05 279.29,1893.64 280.83,1893.79 282.48,1893.63 284.13,1893.36 285.78,1898.09 287.43,1894.03 289.08,1894.86 290.73,1891.46 292.38,1895.76 293.76,1896.48 295.15,1898.45 296.54,1897.65 297.92,1899.92 299.31,1899.98 300.46,1899.92 301.62,1902.7 302.77,1903.95 303.93,1905.35 305.08,1906.12 306.24,1910.71 307.39,1909.59 308.55,1910.09 310.28,1909.14 312.01,1903.04 313.74,1908.98 315.47,1901.58 316.5,1905.21 317.53,1905.32 318.55,1902.38 319.58,1900.79 320.61,1900.26 321.63,1898.93 322.66,1898.02 323.68,1896.23 324.71,1895.94 326.44,1894.51 328.18,1894 329.91,1893.18 331.64,1893.17 332.51,1896.24 333.37,1896.5 334.24,1898.98 335.1,1897.87 335.97,1897.42 336.84,1901.42 337.7,1902.64 338.57,1905.33 339.72,1906.86 340.88,1909.98 342.03,1907.55 343.19,1910.66 343.96,1909.68 344.73,1911.7 345.5,1912.77 346.27,1915.15 347.04,1916.33 347.81,1919.02 349.35,1919.32 350.89,1924.33 352.42,1919.32 353.96,1920.62 355.5,1920.2 357.04,1920.6 358.58,1921.73 360.12,1923.21 361.66,1924.27 363.2,1918.5 364.74,1921.24 366.28,1922.03 367.82,1920.29 369.36,1920.13 370.9,1920.61 372.44,1920.88 373.98,1917.65 375.52,1917.79 376.91,1918.6 378.29,1920.69 379.68,1921.66 381.06,1919.98 382.45,1922.75 383.83,1922.47 385.22,1922.98 386.61,1924.44 387.99,1925.49 389.38,1925.9 390.92,1924.52 392.46,1925.34 394,1924.95 395.54,1924.17 397.07,1924.17 398.61,1924.79 400.15,1924.09 401.69,1924 403.23,1924.12 404.77,1924.42 406.31,1924.23 407.85,1924.04 409.39,1923.57 410.93,1922.25 412.47,1922.86 414.01,1921.6 415.55,1922.5 417.09,1920.47 418.63,1922.11 420.17,1921.08 421.71,1923.81 423.31,1920.58 424.91,1922.26 426.51,1920.61 428.1,1919.6 429.7,1921.22 431.3,1921.38 432.9,1919.92 434.5,1920.88 436.1,1920.92 437.7,1922.44 439.3,1921.25 440.9,1921.31 442.49,1923.93 444.03,1921.83 445.57,1922.94 447.11,1922.92 448.65,1922.02 450.19,1923.97 451.73,1923.01 453.27,1922.56 454.81,1922.75 456.35,1921.87 457.89,1921.82 459.43,1922.97 460.97,1921.94 462.51,1921.78 464.05,1922.84 465.59,1921.94 467.15,1923.14 468.72,1924.11 470.28,1923.8 471.85,1923.03 473.41,1922.52 474.97,1922.34 476.54,1921.76 478.1,1922.45 479.67,1923.56 481.23,1924.06 482.79,1927.18 484.36,1922.96 485.92,1923.46 487.49,1926.05 489.05,1924.06 490.62,1923.53 492.18,1925.12 493.74,1924.59 495.31,1921.9 496.87,1923.83 498.44,1923.96 500,1924.05 501.5,1923.92 503,1925.45 504.5,1924.46 506,1924.5 507.5,1923.97 509,1924.53 510.5,1925.04 512,1925.82 513.5,1925.36 515,1925.41 516.5,1926.51 518,1924.41 519.5,1926.02 521,1925.52 522.5,1927.63 524,1927.48 525.5,1925.82 527,1926.35 528.5,1926.16 530,1927.15 531.5,1926.64 533,1925.89 534.5,1926.66 536,1926.33 537.5,1928.05 539,1927.33 540.5,1928.28 542,1927.61 543.5,1929.53 545,1928.2 546.5,1928.35 548,1926.96 549.5,1929.15 551,1928.32 552.5,1928.55 554,1929.03 555.5,1928.79 557,1929.28 558.5,1929.98 560,1930.09 561.5,1929.17 563.01,1928.46 564.51,1930.04 566.02,1929.89 567.52,1930.62 569.03,1928.47 570.53,1930.45 572.04,1929.74 573.54,1928.46 575.04,1929.99 576.55,1929.63 578.05,1929.38 579.56,1929.41 581.06,1929.83 582.57,1931.68 584.07,1929.93 585.58,1927.34 587.08,1929.79 588.58,1929.12 590.09,1931.56 591.59,1929.69 593.1,1929.33 594.6,1929.52 596.11,1930.93 597.61,1929.46 599.12,1931.15 600.62,1930.03 602.12,1929.28 603.63,1930.13 605.13,1929.15 606.64,1931.58 608.14,1931.55 609.65,1930.56 611.15,1930.23 612.66,1928.94 614.16,1930.75 615.66,1929.98 617.17,1930.38 618.67,1930.06 620.18,1930.36 621.68,1929.47 623.19,1929.24 624.69,1930.38 626.2,1930.75 627.7,1934.22 629.24,1930.13 630.78,1930.51 632.32,1930.55 633.86,1932.3 635.4,1935.22 636.95,1930.74 638.49,1930.21 640.03,1931.27 641.57,1929.57 643.11,1930.99 644.65,1931.56 646.19,1929.89 647.73,1930.4 649.27,1930.45 650.81,1931.7 652.35,1930.92 653.9,1931.96 655.44,1932.33 656.98,1931.4 658.52,1931.46 660.06,1931.53 661.6,1931.82 663.14,1931.25 664.68,1931.36 666.22,1931.51 667.76,1930.56 669.3,1932.14 670.85,1932.27 672.39,1931.15 673.93,1931.85 675.47,1931.39 677.01,1932.24 678.55,1931.05 680.09,1933.8 681.63,1932.21 683.17,1931.83 684.71,1931.8 686.25,1931.49 687.8,1936.95 689.34,1932.6 690.88,1932.92 692.42,1933.41 693.96,1931.61 695.5,1932.53 697.04,1933.2 698.58,1933.3 700.12,1932.2 701.66,1932.76 703.2,1933.01 704.75,1932.83 706.29,1933.18 707.83,1933.29 709.37,1933.26 710.91,1932.29 712.45,1931.8 713.99,1933.92 715.53,1932.63 717.07,1935.02 718.61,1931.88 720.15,1934.29 721.7,1933.15 723.24,1933.44 724.78,1933.93 726.32,1934.07 727.86,1933.39 729.4,1935.01 730.94,1934.39 732.47,1933.31 734.01,1935.35 735.55,1934.2 737.08,1934.06 738.62,1933.4 740.15,1932.58 741.69,1932.99 743.23,1932.61 744.76,1932.1 746.3,1932.43 747.84,1931.56 749.37,1932.22 750.91,1932.26 752.45,1931.85 753.98,1931.84 755.52,1931.35 757.05,1931.88 758.59,1932.36 760.13,1931.33 761.66,1931.23 763.2,1931.21 764.74,1931.65 766.28,1931.4 767.82,1930.75 769.36,1931.08 770.9,1931.21 772.45,1932.18 773.99,1930.9 775.53,1931.4 777.07,1931.25 778.61,1929.92 780.15,1931.28 781.69,1929.88 783.23,1932.34 784.77,1930.48 786.31,1932.28 787.85,1929.75 789.4,1931.64 790.94,1930.11 792.48,1931 794.02,1932.48 795.56,1932.18 797.1,1932.46 798.64,1931.11 800.18,1931.4 801.72,1932.17 803.26,1930.82 804.8,1933.22 806.35,1936.09 807.89,1932.99 809.43,1930.27 810.97,1933.56 812.51,1934.13 814.05,1932.6 815.59,1931.8 817.13,1929.89 818.67,1932.82 820.21,1932.24 821.75,1933.04 823.3,1931.57 824.84,1932.76 826.38,1931.96 827.92,1933.33 829.46,1933.76 831,1932.35 832.54,1933.41 834.08,1933.68 835.62,1934.13 837.16,1932.61 838.7,1933.37 840.25,1932.24 841.79,1933.36 843.33,1931.31 844.87,1935.14 846.41,1932.63 847.95,1932.39 849.49,1933.28 851.03,1933.88 852.57,1931.57 854.11,1934.9 855.65,1932.51 857.2,1933.02 858.74,1932.56 860.28,1933.78 861.82,1935.25 863.36,1933.51 864.9,1933.31 866.44,1934.43 867.97,1934.04 869.51,1927.76 871.05,1934.1 872.58,1938.91 874.12,1933.36 875.65,1933.23 877.19,1934.05 878.73,1934.28 880.26,1934.06 881.8,1933.44 883.34,1935.16 884.87,1934.03 886.41,1935.61 887.95,1934.53 889.48,1934.41 891.02,1934.5 892.55,1933.66 894.09,1934.97 895.63,1933.63 897.16,1935.43 898.7,1934.19 900.24,1935.96 901.78,1934.75 903.32,1935.5 904.86,1934.44 906.4,1933.38 907.95,1933.3 909.49,1934.59 911.03,1934.47 912.57,1933.57 914.11,1934.26 915.65,1935.13 917.19,1934.46 918.73,1934.27 920.27,1934.06 921.81,1934.58 923.35,1933.82 924.9,1933.6 926.44,1933.68 927.98,1933.84 929.52,1938.04 931.06,1932.75 932.6,1932.72 934.12,1933.63 935.65,1932.99 937.18,1933.28 938.7,1931.79 940.23,1933.8 941.75,1933.07 943.27,1931.39 944.8,1933.38 946.33,1931.87 947.85,1931.18 949.38,1931.24 950.9,1932.37 952.43,1931.37 953.95,1932.69 955.48,1931.7 957,1928.19 958.52,1931.07 960.05,1930.36 961.58,1932.94 963.1,1931.3" fill="none" stroke="#1a9040" stroke-width="5.5" stroke-linejoin="round" stroke-linecap="round" />
<rect x="268.85" y="1883.38" width="2.3" height="6.41" fill="#1a9040"/>
<rect x="328.33" y="1886.29" width="2.3" height="6.78" fill="#1a9040"/>
<rect x="278.57" y="1893.98" width="2.3" height="3.61" fill="#1a9040"/>
<rect x="340.05" y="1907.92" width="2.3" height="7.11" fill="#1a9040"/>
<rect x="320.56" y="1895.7" width="2.3" height="4.17" fill="#1a9040"/>
<rect x="294.26" y="1893.43" width="2.3" height="7.56" fill="#1a9040"/>
<rect x="273.6" y="1879.57" width="2.3" height="4.48" fill="#1a9040"/>
<rect x="337.98" y="1904.51" width="2.3" height="7.56" fill="#1a9040"/>
<rect x="283.1" y="1884.08" width="2.3" height="6.28" fill="#1a9040"/>
<rect x="269.76" y="1887.31" width="2.3" height="4.75" fill="#1a9040"/>
<rect x="277.22" y="1889.96" width="2.3" height="4.46" fill="#1a9040"/>
<rect x="317.23" y="1906.45" width="2.3" height="6.06" fill="#1a9040"/>
<rect x="286.63" y="1887.04" width="2.3" height="4" fill="#1a9040"/>
<rect x="296.12" y="1900.38" width="2.3" height="3.52" fill="#1a9040"/>
<rect x="316.65" y="1896.06" width="2.3" height="5.89" fill="#1a9040"/>
<rect x="285.54" y="1892.59" width="2.3" height="3.67" fill="#1a9040"/>
<rect x="344.2" y="1910.59" width="2.3" height="2.87" fill="#1a9040"/>
<rect x="278.39" y="1890.94" width="2.3" height="6.56" fill="#1a9040"/>
<rect x="339.81" y="1903.44" width="2.3" height="5.06" fill="#1a9040"/>
<rect x="271.39" y="1886.94" width="2.3" height="5.28" fill="#1a9040"/>
<rect x="313.66" y="1908.77" width="2.3" height="7.01" fill="#1a9040"/>
<rect x="338.19" y="1899.26" width="2.3" height="7.17" fill="#1a9040"/>
<rect x="333.87" y="1890.17" width="2.3" height="7.02" fill="#1a9040"/>
<rect x="302.55" y="1902.86" width="2.3" height="7.64" fill="#1a9040"/>
<rect x="278.68" y="1889.24" width="2.3" height="5.69" fill="#1a9040"/>
<rect x="306.72" y="1903.95" width="2.3" height="4.53" fill="#1a9040"/>
<rect x="295.97" y="1895.85" width="2.3" height="5.56" fill="#1a9040"/>
<rect x="324.12" y="1894.1" width="2.3" height="6.24" fill="#1a9040"/>
<rect x="301.47" y="1901.48" width="2.3" height="6.64" fill="#1a9040"/>
<rect x="284.1" y="1891.21" width="2.3" height="6.43" fill="#1a9040"/>
<rect x="332.33" y="1897.5" width="2.3" height="3.18" fill="#1a9040"/>
<rect x="331.53" y="1896.06" width="2.3" height="5.3" fill="#1a9040"/>
<rect x="306.35" y="1907.49" width="2.3" height="2.75" fill="#1a9040"/>
<rect x="292.23" y="1885.87" width="2.3" height="4.91" fill="#1a9040"/>
<rect x="293.38" y="1894.49" width="2.3" height="7.38" fill="#1a9040"/>
<rect x="285.48" y="1893.68" width="2.3" height="6.47" fill="#1a9040"/>
<rect x="323.65" y="1895.82" width="2.3" height="6.96" fill="#1a9040"/>
<rect x="265.25" y="1874.8" width="2.3" height="6.46" fill="#1a9040"/>
<rect x="286.48" y="1898.46" width="2.3" height="7.12" fill="#1a9040"/>
<rect x="274.72" y="1884.3" width="2.3" height="7.92" fill="#1a9040"/>
<rect x="337.76" y="1901.05" width="2.3" height="6.74" fill="#1a9040"/>
<rect x="321.7" y="1896.16" width="2.3" height="4.57" fill="#1a9040"/>
<rect x="332.18" y="1897.63" width="2.3" height="6.42" fill="#1a9040"/>
<rect x="320.62" y="1895.2" width="2.3" height="2.37" fill="#1a9040"/>
<rect x="305.75" y="1905.31" width="2.3" height="6.01" fill="#1a9040"/>
<rect x="311.29" y="1906.03" width="2.3" height="2.02" fill="#1a9040"/>
<rect x="296.31" y="1899.66" width="2.3" height="3.71" fill="#1a9040"/>
<rect x="277.04" y="1882.92" width="2.3" height="3.34" fill="#1a9040"/>
<rect x="279.1" y="1889.37" width="2.3" height="7.77" fill="#1a9040"/>
<rect x="316.65" y="1904.88" width="2.3" height="7.38" fill="#1a9040"/>
<rect x="337.8" y="1899.59" width="2.3" height="3.16" fill="#1a9040"/>
<rect x="313.94" y="1906.48" width="2.3" height="4.16" fill="#1a9040"/>
<rect x="315.2" y="1907.02" width="2.3" height="2.8" fill="#1a9040"/>
<rect x="269.63" y="1882.35" width="2.3" height="7.08" fill="#1a9040"/>
<rect x="277.68" y="1890.32" width="2.3" height="2.02" fill="#1a9040"/>
<rect x="305.63" y="1906.22" width="2.3" height="7.91" fill="#1a9040"/>
<rect x="297.9" y="1900.45" width="2.3" height="6.37" fill="#1a9040"/>
<rect x="310.4" y="1912.73" width="2.3" height="6.39" fill="#1a9040"/>
<rect x="326.87" y="1899.04" width="2.3" height="2.65" fill="#1a9040"/>
<rect x="261.76" y="1872.79" width="2.3" height="6.87" fill="#1a9040"/>
<rect x="338.9" y="1899.87" width="2.3" height="5.79" fill="#1a9040"/>
<rect x="303.93" y="1901.29" width="2.3" height="2.25" fill="#1a9040"/>
<rect x="297.56" y="1897.95" width="2.3" height="4.07" fill="#1a9040"/>
<rect x="332.22" y="1896.04" width="2.3" height="4.22" fill="#1a9040"/>
<rect x="331.15" y="1893.15" width="2.3" height="5.1" fill="#1a9040"/>
<rect x="290.34" y="1895.28" width="2.3" height="7.26" fill="#1a9040"/>
<rect x="272.59" y="1887.26" width="2.3" height="3.93" fill="#1a9040"/>
<rect x="270.3" y="1883.51" width="2.3" height="7.24" fill="#1a9040"/>
<rect x="315.42" y="1899.18" width="2.3" height="7.08" fill="#1a9040"/>
<rect x="344.46" y="1907.67" width="2.3" height="3.04" fill="#1a9040"/>
<rect x="298.11" y="1898.72" width="2.3" height="5.17" fill="#1a9040"/>
<rect x="299.28" y="1895.79" width="2.3" height="4.46" fill="#1a9040"/>
<rect x="285.77" y="1890.57" width="2.3" height="4.5" fill="#1a9040"/>
<rect x="326.49" y="1890.54" width="2.3" height="2.93" fill="#1a9040"/>
<rect x="338.83" y="1905.48" width="2.3" height="2.05" fill="#1a9040"/>
<rect x="290.14" y="1890.73" width="2.3" height="7.78" fill="#1a9040"/>
<rect x="322.65" y="1891.68" width="2.3" height="5.01" fill="#1a9040"/>
<rect x="268.79" y="1884.04" width="2.3" height="2.62" fill="#1a9040"/>
<rect x="295.33" y="1895.04" width="2.3" height="7.82" fill="#1a9040"/>
<rect x="335.6" y="1896.52" width="2.3" height="5.3" fill="#1a9040"/>
<rect x="329.16" y="1887.28" width="2.3" height="4.22" fill="#1a9040"/>
<rect x="315.4" y="1904.47" width="2.3" height="3.3" fill="#1a9040"/>
<rect x="294.83" y="1898.68" width="2.3" height="3.78" fill="#1a9040"/>
<rect x="311.15" y="1905.05" width="2.3" height="2.24" fill="#1a9040"/>
<rect x="327.66" y="1895.13" width="2.3" height="6.73" fill="#1a9040"/>
<rect x="297.08" y="1904.32" width="2.3" height="5.74" fill="#1a9040"/>
<rect x="316.84" y="1901.84" width="2.3" height="6.76" fill="#1a9040"/>
<rect x="269.83" y="1881.96" width="2.3" height="4.48" fill="#1a9040"/>
<rect x="324.76" y="1900.03" width="2.3" height="2.95" fill="#1a9040"/>
<rect x="342.29" y="1911.12" width="2.3" height="3.23" fill="#1a9040"/>
<rect x="297.71" y="1899.24" width="2.3" height="7.73" fill="#1a9040"/>
<rect x="264.79" y="1868.83" width="2.3" height="7.44" fill="#1a9040"/>
<rect x="273.63" y="1884.02" width="2.3" height="6.24" fill="#1a9040"/>
<rect x="263.53" y="1875.19" width="2.3" height="3.76" fill="#1a9040"/>
<rect x="344.33" y="1911.89" width="2.3" height="7.07" fill="#1a9040"/>
<rect x="307.16" y="1901.95" width="2.3" height="5.87" fill="#1a9040"/>
<rect x="330.67" y="1884.97" width="2.3" height="7.78" fill="#1a9040"/>
<rect x="340.28" y="1908.03" width="2.3" height="4.06" fill="#1a9040"/>
<rect x="270.43" y="1884.55" width="2.3" height="5.91" fill="#1a9040"/>
<rect x="264.85" y="1875.81" width="2.3" height="7.26" fill="#1a9040"/>
<rect x="282.54" y="1890.29" width="2.3" height="5.17" fill="#1a9040"/>
<rect x="265.42" y="1871.42" width="2.3" height="4.68" fill="#1a9040"/>
<rect x="274.16" y="1886.24" width="2.3" height="4.13" fill="#1a9040"/>
<rect x="290.42" y="1892.7" width="2.3" height="4" fill="#1a9040"/>
<rect x="314.83" y="1905.17" width="2.3" height="4.95" fill="#1a9040"/>
<rect x="312.29" y="1910.7" width="2.3" height="3.95" fill="#1a9040"/>
<rect x="307.54" y="1903.71" width="2.3" height="4.3" fill="#1a9040"/>
<rect x="332.51" y="1890.21" width="2.3" height="4.62" fill="#1a9040"/>
<rect x="265.68" y="1872.3" width="2.3" height="4.98" fill="#1a9040"/>
<rect x="267.89" y="1876.14" width="2.3" height="7.51" fill="#1a9040"/>
<rect x="278.66" y="1887.91" width="2.3" height="5.99" fill="#1a9040"/>
<rect x="306.54" y="1904.12" width="2.3" height="4.43" fill="#1a9040"/>
<rect x="295.32" y="1898.39" width="2.3" height="2.31" fill="#1a9040"/>
<rect x="266.52" y="1875.46" width="2.3" height="3.41" fill="#1a9040"/>
<rect x="277.59" y="1890.46" width="2.3" height="4.13" fill="#1a9040"/>
<rect x="310.68" y="1902.45" width="2.3" height="7.95" fill="#1a9040"/>
<rect x="307.87" y="1899.68" width="2.3" height="6.57" fill="#1a9040"/>
<rect x="313.95" y="1904.9" width="2.3" height="2.05" fill="#1a9040"/>
<rect x="318.52" y="1901.13" width="2.3" height="4.18" fill="#1a9040"/>
<rect x="297.35" y="1900.82" width="2.3" height="2.93" fill="#1a9040"/>
<rect x="272.64" y="1886.97" width="2.3" height="4.23" fill="#1a9040"/>
<rect x="287.56" y="1891.93" width="2.3" height="3.13" fill="#1a9040"/>
<rect x="261.87" y="1868.23" width="2.3" height="7.69" fill="#1a9040"/>
<rect x="271.11" y="1889.64" width="2.3" height="7.21" fill="#1a9040"/>
<rect x="325.28" y="1893.54" width="2.3" height="2.03" fill="#1a9040"/>
<rect x="277.78" y="1888.21" width="2.3" height="6.76" fill="#1a9040"/>
<rect x="283.34" y="1891" width="2.3" height="2.46" fill="#1a9040"/>
<rect x="327.41" y="1888.63" width="2.3" height="5.85" fill="#1a9040"/>
<rect x="302.91" y="1906.68" width="2.3" height="3.57" fill="#1a9040"/>
<rect x="305.91" y="1905.04" width="2.3" height="2.05" fill="#1a9040"/>
<rect x="274.71" y="1879.72" width="2.3" height="4.61" fill="#1a9040"/>
<rect x="310.74" y="1905.63" width="2.3" height="6.11" fill="#1a9040"/>
<rect x="324.07" y="1890.15" width="2.3" height="4.16" fill="#1a9040"/>
<rect x="326.31" y="1885.41" width="2.3" height="5.05" fill="#1a9040"/>
<rect x="275.77" y="1885.39" width="2.3" height="4.99" fill="#1a9040"/>
<rect x="290" y="1894.45" width="2.3" height="2.37" fill="#1a9040"/>
<rect x="274.8" y="1887.01" width="2.3" height="2.81" fill="#1a9040"/>
<rect x="326.31" y="1889.55" width="2.3" height="6.23" fill="#1a9040"/>
<rect x="290.86" y="1896.48" width="2.3" height="4.96" fill="#1a9040"/>
<rect x="264.12" y="1874.88" width="2.3" height="3.72" fill="#1a9040"/>
<rect x="319.76" y="1896.63" width="2.3" height="5.72" fill="#1a9040"/>
<rect x="299.98" y="1897.47" width="2.3" height="5.73" fill="#1a9040"/>
<rect x="326.95" y="1888.14" width="2.3" height="3.8" fill="#1a9040"/>
<rect x="280.19" y="1891.84" width="2.3" height="4.76" fill="#1a9040"/>
<rect x="261.36" y="1869.61" width="2.3" height="4.78" fill="#1a9040"/>
<rect x="336.08" y="1898.31" width="2.3" height="3" fill="#1a9040"/>
<rect x="306.43" y="1903.77" width="2.3" height="6.58" fill="#1a9040"/>
<rect x="288.53" y="1883.92" width="2.3" height="3.04" fill="#1a9040"/>
<rect x="263.13" y="1875.87" width="2.3" height="3.82" fill="#1a9040"/>
<rect x="279.22" y="1891.51" width="2.3" height="4.84" fill="#1a9040"/>
<rect x="310.27" y="1902.34" width="2.3" height="3.34" fill="#1a9040"/>
<rect x="305.63" y="1903.93" width="2.3" height="6.49" fill="#1a9040"/>
<rect x="342.36" y="1907.96" width="2.3" height="5.03" fill="#1a9040"/>
<rect x="342.02" y="1905.25" width="2.3" height="5.66" fill="#1a9040"/>
<rect x="339.3" y="1905.1" width="2.3" height="6.57" fill="#1a9040"/>
<rect x="309.23" y="1906.51" width="2.3" height="2.11" fill="#1a9040"/>
<rect x="268.64" y="1883.11" width="2.3" height="4.83" fill="#1a9040"/>
<rect x="300.39" y="1892.16" width="2.3" height="3.22" fill="#1a9040"/>
<rect x="334.27" y="1894.54" width="2.3" height="6.93" fill="#1a9040"/>
<rect x="286.42" y="1884.74" width="2.3" height="3.4" fill="#1a9040"/>
<rect x="278.7" y="1892.55" width="2.3" height="2.45" fill="#1a9040"/>
<rect x="332.36" y="1885.17" width="2.3" height="2.07" fill="#1a9040"/>
<rect x="309.04" y="1907.08" width="2.3" height="2.05" fill="#1a9040"/>
<rect x="286.4" y="1890.61" width="2.3" height="6.5" fill="#1a9040"/>
<rect x="299.7" y="1897.81" width="2.3" height="4.89" fill="#1a9040"/>
<rect x="274.72" y="1887.94" width="2.3" height="2.78" fill="#1a9040"/>
<rect x="340.97" y="1909.51" width="2.3" height="3.96" fill="#1a9040"/>
<rect x="335.88" y="1899.05" width="2.3" height="2.12" fill="#1a9040"/>
<rect x="265.94" y="1871.15" width="2.3" height="3.74" fill="#1a9040"/>
<rect x="319.29" y="1896.72" width="2.3" height="5.64" fill="#1a9040"/>
<rect x="320.04" y="1901.82" width="2.3" height="7.19" fill="#1a9040"/>
<rect x="318.88" y="1901.89" width="2.3" height="2.54" fill="#1a9040"/>
<rect x="334.61" y="1888.44" width="2.3" height="5.94" fill="#1a9040"/>
<rect x="271.48" y="1879.79" width="2.3" height="7.2" fill="#1a9040"/>
<rect x="338.66" y="1904.5" width="2.3" height="3.28" fill="#1a9040"/>
<rect x="262.89" y="1872.1" width="2.3" height="7.62" fill="#1a9040"/>
<rect x="299.35" y="1896.72" width="2.3" height="7.15" fill="#1a9040"/>
<rect x="312.51" y="1905.93" width="2.3" height="5.13" fill="#1a9040"/>
<rect x="292.14" y="1894.56" width="2.3" height="2.94" fill="#1a9040"/>
<rect x="341.72" y="1905.69" width="2.3" height="5.51" fill="#1a9040"/>
<rect x="337.68" y="1909.51" width="2.3" height="4.89" fill="#1a9040"/>
<rect x="340.78" y="1902.37" width="2.3" height="3.29" fill="#1a9040"/>
<rect x="280.26" y="1879.83" width="2.3" height="6.22" fill="#1a9040"/>
<rect x="330.53" y="1889.2" width="2.3" height="7.19" fill="#1a9040"/>
<rect x="270.45" y="1889.29" width="2.3" height="5.04" fill="#1a9040"/>
<rect x="333.31" y="1897.9" width="2.3" height="3.78" fill="#1a9040"/>
<rect x="300.35" y="1897.38" width="2.3" height="5.97" fill="#1a9040"/>
<rect x="329.08" y="1887.67" width="2.3" height="7.65" fill="#1a9040"/>
<rect x="324.68" y="1894.47" width="2.3" height="6.78" fill="#1a9040"/>
<rect x="327.23" y="1896.35" width="2.3" height="3.6" fill="#1a9040"/>
<rect x="310.67" y="1901.75" width="2.3" height="4.01" fill="#1a9040"/>
<rect x="321.74" y="1896.37" width="2.3" height="2.41" fill="#1a9040"/>
<rect x="324.86" y="1888.66" width="2.3" height="5.53" fill="#1a9040"/>
<rect x="290.97" y="1891.57" width="2.3" height="3.9" fill="#1a9040"/>
<rect x="282.67" y="1890.81" width="2.3" height="5.83" fill="#1a9040"/>
<rect x="277.3" y="1885.16" width="2.3" height="7.51" fill="#1a9040"/>
<rect x="275.71" y="1888.78" width="2.3" height="3.66" fill="#1a9040"/>
<rect x="294.2" y="1892.76" width="2.3" height="2.82" fill="#1a9040"/>
<rect x="339.62" y="1911.54" width="2.3" height="7.48" fill="#1a9040"/>
<rect x="340.59" y="1909.61" width="2.3" height="6.21" fill="#1a9040"/>
<rect x="295.32" y="1895.59" width="2.3" height="3.01" fill="#1a9040"/>
<rect x="315.71" y="1910.2" width="2.3" height="7.79" fill="#1a9040"/>
<rect x="298.06" y="1893.38" width="2.3" height="6.11" fill="#1a9040"/>
<rect x="344.9" y="1916.13" width="2.3" height="6.33" fill="#1a9040"/>
<rect x="307.59" y="1900.09" width="2.3" height="7.24" fill="#1a9040"/>
<rect x="290.58" y="1889.63" width="2.3" height="6.95" fill="#1a9040"/>
<rect x="330.39" y="1890.82" width="2.3" height="6.76" fill="#1a9040"/>
<rect x="314.33" y="1904.1" width="2.3" height="4.82" fill="#1a9040"/>
<rect x="316.79" y="1907.7" width="2.3" height="6.02" fill="#1a9040"/>
<rect x="329.86" y="1894.22" width="2.3" height="2.16" fill="#1a9040"/>
<rect x="272.6" y="1881.87" width="2.3" height="2.28" fill="#1a9040"/>
<rect x="333.56" y="1888.53" width="2.3" height="3.57" fill="#1a9040"/>
<rect x="277.13" y="1887.65" width="2.3" height="4.97" fill="#1a9040"/>
<rect x="265.94" y="1871.38" width="2.3" height="7.24" fill="#1a9040"/>
<rect x="327.53" y="1889.84" width="2.3" height="2.9" fill="#1a9040"/>
<rect x="328.69" y="1890.24" width="2.3" height="6.85" fill="#1a9040"/>
<rect x="285.94" y="1890.51" width="2.3" height="5.97" fill="#1a9040"/>
<rect x="330.85" y="1889.72" width="2.3" height="4.95" fill="#1a9040"/>
<rect x="309.84" y="1903.12" width="2.3" height="3.71" fill="#1a9040"/>
<rect x="277.78" y="1885.67" width="2.3" height="7.22" fill="#1a9040"/>
<rect x="285.69" y="1891.33" width="2.3" height="4.02" fill="#1a9040"/>
<rect x="304.41" y="1901.73" width="2.3" height="2.95" fill="#1a9040"/>
<rect x="293.4" y="1895.78" width="2.3" height="4.2" fill="#1a9040"/>
<rect x="264.68" y="1867.78" width="2.3" height="7.31" fill="#1a9040"/>
<rect x="340.28" y="1910.87" width="2.3" height="4.28" fill="#1a9040"/>
<rect x="290.2" y="1896.27" width="2.3" height="6.06" fill="#1a9040"/>
<rect x="315.2" y="1903.14" width="2.3" height="2.65" fill="#1a9040"/>
<rect x="287.15" y="1890.32" width="2.3" height="4.73" fill="#1a9040"/>
<rect x="322.88" y="1890.05" width="2.3" height="7.03" fill="#1a9040"/>
<rect x="281.73" y="1893.46" width="2.3" height="5.16" fill="#1a9040"/>
<rect x="309.45" y="1907" width="2.3" height="6.97" fill="#1a9040"/>
<rect x="277.09" y="1884.97" width="2.3" height="6.8" fill="#1a9040"/>
<rect x="266.44" y="1866.3" width="2.3" height="5.1" fill="#1a9040"/>
<rect x="273.04" y="1885.39" width="2.3" height="6.65" fill="#1a9040"/>
<rect x="344.05" y="1907.29" width="2.3" height="7.38" fill="#1a9040"/>
<rect x="293.69" y="1895.91" width="2.3" height="3.3" fill="#1a9040"/>
<rect x="333.25" y="1892.7" width="2.3" height="3.67" fill="#1a9040"/>
<rect x="332.58" y="1891.93" width="2.3" height="4.12" fill="#1a9040"/>
<rect x="313" y="1904.69" width="2.3" height="2.35" fill="#1a9040"/>
<rect x="291.37" y="1888.18" width="2.3" height="4.12" fill="#1a9040"/>
<rect x="302.35" y="1896.97" width="2.3" height="7.71" fill="#1a9040"/>
<rect x="273.9" y="1885.12" width="2.3" height="6.4" fill="#1a9040"/>
<rect x="288.99" y="1894.35" width="2.3" height="4.25" fill="#1a9040"/>
<rect x="301.85" y="1902.88" width="2.3" height="4.94" fill="#1a9040"/>
<rect x="294.48" y="1888.31" width="2.3" height="6.61" fill="#1a9040"/>
<rect x="311.04" y="1910.44" width="2.3" height="2.21" fill="#1a9040"/>
<rect x="314.66" y="1897.73" width="2.3" height="5.04" fill="#1a9040"/>
<rect x="337.25" y="1899.38" width="2.3" height="7.88" fill="#1a9040"/>
<rect x="304.27" y="1903.96" width="2.3" height="3.22" fill="#1a9040"/>
<rect x="300.11" y="1899.43" width="2.3" height="5.61" fill="#1a9040"/>
<rect x="302.46" y="1902.57" width="2.3" height="6.08" fill="#1a9040"/>
<rect x="304.97" y="1912.81" width="2.3" height="6.89" fill="#1a9040"/>
<rect x="289.11" y="1892.6" width="2.3" height="4.69" fill="#1a9040"/>
<rect x="309.44" y="1912.57" width="2.3" height="3.31" fill="#1a9040"/>
<rect x="341.91" y="1904.79" width="2.3" height="4.32" fill="#1a9040"/>
<rect x="303.07" y="1904.55" width="2.3" height="5.13" fill="#1a9040"/>
<rect x="316.05" y="1902.76" width="2.3" height="7.56" fill="#1a9040"/>
<rect x="266.18" y="1867.87" width="2.3" height="4.01" fill="#1a9040"/>
<rect x="283.06" y="1892.1" width="2.3" height="3.03" fill="#1a9040"/>
<rect x="287.01" y="1893.2" width="2.3" height="2.34" fill="#1a9040"/>
<rect x="618.99" y="1917.4" width="2.4" height="3.19" fill="#1a9040"/>
<rect x="605.06" y="1912.78" width="2.4" height="2.95" fill="#1a9040"/>
<rect x="617.95" y="1912.9" width="2.4" height="2.77" fill="#1a9040"/>
<rect x="609.93" y="1918.94" width="2.4" height="3.97" fill="#1a9040"/>
<rect x="602.89" y="1922.65" width="2.4" height="2.76" fill="#1a9040"/>
<rect x="620.55" y="1917.78" width="2.4" height="3.57" fill="#1a9040"/>
<rect x="609.24" y="1912.02" width="2.4" height="3.09" fill="#1a9040"/>
<rect x="610.13" y="1913.53" width="2.4" height="3.67" fill="#1a9040"/>
<rect x="620.53" y="1917.51" width="2.4" height="3.72" fill="#1a9040"/>
<rect x="601.04" y="1920.95" width="2.4" height="3.86" fill="#1a9040"/>
<rect x="598.63" y="1917.47" width="2.4" height="2.79" fill="#1a9040"/>
<rect x="610.63" y="1919.75" width="2.4" height="3.85" fill="#1a9040"/>
<rect x="599.56" y="1907.29" width="2.4" height="3.93" fill="#1a9040"/>
<rect x="607.13" y="1908.26" width="2.4" height="3.39" fill="#1a9040"/>
<rect x="602.64" y="1916.4" width="2.4" height="2.6" fill="#1a9040"/>
<rect x="604.73" y="1922.31" width="2.4" height="2.69" fill="#1a9040"/>
<rect x="619.13" y="1919.16" width="2.4" height="3.78" fill="#1a9040"/>
<rect x="608.49" y="1919.69" width="2.4" height="3.18" fill="#1a9040"/>
<rect x="606.03" y="1889.86" width="2.4" height="2.46" fill="#1a9040"/>
<rect x="601.95" y="1920.77" width="2.4" height="3.21" fill="#1a9040"/>
<rect x="606.71" y="1921.84" width="2.4" height="3.38" fill="#1a9040"/>
<rect x="619.06" y="1918.73" width="2.4" height="2.94" fill="#1a9040"/>
<rect x="609.48" y="1920.46" width="2.4" height="2.47" fill="#1a9040"/>
<rect x="604.6" y="1918.66" width="2.4" height="3.64" fill="#1a9040"/>
<rect x="607.23" y="1904.36" width="2.4" height="2.59" fill="#1a9040"/>
<rect x="604.84" y="1921.25" width="2.4" height="3.66" fill="#1a9040"/>
<rect x="601.16" y="1915.55" width="2.4" height="3.21" fill="#1a9040"/>
<rect x="615.35" y="1918.97" width="2.4" height="2.86" fill="#1a9040"/>
<rect x="620.71" y="1919.43" width="2.4" height="2.66" fill="#1a9040"/>
<rect x="610.61" y="1916.51" width="2.4" height="2.55" fill="#1a9040"/>
<rect x="598.02" y="1916.82" width="2.4" height="3.55" fill="#1a9040"/>
<rect x="606" y="1913.72" width="2.4" height="2.81" fill="#1a9040"/>
<rect x="615.16" y="1914.45" width="2.4" height="3.25" fill="#1a9040"/>
<rect x="619.98" y="1920.17" width="2.4" height="3" fill="#1a9040"/>
<rect x="597.24" y="1918.74" width="2.4" height="3.62" fill="#1a9040"/>
<rect x="616.3" y="1919.96" width="2.4" height="3.11" fill="#1a9040"/>
<rect x="612.17" y="1922.49" width="2.4" height="3.23" fill="#1a9040"/>
<rect x="618.17" y="1922.27" width="2.4" height="2.52" fill="#1a9040"/>
<rect x="609.41" y="1914.51" width="2.4" height="3.01" fill="#1a9040"/>
<rect x="607.41" y="1898.38" width="2.4" height="3.99" fill="#1a9040"/>
<rect x="621.53" y="1921.98" width="2.4" height="2.91" fill="#1a9040"/>
<rect x="603.62" y="1901.57" width="2.4" height="3.39" fill="#1a9040"/>
<rect x="610.91" y="1922.18" width="2.4" height="3.67" fill="#1a9040"/>
<rect x="621.41" y="1921.6" width="2.4" height="2.87" fill="#1a9040"/>
<rect x="597.29" y="1906.33" width="2.4" height="2.78" fill="#1a9040"/>
<rect x="601.24" y="1904.58" width="2.4" height="3.48" fill="#1a9040"/>
<rect x="608.1" y="1920.5" width="2.4" height="3.93" fill="#1a9040"/>
<rect x="605.57" y="1910.94" width="2.4" height="3.42" fill="#1a9040"/>
<rect x="606.7" y="1890.32" width="2.4" height="3.07" fill="#1a9040"/>
<rect x="603.46" y="1920.68" width="2.4" height="2.46" fill="#1a9040"/>
<rect x="608.28" y="1898.97" width="2.4" height="3.57" fill="#1a9040"/>
<rect x="605.68" y="1919.76" width="2.4" height="3.69" fill="#1a9040"/>
<rect x="617.55" y="1920.98" width="2.4" height="2.8" fill="#1a9040"/>
<rect x="603.56" y="1907.95" width="2.4" height="3.16" fill="#1a9040"/>
<rect x="613.86" y="1912.82" width="2.4" height="3.68" fill="#1a9040"/>
<rect x="610.54" y="1922.77" width="2.4" height="3.46" fill="#1a9040"/>
<rect x="603.04" y="1905.65" width="2.4" height="3.33" fill="#1a9040"/>
<rect x="614.19" y="1912.55" width="2.4" height="3.76" fill="#1a9040"/>
<rect x="617.42" y="1909.52" width="2.4" height="3.72" fill="#1a9040"/>
<rect x="603.35" y="1910.68" width="2.4" height="2.96" fill="#1a9040"/>
<rect x="615.82" y="1918.6" width="2.4" height="3.32" fill="#1a9040"/>
<rect x="599.33" y="1921.19" width="2.4" height="2.6" fill="#1a9040"/>
<rect x="599.46" y="1904.79" width="2.4" height="3.86" fill="#1a9040"/>
<rect x="605.75" y="1917.54" width="2.4" height="3.32" fill="#1a9040"/>
<rect x="614.38" y="1922.2" width="2.4" height="3.96" fill="#1a9040"/>
<rect x="597.76" y="1921.91" width="2.4" height="3.56" fill="#1a9040"/>
<rect x="605.22" y="1913.83" width="2.4" height="3.29" fill="#1a9040"/>
<rect x="609.01" y="1916.44" width="2.4" height="3.7" fill="#1a9040"/>
<rect x="607.13" y="1909.95" width="2.4" height="3.34" fill="#1a9040"/>
<rect x="619.12" y="1922.4" width="2.4" height="2.87" fill="#1a9040"/>
<rect x="597.59" y="1922.74" width="2.4" height="3.27" fill="#1a9040"/>
<rect x="608.4" y="1921.18" width="2.4" height="2.65" fill="#1a9040"/>
<rect x="602.01" y="1903.07" width="2.4" height="3.3" fill="#1a9040"/>
<rect x="607.42" y="1915.43" width="2.4" height="3.09" fill="#1a9040"/>
<rect x="609.3" y="1922.31" width="2.4" height="3.97" fill="#1a9040"/>
<rect x="611.62" y="1911.4" width="2.4" height="3.84" fill="#1a9040"/>
<rect x="599.5" y="1922.44" width="2.4" height="2.76" fill="#1a9040"/>
<rect x="601.26" y="1921.05" width="2.4" height="3.03" fill="#1a9040"/>
<rect x="617.76" y="1918.15" width="2.4" height="3.55" fill="#1a9040"/>
<rect x="609.47" y="1899.68" width="2.4" height="3.81" fill="#1a9040"/>
<rect x="600.24" y="1912.91" width="2.4" height="3.92" fill="#1a9040"/>
<rect x="617.47" y="1918.67" width="2.4" height="3.03" fill="#1a9040"/>
<rect x="599.23" y="1920.15" width="2.4" height="2.55" fill="#1a9040"/>
<rect x="598.75" y="1909.46" width="2.4" height="3.21" fill="#1a9040"/>
<rect x="606.17" y="1911.84" width="2.4" height="2.91" fill="#1a9040"/>
<rect x="619.86" y="1921.58" width="2.4" height="2.72" fill="#1a9040"/>
<rect x="602.51" y="1895.35" width="2.4" height="3.81" fill="#1a9040"/>
<rect x="602.04" y="1899.2" width="2.4" height="2.45" fill="#1a9040"/>
<rect x="614.45" y="1917.47" width="2.4" height="2.76" fill="#1a9040"/>
<rect x="611.89" y="1920.72" width="2.4" height="3.24" fill="#1a9040"/>
<rect x="615.63" y="1920.05" width="2.4" height="3.84" fill="#1a9040"/>
<rect x="619.36" y="1921.91" width="2.4" height="2.74" fill="#1a9040"/>
<rect x="597.27" y="1919.09" width="2.4" height="2.52" fill="#1a9040"/>
<rect x="604.56" y="1921.84" width="2.4" height="3.17" fill="#1a9040"/>
<rect x="603.44" y="1899.51" width="2.4" height="3.67" fill="#1a9040"/>
<rect x="605.88" y="1916.08" width="2.4" height="2.54" fill="#1a9040"/>
<rect x="598.53" y="1907.61" width="2.4" height="2.54" fill="#1a9040"/>
<rect x="606.2" y="1920.57" width="2.4" height="2.74" fill="#1a9040"/>
<rect x="602.42" y="1920.76" width="2.4" height="3.89" fill="#1a9040"/>
<rect x="603.01" y="1913.54" width="2.4" height="2.78" fill="#1a9040"/>
<rect x="620.28" y="1910.88" width="2.4" height="3.22" fill="#1a9040"/>
<rect x="620.63" y="1916.02" width="2.4" height="3.83" fill="#1a9040"/>
<rect x="610.07" y="1922.26" width="2.4" height="2.52" fill="#1a9040"/>
<rect x="618.01" y="1905.54" width="2.4" height="3.07" fill="#1a9040"/>
<rect x="619.2" y="1910.21" width="2.4" height="2.9" fill="#1a9040"/>
<rect x="615.98" y="1914.86" width="2.4" height="3.47" fill="#1a9040"/>
<rect x="602.79" y="1922.52" width="2.4" height="2.93" fill="#1a9040"/>
<rect x="603.72" y="1916.35" width="2.4" height="2.97" fill="#1a9040"/>
<rect x="607.01" y="1919.6" width="2.4" height="2.62" fill="#1a9040"/>
<rect x="603.99" y="1913.12" width="2.4" height="2.85" fill="#1a9040"/>
<rect x="619.35" y="1911.92" width="2.4" height="3.14" fill="#1a9040"/>
<rect x="604.4" y="1913.45" width="2.4" height="3.82" fill="#1a9040"/>
<rect x="617.42" y="1921.72" width="2.4" height="2.74" fill="#1a9040"/>
<rect x="598.22" y="1897.3" width="2.4" height="2.85" fill="#1a9040"/>
<rect x="606.82" y="1909.91" width="2.4" height="2.87" fill="#1a9040"/>
<rect x="615.05" y="1922.91" width="2.4" height="3.05" fill="#1a9040"/>
<rect x="597.68" y="1907.56" width="2.4" height="2.86" fill="#1a9040"/>
<rect x="617.34" y="1915.39" width="2.4" height="2.58" fill="#1a9040"/>
<rect x="604.49" y="1908.79" width="2.4" height="3.49" fill="#1a9040"/>
<rect x="607.51" y="1921.72" width="2.4" height="2.67" fill="#1a9040"/>
<rect x="605.71" y="1916.9" width="2.4" height="3.45" fill="#1a9040"/>
<rect x="618.73" y="1916.65" width="2.4" height="3.29" fill="#1a9040"/>
<rect x="610.21" y="1914.46" width="2.4" height="2.48" fill="#1a9040"/>
<rect x="598.09" y="1915.93" width="2.4" height="3.09" fill="#1a9040"/>
<rect x="618.65" y="1921.57" width="2.4" height="2.96" fill="#1a9040"/>
<rect x="603.3" y="1913.45" width="2.4" height="3.68" fill="#1a9040"/>
<rect x="599.5" y="1918.62" width="2.4" height="3.49" fill="#1a9040"/>
<rect x="615.47" y="1915.08" width="2.4" height="2.66" fill="#1a9040"/>
<rect x="615.02" y="1919.76" width="2.4" height="3.82" fill="#1a9040"/>
<rect x="601.9" y="1906.57" width="2.4" height="3.87" fill="#1a9040"/>
<rect x="612.2" y="1921.33" width="2.4" height="2.96" fill="#1a9040"/>
<rect x="606.21" y="1903.79" width="2.4" height="2.68" fill="#1a9040"/>
<rect x="607.35" y="1918.85" width="2.4" height="3.25" fill="#1a9040"/>
<rect x="615.21" y="1922.83" width="2.4" height="2.77" fill="#1a9040"/>
<rect x="599.05" y="1916.89" width="2.4" height="3.44" fill="#1a9040"/>
<rect x="616.65" y="1916.02" width="2.4" height="2.66" fill="#1a9040"/>
<rect x="621.81" y="1922.91" width="2.4" height="2.71" fill="#1a9040"/>
<rect x="612.76" y="1913.67" width="2.4" height="3.02" fill="#1a9040"/>
<rect x="614.02" y="1917.59" width="2.4" height="2.9" fill="#1a9040"/>
<rect x="604.84" y="1917.96" width="2.4" height="2.57" fill="#1a9040"/>
<rect x="614.85" y="1921.34" width="2.4" height="3.33" fill="#1a9040"/>
<rect x="620.18" y="1913.94" width="2.4" height="3.71" fill="#1a9040"/>
<rect x="601.64" y="1908.28" width="2.4" height="2.42" fill="#1a9040"/>
<rect x="602.65" y="1920.11" width="2.4" height="3.49" fill="#1a9040"/>
<rect x="621.55" y="1921.71" width="2.4" height="3.2" fill="#1a9040"/>
<rect x="604.17" y="1911.41" width="2.4" height="2.42" fill="#1a9040"/>
<rect x="619.66" y="1921.07" width="2.4" height="2.68" fill="#1a9040"/>
<rect x="617.65" y="1915.95" width="2.4" height="3.66" fill="#1a9040"/>
<rect x="618.97" y="1919.73" width="2.4" height="3.09" fill="#1a9040"/>
<rect x="616.81" y="1919.32" width="2.4" height="2.79" fill="#1a9040"/>
<rect x="612.35" y="1917.82" width="2.4" height="3.62" fill="#1a9040"/>
<rect x="618.79" y="1914.5" width="2.4" height="2.51" fill="#1a9040"/>
<rect x="610.81" y="1917.67" width="2.4" height="2.47" fill="#1a9040"/>
<rect x="604.21" y="1922.94" width="2.4" height="3.53" fill="#1a9040"/>
<rect x="602.34" y="1921.24" width="2.4" height="3.79" fill="#1a9040"/>
<rect x="603.72" y="1912.57" width="2.4" height="3.46" fill="#1a9040"/>
<rect x="612.84" y="1922.28" width="2.4" height="2.75" fill="#1a9040"/>
<rect x="617.59" y="1920.34" width="2.4" height="2.88" fill="#1a9040"/>
<rect x="609.39" y="1922.68" width="2.4" height="3.54" fill="#1a9040"/>
<rect x="616.32" y="1904.63" width="2.4" height="2.91" fill="#1a9040"/>
<rect x="614.25" y="1897.98" width="2.4" height="3.78" fill="#1a9040"/>
<rect x="608.54" y="1895" width="2.4" height="3.27" fill="#1a9040"/>
<rect x="611.11" y="1915.29" width="2.4" height="2.7" fill="#1a9040"/>
<rect x="606.79" y="1916.7" width="2.4" height="3.66" fill="#1a9040"/>
<rect x="611.02" y="1919.18" width="2.4" height="3.95" fill="#1a9040"/>
<rect x="598.96" y="1921.25" width="2.4" height="2.96" fill="#1a9040"/>
<rect x="621.49" y="1919.6" width="2.4" height="3.04" fill="#1a9040"/>
<rect x="617.58" y="1921.58" width="2.4" height="3.68" fill="#1a9040"/>
<rect x="598.9" y="1914.89" width="2.4" height="3.9" fill="#1a9040"/>
<rect x="612.09" y="1920.49" width="2.4" height="2.74" fill="#1a9040"/>
<polyline points="99.3,1809.4 100.86,1816.79 102.82,1827.28 105.11,1840.15 107.69,1854.68 110.48,1870.14 113.45,1885.81 116.53,1900.97 119.66,1914.89 122.79,1926.84 125.86,1936.11 128.82,1941.97 131.6,1943.7 134.28,1940.87 136.95,1933.99 139.62,1923.76 142.29,1910.87 144.96,1896.03 147.62,1879.91 150.29,1863.23 152.95,1846.66 155.61,1830.91 158.28,1816.67 160.94,1804.64 163.6,1795.5 166.26,1788.73 168.92,1783.22 171.58,1778.83 174.24,1775.4 176.89,1772.79 179.55,1770.84 182.21,1769.42 184.86,1768.36 187.52,1767.51 190.18,1766.74 192.84,1765.88 195.5,1764.8 198.16,1763.44 200.83,1761.95 203.5,1760.44 206.16,1759.03 208.83,1757.83 211.5,1756.97 214.17,1756.57 216.84,1756.74 219.5,1757.6 222.17,1759.27 224.84,1761.86 227.5,1765.5 230.16,1770.69 232.82,1777.61 235.48,1785.92 238.14,1795.27 240.79,1805.31 243.45,1815.69 246.11,1826.07 248.76,1836.09 251.42,1845.4 254.08,1853.65 256.74,1860.5 259.4,1865.6 262.06,1868.77 264.73,1870.29 267.4,1870.46 270.06,1869.61 272.73,1868.06 275.4,1866.12 278.07,1864.1 280.74,1862.33 283.4,1861.12 286.07,1860.78 288.74,1861.64 291.4,1864 294.06,1868.11 296.72,1873.75 299.38,1880.61 302.04,1888.36 304.69,1896.67 307.35,1905.21 310.01,1913.66 312.66,1921.68 315.32,1928.95 317.98,1935.15 320.64,1939.94 323.3,1943 325.96,1944.18 328.62,1943.73 331.29,1941.96 333.95,1939.15 336.61,1935.59 339.28,1931.56 341.94,1927.37 344.61,1923.3 347.28,1919.63 349.95,1916.67 352.62,1914.69 355.3,1914 357.98,1914.6 360.67,1916.17 363.36,1918.54 366.06,1921.51 368.76,1924.88 371.46,1928.48 374.15,1932.11 376.85,1935.57 379.55,1938.68 382.24,1941.25 384.92,1943.09 387.6,1944 390.27,1944.02 392.94,1943.36 395.6,1942.15 398.26,1940.47 400.91,1938.44 403.57,1936.17 406.22,1933.76 408.87,1931.31 411.53,1928.93 414.18,1926.73 416.84,1924.82 419.5,1923.3 422.16,1922.01 424.83,1920.74 427.5,1919.5 430.16,1918.32 432.83,1917.21 435.5,1916.19 438.17,1915.28 440.84,1914.49 443.5,1913.85 446.17,1913.38 448.84,1913.09 451.5,1913 454.16,1913.22 456.82,1913.81 459.48,1914.7 462.14,1915.8 464.8,1917.04 467.46,1918.36 470.12,1919.68 472.78,1920.93 475.43,1922.02 478.09,1922.9 480.75,1923.48 483.4,1923.7 486.05,1923.5 488.7,1922.92 491.35,1922.05 494,1920.95 496.65,1919.71 499.29,1918.39 501.94,1917.08 504.59,1915.85 507.24,1914.77 509.89,1913.92 512.54,1913.37 515.2,1913.2 517.86,1913.42 520.52,1913.94 523.19,1914.72 525.85,1915.7 528.52,1916.84 531.19,1918.08 533.86,1919.37 536.53,1920.66 539.2,1921.9 541.86,1923.04 544.53,1924.02 547.2,1924.8 549.66,1925.42 551.79,1925.98 553.7,1926.47 555.5,1926.9 557.29,1927.29 559.2,1927.62 561.33,1927.92 563.79,1928.19 566.7,1928.42 570.16,1928.63 574.29,1928.82 579.2,1929 585.16,1929.13 592.24,1929.19 600.2,1929.2 608.83,1929.16 617.9,1929.09 627.2,1929 636.5,1928.91 645.57,1928.84 654.2,1928.8 662.16,1928.81 669.24,1928.87 675.2,1929 680.11,1929.22 684.24,1929.51 687.7,1929.85 690.61,1930.24 693.07,1930.66 695.2,1931.1 697.11,1931.54 698.9,1931.96 700.7,1932.35 702.61,1932.69 704.74,1932.98 707.2,1933.2 709.87,1933.35 712.53,1933.47 715.2,1933.55 717.87,1933.59 720.53,1933.61 723.2,1933.6 725.87,1933.57 728.53,1933.52 731.2,1933.45 733.87,1933.38 736.53,1933.29 739.2,1933.2 741.87,1933.09 744.53,1932.94 747.2,1932.77 749.87,1932.57 752.53,1932.36 755.2,1932.14 757.87,1931.91 760.53,1931.7 763.2,1931.49 765.87,1931.3 768.53,1931.13 771.2,1931 773.87,1930.89 776.53,1930.79 779.2,1930.7 781.87,1930.63 784.53,1930.57 787.2,1930.51 789.87,1930.47 792.53,1930.44 795.2,1930.41 797.87,1930.4 800.53,1930.4 803.2,1930.4 805.87,1930.41 808.53,1930.43 811.2,1930.45 813.87,1930.49 816.53,1930.53 819.2,1930.59 821.87,1930.65 824.53,1930.73 827.2,1930.83 829.87,1930.93 832.53,1931.06 835.2,1931.2 837.87,1931.38 840.53,1931.6 843.2,1931.86 845.87,1932.15 848.53,1932.45 851.2,1932.75 853.87,1933.04 856.53,1933.32 859.2,1933.56 861.87,1933.76 864.53,1933.91 867.2,1934 869.87,1934 872.53,1933.9 875.2,1933.74 877.87,1933.53 880.53,1933.28 883.2,1933.02 885.87,1932.78 888.53,1932.56 891.2,1932.4 893.87,1932.3 896.53,1932.3 899.2,1932.4 901.87,1932.64 904.53,1933 907.2,1933.47 909.87,1934.01 912.53,1934.61 915.2,1935.23 917.87,1935.84 920.53,1936.43 923.2,1936.97 925.87,1937.42 928.53,1937.78 931.2,1938 933.97,1938.09 936.9,1938.08 939.95,1937.99 943.05,1937.82 946.15,1937.6 949.2,1937.35 952.14,1937.08 954.9,1936.8 957.45,1936.54 959.72,1936.31 961.65,1936.12 963.2,1936" fill="none" stroke="#555" stroke-width="1.1" stroke-linejoin="round" stroke-linecap="round" />
<polyline points="100,1942.6 101.53,1931.5 103.43,1916.76 105.67,1899.1 108.18,1879.22 110.91,1857.83 113.8,1835.64 116.8,1813.37 119.87,1791.71 122.93,1771.39 125.94,1753.11 128.85,1737.57 131.6,1725.5 134.15,1716.05 136.54,1707.91 138.82,1701.08 141.06,1695.59 143.29,1691.42 145.58,1688.59 147.98,1687.1 150.56,1686.96 153.35,1688.17 156.42,1690.75 159.82,1694.69 163.6,1700 167.91,1707.65 172.77,1718.26 178.08,1731.28 183.72,1746.2 189.58,1762.46 195.56,1779.55 201.53,1796.93 207.39,1814.06 213.03,1830.42 218.33,1845.46 223.19,1858.67 227.5,1869.5 231.28,1878.3 234.67,1885.86 237.72,1892.35 240.5,1897.9 243.06,1902.68 245.44,1906.83 247.72,1910.51 249.94,1913.88 252.17,1917.08 254.45,1920.26 256.84,1923.58 259.4,1927.2 262.06,1930.86 264.73,1934.25 267.4,1937.4 270.06,1940.35 272.73,1943.13 275.4,1945.78 278.07,1948.34 280.74,1950.84 283.4,1953.32 286.07,1955.82 288.74,1958.36 291.4,1961 294.06,1963.89 296.72,1967.1 299.38,1970.52 302.04,1974.03 304.69,1977.52 307.35,1980.88 310.01,1983.98 312.66,1986.73 315.32,1988.99 317.98,1990.67 320.64,1991.64 323.3,1991.8 325.96,1990.83 328.62,1988.65 331.29,1985.52 333.95,1981.67 336.61,1977.34 339.28,1972.78 341.94,1968.22 344.61,1963.91 347.28,1960.09 349.95,1957.01 352.62,1954.9 355.3,1954 357.98,1954.35 360.67,1955.69 363.36,1957.87 366.06,1960.7 368.76,1964.03 371.46,1967.68 374.15,1971.47 376.85,1975.25 379.55,1978.84 382.24,1982.08 384.92,1984.79 387.6,1986.8 390.27,1988.32 392.94,1989.66 395.6,1990.83 398.26,1991.8 400.91,1992.59 403.57,1993.19 406.22,1993.6 408.87,1993.81 411.53,1993.81 414.18,1993.62 416.84,1993.21 419.5,1992.6 422.16,1991.56 424.83,1989.98 427.5,1987.95 430.16,1985.61 432.83,1983.07 435.5,1980.44 438.17,1977.85 440.84,1975.41 443.5,1973.24 446.17,1971.45 448.84,1970.17 451.5,1969.5 454.16,1969.5 456.82,1970.06 459.48,1971.09 462.14,1972.49 464.8,1974.16 467.46,1975.99 470.12,1977.9 472.78,1979.77 475.43,1981.52 478.09,1983.04 480.75,1984.23 483.4,1985 486.05,1985.35 488.7,1985.41 491.35,1985.22 494,1984.84 496.65,1984.34 499.29,1983.77 501.94,1983.18 504.59,1982.63 507.24,1982.19 509.89,1981.89 512.54,1981.81 515.2,1982 517.86,1982.46 520.52,1983.14 523.19,1984 525.85,1984.99 528.52,1986.09 531.19,1987.24 533.86,1988.41 536.53,1989.56 539.2,1990.66 541.86,1991.66 544.53,1992.52 547.2,1993.2 549.66,1993.96 551.79,1995.01 553.7,1996.22 555.5,1997.49 557.29,1998.7 559.2,1999.74 561.33,2000.49 563.79,2000.84 566.7,2000.69 570.16,1999.9 574.29,1998.38 579.2,1996 585.16,1992.21 592.24,1986.78 600.2,1980.08 608.83,1972.5 617.9,1964.4 627.2,1956.16 636.5,1948.17 645.57,1940.79 654.2,1934.41 662.16,1929.4 669.24,1926.14 675.2,1925 680.11,1926.27 684.24,1929.71 687.7,1934.94 690.61,1941.55 693.07,1949.15 695.2,1957.36 697.11,1965.78 698.9,1974.01 700.7,1981.66 702.61,1988.34 704.74,1993.65 707.2,1997.2 709.87,1999.19 712.53,2000.18 715.2,2000.3 717.87,1999.7 720.53,1998.53 723.2,1996.91 725.87,1995 728.53,1992.94 731.2,1990.87 733.87,1988.92 736.53,1987.25 739.2,1986 741.87,1984.88 744.53,1983.55 747.2,1982.08 749.87,1980.53 752.53,1978.98 755.2,1977.48 757.87,1976.09 760.53,1974.89 763.2,1973.93 765.87,1973.29 768.53,1973.03 771.2,1973.2 773.87,1973.97 776.53,1975.37 779.2,1977.26 781.87,1979.53 784.53,1982.04 787.2,1984.68 789.87,1987.31 792.53,1989.81 795.2,1992.05 797.87,1993.92 800.53,1995.28 803.2,1996 805.87,1996.09 808.53,1995.67 811.2,1994.82 813.87,1993.64 816.53,1992.21 819.2,1990.6 821.87,1988.9 824.53,1987.2 827.2,1985.57 829.87,1984.11 832.53,1982.89 835.2,1982 837.87,1981.34 840.53,1980.75 843.2,1980.24 845.87,1979.81 848.53,1979.45 851.2,1979.18 853.87,1978.98 856.53,1978.86 859.2,1978.82 861.87,1978.87 864.53,1978.99 867.2,1979.2 869.87,1979.53 872.53,1979.99 875.2,1980.58 877.87,1981.26 880.53,1982.02 883.2,1982.85 885.87,1983.72 888.53,1984.61 891.2,1985.5 893.87,1986.38 896.53,1987.22 899.2,1988 901.87,1988.79 904.53,1989.66 907.2,1990.58 909.87,1991.53 912.53,1992.47 915.2,1993.4 917.87,1994.28 920.53,1995.1 923.2,1995.82 925.87,1996.43 928.53,1996.89 931.2,1997.2 933.97,1997.32 936.9,1997.25 939.95,1997.03 943.05,1996.7 946.15,1996.27 949.2,1995.78 952.14,1995.25 954.9,1994.73 957.45,1994.23 959.72,1993.79 961.65,1993.44 963.2,1993.2" fill="none" stroke="#777" stroke-width="1.1" stroke-linejoin="round" stroke-linecap="round" />
<circle cx="99.3" cy="1809.4" r="5.3" fill="#000"/>
<circle cx="131.6" cy="1943.7" r="5.3" fill="#000"/>
<circle cx="163.6" cy="1795.5" r="5.3" fill="#000"/>
<circle cx="195.5" cy="1764.8" r="5.3" fill="#000"/>
<circle cx="227.5" cy="1765.5" r="5.3" fill="#000"/>
<circle cx="259.4" cy="1865.6" r="5.3" fill="#000"/>
<circle cx="291.4" cy="1864" r="5.3" fill="#000"/>
<circle cx="323.3" cy="1943" r="5.3" fill="#000"/>
<circle cx="355.3" cy="1914" r="5.3" fill="#000"/>
<circle cx="387.6" cy="1944" r="5.3" fill="#000"/>
<circle cx="419.5" cy="1923.3" r="5.3" fill="#000"/>
<circle cx="451.5" cy="1913" r="5.3" fill="#000"/>
<circle cx="483.4" cy="1923.7" r="5.3" fill="#000"/>
<circle cx="515.2" cy="1913.2" r="5.3" fill="#000"/>
<circle cx="547.2" cy="1924.8" r="5.3" fill="#000"/>
<circle cx="579.2" cy="1929" r="5.3" fill="#000"/>
<circle cx="675.2" cy="1929" r="5.3" fill="#000"/>
<circle cx="707.2" cy="1933.2" r="5.3" fill="#000"/>
<circle cx="739.2" cy="1933.2" r="5.3" fill="#000"/>
<circle cx="771.2" cy="1931" r="5.3" fill="#000"/>
<circle cx="803.2" cy="1930.4" r="5.3" fill="#000"/>
<circle cx="835.2" cy="1931.2" r="5.3" fill="#000"/>
<circle cx="867.2" cy="1934" r="5.3" fill="#000"/>
<circle cx="899.2" cy="1932.4" r="5.3" fill="#000"/>
<circle cx="931.2" cy="1938" r="5.3" fill="#000"/>
<circle cx="963.2" cy="1936" r="5.3" fill="#000"/>
<rect x="96" y="1938.6" width="8" height="8" fill="#8b1a1a"/>
<rect x="127.6" y="1721.5" width="8" height="8" fill="#8b1a1a"/>
<rect x="159.6" y="1696" width="8" height="8" fill="#8b1a1a"/>
<rect x="223.5" y="1865.5" width="8" height="8" fill="#8b1a1a"/>
<rect x="255.4" y="1923.2" width="8" height="8" fill="#8b1a1a"/>
<rect x="287.4" y="1957" width="8" height="8" fill="#8b1a1a"/>
<rect x="319.3" y="1987.8" width="8" height="8" fill="#8b1a1a"/>
<rect x="351.3" y="1950" width="8" height="8" fill="#8b1a1a"/>
<rect x="383.6" y="1982.8" width="8" height="8" fill="#8b1a1a"/>
<rect x="415.5" y="1988.6" width="8" height="8" fill="#8b1a1a"/>
<rect x="447.5" y="1965.5" width="8" height="8" fill="#8b1a1a"/>
<rect x="479.4" y="1981" width="8" height="8" fill="#8b1a1a"/>
<rect x="511.2" y="1978" width="8" height="8" fill="#8b1a1a"/>
<rect x="543.2" y="1989.2" width="8" height="8" fill="#8b1a1a"/>
<rect x="575.2" y="1992" width="8" height="8" fill="#8b1a1a"/>
<rect x="671.2" y="1921" width="8" height="8" fill="#8b1a1a"/>
<rect x="703.2" y="1993.2" width="8" height="8" fill="#8b1a1a"/>
<rect x="735.2" y="1982" width="8" height="8" fill="#8b1a1a"/>
<rect x="767.2" y="1969.2" width="8" height="8" fill="#8b1a1a"/>
<rect x="799.2" y="1992" width="8" height="8" fill="#8b1a1a"/>
<rect x="831.2" y="1978" width="8" height="8" fill="#8b1a1a"/>
<rect x="863.2" y="1975.2" width="8" height="8" fill="#8b1a1a"/>
<rect x="895.2" y="1984" width="8" height="8" fill="#8b1a1a"/>
<rect x="927.2" y="1993.2" width="8" height="8" fill="#8b1a1a"/>
<rect x="959.2" y="1989.2" width="8" height="8" fill="#8b1a1a"/>
<rect x="84.0" y="1591.5" width="895.3" height="416.0" fill="none" stroke="#000" stroke-width="3"/>
<line x1="99.6" y1="2007.5" x2="99.6" y2="1999.7" stroke="#000" stroke-width="3" />
<line x1="163.6" y1="2007.5" x2="163.6" y2="1999.7" stroke="#000" stroke-width="3" />
<line x1="227.6" y1="2007.5" x2="227.6" y2="1999.7" stroke="#000" stroke-width="3" />
<line x1="291.6" y1="2007.5" x2="291.6" y2="1999.7" stroke="#000" stroke-width="3" />
<line x1="355.6" y1="2007.5" x2="355.6" y2="1999.7" stroke="#000" stroke-width="3" />
<line x1="419.6" y1="2007.5" x2="419.6" y2="1999.7" stroke="#000" stroke-width="3" />
<line x1="483.6" y1="2007.5" x2="483.6" y2="1999.7" stroke="#000" stroke-width="3" />
<line x1="547.6" y1="2007.5" x2="547.6" y2="1999.7" stroke="#000" stroke-width="3" />
<line x1="611.6" y1="2007.5" x2="611.6" y2="1999.7" stroke="#000" stroke-width="3" />
<line x1="675.6" y1="2007.5" x2="675.6" y2="1999.7" stroke="#000" stroke-width="3" />
<line x1="739.6" y1="2007.5" x2="739.6" y2="1999.7" stroke="#000" stroke-width="3" />
<line x1="803.6" y1="2007.5" x2="803.6" y2="1999.7" stroke="#000" stroke-width="3" />
<line x1="867.6" y1="2007.5" x2="867.6" y2="1999.7" stroke="#000" stroke-width="3" />
<line x1="931.6" y1="2007.5" x2="931.6" y2="1999.7" stroke="#000" stroke-width="3" />
<line x1="131.6" y1="2007.5" x2="131.6" y2="2003.3" stroke="#000" stroke-width="3" />
<line x1="195.6" y1="2007.5" x2="195.6" y2="2003.3" stroke="#000" stroke-width="3" />
<line x1="259.6" y1="2007.5" x2="259.6" y2="2003.3" stroke="#000" stroke-width="3" />
<line x1="323.6" y1="2007.5" x2="323.6" y2="2003.3" stroke="#000" stroke-width="3" />
<line x1="387.6" y1="2007.5" x2="387.6" y2="2003.3" stroke="#000" stroke-width="3" />
<line x1="451.6" y1="2007.5" x2="451.6" y2="2003.3" stroke="#000" stroke-width="3" />
<line x1="515.6" y1="2007.5" x2="515.6" y2="2003.3" stroke="#000" stroke-width="3" />
<line x1="579.6" y1="2007.5" x2="579.6" y2="2003.3" stroke="#000" stroke-width="3" />
<line x1="643.6" y1="2007.5" x2="643.6" y2="2003.3" stroke="#000" stroke-width="3" />
<line x1="707.6" y1="2007.5" x2="707.6" y2="2003.3" stroke="#000" stroke-width="3" />
<line x1="771.6" y1="2007.5" x2="771.6" y2="2003.3" stroke="#000" stroke-width="3" />
<line x1="835.6" y1="2007.5" x2="835.6" y2="2003.3" stroke="#000" stroke-width="3" />
<line x1="899.6" y1="2007.5" x2="899.6" y2="2003.3" stroke="#000" stroke-width="3" />
<line x1="963.6" y1="2007.5" x2="963.6" y2="2003.3" stroke="#000" stroke-width="3" />
<line x1="84" y1="1695.5" x2="91.8" y2="1695.5" stroke="#000" stroke-width="3" />
<line x1="84" y1="1799.5" x2="91.8" y2="1799.5" stroke="#000" stroke-width="3" />
<line x1="84" y1="1903.5" x2="91.8" y2="1903.5" stroke="#000" stroke-width="3" />
<line x1="84" y1="1643.5" x2="88.2" y2="1643.5" stroke="#000" stroke-width="3" />
<line x1="84" y1="1747.5" x2="88.2" y2="1747.5" stroke="#000" stroke-width="3" />
<line x1="84" y1="1851.5" x2="88.2" y2="1851.5" stroke="#000" stroke-width="3" />
<line x1="84" y1="1955.5" x2="88.2" y2="1955.5" stroke="#000" stroke-width="3" />
<text x="74.5" y="1600" font-family="Liberation Serif" font-size="25" font-weight="bold" fill="#000" text-anchor="end" >16</text>
<text x="74.5" y="1704" font-family="Liberation Serif" font-size="25" font-weight="bold" fill="#000" text-anchor="end" >12</text>
<text x="74.5" y="1808" font-family="Liberation Serif" font-size="25" font-weight="bold" fill="#000" text-anchor="end" >8</text>
<text x="74.5" y="1912" font-family="Liberation Serif" font-size="25" font-weight="bold" fill="#000" text-anchor="end" >4</text>
<text x="74.5" y="2016" font-family="Liberation Serif" font-size="25" font-weight="bold" fill="#000" text-anchor="end" >0</text>
<line x1="979.3" y1="1674.7" x2="971.5" y2="1674.7" stroke="#000" stroke-width="3" />
<line x1="979.3" y1="1757.9" x2="971.5" y2="1757.9" stroke="#000" stroke-width="3" />
<line x1="979.3" y1="1841.1" x2="971.5" y2="1841.1" stroke="#000" stroke-width="3" />
<line x1="979.3" y1="1924.3" x2="971.5" y2="1924.3" stroke="#000" stroke-width="3" />
<line x1="979.3" y1="1633.1" x2="975.1" y2="1633.1" stroke="#000" stroke-width="3" />
<line x1="979.3" y1="1716.3" x2="975.1" y2="1716.3" stroke="#000" stroke-width="3" />
<line x1="979.3" y1="1799.5" x2="975.1" y2="1799.5" stroke="#000" stroke-width="3" />
<line x1="979.3" y1="1882.7" x2="975.1" y2="1882.7" stroke="#000" stroke-width="3" />
<line x1="979.3" y1="1965.9" x2="975.1" y2="1965.9" stroke="#000" stroke-width="3" />
<text x="988" y="1600" font-family="Liberation Serif" font-size="25" font-weight="bold" fill="#000" text-anchor="start" >50000</text>
<text x="988" y="1683.2" font-family="Liberation Serif" font-size="25" font-weight="bold" fill="#000" text-anchor="start" >40000</text>
<text x="988" y="1766.4" font-family="Liberation Serif" font-size="25" font-weight="bold" fill="#000" text-anchor="start" >30000</text>
<text x="988" y="1849.6" font-family="Liberation Serif" font-size="25" font-weight="bold" fill="#000" text-anchor="start" >20000</text>
<text x="988" y="1932.8" font-family="Liberation Serif" font-size="25" font-weight="bold" fill="#000" text-anchor="start" >10000</text>
<text x="988" y="2016" font-family="Liberation Serif" font-size="25" font-weight="bold" fill="#000" text-anchor="start" >0</text>
<line x1="1138.8" y1="1591.5" x2="1138.8" y2="2009" stroke="#000" stroke-width="3" />
<line x1="1138.8" y1="1592.2" x2="1131" y2="1592.2" stroke="#000" stroke-width="3" />
<line x1="1138.8" y1="1711" x2="1131" y2="1711" stroke="#000" stroke-width="3" />
<line x1="1138.8" y1="1829.8" x2="1131" y2="1829.8" stroke="#000" stroke-width="3" />
<line x1="1138.8" y1="1948.6" x2="1131" y2="1948.6" stroke="#000" stroke-width="3" />
<line x1="1138.8" y1="1651.6" x2="1134.6" y2="1651.6" stroke="#000" stroke-width="3" />
<line x1="1138.8" y1="1770.4" x2="1134.6" y2="1770.4" stroke="#000" stroke-width="3" />
<line x1="1138.8" y1="1889.2" x2="1134.6" y2="1889.2" stroke="#000" stroke-width="3" />
<line x1="1138.8" y1="2008" x2="1134.6" y2="2008" stroke="#000" stroke-width="3" />
<text x="1150" y="1600.7" font-family="Liberation Serif" font-size="25" font-weight="bold" fill="#000" text-anchor="start" >1.2</text>
<text x="1150" y="1719.5" font-family="Liberation Serif" font-size="25" font-weight="bold" fill="#000" text-anchor="start" >0.8</text>
<text x="1150" y="1838.3" font-family="Liberation Serif" font-size="25" font-weight="bold" fill="#000" text-anchor="start" >0.4</text>
<text x="1150" y="1957.1" font-family="Liberation Serif" font-size="25" font-weight="bold" fill="#000" text-anchor="start" >0.0</text>
<text x="99.6" y="2036.5" font-family="Liberation Serif" font-size="25" font-weight="bold" fill="#000" text-anchor="middle" >40</text>
<text x="163.6" y="2036.5" font-family="Liberation Serif" font-size="25" font-weight="bold" fill="#000" text-anchor="middle" >38</text>
<text x="227.6" y="2036.5" font-family="Liberation Serif" font-size="25" font-weight="bold" fill="#000" text-anchor="middle" >36</text>
<text x="291.6" y="2036.5" font-family="Liberation Serif" font-size="25" font-weight="bold" fill="#000" text-anchor="middle" >34</text>
<text x="355.6" y="2036.5" font-family="Liberation Serif" font-size="25" font-weight="bold" fill="#000" text-anchor="middle" >32</text>
<text x="419.6" y="2036.5" font-family="Liberation Serif" font-size="25" font-weight="bold" fill="#000" text-anchor="middle" >30</text>
<text x="483.6" y="2036.5" font-family="Liberation Serif" font-size="25" font-weight="bold" fill="#000" text-anchor="middle" >28</text>
<text x="547.6" y="2036.5" font-family="Liberation Serif" font-size="25" font-weight="bold" fill="#000" text-anchor="middle" >26</text>
<text x="611.6" y="2036.5" font-family="Liberation Serif" font-size="25" font-weight="bold" fill="#000" text-anchor="middle" >24</text>
<text x="675.6" y="2036.5" font-family="Liberation Serif" font-size="25" font-weight="bold" fill="#000" text-anchor="middle" >22</text>
<text x="739.6" y="2036.5" font-family="Liberation Serif" font-size="25" font-weight="bold" fill="#000" text-anchor="middle" >20</text>
<text x="803.6" y="2036.5" font-family="Liberation Serif" font-size="25" font-weight="bold" fill="#000" text-anchor="middle" >18</text>
<text x="867.6" y="2036.5" font-family="Liberation Serif" font-size="25" font-weight="bold" fill="#000" text-anchor="middle" >16</text>
<text x="931.6" y="2036.5" font-family="Liberation Serif" font-size="25" font-weight="bold" fill="#000" text-anchor="middle" >14</text>
<text x="530.5" y="2081" font-family="Liberation Serif" font-size="25" font-weight="bold" fill="#000" text-anchor="middle" >Latitude (°N)</text>
<text x="130.5" y="1621.7" font-family="Liberation Sans" font-size="30" font-weight="bold" fill="#000" text-anchor="start" >F</text>
<rect x="488" y="1611" width="57" height="28" fill="url(#hatch)"/>
<text x="552" y="1633.5" font-family="Liberation Serif" font-size="25.3" font-weight="bold" fill="#000" text-anchor="start" >Ratio of diatoms to dinoflagellates</text>
<line x1="487.5" y1="1657" x2="505.5" y2="1657" stroke="#777" stroke-width="1.1" />
<line x1="527.5" y1="1657" x2="545.5" y2="1657" stroke="#777" stroke-width="1.1" />
<circle cx="516.5" cy="1657" r="8" fill="#000"/>
<text x="552" y="1665.3" font-family="Liberation Serif" font-size="25.3" font-weight="bold">Discrete Chl-<tspan font-style="italic">a</tspan></text>
<line x1="487.5" y1="1689" x2="505.5" y2="1689" stroke="#777" stroke-width="1.1" />
<line x1="527.5" y1="1689" x2="545.5" y2="1689" stroke="#777" stroke-width="1.1" />
<rect x="509.25" y="1681.75" width="14.5" height="14.5" fill="#8b1a1a"/>
<text x="552" y="1697.5" font-family="Liberation Serif" font-size="25.3" font-weight="bold" fill="#000" text-anchor="start" >Phytoplankton abundance</text>
<text transform="translate(30.8,1803) rotate(-90)" x="0" y="0" font-family="Liberation Serif" font-size="27" font-weight="bold" fill="#000" text-anchor="middle" textLength="400" lengthAdjust="spacing">Ratio of diatoms to dinoflagellates</text>
<text transform="translate(1095.8,1812.5) rotate(-90)" x="0" y="0" font-family="Liberation Serif" font-size="27" font-weight="bold" fill="#000" text-anchor="middle" textLength="423" lengthAdjust="spacing">Phytoplankton abundance (cells L<tspan font-size="17" dy="-11">-1</tspan><tspan dy="11">)</tspan></text>
<text transform="translate(1225,1800.35) rotate(-90)" x="0" y="0" font-family="Liberation Serif" font-size="27" font-weight="bold" fill="#1a9040" text-anchor="middle" textLength="160.7" lengthAdjust="spacing">Chl-<tspan font-style="italic">a</tspan> (μg L<tspan font-size="17" dy="-11">-1</tspan><tspan dy="11">)</tspan></text>
</svg></body></html>
